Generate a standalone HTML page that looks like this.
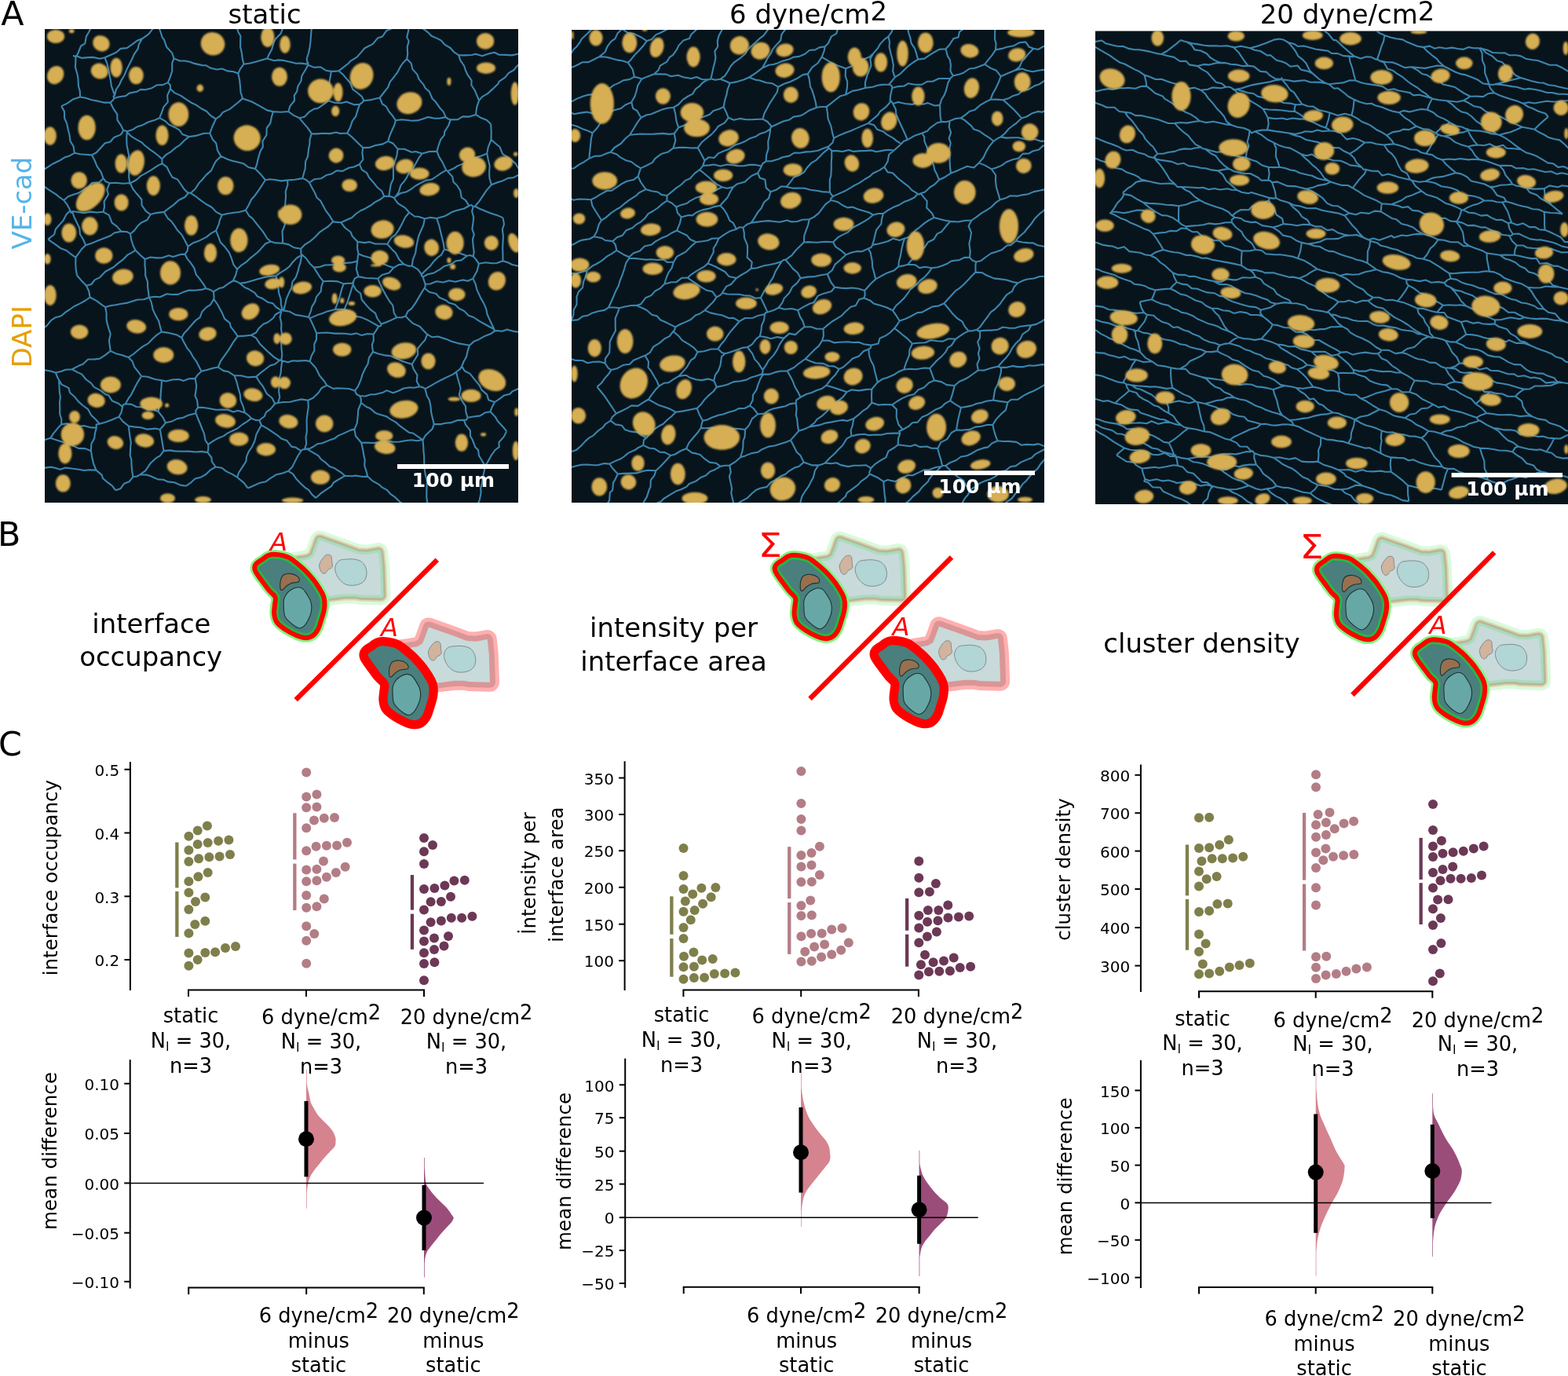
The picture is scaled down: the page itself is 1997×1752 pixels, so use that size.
<!DOCTYPE html>
<html><head><meta charset="utf-8"><title>Figure</title>
<style>
html,body{margin:0;padding:0;background:#fff;}
body{width:1997px;height:1752px;overflow:hidden;}
svg{display:block;font-family:'DejaVu Sans', 'Liberation Sans', sans-serif;}
</style></head><body>
<svg width="1997" height="1752" viewBox="0 0 1997 1752">
<rect width="1997" height="1752" fill="#fff"/>
<text x="1.2" y="31.9" font-size="42.8" text-anchor="start" fill="#000" >A</text>
<text x="337.0" y="29.7" font-size="33.9" text-anchor="middle" fill="#000" >static</text>
<text x="1029.5" y="29.7" font-size="33.9" text-anchor="middle">6 dyne/cm<tspan dy="-3.7">2</tspan></text>
<text x="1716" y="29.7" font-size="33.9" text-anchor="middle">20 dyne/cm<tspan dy="-3.7">2</tspan></text>
<text transform="translate(39.5,258.5) rotate(-90)" font-size="33.9" text-anchor="middle" fill="#56B4E9" >VE-cad</text>
<text transform="translate(39.5,428.6) rotate(-90)" font-size="33.9" text-anchor="middle" fill="#E69F00" >DAPI</text>
<defs><filter id="soft" x="-20%" y="-20%" width="140%" height="140%"><feGaussianBlur stdDeviation="0.9"/></filter><filter id="softl" x="-5%" y="-5%" width="110%" height="110%"><feGaussianBlur stdDeviation="0.6"/></filter></defs>
<clipPath id="clipA0"><rect x="57" y="37" width="603" height="603"/></clipPath>
<rect x="57" y="37" width="603" height="603" fill="#08141b"/>
<g clip-path="url(#clipA0)">
<path d="M310.5,81.7 L306.1,87.6 L303.3,93.5 M303.3,93.5 L297.4,91.3 L289.6,90.4 L282.9,87.5 L276.1,88.5 L267.7,86.4 L262.5,83.3 L257.6,83.1 L247.5,80.9 L242.5,79.0 L235.8,77.5 L228.9,77.5 L221.5,74.4 M310.5,81.7 L308.8,75.0 L308.0,67.9 L306.2,60.3 L306.1,54.8 L306.4,45.7 L303.4,40.7 L301.2,32.7 L302.0,27.4 L301.8,18.9 L299.7,12.1 L300.5,5.0 L297.6,-1.2 L296.8,-8.7 L294.7,-15.4 L294.3,-21.2 L294.4,-29.3 L293.4,-36.6 L292.7,-43.2 L291.2,-51.4 L289.9,-58.7 L286.5,-64.3 L286.5,-70.8 L288.6,-78.7 L284.7,-84.6 L284.8,-91.9 L283.0,-98.0 L282.7,-106.6 L281.1,-112.5 L279.0,-119.2 L278.2,-125.5 L278.2,-133.3 L276.4,-140.4 L273.9,-148.4 L275.2,-156.3 L274.6,-162.9 L273.5,-168.9 L272.5,-174.9 L269.1,-180.7 L271.0,-188.9 L268.3,-196.0 L266.5,-201.6 L265.9,-209.7 L264.6,-217.2 L263.1,-222.3 L263.1,-229.5 L262.3,-238.1 L260.9,-244.9 L260.2,-251.7 L258.8,-259.6 L257.2,-263.5 L256.3,-273.2 L256.3,-277.6 L253.5,-286.2 L253.2,-294.7 L253.5,-299.9 L251.8,-307.5 L251.2,-314.3 L249.5,-321.8 L247.4,-326.3 L247.1,-334.3 L246.5,-341.9 L245.0,-347.8 L244.1,-355.5 L243.4,-361.1 L243.0,-368.8 L240.7,-377.5 L241.2,-382.1 L239.0,-389.5 L238.9,-396.1 L238.0,-404.4 L237.5,-412.1 L235.8,-417.3 L233.9,-424.7 M200.8,-128.3 L201.6,-119.1 L202.2,-114.8 L199.0,-105.5 L199.7,-99.1 L201.5,-93.4 L198.5,-84.2 L200.6,-77.4 L200.6,-70.7 L199.0,-62.7 L199.5,-56.9 L200.9,-48.0 L200.8,-41.6 L199.7,-34.3 L199.5,-25.8 L199.5,-18.4 L200.6,-9.4 L198.9,-3.2 L200.1,3.2 L198.7,10.1 L200.9,17.7 L200.2,24.8 L200.1,32.4 M221.5,74.4 L219.1,67.4 L212.1,59.7 L208.8,50.2 L206.7,47.8 L203.7,38.3 L200.1,32.4 M216.9,113.0 L222.5,118.4 L230.0,121.6 L236.2,125.9 L243.5,130.7 L249.4,133.4 L256.1,138.0 L263.1,141.7 L268.3,147.2 L274.9,151.5 M309.0,125.4 L302.0,131.5 L299.1,133.7 L292.7,138.9 L283.7,143.1 L280.5,147.3 L274.9,151.5 M309.0,125.4 L306.5,117.2 L306.0,110.7 L305.1,101.5 L303.3,93.5 M216.9,113.0 L216.9,108.5 L213.9,105.1 M221.5,74.4 L219.2,80.3 L219.2,90.7 L216.7,98.1 L213.9,105.1 M640.4,332.2 L640.5,324.5 L640.1,316.3 L640.4,310.1 L640.9,300.6 L639.8,292.2 L642.0,285.4 L640.4,277.1 M640.4,332.2 L647.0,334.3 L652.4,337.0 L661.0,339.1 L666.4,341.7 L673.3,342.7 L679.6,345.9 L687.3,348.4 L693.5,353.1 L699.2,353.4 L706.3,356.4 L711.7,359.3 L721.2,361.0 L725.6,362.7 L732.7,364.9 L737.8,369.9 L744.6,372.1 L753.6,373.7 L759.2,377.8 L765.0,377.7 L770.4,380.7 L779.8,384.1 L784.0,384.7 L791.0,388.3 L797.9,390.6 L804.9,392.5 L811.2,395.4 L817.7,398.2 L826.2,400.7 L831.0,400.8 L837.9,403.0 L842.6,408.2 L851.3,409.6 L855.5,411.8 L863.8,414.6 M267.3,169.6 L270.4,161.2 L274.9,151.5 M309.0,125.4 L317.7,128.4 L321.1,129.8 L328.3,133.6 L333.7,136.6 L340.1,140.4 L347.8,142.1 M281.4,198.9 L289.7,202.7 L295.5,204.8 L303.1,206.5 L310.2,208.3 L316.4,213.0 L325.1,214.9 M267.3,169.6 L270.6,177.2 L275.3,182.5 L277.1,191.8 L281.4,198.9 M347.8,142.1 L345.9,149.0 L344.3,156.8 L339.7,163.0 L339.5,171.7 L334.5,179.8 L334.8,187.1 L331.5,192.8 L328.5,202.9 L327.2,209.2 L325.1,214.9 M360.1,309.7 L360.0,302.6 L359.5,294.7 L362.7,286.5 L363.3,280.8 L361.8,272.7 L362.9,265.9 L363.4,257.8 L364.1,250.3 L363.7,244.0 L366.4,235.2 L366.1,229.4 M360.1,309.7 L367.8,311.4 L374.5,315.3 L383.2,316.8 M424.3,282.1 L417.9,288.5 L411.8,292.4 L406.5,296.2 L401.4,301.7 L395.6,306.8 L388.0,311.7 L383.2,316.8 M394.0,232.5 L397.8,239.7 L400.7,244.9 L403.6,251.8 L408.1,255.5 L412.9,264.6 L415.2,268.6 L419.8,274.7 L424.3,282.1 M394.0,232.5 L390.0,229.0 L385.3,227.1 M385.3,227.1 L375.0,228.8 L366.1,229.4 M312.9,267.7 L316.4,261.8 L320.3,253.7 L323.6,250.3 L329.3,242.3 L333.7,235.8 L337.9,229.2 M344.9,307.5 L340.4,303.7 L334.7,294.6 L330.2,289.1 L327.4,285.6 L321.1,277.7 L317.2,274.8 L312.9,267.7 M344.9,307.5 L349.6,309.1 L360.1,309.7 M366.1,229.4 L358.0,230.4 L350.9,229.0 L343.5,228.3 L337.9,229.2 M410.5,-59.3 L411.0,-51.4 L408.2,-46.0 L405.8,-38.5 L406.7,-31.1 L405.7,-25.1 L404.8,-17.0 L405.3,-8.1 L402.9,-3.6 L402.0,3.6 L400.4,11.2 L399.2,18.9 L399.2,25.6 L398.2,31.6 L396.5,39.2 L395.9,46.7 L395.5,52.2 L394.7,59.2 L393.1,67.3 L390.7,74.8 L391.8,81.7 M410.5,-59.3 L407.3,-53.0 L403.4,-46.9 L399.5,-40.4 L396.5,-33.7 L392.5,-27.2 L390.5,-21.2 L386.6,-14.1 L382.0,-7.8 L380.6,-1.6 L377.3,3.8 L373.3,11.5 L370.7,17.4 L365.4,24.1 L364.7,31.0 L360.4,34.8 L357.8,42.5 L351.0,49.4 L348.6,54.1 L346.1,63.1 L343.1,68.5 L340.1,74.6 M340.1,74.6 L349.2,77.2 L354.7,76.4 L361.0,76.9 L370.1,79.0 L377.1,80.7 L383.6,80.6 L391.8,81.7 M310.5,81.7 L318.6,80.5 L326.4,78.5 L332.4,76.7 L340.1,74.6 M394.0,232.5 L400.1,228.3 L408.8,227.3 L415.6,223.1 L422.0,221.6 L428.6,217.3 L436.3,217.9 L444.1,213.8 L450.8,212.5 L457.9,209.2 M434.3,283.3 L426.6,282.6 L424.3,282.1 M434.3,283.3 L441.0,280.3 L448.3,277.0 L453.0,272.5 L459.6,268.0 L464.9,265.7 L473.0,261.0 L477.1,257.6 L484.6,253.7 L489.3,250.0 M489.3,250.0 L486.3,243.2 L480.2,238.2 L476.7,233.6 L469.9,225.8 L467.2,220.2 L460.9,216.1 L457.9,209.2 M602.4,354.6 L605.6,361.6 L607.3,368.6 L610.3,375.1 L612.3,379.6 L616.2,386.3 L619.3,393.7 L620.5,400.0 L623.7,407.3 L626.2,412.5 L629.5,419.4 M602.4,354.6 L596.0,357.7 L589.2,356.4 L579.8,358.8 L571.9,357.2 L564.5,359.5 L556.0,358.3 L547.8,361.5 L541.6,361.8 M629.5,419.4 L622.4,415.5 L617.0,412.5 L610.1,408.6 L603.2,404.0 L596.7,401.7 L591.4,396.1 L584.7,392.8 L579.4,387.7 L571.3,385.2 L568.5,382.7 L559.6,378.7 L555.4,374.0 L546.6,371.7 L540.6,366.8 M541.6,361.8 L541.6,364.9 L540.6,366.8 M630.6,420.9 L629.6,422.1 L629.5,419.4 M630.6,420.9 L639.6,421.8 L645.8,419.4 L653.0,421.6 L660.0,422.7 L666.5,420.6 L674.4,421.9 L681.0,422.3 L688.2,420.9 L697.0,423.7 L704.2,425.7 L710.3,422.2 L716.6,423.1 L724.3,424.6 L730.0,425.2 L737.7,425.4 L746.4,425.1 L753.7,425.2 L760.4,424.3 L768.2,426.3 M640.4,332.2 L632.7,335.0 L627.1,335.3 L618.2,334.2 L609.9,335.8 M609.9,335.8 L607.6,345.1 L602.4,354.6 M541.6,361.8 L540.0,356.9 L538.5,352.6 M609.9,335.8 L606.4,330.6 L602.7,326.4 M602.7,326.4 L598.7,325.0 L594.9,325.7 M594.9,325.7 L587.4,331.4 L580.7,332.2 L574.3,336.5 L565.6,339.0 L560.5,342.8 L552.7,347.4 L544.9,349.3 L538.5,352.6 M200.8,-128.3 L197.1,-120.5 L192.4,-116.5 L190.6,-108.9 L188.5,-101.9 L183.1,-96.3 L181.2,-91.5 L178.8,-85.5 L172.9,-78.7 L170.3,-72.8 L169.0,-65.6 L166.9,-59.8 L160.6,-54.1 L158.0,-48.4 L156.1,-41.6 L150.5,-34.0 L149.1,-28.1 L146.1,-21.6 L142.8,-14.7 L140.0,-9.3 L136.8,-4.9 L133.0,2.5 L130.1,7.7 L128.3,15.4 L122.3,19.8 L120.0,27.6 L116.3,34.1 L113.2,40.8 L109.9,46.4 L108.3,55.3 L103.1,58.5 L100.1,66.0 L97.7,71.4 M92.9,71.1 L93.5,71.1 L96.4,72.2 M97.7,71.4 L97.0,70.8 L96.4,72.2 M96.4,72.2 L96.3,79.0 L95.9,85.4 L98.4,94.3 L99.4,99.7 L100.0,109.7 L101.8,116.1 L102.0,123.5 M78.1,135.1 L85.2,131.9 L93.5,126.2 L102.0,123.5 M140.5,130.5 L132.0,130.6 L125.3,128.9 L116.9,127.3 L109.1,124.8 L102.0,123.5 M157.2,166.2 L153.9,171.4 L145.2,175.0 L140.2,180.8 L133.7,182.3 L128.1,188.5 L122.7,194.3 L116.9,197.4 M157.2,166.2 L154.2,159.9 L149.4,152.8 L149.3,145.6 L144.1,137.8 L140.5,130.5 M78.1,135.1 L81.9,141.6 L82.1,150.5 L85.1,157.1 L86.7,164.7 L88.6,172.3 L89.5,179.8 L93.6,186.4 L94.8,194.8 M94.8,194.8 L101.9,196.3 L108.4,196.7 L116.9,197.4 M216.9,113.0 L213.1,121.6 L213.8,129.9 L208.5,136.1 L206.1,142.9 L203.2,150.2 M267.3,169.6 L259.9,169.8 L250.6,172.6 L240.6,174.1 M203.2,150.2 L210.8,154.4 L215.0,158.5 L222.7,162.2 L228.6,165.6 L232.3,171.0 L240.6,174.1 M145.5,124.9 L143.7,127.8 L140.5,130.5 M213.9,105.1 L207.1,108.1 L199.8,108.3 L193.2,112.2 L185.1,114.2 L179.1,113.9 L174.1,116.8 L164.7,118.6 L160.1,122.1 L151.9,123.3 L145.5,124.9 M157.2,166.2 L159.9,166.2 L161.1,167.6 M203.2,150.2 L196.5,153.1 L188.6,155.5 L182.2,158.9 L174.6,161.4 L169.2,164.9 L161.1,167.6 M184.6,329.9 L179.4,325.5 L172.6,318.7 M110.0,363.8 L116.3,362.0 L120.6,356.4 L126.8,353.4 L134.5,345.5 L137.5,344.0 L144.9,340.0 L149.8,335.6 L156.2,330.9 L162.2,324.7 L167.5,321.8 L172.6,318.7 M110.0,363.8 L113.3,371.0 L114.6,378.5 M184.6,329.9 L184.4,337.2 L185.1,342.9 L185.2,350.8 L188.0,358.8 L188.1,365.8 L189.0,371.6 L189.7,378.7 M189.7,378.7 L183.3,381.3 L175.5,381.5 L168.7,383.4 L161.0,385.9 L154.6,386.8 L147.2,388.3 L141.4,389.0 L134.1,391.0 M114.6,378.5 L123.1,383.1 L129.4,387.8 L134.1,391.0 M98.1,350.7 L103.4,356.9 L110.0,363.8 M114.6,378.5 L109.0,382.5 L102.6,386.1 L94.6,390.0 L88.2,394.5 L83.6,397.4 L78.0,402.3 L70.8,404.2 L65.1,407.8 L59.1,415.3 L52.9,418.3 L46.6,421.9 L41.5,425.4 L36.4,431.1 L29.9,433.4 L22.7,437.8 L17.4,441.9 L11.5,446.8 L3.5,448.6 L-0.6,452.8 M147.0,624.2 L143.0,618.7 L136.4,613.7 L130.9,609.0 L129.8,604.9 L122.5,598.6 M-17.0,590.9 L-10.8,590.5 L-2.7,592.7 L4.2,591.5 L13.3,593.4 L19.3,591.8 L25.5,592.7 L32.2,594.5 L41.1,594.7 L50.9,595.8 L55.2,595.9 L64.9,594.6 L70.1,595.7 L76.8,597.7 L83.4,595.5 L92.8,596.8 L100.6,597.7 L107.6,599.0 L113.0,598.2 L122.5,598.6 M-17.0,590.9 L-10.9,588.3 L-3.2,584.5 L2.7,583.4 L10.4,579.2 L18.9,579.4 L22.1,574.7 L32.9,572.4 L37.4,568.6 L43.4,565.9 L50.1,564.1 L57.0,560.1 L64.2,557.8 M122.5,598.6 L119.1,590.5 L117.2,582.2 L115.9,574.2 M64.2,557.8 L72.6,560.5 L79.5,562.8 L86.4,564.7 L93.5,567.9 L100.1,570.9 L108.6,571.1 L115.9,574.2 M402.3,634.1 L408.0,628.7 L414.8,623.9 L422.0,619.2 L424.7,614.5 L431.2,610.5 L439.3,605.8 M468.1,606.6 L462.0,607.0 L452.4,605.5 L448.3,606.3 L439.3,605.8 M468.1,606.6 L474.1,612.1 L482.6,616.8 L486.3,620.3 L492.8,623.8 L497.2,628.9 L503.3,633.2 L510.4,640.1 L515.5,642.0 L522.2,647.0 L529.5,650.6 L533.6,653.9 L539.6,660.5 L546.5,664.4 M590.2,743.3 L586.6,735.7 L582.5,730.2 L579.7,723.0 L575.4,715.2 L570.8,712.0 L566.1,703.5 L564.9,696.9 L560.3,690.6 L557.4,684.0 L551.9,677.4 L549.3,670.4 L546.5,664.4 M402.3,634.1 L397.5,629.8 L393.2,623.8 L388.2,620.6 L383.4,615.9 L377.1,609.4 L373.0,603.3 L367.2,599.8 M367.2,599.8 L360.0,602.4 L352.1,604.2 L344.2,609.1 L338.6,613.2 L330.3,615.1 L322.2,618.8 L315.7,621.5 M434.3,283.3 L439.4,290.0 L446.6,295.5 L448.7,300.8 L455.4,307.8 M495.3,250.2 L497.1,249.9 L501.8,252.0 M521.2,270.5 L516.0,264.6 L506.7,258.9 L501.8,252.0 M489.3,250.0 L493.6,249.8 L495.3,250.2 M521.2,270.5 L515.9,276.9 L512.2,284.6 L508.4,291.8 L503.8,298.7 L498.6,302.5 L493.3,310.7 M493.3,310.7 L485.6,310.5 L477.8,310.5 L470.2,308.0 L464.4,309.1 L455.4,307.8 M524.6,463.7 L528.1,458.3 L532.2,451.4 L531.9,444.0 L537.2,437.4 L541.1,433.3 L544.1,425.7 M524.6,463.7 L526.6,469.7 L531.5,477.6 L530.7,485.4 L534.4,492.3 M534.4,492.3 L538.4,493.1 L541.5,495.2 M541.5,495.2 L548.9,491.1 L553.8,488.2 L562.1,483.7 L568.3,480.6 L577.4,476.4 L581.1,473.5 M588.2,466.4 L586.0,469.9 L581.1,473.5 M588.2,466.4 L590.5,460.5 L594.0,454.3 L595.9,445.8 L598.0,439.7 M598.0,439.7 L589.8,438.2 L583.2,437.1 L575.3,434.8 L568.7,431.9 L558.0,428.5 L550.4,429.3 L544.1,425.7 M452.0,497.5 L454.1,502.0 L458.0,504.0 M452.0,497.5 L455.9,492.2 L459.6,483.3 L461.7,476.4 L465.3,468.7 L468.4,463.7 L470.0,455.3 L475.0,447.9 M475.0,447.9 L481.2,450.3 L490.0,452.4 L497.0,453.1 L504.4,456.3 L511.1,459.4 L514.9,460.7 L524.6,463.7 M458.0,504.0 L465.2,504.5 L472.2,502.2 L477.4,502.3 L487.6,499.8 L492.5,497.1 L500.5,500.3 L507.3,497.8 L514.1,494.5 L521.8,493.2 L527.2,493.7 L534.4,492.3 M630.6,420.9 L625.0,425.1 L618.0,427.7 L609.8,432.2 L603.8,434.6 L598.0,439.7 M768.2,426.3 L760.9,429.5 L754.3,432.4 L748.5,437.6 L744.6,443.2 L736.7,444.2 L733.1,448.4 L725.8,454.1 L719.8,454.9 L712.8,460.2 L708.4,462.2 L701.1,467.8 L696.7,470.4 L690.7,475.3 L682.3,478.2 L678.5,481.6 L669.9,485.6 L666.8,491.2 L657.8,496.0 L652.9,498.1 L649.2,501.8 L642.1,503.4 L636.6,507.6 L630.0,512.0 M630.0,512.0 L622.2,509.2 L620.2,502.4 L613.4,496.4 L610.7,490.8 L603.8,482.3 L598.4,475.6 L591.7,472.2 L588.2,466.4 M516.5,402.6 L519.5,396.4 L524.4,392.6 L529.9,384.6 L533.8,377.9 L536.3,373.6 L540.6,366.8 M516.5,402.6 L520.8,406.9 L526.2,411.9 L534.7,415.7 L538.8,420.2 L544.1,425.7 M556.2,278.0 L547.4,276.9 L541.0,278.4 M556.2,278.0 L559.6,288.3 L560.6,293.1 L562.7,301.4 L564.8,310.0 L565.9,317.6 M541.0,278.4 L539.3,286.5 L536.4,293.0 L533.2,300.5 L531.4,308.4 L529.9,316.2 L529.2,322.2 L525.9,330.2 L524.7,338.7 M565.9,317.6 L561.9,324.7 L557.2,328.0 L553.0,332.2 L548.2,338.4 L539.1,347.0 L537.0,349.7 M524.7,338.7 L532.4,343.1 L537.0,349.7 M493.3,310.7 L498.7,316.9 L503.9,322.0 L508.3,330.3 L514.2,336.2 M514.2,336.2 L519.7,338.6 L524.7,338.7 M521.2,270.5 L527.9,275.5 L533.7,276.0 L541.0,278.4 M594.9,325.7 L585.7,322.5 L581.7,320.8 L573.7,319.6 L565.9,317.6 M538.5,352.6 L536.7,350.8 L537.0,349.7 M359.8,395.5 L357.9,387.6 L357.7,381.4 L355.0,372.5 L354.5,365.9 L353.8,361.3 L351.4,351.3 M359.8,395.5 L361.2,395.4 L361.0,395.4 M361.0,395.4 L363.2,387.5 L364.8,380.3 L367.6,373.8 L371.1,366.7 L372.4,358.9 L376.6,353.5 L379.1,346.7 L381.1,338.6 L382.7,334.5 L384.3,324.7 M351.4,351.3 L355.7,348.1 L364.1,342.9 L368.6,339.3 L372.6,334.0 L377.9,328.5 L384.3,324.7 M675.1,68.4 L669.0,73.2 L664.4,78.8 L657.4,85.3 L654.6,89.0 L647.6,93.1 L643.2,98.6 L635.5,103.9 L634.8,106.2 L627.4,113.4 L620.8,119.4 L614.3,123.1 L610.1,127.9 M675.1,68.4 L669.0,68.3 L659.5,68.8 L651.9,70.4 L643.9,69.9 L635.9,69.8 L629.5,66.7 L622.1,68.4 L614.0,71.2 L605.8,68.7 L600.8,70.0 L593.4,70.4 L584.2,70.2 M584.2,70.2 L586.2,76.6 L591.2,84.0 L592.9,89.5 L595.6,95.3 L600.6,102.3 L600.3,108.2 L605.1,115.8 L607.1,120.8 L610.1,127.9 M489.7,-397.4 L490.3,-392.1 L489.4,-382.5 L490.8,-375.9 L493.0,-368.6 L492.3,-360.1 L493.4,-355.6 L494.0,-347.8 L492.9,-341.1 L494.1,-336.2 L494.6,-327.4 L494.8,-321.8 L495.4,-313.1 L496.4,-307.2 L497.4,-300.2 L497.0,-290.6 L497.1,-285.5 L499.4,-278.3 L498.5,-270.6 L500.4,-266.1 L498.9,-257.9 L499.2,-250.7 L499.9,-242.5 L500.4,-235.6 L502.2,-229.5 L502.4,-220.0 L503.1,-215.3 L503.2,-208.6 L504.1,-199.7 L503.5,-193.8 L505.9,-187.0 L505.5,-180.6 L505.0,-173.0 L508.5,-165.9 L506.3,-159.0 L507.1,-150.7 L508.0,-142.3 L508.5,-135.9 L509.1,-129.7 L507.9,-123.4 L509.7,-116.5 L508.2,-108.3 L510.4,-102.6 L511.1,-95.4 L512.2,-89.4 L511.4,-80.8 L513.0,-74.5 L512.8,-67.9 L513.8,-58.8 L513.3,-51.5 L515.7,-46.4 L516.1,-40.4 L514.1,-33.2 L515.9,-25.2 L516.3,-17.7 L515.2,-10.3 L516.4,-4.5 L517.9,2.1 L517.5,9.3 L519.3,17.3 M584.2,70.2 L578.6,66.7 L573.5,61.0 L566.5,56.9 L562.0,51.7 L557.2,49.1 L549.5,45.8 L545.6,41.7 L540.0,37.4 L534.5,34.4 L527.5,30.4 L522.0,24.9 M519.3,17.3 L520.8,21.2 L522.0,24.9 M610.1,127.9 L607.2,136.6 L606.0,145.9 M625.2,158.0 L619.6,152.7 L613.1,150.3 L606.0,145.9 M391.8,81.7 L392.4,80.0 L392.4,82.7 M347.8,142.1 L357.4,142.7 L367.3,142.0 M392.4,82.7 L388.8,89.3 L384.4,96.5 L383.4,103.3 L379.4,109.7 L378.2,116.4 L374.7,121.6 L375.1,128.0 L369.4,135.1 L367.3,142.0 M431.3,90.3 L435.8,86.9 L444.0,80.5 L446.1,77.8 L454.4,72.9 L460.0,66.6 L464.2,61.5 L468.4,59.3 L474.7,56.1 L480.9,48.6 L487.1,46.5 L492.3,38.9 L497.7,36.9 L502.3,30.2 L509.4,26.6 L512.7,21.5 L519.3,17.3 M431.3,90.3 L425.9,90.9 L421.9,90.9 M392.4,82.7 L399.9,85.9 L407.9,85.2 L415.0,89.7 L421.9,90.9 M518.2,75.0 L519.2,68.8 L518.7,59.7 L520.7,52.4 L518.2,47.4 L520.2,38.9 L520.0,30.7 L522.0,24.9 M518.2,75.0 L512.7,80.8 L509.9,85.1 L506.0,92.4 L499.9,100.4 L496.6,104.4 L494.2,111.2 L488.3,118.5 L483.7,124.5 M431.3,90.3 L437.3,95.3 L441.5,100.4 L446.2,105.8 L449.3,113.9 L454.5,117.5 L461.0,123.1 L463.4,128.2 M483.7,124.5 L472.7,127.1 L463.4,128.2 M181.0,49.3 L176.6,57.0 L175.8,61.9 L170.8,69.2 L168.3,74.7 L165.6,80.2 L161.4,88.4 L158.4,95.7 L154.3,102.6 L152.1,107.9 L147.8,114.0 L146.0,121.7 M181.0,49.3 L174.6,51.8 L167.5,57.2 L161.7,61.1 L153.6,61.9 L148.1,66.7 L141.4,69.8 L133.5,73.3 M133.5,73.3 L136.5,81.0 L137.8,87.6 L139.2,94.3 L140.8,101.9 L141.9,109.6 L144.1,115.8 L146.0,121.7 M200.1,32.4 L193.6,37.8 L189.4,43.4 L181.0,49.3 M145.5,124.9 L144.5,122.6 L146.0,121.7 M97.7,71.4 L104.5,73.9 L112.2,73.1 L118.2,72.9 L127.0,74.7 L133.5,73.3 M94.8,194.8 L87.6,198.8 L82.1,200.6 L75.3,204.8 L66.5,209.0 L62.9,211.4 L54.6,216.8 L49.7,219.7 L44.4,221.6 L36.5,225.5 M161.1,167.6 L162.2,167.7 L161.7,168.2 M240.6,174.1 L234.9,178.7 L229.2,184.6 L223.6,188.1 L217.5,193.3 L211.2,197.2 L206.4,202.4 M206.4,202.4 L200.8,197.5 L195.1,193.2 L191.6,190.9 L184.5,185.3 L180.6,181.4 L172.8,177.1 L167.6,173.9 L161.7,168.2 M206.4,202.4 L206.5,207.5 L206.7,208.3 M161.7,168.2 L161.2,176.1 L161.5,184.5 L162.5,189.8 L164.2,198.3 L162.5,203.9 L162.7,211.6 L164.3,218.3 L164.2,225.4 L165.2,233.0 M165.2,233.0 L164.8,233.6 L165.9,233.2 M206.7,208.3 L201.4,210.6 L193.0,216.2 L186.8,219.8 L179.4,223.9 L173.4,229.2 L165.9,233.2 M189.7,378.7 L189.8,379.1 L190.1,378.8 M184.6,329.9 L191.6,327.5 L199.8,328.4 L206.3,328.2 L215.0,325.3 L220.3,327.0 L229.8,323.9 L235.7,323.7 M235.7,323.7 L238.4,329.3 L242.8,334.6 L247.2,341.1 L249.8,349.6 L254.1,354.8 L259.2,361.9 L262.4,367.3 M190.1,378.8 L197.0,377.7 L203.7,378.3 L212.4,374.3 L219.0,375.0 L226.7,374.9 L234.9,371.4 L240.6,369.5 L248.2,369.8 L257.9,368.6 L262.4,367.3 M351.4,351.3 L341.6,352.2 L336.1,353.2 L327.5,355.6 L321.0,357.4 L312.1,359.9 L305.2,360.7 M359.8,395.5 L358.8,395.0 L358.9,395.6 M358.9,395.6 L351.5,391.0 L347.6,386.3 L340.9,384.7 L334.7,380.3 L328.0,377.5 L324.2,372.6 L315.4,367.4 L312.2,366.3 L305.2,360.7 M384.6,324.3 L384.7,325.8 L384.3,324.7 M302.1,342.8 L307.6,337.6 L314.3,333.1 L318.9,328.6 L327.8,321.5 L331.3,317.9 L338.1,310.2 L344.9,307.5 M302.1,342.8 L300.2,350.3 L296.8,357.5 M383.2,316.8 L383.4,322.7 L384.6,324.3 M305.2,360.7 L301.2,358.4 L296.8,357.5 M190.1,378.8 L192.8,385.1 L194.6,393.8 L197.4,400.2 L202.2,408.8 L203.9,415.7 L205.7,422.5 M271.9,371.3 L272.6,377.6 L272.3,380.9 M272.3,380.9 L267.8,388.2 L262.3,391.6 L257.3,397.0 L254.7,404.2 L248.9,408.2 L244.7,413.0 L239.3,419.2 L234.2,424.7 L231.4,430.1 M262.4,367.3 L267.2,368.7 L271.9,371.3 M205.7,422.5 L213.3,423.6 L224.7,426.2 L231.4,430.1 M538.2,560.0 L533.7,556.9 L525.8,551.5 L521.2,550.8 L513.2,545.2 L509.2,542.2 L504.1,537.6 L496.6,533.3 L492.1,530.2 L481.8,527.2 L477.9,525.6 L471.6,520.0 L466.5,518.0 L459.9,512.8 M538.2,560.0 L531.1,561.3 L524.5,560.3 L517.0,561.0 L508.9,562.5 L501.4,562.8 L496.6,561.9 L487.8,562.1 L481.9,563.4 L474.7,564.0 L466.7,563.6 L460.2,563.7 M459.9,512.8 L456.2,522.0 L455.8,529.3 L454.7,538.8 L451.4,546.6 M460.2,563.7 L453.0,555.2 L451.4,546.6 M538.5,560.1 L541.8,554.5 L550.5,546.3 L552.7,540.1 M552.7,540.1 L550.9,532.4 L549.3,525.8 L548.4,516.7 L546.8,509.3 L543.7,503.9 L541.5,495.2 M458.0,504.0 L459.7,507.5 L459.9,512.8 M538.5,560.1 L537.7,559.6 L538.2,560.0 M468.1,606.6 L466.7,600.6 L464.2,592.7 L464.7,585.7 L463.3,579.5 L462.0,571.7 L460.2,563.7 M546.5,664.4 L546.5,658.7 L543.5,650.8 L544.5,641.8 L543.3,632.7 L543.3,626.5 L543.6,618.2 L544.0,612.5 L541.7,604.1 L540.6,596.2 L540.3,589.9 L540.1,581.0 L539.4,574.1 L539.3,569.4 L538.5,560.1 M439.3,605.8 L434.1,601.3 L425.9,596.1 L419.9,594.0 L414.9,589.2 L409.2,585.0 L405.3,580.1 L397.6,575.7 L392.1,572.4 M392.1,572.4 L399.5,568.5 L404.1,565.3 L410.4,564.3 L421.0,559.9 L426.0,558.3 L430.5,554.9 L438.0,551.6 L446.7,547.6 L451.4,546.6 M645.2,549.1 L640.4,543.2 L634.3,536.8 L630.6,530.6 L624.6,524.3 M645.2,549.1 L641.7,556.1 L635.4,563.2 L635.8,569.1 L630.6,573.0 L625.6,579.9 L621.2,588.0 L617.9,593.4 M617.9,593.4 L614.1,586.7 L610.0,580.2 L609.0,573.1 L605.2,569.2 L601.7,559.8 L599.0,555.5 L598.9,548.2 L593.1,540.9 L590.8,534.8 M624.6,524.3 L618.4,525.2 L611.5,529.4 L602.8,530.5 L595.5,531.7 M595.5,531.7 L593.9,534.8 L590.8,534.8 M630.0,512.0 L626.2,519.3 L624.6,524.3 M590.2,743.3 L591.1,735.4 L592.9,728.8 L593.1,720.3 L594.5,716.2 L598.7,708.2 L599.3,699.9 L599.3,693.6 L599.7,685.2 L602.2,678.7 L602.3,672.3 L604.4,665.8 L606.0,657.3 L607.5,650.3 L608.0,642.9 L610.7,636.8 L612.6,627.4 L612.2,621.5 L614.1,614.3 L614.8,608.4 L616.8,599.3 L617.9,593.4 M552.7,540.1 L561.7,540.1 L567.4,538.8 L574.9,538.1 L583.0,535.1 L590.8,534.8 M581.1,473.5 L582.6,480.0 L584.9,488.2 L586.6,494.7 L584.7,502.7 L588.2,510.1 L593.0,517.4 L593.3,524.2 L595.5,531.7 M403.1,424.2 L410.2,423.8 L417.0,423.5 L426.1,424.6 L433.1,424.5 L439.4,424.7 L447.1,425.8 L454.1,424.4 L460.3,426.9 L468.1,425.0 L475.6,425.5 M403.1,424.2 L402.9,432.5 L400.2,438.2 L400.4,446.2 L396.8,452.8 L394.6,460.1 M475.0,447.9 L473.8,439.1 L475.8,433.3 L475.6,425.5 M452.0,497.5 L444.6,495.0 L436.3,494.5 L429.1,494.3 L424.6,494.9 L416.3,490.6 M394.6,460.1 L399.8,465.7 L402.4,468.9 L407.0,478.3 L412.9,485.2 L416.3,490.6 M272.3,380.9 L276.7,387.0 L280.6,394.2 L282.7,398.1 L286.2,406.1 L292.7,411.1 L294.0,416.4 L298.8,422.3 L302.8,428.1 M231.4,430.1 L234.8,436.7 L238.2,443.1 L242.4,448.1 L245.6,454.0 L250.2,460.3 L253.2,466.3 L256.5,472.8 M302.8,428.1 L297.2,435.5 L293.4,441.9 L290.7,446.1 L285.2,453.8 L281.1,459.7 L277.8,467.5 M256.5,472.8 L264.4,470.8 L271.1,468.8 L277.8,467.5 M384.6,324.3 L389.9,329.0 L394.7,335.7 L399.8,340.6 M392.9,403.7 L395.7,396.7 L397.2,390.8 L401.3,383.9 L402.9,378.2 L408.8,370.9 L409.3,365.1 L411.7,358.2 M392.9,403.7 L382.4,401.7 L376.3,400.9 L368.7,396.7 L361.0,395.4 M399.8,340.6 L403.5,346.6 L407.1,352.3 L411.7,358.2 M481.3,354.8 L486.6,349.9 L495.4,347.5 L501.4,340.9 M481.3,354.8 L473.7,354.2 L465.9,354.0 L456.5,352.1 M501.4,340.9 L495.6,339.1 L486.3,335.3 L479.2,332.4 L471.7,328.3 L462.0,325.5 L456.6,323.2 M456.5,352.1 L453.8,342.4 L455.1,332.5 M456.6,323.2 L455.9,326.2 L455.1,332.5 M505.3,404.2 L511.6,404.3 L516.5,402.6 M505.3,404.2 L501.9,398.8 L500.3,388.9 L496.0,383.5 L492.0,376.9 L487.4,368.3 L483.9,361.1 L481.3,354.8 M514.2,336.2 L507.7,337.1 L501.4,340.9 M455.4,307.8 L455.0,316.1 L456.6,323.2 M399.8,340.6 L407.6,339.8 L413.7,337.5 L423.0,337.2 L430.8,336.9 L439.3,334.9 L447.2,334.4 L455.1,332.5 M475.6,425.5 L478.5,421.6 L482.3,415.5 M505.3,404.2 L499.2,407.1 L492.2,410.3 L485.6,412.5 M485.6,412.5 L485.0,415.0 L482.3,415.5 M625.2,158.0 L625.7,168.8 L625.5,177.8 M666.9,220.9 L661.9,216.8 L656.5,208.1 L652.7,204.9 L645.0,199.2 L640.2,196.1 L636.4,187.0 L631.2,182.8 L625.5,177.8 M569.9,218.1 L579.0,213.8 L582.0,211.6 L591.1,207.9 L596.5,205.5 L607.6,199.9 L614.3,198.0 L620.3,195.4 M569.9,218.1 L576.1,224.8 L577.5,231.7 L582.2,236.3 L586.3,242.7 L587.7,251.5 L593.1,255.1 L597.3,262.0 M597.3,262.0 L600.4,261.0 L602.7,263.1 M625.9,235.3 L623.4,226.8 L623.1,219.4 L623.7,210.9 L621.9,203.9 L620.3,195.4 M625.9,235.3 L619.6,242.4 L614.5,250.1 L610.6,255.9 L604.9,262.7 M604.9,262.7 L602.5,263.0 L602.7,263.1 M501.8,252.0 L502.1,251.8 L504.0,250.1 M504.0,250.1 L510.3,246.0 L517.8,244.2 L522.7,241.3 L529.4,236.5 L536.3,232.7 L542.1,229.9 L550.6,228.2 L555.2,225.0 L561.9,220.4 L568.3,216.7 M568.3,216.7 L570.0,217.7 L569.9,218.1 M556.2,278.0 L565.4,275.6 L568.7,274.0 L576.3,269.7 L580.6,268.3 L591.3,265.5 L597.3,262.0 M602.7,326.4 L603.7,321.0 L602.7,313.3 L602.0,304.9 L603.8,298.6 L601.4,291.6 L602.5,283.4 L603.2,276.8 L601.1,269.0 L602.7,263.1 M666.9,220.9 L661.8,221.8 L653.5,226.3 L647.0,226.9 L639.3,230.6 L633.5,232.2 L625.9,235.3 M625.5,177.8 L621.7,187.6 L620.3,195.4 M640.4,277.1 L634.4,274.6 L625.6,271.7 L619.2,269.3 L610.8,265.7 L604.9,262.7 M396.8,170.1 L391.5,162.4 L386.7,156.9 L381.3,150.3 M396.8,170.1 L403.9,170.4 L410.5,169.8 L419.9,170.1 L428.1,168.5 L433.1,169.9 L442.2,169.5 M381.3,150.3 L387.9,148.7 L394.3,142.1 L400.6,138.4 L404.5,138.2 L412.5,132.6 L418.4,128.2 M418.4,128.2 L426.9,131.0 L434.5,131.3 L441.2,129.6 L451.5,133.4 L458.1,132.8 M442.2,169.5 L445.9,162.4 L448.7,154.2 L453.2,148.2 L455.4,140.6 L458.1,132.8 M325.1,214.9 L332.6,222.6 L337.9,229.2 M385.3,227.1 L387.5,218.8 L388.7,215.0 L389.1,205.6 L391.9,199.5 L393.1,189.8 L394.4,183.1 L394.5,177.8 L396.8,170.1 M367.3,142.0 L374.0,146.9 L381.3,150.3 M457.9,209.2 L462.4,203.0 L461.4,194.3 L462.1,188.1 M462.1,188.1 L454.8,180.9 L448.3,174.6 L442.2,169.5 M421.9,90.9 L420.6,98.2 L419.5,104.4 L418.5,113.8 L419.2,121.8 L418.4,128.2 M463.4,128.2 L461.8,130.2 L458.1,132.8 M506.5,189.6 L515.0,189.7 L524.3,193.8 L529.6,193.0 L537.6,195.6 M506.5,189.6 L500.8,182.8 L494.3,179.8 M494.3,179.8 L495.9,173.9 L499.2,166.0 L502.5,158.8 L503.9,153.2 M503.9,153.2 L511.3,152.3 L517.3,152.8 L524.2,153.8 L531.7,153.4 L538.3,151.5 L545.3,149.1 L553.8,150.7 L559.4,150.7 L567.8,149.1 M567.8,149.1 L570.0,150.9 L573.8,152.4 M573.8,152.4 L571.3,159.7 L566.3,167.4 L565.8,172.1 L561.3,177.5 L558.1,186.5 L556.6,192.6 M537.6,195.6 L546.8,193.0 L556.6,192.6 M495.3,250.2 L496.2,244.2 L497.8,234.5 L500.9,227.9 L501.0,219.3 L500.8,211.2 L503.3,204.5 L505.5,197.7 L506.5,189.6 M504.0,250.1 L507.9,244.3 L510.4,235.9 L514.7,231.0 L518.3,225.6 L521.4,218.8 L526.3,213.9 L529.5,208.3 L533.6,200.7 L537.6,195.6 M462.1,188.1 L470.2,187.9 L477.5,185.2 L487.6,183.4 L494.3,179.8 M483.7,124.5 L486.9,132.3 L491.9,135.7 L495.6,142.3 L499.9,147.3 L503.9,153.2 M518.2,75.0 L523.6,80.4 L525.4,88.1 L531.3,94.6 L533.6,100.8 L539.3,107.6 L541.7,112.2 L546.8,116.6 L550.5,125.5 L554.9,129.8 L560.4,137.7 L564.6,142.1 L567.8,149.1 M606.0,145.9 L597.9,148.6 L589.3,148.4 L582.7,152.3 L573.8,152.4 M568.3,216.7 L563.3,206.1 L559.1,199.6 L556.6,192.6 M36.5,225.5 L42.8,230.4 L49.2,233.3 L55.9,237.2 L62.1,241.7 L71.2,247.4 L74.1,249.8 L81.3,255.0 M116.9,197.4 L120.1,203.2 L123.5,211.6 L128.8,219.4 L131.6,227.3 M81.3,255.0 L86.8,250.2 L92.7,248.0 L100.0,245.7 L105.8,242.2 L113.0,237.7 L117.0,232.9 L126.1,232.2 L131.6,227.3 M165.2,233.0 L156.9,233.8 L147.7,232.7 L139.5,233.1 M131.6,227.3 L134.9,231.2 L139.5,233.1 M209.0,269.9 L215.5,264.9 L221.0,260.9 L227.8,254.7 L235.4,251.0 L239.8,246.0 M209.0,269.9 L213.4,277.6 L218.7,282.3 L222.5,287.6 L225.7,292.7 L231.9,299.4 L235.7,306.7 L239.3,313.8 M239.3,313.8 L245.5,309.6 L253.9,306.4 L262.5,302.1 L268.8,297.2 L275.1,293.7 M242.8,245.9 L250.2,250.7 L255.7,255.1 L262.7,260.0 L269.8,264.0 L275.3,269.9 L282.7,273.8 M242.8,245.9 L239.6,245.3 L239.8,246.0 M275.1,293.7 L279.2,284.4 L279.5,281.1 L282.7,273.8 M191.7,273.0 L185.8,268.9 L180.5,261.2 L180.4,254.0 L174.3,246.8 L169.3,240.6 L165.9,233.2 M191.7,273.0 L199.2,271.1 L209.0,269.9 M206.7,208.3 L212.4,212.6 L215.8,219.3 L219.5,225.7 L226.0,228.4 L230.3,234.5 L234.4,240.7 L239.8,246.0 M172.6,318.7 L169.6,312.7 L167.4,305.7 L165.9,297.7 M165.9,297.7 L171.0,293.6 L175.7,287.3 L180.2,283.4 L187.5,280.0 L191.7,273.0 M235.7,323.7 L238.8,319.0 L239.3,313.8 M296.8,357.5 L290.4,361.4 L284.3,365.9 L279.1,367.1 L271.9,371.3 M302.1,342.8 L297.5,337.2 L294.7,328.5 L291.7,321.4 L286.4,314.3 L280.8,308.6 L277.7,300.2 L275.1,293.7 M312.9,267.7 L304.6,270.0 L297.8,270.8 L288.6,272.2 L282.7,273.8 M281.4,198.9 L275.1,205.1 L272.1,210.6 L269.0,217.1 L262.7,222.6 L257.1,229.2 L253.6,232.9 L248.7,240.5 L242.8,245.9 M122.9,544.6 L116.4,544.4 L106.7,542.1 L102.3,542.8 L91.6,542.2 L85.2,539.3 L78.1,540.4 M122.9,544.6 L122.6,540.5 L126.8,539.7 M126.8,539.7 L121.9,534.0 L116.2,528.8 L111.9,520.8 L105.8,516.5 L99.7,511.1 L95.6,505.8 L89.1,500.0 L87.4,493.9 L78.5,489.6 L75.0,483.7 M78.1,540.4 L78.3,533.8 L76.2,527.3 L76.2,518.0 L76.0,512.0 L76.9,505.6 L75.8,498.8 L75.5,491.7 L75.0,483.7 M115.9,574.2 L116.3,565.3 L120.2,558.1 L120.9,551.9 L122.9,544.6 M64.2,557.8 L68.3,551.6 L74.9,543.7 L78.1,540.4 M147.0,624.2 L153.5,622.2 L158.2,615.7 L164.5,613.3 L169.4,607.2 M163.8,542.5 L156.5,536.6 L151.6,530.6 M151.6,530.6 L143.1,534.2 L135.2,537.3 L126.8,539.7 M169.4,607.2 L168.3,600.1 L167.5,592.2 L167.4,585.5 L165.7,580.0 L166.1,569.9 L166.8,563.3 L165.6,556.8 L164.7,549.8 L163.8,542.5 M-0.6,452.8 L6.0,455.0 L15.8,454.9 L20.9,459.8 L27.0,460.1 L37.3,463.3 L44.4,466.4 L49.6,468.5 L57.3,471.3 L64.2,472.5 L70.9,474.5 M70.9,474.5 L73.2,480.5 L75.0,483.7 M163.5,455.1 L168.5,460.0 L171.2,467.4 L175.4,472.6 L180.1,479.0 M163.5,455.1 L154.9,452.1 L148.7,450.6 L140.7,446.9 M140.7,446.9 L133.7,452.3 L126.6,456.8 L120.7,457.4 L112.2,457.5 L105.5,463.8 L100.6,465.6 L91.7,470.3 M91.7,470.3 L99.4,474.4 L104.1,476.4 L109.4,483.0 L115.8,487.7 L119.8,492.9 L127.5,496.9 L133.7,501.7 L138.5,503.6 L143.0,510.6 L150.9,513.7 L156.1,518.0 M180.1,479.0 L175.6,486.1 L172.0,492.8 L167.2,502.3 L164.1,506.6 L159.8,514.3 M159.8,514.3 L156.7,515.4 L156.1,518.0 M134.1,391.0 L135.6,398.7 L135.5,405.0 L136.3,410.9 L138.7,419.3 L140.7,425.2 L138.9,433.8 L139.6,438.5 L140.7,446.9 M205.7,422.5 L198.8,427.2 L194.0,431.7 L188.6,437.4 L181.9,441.1 L175.3,446.3 L170.4,450.5 L163.5,455.1 M70.9,474.5 L78.3,472.8 L83.4,470.7 L91.7,470.3 M151.6,530.6 L154.6,524.7 L156.1,518.0 M315.7,621.5 L310.5,614.6 L302.1,607.7 M367.2,599.8 L372.1,594.7 L376.3,586.4 L379.2,580.7 L383.4,574.2 M302.1,607.7 L304.2,601.5 L309.3,593.9 L313.3,587.5 L314.2,580.9 L316.8,574.9 L320.6,569.5 L324.3,561.7 L326.5,553.1 L329.7,547.1 L332.9,541.3 M332.9,541.3 L340.1,545.4 L347.2,550.2 L352.7,553.8 L358.3,558.4 L365.4,561.1 L371.3,568.6 L377.0,569.8 L383.4,574.2 M416.3,490.6 L409.6,494.0 L405.5,500.3 L398.6,506.8 L392.3,509.8 M392.1,572.4 L392.5,571.4 L387.9,572.1 M392.3,509.8 L392.8,518.2 L391.6,525.8 L390.6,534.7 L390.7,541.3 L390.8,549.6 L389.5,556.9 L390.2,564.8 L387.9,572.1 M387.9,572.1 L385.6,572.3 L383.4,574.2 M358.9,395.6 L358.3,394.8 L358.4,396.2 M302.8,428.1 L311.4,427.6 L319.7,426.7 M358.4,396.2 L350.8,400.5 L348.0,405.0 L340.9,410.5 L335.6,412.4 L329.7,417.9 L326.2,423.5 L319.7,426.7 M326.3,479.6 L332.4,474.3 L337.5,470.5 L343.9,465.5 L350.1,463.8 L355.9,459.0 M326.3,479.6 L330.9,487.0 L334.9,491.9 L340.0,501.4 L346.5,506.7 L350.2,514.0 M350.2,514.0 L353.3,513.2 L354.0,513.0 M354.0,513.0 L356.3,505.8 L355.1,498.5 L355.5,489.1 L355.6,482.6 L357.7,474.6 L358.1,468.4 L359.3,459.3 M355.9,459.0 L356.7,458.3 L358.3,459.1 M359.3,459.3 L360.0,460.6 L358.3,459.1 M319.7,426.7 L326.1,430.3 L331.2,438.1 L337.8,444.4 L342.5,448.9 L349.2,454.9 L355.9,459.0 M277.8,467.5 L284.7,472.1 L291.0,473.3 L298.6,478.3 M298.6,478.3 L306.7,478.2 L316.0,480.4 L326.3,479.6 M330.3,535.3 L336.6,530.3 L339.2,524.6 L344.5,520.8 L350.2,514.0 M330.3,535.3 L331.9,538.8 L332.9,541.3 M392.3,509.8 L384.2,508.4 L376.2,510.0 L369.7,511.8 L360.9,512.0 L354.0,513.0 M394.6,460.1 L389.1,459.0 L379.5,459.6 L372.7,459.2 L366.9,461.2 L359.3,459.3 M358.4,396.2 L356.6,404.0 L358.4,411.8 L358.1,419.4 L359.3,427.1 L358.2,435.5 L358.4,443.2 L359.3,451.2 L358.3,459.1 M403.1,424.2 L399.0,414.6 L394.5,405.2 M394.5,405.2 L392.7,403.6 L392.9,403.7 M256.5,472.8 L251.5,477.5 L248.6,481.9 M180.1,479.0 L188.0,479.7 L197.6,483.0 L206.0,484.2 M206.0,484.2 L211.3,485.5 L220.2,483.3 L228.3,483.1 L233.8,484.9 L240.4,482.2 L248.6,481.9 M159.8,514.3 L167.6,514.9 L173.7,518.0 L183.2,518.4 L187.7,521.6 L194.8,521.4 L201.7,524.2 M206.0,484.2 L205.5,492.3 L204.7,501.4 L204.4,508.6 L202.9,515.1 L201.7,524.2 M163.8,542.5 L171.7,543.6 L179.4,544.3 L187.0,546.6 L198.0,545.6 L203.8,546.9 M203.8,546.9 L207.8,542.3 L210.9,538.2 M201.7,524.2 L207.6,531.7 L210.9,538.2 M437.7,361.4 L443.4,360.8 L449.0,360.7 M437.7,361.4 L435.1,368.5 L432.9,377.0 L430.0,385.9 L426.8,393.9 M426.8,393.9 L433.8,393.7 L438.6,393.6 M438.6,393.6 L442.3,384.8 L444.7,377.7 L447.0,370.2 L449.6,362.3 M449.0,360.7 L450.2,359.5 L449.6,362.3 M411.7,358.2 L420.7,357.8 L430.2,358.4 L437.7,361.4 M456.5,352.1 L451.7,354.7 L449.0,360.7 M394.5,405.2 L404.2,401.1 L410.7,399.0 L416.9,396.4 L426.8,393.9 M482.3,415.5 L475.7,411.6 L468.7,407.8 L460.4,404.1 L453.5,402.8 L446.2,397.4 L438.6,393.6 M485.6,412.5 L480.5,405.5 L478.1,398.9 L471.2,393.6 L467.2,389.4 L460.7,381.5 L459.3,373.7 L453.4,369.0 L449.6,362.3 M165.9,297.7 L161.8,295.2 L154.5,294.6 M139.5,233.1 L136.3,241.4 L137.9,247.5 L132.6,256.6 L133.0,263.6 L131.6,269.8 M154.5,294.6 L148.7,288.1 L142.6,283.7 L138.8,273.8 L131.6,269.8 M265.2,565.8 L261.7,561.0 L259.7,551.3 L257.4,546.0 L254.7,539.0 L251.9,532.5 L249.7,526.3 M265.2,565.8 L271.7,561.3 L277.1,558.3 L284.9,555.1 L289.6,551.6 L296.2,548.5 L302.4,545.5 L309.4,540.0 L313.8,537.3 L320.3,532.7 M320.3,532.7 L316.6,529.0 L311.8,525.4 M311.8,525.4 L302.9,522.7 L297.2,524.5 L290.2,521.7 L283.0,521.6 L274.9,521.8 L266.2,520.0 L257.5,518.8 L252.1,518.9 M252.1,518.9 L249.1,523.1 L249.7,526.3 M330.3,535.3 L325.3,534.9 L320.3,532.7 M298.6,478.3 L301.2,485.6 L303.3,493.6 L305.8,502.2 L306.4,509.7 L309.6,517.2 L311.8,525.4 M248.6,481.9 L250.2,491.0 L249.6,496.4 L248.4,504.0 L251.0,509.4 L252.1,518.9 M210.9,538.2 L219.0,536.4 L225.7,533.1 L233.2,531.8 L240.4,528.4 L249.7,526.3 M178.2,604.3 L185.2,599.4 L188.8,594.1 L192.2,589.2 L198.8,583.2 L203.8,580.4 L208.5,574.1 M178.2,604.3 L186.6,604.6 L191.9,606.3 L201.2,610.4 L208.2,610.7 L213.6,613.4 L222.2,614.3 L229.6,617.6 L236.8,618.8 M208.5,574.1 L216.7,573.4 L222.4,574.4 L232.7,574.7 L240.1,574.6 L249.2,575.5 L256.6,574.9 L264.5,576.1 M236.8,618.8 L242.5,614.9 L248.4,609.4 L255.4,607.8 L262.2,604.0 L268.2,598.2 L274.7,594.5 M274.7,594.5 L269.9,587.8 L269.3,582.5 L264.5,576.1 M169.4,607.2 L174.5,606.5 L178.2,604.3 M203.8,546.9 L205.4,555.7 L207.1,565.7 L208.5,574.1 M265.2,565.8 L265.3,571.4 L264.5,576.1 M302.1,607.7 L295.4,603.6 L288.1,600.1 L282.6,595.7 L274.7,594.5 M89.5,267.9 L90.5,270.8 L91.9,269.0 M89.5,267.9 L84.5,272.9 L80.1,281.4 L75.2,286.8 L70.8,292.0 L69.1,298.5 L61.2,304.6 M91.9,269.0 L94.2,275.7 L98.0,283.8 L101.3,290.8 L101.9,298.3 L105.9,304.7 L109.1,312.2 M61.2,304.6 L65.6,307.9 L72.2,312.3 L77.4,316.3 L84.8,319.0 L89.9,323.2 L96.4,327.9 M96.4,327.9 L103.7,317.5 L109.1,312.2 M81.3,255.0 L85.1,259.8 L89.5,267.9 M131.6,269.8 L123.2,270.5 L115.1,269.6 L106.9,271.3 L100.7,270.3 L91.9,269.0 M154.5,294.6 L145.6,296.5 L140.4,300.3 L131.5,303.8 L123.0,307.1 L116.7,309.8 L109.1,312.2 M98.1,350.7 L96.8,343.6 L96.3,336.5 L96.4,327.9" fill="none" stroke="#4499c8" stroke-width="2.1" stroke-opacity="0.85" stroke-linejoin="round" filter="url(#softl)"/>
<g filter="url(#soft)">
<ellipse cx="71.0" cy="46.4" rx="11.1" ry="8.6" transform="rotate(0 71.0 46.4)" fill="#d6ae52"/>
<ellipse cx="128.9" cy="55.3" rx="11.1" ry="9.8" transform="rotate(30 128.9 55.3)" fill="#d6ae52"/>
<ellipse cx="271.0" cy="55.8" rx="15.4" ry="14.6" transform="rotate(25 271.0 55.8)" fill="#d6ae52"/>
<ellipse cx="340.9" cy="47.3" rx="8.6" ry="12.8" transform="rotate(0 340.9 47.3)" fill="#d6ae52"/>
<ellipse cx="70.7" cy="95.6" rx="10.3" ry="12.0" transform="rotate(30 70.7 95.6)" fill="#d6ae52"/>
<ellipse cx="126.7" cy="90.6" rx="11.1" ry="9.8" transform="rotate(20 126.7 90.6)" fill="#d6ae52"/>
<ellipse cx="148.1" cy="86.1" rx="7.7" ry="12.4" transform="rotate(0 148.1 86.1)" fill="#d6ae52"/>
<ellipse cx="173.4" cy="96.1" rx="9.4" ry="11.1" transform="rotate(0 173.4 96.1)" fill="#d6ae52"/>
<ellipse cx="254.8" cy="112.3" rx="4.3" ry="4.7" transform="rotate(0 254.8 112.3)" fill="#d6ae52"/>
<ellipse cx="356.0" cy="97.8" rx="10.0" ry="12.0" transform="rotate(0 356.0 97.8)" fill="#d6ae52"/>
<ellipse cx="63.8" cy="173.1" rx="8.1" ry="11.6" transform="rotate(0 63.8 173.1)" fill="#d6ae52"/>
<ellipse cx="110.6" cy="162.5" rx="11.1" ry="15.8" transform="rotate(0 110.6 162.5)" fill="#d6ae52"/>
<ellipse cx="227.4" cy="145.7" rx="12.8" ry="15.4" transform="rotate(0 227.4 145.7)" fill="#d6ae52"/>
<ellipse cx="206.5" cy="172.3" rx="8.1" ry="12.8" transform="rotate(0 206.5 172.3)" fill="#d6ae52"/>
<ellipse cx="314.7" cy="175.7" rx="17.1" ry="16.3" transform="rotate(15 314.7 175.7)" fill="#d6ae52"/>
<ellipse cx="154.3" cy="208.2" rx="7.7" ry="12.0" transform="rotate(0 154.3 208.2)" fill="#d6ae52"/>
<ellipse cx="173.4" cy="207.4" rx="10.3" ry="16.3" transform="rotate(10 173.4 207.4)" fill="#d6ae52"/>
<ellipse cx="100.7" cy="229.6" rx="10.3" ry="10.7" transform="rotate(0 100.7 229.6)" fill="#d6ae52"/>
<ellipse cx="115.2" cy="251.0" rx="22.7" ry="12.8" transform="rotate(-45 115.2 251.0)" fill="#d6ae52"/>
<ellipse cx="195.4" cy="236.5" rx="8.6" ry="12.4" transform="rotate(0 195.4 236.5)" fill="#d6ae52"/>
<ellipse cx="154.6" cy="257.9" rx="9.0" ry="10.7" transform="rotate(0 154.6 257.9)" fill="#d6ae52"/>
<ellipse cx="287.3" cy="236.5" rx="10.3" ry="11.6" transform="rotate(0 287.3 236.5)" fill="#d6ae52"/>
<ellipse cx="60.4" cy="279.3" rx="5.1" ry="7.7" transform="rotate(0 60.4 279.3)" fill="#d6ae52"/>
<ellipse cx="87.8" cy="296.4" rx="9.4" ry="12.0" transform="rotate(0 87.8 296.4)" fill="#d6ae52"/>
<ellipse cx="114.4" cy="287.9" rx="10.3" ry="11.6" transform="rotate(0 114.4 287.9)" fill="#d6ae52"/>
<ellipse cx="243.6" cy="287.0" rx="8.6" ry="12.8" transform="rotate(0 243.6 287.0)" fill="#d6ae52"/>
<ellipse cx="304.4" cy="305.8" rx="11.1" ry="15.4" transform="rotate(0 304.4 305.8)" fill="#d6ae52"/>
<ellipse cx="132.3" cy="325.5" rx="11.1" ry="10.3" transform="rotate(0 132.3 325.5)" fill="#d6ae52"/>
<ellipse cx="268.0" cy="322.1" rx="8.1" ry="12.0" transform="rotate(0 268.0 322.1)" fill="#d6ae52"/>
<ellipse cx="60.4" cy="329.8" rx="4.3" ry="6.8" transform="rotate(0 60.4 329.8)" fill="#d6ae52"/>
<ellipse cx="355.8" cy="272.4" rx="1.7" ry="5.1" transform="rotate(0 355.8 272.4)" fill="#d6ae52"/>
<ellipse cx="91.2" cy="39.6" rx="3.4" ry="2.6" transform="rotate(0 91.2 39.6)" fill="#d6ae52"/>
<ellipse cx="363.0" cy="56.7" rx="6.8" ry="11.1" transform="rotate(0 363.0 56.7)" fill="#d6ae52"/>
<ellipse cx="618.1" cy="52.4" rx="11.1" ry="10.3" transform="rotate(0 618.1 52.4)" fill="#d6ae52"/>
<ellipse cx="460.6" cy="96.9" rx="14.6" ry="17.1" transform="rotate(20 460.6 96.9)" fill="#d6ae52"/>
<ellipse cx="619.0" cy="86.7" rx="12.0" ry="7.3" transform="rotate(0 619.0 86.7)" fill="#d6ae52"/>
<ellipse cx="408.4" cy="115.8" rx="16.3" ry="15.4" transform="rotate(0 408.4 115.8)" fill="#d6ae52"/>
<ellipse cx="430.6" cy="117.5" rx="6.0" ry="12.0" transform="rotate(0 430.6 117.5)" fill="#d6ae52"/>
<ellipse cx="427.2" cy="141.5" rx="5.1" ry="6.8" transform="rotate(0 427.2 141.5)" fill="#d6ae52"/>
<ellipse cx="521.4" cy="131.2" rx="16.3" ry="13.7" transform="rotate(-20 521.4 131.2)" fill="#d6ae52"/>
<ellipse cx="571.9" cy="103.8" rx="2.6" ry="5.1" transform="rotate(0 571.9 103.8)" fill="#d6ae52"/>
<ellipse cx="655.8" cy="119.2" rx="5.1" ry="14.6" transform="rotate(0 655.8 119.2)" fill="#d6ae52"/>
<ellipse cx="428.1" cy="198.0" rx="9.4" ry="9.4" transform="rotate(-20 428.1 198.0)" fill="#d6ae52"/>
<ellipse cx="490.2" cy="207.9" rx="12.4" ry="9.0" transform="rotate(-10 490.2 207.9)" fill="#d6ae52"/>
<ellipse cx="515.4" cy="211.7" rx="11.6" ry="9.0" transform="rotate(-15 515.4 211.7)" fill="#d6ae52"/>
<ellipse cx="534.2" cy="221.1" rx="12.4" ry="7.7" transform="rotate(0 534.2 221.1)" fill="#d6ae52"/>
<ellipse cx="595.0" cy="197.1" rx="10.3" ry="9.4" transform="rotate(-20 595.0 197.1)" fill="#d6ae52"/>
<ellipse cx="603.6" cy="212.5" rx="15.4" ry="12.8" transform="rotate(-10 603.6 212.5)" fill="#d6ae52"/>
<ellipse cx="641.2" cy="208.2" rx="12.0" ry="9.0" transform="rotate(-15 641.2 208.2)" fill="#d6ae52"/>
<ellipse cx="445.2" cy="236.0" rx="9.8" ry="8.1" transform="rotate(0 445.2 236.0)" fill="#d6ae52"/>
<ellipse cx="547.1" cy="241.1" rx="12.8" ry="8.1" transform="rotate(-10 547.1 241.1)" fill="#d6ae52"/>
<ellipse cx="657.5" cy="245.9" rx="3.4" ry="6.0" transform="rotate(0 657.5 245.9)" fill="#d6ae52"/>
<ellipse cx="369.8" cy="273.3" rx="14.6" ry="12.8" transform="rotate(0 369.8 273.3)" fill="#d6ae52"/>
<ellipse cx="487.1" cy="292.1" rx="14.6" ry="11.6" transform="rotate(-10 487.1 292.1)" fill="#d6ae52"/>
<ellipse cx="514.5" cy="307.5" rx="12.8" ry="8.1" transform="rotate(10 514.5 307.5)" fill="#d6ae52"/>
<ellipse cx="549.6" cy="315.3" rx="9.4" ry="10.7" transform="rotate(-10 549.6 315.3)" fill="#d6ae52"/>
<ellipse cx="579.6" cy="309.3" rx="11.1" ry="14.6" transform="rotate(0 579.6 309.3)" fill="#d6ae52"/>
<ellipse cx="625.8" cy="309.3" rx="9.0" ry="9.4" transform="rotate(0 625.8 309.3)" fill="#d6ae52"/>
<ellipse cx="654.9" cy="309.3" rx="6.8" ry="12.8" transform="rotate(-20 654.9 309.3)" fill="#d6ae52"/>
<ellipse cx="483.7" cy="328.1" rx="11.1" ry="9.4" transform="rotate(0 483.7 328.1)" fill="#d6ae52"/>
<ellipse cx="430.6" cy="331.5" rx="8.6" ry="6.0" transform="rotate(0 430.6 331.5)" fill="#d6ae52"/>
<ellipse cx="571.9" cy="331.5" rx="2.6" ry="3.4" transform="rotate(0 571.9 331.5)" fill="#d6ae52"/>
<ellipse cx="656.7" cy="196.2" rx="2.6" ry="2.6" transform="rotate(0 656.7 196.2)" fill="#d6ae52"/>
<ellipse cx="156.4" cy="352.6" rx="13.4" ry="9.9" transform="rotate(-10 156.4 352.6)" fill="#d6ae52"/>
<ellipse cx="217.0" cy="347.4" rx="13.0" ry="15.1" transform="rotate(0 217.0 347.4)" fill="#d6ae52"/>
<ellipse cx="63.9" cy="375.9" rx="7.8" ry="13.0" transform="rotate(0 63.9 375.9)" fill="#d6ae52"/>
<ellipse cx="343.2" cy="343.9" rx="13.0" ry="6.9" transform="rotate(-10 343.2 343.9)" fill="#d6ae52"/>
<ellipse cx="347.5" cy="361.2" rx="10.4" ry="6.9" transform="rotate(-10 347.5 361.2)" fill="#d6ae52"/>
<ellipse cx="227.3" cy="400.1" rx="12.1" ry="8.2" transform="rotate(0 227.3 400.1)" fill="#d6ae52"/>
<ellipse cx="319.0" cy="396.7" rx="12.1" ry="9.5" transform="rotate(-35 319.0 396.7)" fill="#d6ae52"/>
<ellipse cx="101.1" cy="422.6" rx="11.2" ry="9.1" transform="rotate(0 101.1 422.6)" fill="#d6ae52"/>
<ellipse cx="173.7" cy="415.7" rx="12.5" ry="8.6" transform="rotate(10 173.7 415.7)" fill="#d6ae52"/>
<ellipse cx="264.5" cy="425.2" rx="11.2" ry="8.6" transform="rotate(-10 264.5 425.2)" fill="#d6ae52"/>
<ellipse cx="352.7" cy="431.2" rx="4.3" ry="6.9" transform="rotate(0 352.7 431.2)" fill="#d6ae52"/>
<ellipse cx="208.3" cy="452.0" rx="13.0" ry="9.9" transform="rotate(0 208.3 452.0)" fill="#d6ae52"/>
<ellipse cx="325.0" cy="456.3" rx="11.2" ry="9.9" transform="rotate(10 325.0 456.3)" fill="#d6ae52"/>
<ellipse cx="140.9" cy="490.0" rx="13.0" ry="10.4" transform="rotate(0 140.9 490.0)" fill="#d6ae52"/>
<ellipse cx="351.0" cy="486.6" rx="6.1" ry="7.3" transform="rotate(0 351.0 486.6)" fill="#d6ae52"/>
<ellipse cx="122.7" cy="509.9" rx="11.2" ry="9.1" transform="rotate(10 122.7 509.9)" fill="#d6ae52"/>
<ellipse cx="192.7" cy="514.2" rx="14.3" ry="8.6" transform="rotate(0 192.7 514.2)" fill="#d6ae52"/>
<ellipse cx="290.4" cy="509.9" rx="10.8" ry="9.9" transform="rotate(10 290.4 509.9)" fill="#d6ae52"/>
<ellipse cx="322.4" cy="502.7" rx="12.1" ry="8.2" transform="rotate(10 322.4 502.7)" fill="#d6ae52"/>
<ellipse cx="188.4" cy="528.9" rx="7.8" ry="5.2" transform="rotate(0 188.4 528.9)" fill="#d6ae52"/>
<ellipse cx="95.0" cy="530.7" rx="6.9" ry="7.8" transform="rotate(0 95.0 530.7)" fill="#d6ae52"/>
<ellipse cx="92.4" cy="553.2" rx="14.7" ry="14.7" transform="rotate(0 92.4 553.2)" fill="#d6ae52"/>
<ellipse cx="287.0" cy="535.9" rx="13.0" ry="8.6" transform="rotate(10 287.0 535.9)" fill="#d6ae52"/>
<ellipse cx="82.9" cy="577.4" rx="8.6" ry="13.0" transform="rotate(0 82.9 577.4)" fill="#d6ae52"/>
<ellipse cx="227.3" cy="554.9" rx="13.4" ry="8.2" transform="rotate(0 227.3 554.9)" fill="#d6ae52"/>
<ellipse cx="146.9" cy="563.5" rx="10.4" ry="8.2" transform="rotate(15 146.9 563.5)" fill="#d6ae52"/>
<ellipse cx="184.1" cy="560.9" rx="12.1" ry="8.6" transform="rotate(10 184.1 560.9)" fill="#d6ae52"/>
<ellipse cx="304.3" cy="559.2" rx="12.1" ry="8.6" transform="rotate(0 304.3 559.2)" fill="#d6ae52"/>
<ellipse cx="338.9" cy="572.2" rx="12.1" ry="8.2" transform="rotate(0 338.9 572.2)" fill="#d6ae52"/>
<ellipse cx="225.6" cy="594.7" rx="13.0" ry="9.5" transform="rotate(10 225.6 594.7)" fill="#d6ae52"/>
<ellipse cx="80.3" cy="615.4" rx="9.5" ry="11.2" transform="rotate(0 80.3 615.4)" fill="#d6ae52"/>
<ellipse cx="213.5" cy="634.4" rx="9.5" ry="6.1" transform="rotate(0 213.5 634.4)" fill="#d6ae52"/>
<ellipse cx="258.5" cy="636.2" rx="10.4" ry="4.3" transform="rotate(0 258.5 636.2)" fill="#d6ae52"/>
<ellipse cx="212.6" cy="516.0" rx="2.6" ry="2.6" transform="rotate(0 212.6 516.0)" fill="#d6ae52"/>
<ellipse cx="432.2" cy="340.5" rx="8.6" ry="6.1" transform="rotate(0 432.2 340.5)" fill="#d6ae52"/>
<ellipse cx="478.9" cy="337.9" rx="6.9" ry="1.7" transform="rotate(0 478.9 337.9)" fill="#d6ae52"/>
<ellipse cx="576.6" cy="339.6" rx="3.5" ry="3.5" transform="rotate(0 576.6 339.6)" fill="#d6ae52"/>
<ellipse cx="358.7" cy="359.5" rx="3.5" ry="6.9" transform="rotate(0 358.7 359.5)" fill="#d6ae52"/>
<ellipse cx="384.7" cy="366.4" rx="12.5" ry="7.8" transform="rotate(-10 384.7 366.4)" fill="#d6ae52"/>
<ellipse cx="474.6" cy="370.7" rx="11.2" ry="7.8" transform="rotate(0 474.6 370.7)" fill="#d6ae52"/>
<ellipse cx="498.8" cy="361.2" rx="12.1" ry="7.8" transform="rotate(20 498.8 361.2)" fill="#d6ae52"/>
<ellipse cx="581.8" cy="375.0" rx="10.8" ry="8.2" transform="rotate(0 581.8 375.0)" fill="#d6ae52"/>
<ellipse cx="632.9" cy="357.8" rx="10.8" ry="12.1" transform="rotate(30 632.9 357.8)" fill="#d6ae52"/>
<ellipse cx="426.2" cy="380.2" rx="3.5" ry="6.9" transform="rotate(0 426.2 380.2)" fill="#d6ae52"/>
<ellipse cx="435.7" cy="382.8" rx="2.6" ry="3.5" transform="rotate(0 435.7 382.8)" fill="#d6ae52"/>
<ellipse cx="447.8" cy="386.3" rx="4.3" ry="2.6" transform="rotate(0 447.8 386.3)" fill="#d6ae52"/>
<ellipse cx="436.6" cy="404.5" rx="17.7" ry="10.4" transform="rotate(-10 436.6 404.5)" fill="#d6ae52"/>
<ellipse cx="565.4" cy="397.5" rx="11.2" ry="9.5" transform="rotate(10 565.4 397.5)" fill="#d6ae52"/>
<ellipse cx="363.9" cy="431.3" rx="7.8" ry="7.8" transform="rotate(0 363.9 431.3)" fill="#d6ae52"/>
<ellipse cx="435.7" cy="445.1" rx="11.7" ry="8.6" transform="rotate(0 435.7 445.1)" fill="#d6ae52"/>
<ellipse cx="514.4" cy="446.8" rx="16.0" ry="10.4" transform="rotate(-10 514.4 446.8)" fill="#d6ae52"/>
<ellipse cx="545.5" cy="459.8" rx="9.1" ry="10.4" transform="rotate(0 545.5 459.8)" fill="#d6ae52"/>
<ellipse cx="504.9" cy="471.0" rx="12.1" ry="9.5" transform="rotate(20 504.9 471.0)" fill="#d6ae52"/>
<ellipse cx="626.8" cy="484.0" rx="18.2" ry="13.0" transform="rotate(25 626.8 484.0)" fill="#d6ae52"/>
<ellipse cx="362.2" cy="487.5" rx="7.8" ry="7.8" transform="rotate(0 362.2 487.5)" fill="#d6ae52"/>
<ellipse cx="600.0" cy="503.9" rx="12.5" ry="8.2" transform="rotate(0 600.0 503.9)" fill="#d6ae52"/>
<ellipse cx="578.4" cy="508.2" rx="7.8" ry="2.6" transform="rotate(0 578.4 508.2)" fill="#d6ae52"/>
<ellipse cx="514.4" cy="521.2" rx="18.2" ry="11.2" transform="rotate(-10 514.4 521.2)" fill="#d6ae52"/>
<ellipse cx="657.9" cy="524.7" rx="2.6" ry="5.2" transform="rotate(0 657.9 524.7)" fill="#d6ae52"/>
<ellipse cx="367.4" cy="536.8" rx="12.1" ry="8.6" transform="rotate(10 367.4 536.8)" fill="#d6ae52"/>
<ellipse cx="413.2" cy="539.4" rx="11.2" ry="10.8" transform="rotate(10 413.2 539.4)" fill="#d6ae52"/>
<ellipse cx="489.3" cy="554.9" rx="11.2" ry="6.9" transform="rotate(0 489.3 554.9)" fill="#d6ae52"/>
<ellipse cx="490.2" cy="569.6" rx="13.4" ry="8.2" transform="rotate(10 490.2 569.6)" fill="#d6ae52"/>
<ellipse cx="587.9" cy="563.6" rx="8.2" ry="11.2" transform="rotate(0 587.9 563.6)" fill="#d6ae52"/>
<ellipse cx="615.6" cy="553.2" rx="3.5" ry="2.2" transform="rotate(0 615.6 553.2)" fill="#d6ae52"/>
<ellipse cx="657.1" cy="573.9" rx="4.3" ry="12.1" transform="rotate(0 657.1 573.9)" fill="#d6ae52"/>
<ellipse cx="408.0" cy="607.7" rx="12.1" ry="9.1" transform="rotate(0 408.0 607.7)" fill="#d6ae52"/>
<ellipse cx="372.6" cy="637.1" rx="13.8" ry="3.5" transform="rotate(0 372.6 637.1)" fill="#d6ae52"/>
</g>
</g>
<clipPath id="clipA1"><rect x="728" y="38" width="602" height="602"/></clipPath>
<rect x="728" y="38" width="602" height="602" fill="#08141b"/>
<g clip-path="url(#clipA1)">
<path d="M827.1,-58.8 L822.1,-53.6 L817.1,-47.1 L814.0,-41.6 L808.8,-35.0 L805.1,-33.4 L799.8,-25.1 L797.0,-19.8 L791.4,-14.5 L787.9,-8.7 L782.2,-3.4 L778.9,2.5 L772.2,9.2 L768.8,14.6 L765.4,21.0 L761.7,24.9 L756.0,29.8 L753.5,37.1 L748.8,42.0 L740.9,49.4 L738.6,53.7 L734.1,59.8 L730.2,63.2 L726.3,69.8 L720.3,77.7 L717.3,81.3 L710.1,87.4 L707.5,92.8 M593.4,157.1 L600.3,153.5 L604.8,149.2 L611.1,146.6 L619.6,143.8 L624.3,139.5 L632.0,135.2 L637.6,134.2 L644.3,129.4 L650.0,125.0 L655.1,121.4 L664.3,119.9 L670.7,114.9 L675.9,110.1 L682.0,107.7 L687.7,104.5 L693.8,98.2 L700.2,94.7 L707.5,92.8 M827.1,-58.8 L823.2,-50.8 L821.9,-44.9 L820.8,-37.0 L816.6,-30.1 L815.0,-24.6 L812.6,-19.2 L808.9,-11.1 L807.8,-4.5 L804.6,3.6 L803.7,10.3 L801.1,15.9 L797.0,23.5 L794.5,29.5 L792.4,36.8 M707.5,92.8 L716.2,90.0 L720.5,88.1 L730.3,85.1 L736.7,82.0 L741.9,79.2 L749.3,79.1 L755.3,76.3 L763.4,72.1 M792.4,36.8 L786.5,42.4 L783.5,49.2 L778.2,52.8 L773.4,59.3 L770.8,66.0 L763.4,72.1 M763.4,72.1 L770.9,72.5 L777.5,73.9 L786.3,76.4 L793.2,77.5 L799.9,79.8 M792.4,36.8 L799.7,41.9 L807.0,42.7 L816.2,47.2 L823.7,52.2 M799.9,79.8 L804.2,75.2 L808.6,69.6 L813.5,64.7 L820.2,57.2 L823.7,52.2 M738.1,735.1 L740.3,727.7 L743.2,723.1 L744.0,716.3 L746.5,708.0 L748.5,704.3 L752.8,695.9 L754.5,690.1 L755.5,682.5 L762.2,675.5 L762.5,670.0 L764.1,662.7 L768.3,656.3 L770.1,649.2 L772.5,643.0 L776.1,637.1 L776.8,627.3 L780.2,624.0 L781.0,614.6 L783.2,611.0 L786.8,603.5 M786.8,603.5 L780.4,596.5 L776.2,590.6 M705.5,594.8 L712.8,595.6 L719.6,593.9 L726.2,595.2 L734.8,593.0 L739.4,591.9 L748.5,591.5 L755.9,592.2 L762.3,592.1 L769.6,590.1 L776.2,590.6 M705.5,594.8 L710.7,592.6 L715.4,585.2 L723.2,581.0 L726.9,575.3 L733.8,573.1 L740.2,567.5 L745.4,561.9 L750.0,557.7 L755.6,554.6 L762.0,548.3 L767.8,544.2 L771.0,540.0 L777.6,535.6 M777.6,535.6 L779.7,531.1 L784.8,526.5 M784.8,526.5 L780.2,519.5 L775.6,512.6 L770.2,504.7 L765.3,498.5 L760.4,492.6 M639.7,447.5 L646.5,448.2 L654.5,447.5 L660.0,449.7 L669.3,451.2 L677.0,453.0 L683.8,452.5 L689.6,452.4 L697.4,454.5 L705.4,455.0 L712.3,456.5 L719.9,457.0 L727.3,457.0 L733.2,458.9 L741.9,459.0 L748.4,462.3 L755.3,460.7 L763.6,460.6 L770.6,462.5 M770.6,462.5 L774.7,468.6 L778.5,471.1 M760.4,492.6 L765.9,487.8 L770.1,481.9 L775.0,476.3 L778.5,471.1 M639.7,447.5 L646.1,444.6 L654.1,441.7 L660.7,436.4 L668.0,437.7 L674.9,432.0 L679.4,429.5 L686.1,426.9 L693.3,424.1 L701.9,418.1 L707.6,416.4 L712.7,413.4 L720.6,412.1 L727.6,408.0 M770.6,462.5 L770.9,456.6 L776.2,449.1 L776.6,441.5 L776.7,435.0 L780.0,428.2 L784.0,421.1 L783.7,414.9 L783.7,405.2 L786.5,398.7 L788.7,392.3 M788.7,392.3 L782.7,391.5 L775.2,391.3 M727.6,408.0 L736.1,407.1 L742.0,402.8 L748.6,401.7 L753.7,398.8 L762.3,396.3 L770.0,394.9 L775.2,391.3 M432.2,414.1 L438.2,412.7 L445.1,411.7 L451.9,410.5 L460.0,409.0 L466.3,405.1 L475.1,404.9 L481.6,403.9 L487.7,403.8 L494.3,401.9 L499.3,399.8 L507.4,397.3 L514.5,396.3 L523.0,392.6 L528.2,392.2 L536.2,391.0 L542.4,389.5 L549.4,389.4 L555.2,386.9 L561.1,385.6 L570.2,383.2 L577.3,380.2 L581.2,379.4 L589.4,379.3 L596.7,377.7 L604.4,375.8 L609.2,373.5 L619.5,370.8 L624.0,373.1 L631.6,369.3 L637.9,369.5 L646.0,366.2 L652.4,365.9 L659.6,365.5 L665.0,361.1 L672.6,362.8 L679.8,359.8 L688.3,357.0 L693.7,355.9 L699.7,355.1 L708.0,352.6 L712.8,350.4 L720.7,350.0 L727.5,347.9 L733.6,348.5 L740.6,346.5 L747.7,344.4 M727.6,408.0 L730.4,400.6 L730.5,394.8 L734.5,387.8 L734.5,378.1 L736.6,371.8 L742.0,366.2 L743.2,358.7 L746.2,351.2 L747.7,344.4 M833.2,94.3 L838.5,89.3 L840.8,83.7 L849.3,78.6 L852.6,73.2 L857.2,69.9 L862.3,62.6 L864.4,57.9 L870.4,51.6 L878.0,49.0 L880.2,44.0 L887.5,37.3 L892.7,31.3 L895.6,26.4 L900.6,23.6 L905.3,16.5 L910.6,12.7 L916.1,8.3 L920.6,1.0 L926.2,-2.8 M833.2,94.3 L824.8,97.4 L817.4,100.5 M930.1,-9.3 L927.2,-5.8 L926.2,-2.8 M799.9,79.8 L805.7,88.3 L807.9,97.9 M823.7,52.2 L830.0,49.9 L835.5,44.1 L841.3,41.7 L849.2,37.6 L855.0,35.4 L862.1,29.1 L867.4,27.0 L874.4,23.0 L879.3,19.2 L884.4,16.0 L891.9,12.8 L897.7,8.3 L904.0,4.1 L912.0,1.0 L918.0,-3.2 L923.9,-7.4 L930.1,-9.3 M817.4,100.5 L812.1,98.7 L807.9,97.9 M954.1,98.5 L963.0,92.7 L970.8,86.6 M1035.8,-23.1 L1032.0,-16.2 L1028.7,-10.4 L1025.7,-4.9 L1021.0,1.6 L1017.3,7.7 L1015.2,14.3 L1010.1,18.2 L1006.8,25.5 L1004.3,31.3 L999.4,38.5 L995.5,43.7 L994.1,51.5 L989.4,56.4 L984.2,62.7 L981.6,68.5 L977.4,74.4 L974.1,80.8 L970.8,86.6 M1035.8,-23.1 L1032.2,-17.6 L1024.2,-13.8 L1019.3,-8.5 L1016.5,-2.1 L1010.5,2.9 L1005.4,6.4 L999.8,12.1 L997.7,16.8 L992.6,24.6 L986.2,28.4 L980.8,33.6 L977.2,38.8 L972.6,45.1 L967.0,49.4 L961.6,54.6 L955.7,59.8 L952.0,63.7 L949.0,68.8 L941.1,75.2 L935.1,79.3 L930.6,84.3 L927.0,90.7 L923.3,96.4 L917.3,100.8 M954.1,98.5 L947.0,101.5 L937.2,104.4 L929.6,105.8 M929.6,105.8 L922.9,102.7 L917.3,100.8 M926.2,-2.8 L926.3,4.8 L923.6,11.6 L922.8,16.4 L920.5,23.4 L919.3,30.8 L919.2,38.8 L915.6,45.2 L913.8,52.1 L914.2,59.2 L910.3,65.4 L911.4,73.0 L910.6,78.2 L908.6,85.7 L906.9,93.6 L905.4,100.2 M833.2,94.3 L841.4,94.4 L848.5,94.6 L854.5,97.2 L863.5,95.8 L870.3,98.2 L880.3,100.0 L887.1,98.0 L893.8,101.0 L901.6,101.4 M905.4,100.2 L903.8,101.1 L901.6,101.4 M777.6,535.6 L783.8,540.4 L792.0,541.8 L796.0,547.1 L803.0,549.4 L811.9,550.4 L816.8,554.2 L823.1,557.7 M776.2,590.6 L782.8,587.4 L790.3,584.3 L794.5,581.5 L800.4,576.6 L809.1,572.8 L812.5,570.2 L819.2,566.9 M819.2,566.9 L820.0,560.1 L823.1,557.7 M784.8,526.5 L792.7,522.7 L797.9,520.1 L804.3,516.4 L812.3,516.9 L819.7,512.2 L825.9,508.5 M825.9,508.5 L831.3,511.7 L838.6,515.7 L846.5,518.2 L853.5,520.8 L860.6,524.7 M823.1,557.7 L826.8,553.5 L832.4,547.1 L838.8,542.8 L844.7,539.8 L850.1,534.3 L855.2,530.2 L860.6,524.7 M1102.1,111.9 L1101.9,104.9 L1104.5,95.9 L1107.2,89.4 L1109.5,83.5 L1108.3,75.0 L1112.5,67.8 M1112.5,67.8 L1107.3,72.5 L1099.7,75.6 L1089.8,78.3 L1084.9,84.3 L1077.1,87.3 M1102.1,111.9 L1092.9,114.5 L1085.6,115.9 L1077.1,120.6 M1077.1,87.3 L1076.7,97.2 L1079.2,103.8 L1078.9,111.7 L1077.1,120.6 M1137.2,132.0 L1143.8,129.9 L1153.0,132.0 L1161.9,132.9 L1167.2,131.0 L1176.0,132.7 L1181.8,131.1 L1190.3,134.5 L1197.0,133.9 M1197.0,133.9 L1199.0,127.0 L1202.6,121.1 L1205.0,115.0 L1207.3,105.8 L1210.3,99.7 M1133.5,130.2 L1134.8,128.5 L1137.2,132.0 M1133.5,130.2 L1134.0,122.0 L1136.3,111.9 M1210.3,99.7 L1203.1,100.0 L1195.8,100.0 L1187.7,103.8 L1181.3,103.7 L1174.1,107.6 L1165.4,107.7 L1156.9,106.2 L1151.6,109.5 L1143.8,110.1 L1136.3,111.9 M1105.5,157.1 L1110.8,152.5 L1118.4,146.1 L1120.6,142.2 L1128.4,136.2 L1133.5,130.2 M1062.1,175.9 L1060.3,170.1 L1058.3,160.3 L1054.6,151.3 L1053.9,143.8 L1052.7,135.9 M1062.1,175.9 L1069.6,171.9 L1078.2,168.5 L1083.3,166.7 L1089.7,163.9 L1098.8,159.9 L1105.5,157.1 M1102.1,111.9 L1111.5,110.8 L1117.4,108.7 L1122.9,107.9 L1132.2,107.5 M1052.7,135.9 L1058.4,131.6 L1065.6,125.8 L1069.8,122.6 L1077.1,120.6 M1136.3,111.9 L1135.5,109.1 L1132.2,107.5 M1050.7,59.3 L1043.5,60.4 L1038.2,63.4 L1030.9,64.0 L1025.2,68.7 L1017.9,71.9 L1010.5,72.7 L1004.8,75.6 L997.1,77.5 L990.2,80.4 L985.0,82.0 L979.3,82.7 L970.8,86.6 M1050.7,59.3 L1054.8,55.3 L1058.9,46.3 L1065.1,42.9 L1066.8,37.4 L1071.3,29.7 L1076.5,24.9 L1079.9,19.4 L1084.3,14.1 L1089.6,9.2 L1093.5,1.5 L1096.9,-3.1 L1104.1,-7.6 L1106.3,-13.2 L1110.1,-18.8 L1115.2,-24.6 L1120.5,-31.3 L1124.6,-37.8 L1128.5,-41.3 L1137.0,-47.3 L1137.3,-54.6 L1142.6,-60.9 L1145.1,-64.6 L1149.0,-69.0 L1155.6,-76.8 L1158.3,-83.2 L1161.8,-87.1 L1168.1,-92.8 L1172.1,-99.3 L1176.5,-105.9 L1180.5,-108.6 L1186.1,-116.2 L1189.2,-121.3 M917.3,100.8 L911.0,101.8 L905.4,100.2 M1105.5,157.1 L1113.3,159.3 L1117.1,164.7 L1124.8,167.4 L1130.2,171.7 L1138.0,176.1 L1141.5,179.1 L1147.7,183.2 M1137.2,132.0 L1140.8,139.2 L1141.3,145.4 L1143.7,151.0 L1146.4,157.0 L1149.6,164.0 L1153.5,172.4 L1155.6,178.2 M1147.7,183.2 L1151.4,179.6 L1155.6,178.2 M1198.8,154.9 L1193.4,156.5 L1184.6,162.9 L1181.1,166.8 L1174.4,169.5 M1197.0,133.9 L1197.3,139.6 L1197.6,148.4 L1198.8,154.9 M1174.4,169.5 L1164.2,173.1 L1155.6,178.2 M1405.7,329.1 L1397.4,329.9 L1392.8,333.4 L1383.9,333.8 L1377.7,337.4 L1370.3,338.7 L1362.5,339.5 L1358.2,343.7 L1349.8,343.9 L1344.9,346.3 L1336.7,349.2 L1330.7,351.7 L1324.4,352.0 L1316.7,354.5 L1308.6,355.5 L1304.1,356.8 L1296.3,360.4 M1405.7,329.1 L1399.6,328.0 L1391.5,326.8 L1385.1,326.1 L1377.3,323.2 L1370.4,324.0 L1364.6,319.7 L1356.4,318.6 L1349.7,318.1 L1345.0,314.6 L1336.8,315.5 L1328.1,313.5 L1321.3,312.3 L1315.8,309.4 L1309.1,309.1 L1302.3,308.5 L1293.9,306.7 M1296.3,360.4 L1289.9,359.0 L1282.0,356.5 L1272.4,355.1 L1266.3,354.6 L1255.9,350.3 L1251.3,347.3 L1242.5,346.6 M1293.9,306.7 L1287.3,312.1 L1282.6,312.5 L1276.2,317.9 L1269.2,320.4 L1262.3,322.5 L1255.2,327.5 L1249.5,331.9 L1243.1,333.4 M1243.1,333.4 L1242.4,337.6 L1242.5,346.6 M1242.5,346.6 L1237.2,351.8 L1232.9,356.6 L1226.6,363.0 L1221.8,367.1 L1217.1,370.2 L1213.8,373.8 L1206.5,381.8 L1202.4,386.3 M1244.6,419.5 L1238.7,421.2 L1233.5,421.4 M1296.3,360.4 L1291.5,365.3 L1289.1,370.9 L1282.0,375.4 L1276.7,382.5 L1273.4,387.3 L1267.4,393.3 L1261.7,397.7 L1258.4,402.5 L1254.1,408.1 L1248.5,415.9 L1244.6,419.5 M1202.4,386.3 L1208.3,393.3 L1212.8,398.9 L1218.7,405.0 L1225.5,409.4 L1228.6,415.5 L1233.5,421.4 M860.2,416.4 L850.5,411.6 L847.8,410.2 L841.0,407.2 L836.6,402.3 L830.6,401.0 L823.4,394.8 L818.2,392.2 L810.5,388.9 M860.2,416.4 L866.0,413.0 L872.1,410.4 L879.7,407.0 L885.7,401.4 L891.2,399.5 L897.6,395.1 M810.5,388.9 L816.1,387.3 L822.1,379.3 L829.5,376.1 L834.2,370.6 L840.6,367.2 L846.1,361.8 M897.6,395.1 L903.4,389.2 L908.0,384.8 L912.5,378.4 M912.5,378.4 L907.2,371.2 L899.4,369.4 L893.9,366.2 L888.9,362.5 L881.7,357.8 L875.7,353.7 M846.1,361.8 L855.2,359.2 L861.2,359.3 L868.6,353.7 L875.7,353.7 M775.2,391.3 L778.5,384.0 L780.9,378.5 L784.4,370.2 L787.7,364.0 L789.8,356.9 L792.9,349.3 L795.0,342.7 L797.4,334.5 L801.3,328.8 M801.3,328.8 L809.7,329.1 L815.4,329.8 L822.6,330.6 L829.7,330.3 L837.6,331.0 L844.8,330.4 L849.8,333.9 L857.9,333.5 M788.7,392.3 L795.8,390.5 L803.6,389.0 L810.5,388.9 M846.1,361.8 L849.1,352.5 L851.5,347.0 L855.5,341.4 L857.9,333.5 M937.9,354.1 L931.0,362.0 L925.2,364.6 L919.7,373.0 M937.9,354.1 L928.3,351.9 L923.3,346.0 L915.3,341.8 L910.2,339.0 L901.5,335.4 M919.7,373.0 L917.9,375.5 L912.5,378.4 M875.7,353.7 L879.8,349.9 L888.2,344.3 L896.6,339.7 L901.5,335.4 M956.6,341.9 L951.5,345.9 L943.4,350.5 L937.9,354.1 M956.6,341.9 L963.8,341.3 L973.1,338.3 L980.5,337.0 L987.4,335.5 L995.5,332.9 M919.7,373.0 L926.5,374.5 L932.8,374.8 L941.2,374.8 L947.4,376.0 L955.6,376.6 L962.3,379.7 L968.9,379.1 M968.9,379.1 L973.1,370.9 L976.6,366.9 L980.0,360.4 L984.7,353.1 L987.6,345.6 L991.4,339.5 L995.5,332.9 M754.6,169.3 L760.2,163.5 L764.5,156.9 L770.3,149.0 L775.0,144.4 M754.6,169.3 L747.2,165.9 L741.3,163.9 L734.7,160.7 L729.0,159.2 L720.2,156.4 L714.1,155.5 L708.2,150.8 L702.2,148.4 L695.5,147.6 L689.0,143.4 M775.0,144.4 L768.1,145.0 L761.8,143.0 L755.2,144.4 L747.2,142.6 L739.9,143.6 L731.3,145.3 L725.2,142.5 L717.7,143.4 L711.4,142.8 L704.3,143.5 L695.9,141.7 M689.0,143.4 L691.2,142.1 L695.9,141.7 M804.3,130.1 L796.1,133.8 L791.1,137.9 L781.3,140.6 L775.0,144.4 M804.3,130.1 L808.6,122.2 L810.7,115.6 L812.3,108.7 L817.4,100.5 M807.9,97.9 L801.7,101.1 L793.8,102.3 L787.6,105.9 L781.7,108.4 L776.8,112.1 L767.7,112.7 L763.5,115.7 L756.6,120.1 L748.1,120.9 L742.1,122.8 L734.5,125.9 L729.7,128.4 L722.1,131.0 L714.3,135.5 L706.7,135.9 L703.0,137.8 L695.9,141.7 M593.4,157.1 L601.4,157.3 L607.2,155.2 L614.4,154.5 L622.9,153.1 L631.5,152.3 L638.9,151.4 L643.7,150.0 L652.7,147.3 L660.9,147.7 L667.3,145.7 L674.4,145.9 L681.4,144.6 L689.0,143.4 M804.3,130.1 L806.2,138.1 L811.3,141.0 L816.4,149.8 M901.6,101.4 L895.2,105.0 L891.3,109.3 L885.6,113.7 L882.1,119.6 L876.4,122.5 L869.7,126.9 L864.1,133.0 L858.1,136.7 M858.1,136.7 L849.6,137.8 L843.0,139.6 L836.5,142.3 L828.9,145.5 L823.9,146.3 L816.4,149.8 M825.9,508.5 L829.8,502.9 L834.6,496.6 L839.3,491.7 M778.5,471.1 L786.5,468.9 L793.6,464.8 L802.0,463.7 L806.8,458.8 L815.5,455.1 L821.5,452.8 M839.3,491.7 L836.7,485.3 L832.7,478.5 L828.8,471.8 L825.5,468.1 L826.0,460.6 L821.5,452.8 M860.2,416.4 L859.1,420.2 L857.4,422.0 M857.4,422.0 L852.7,428.1 L846.4,431.3 L839.9,436.9 L832.3,441.4 L827.9,448.8 L821.5,452.8 M1107.7,603.5 L1107.2,601.6 L1109.3,596.1 M1107.7,603.5 L1103.8,607.9 L1096.6,612.9 L1092.6,617.4 L1085.2,622.8 L1078.9,627.3 L1076.7,632.2 L1071.0,637.2 L1065.6,641.5 L1058.6,645.9 L1054.0,652.1 L1050.4,656.0 L1042.6,659.6 L1037.8,666.4 L1033.0,669.7 L1026.5,675.4 L1022.2,679.2 L1016.7,685.6 L1011.0,690.4 L1007.1,693.5 L1001.4,698.0 L994.3,702.6 L988.9,708.1 L984.4,712.9 L979.0,717.1 M1109.3,596.1 L1102.8,592.2 L1094.9,592.7 L1087.5,592.7 L1080.1,594.1 L1070.9,592.1 L1065.2,589.2 L1058.6,590.3 L1050.7,589.4 M979.0,717.1 L981.9,709.8 L988.9,703.6 L987.2,696.5 L992.0,690.4 L995.6,683.2 L999.6,677.2 L1001.0,670.3 L1005.3,665.4 L1009.5,657.7 L1012.4,651.7 L1017.7,644.3 L1019.5,639.1 L1021.4,632.0 L1025.8,624.8 L1029.6,619.7 L1033.5,611.9 L1035.8,607.9 L1037.9,599.2 L1042.3,592.4 M1042.3,592.4 L1047.4,591.1 L1050.7,589.4 M791.7,948.9 L795.3,942.7 L798.3,937.4 L800.3,930.0 L803.5,923.0 L806.5,915.9 L810.2,912.4 L814.1,905.6 L814.4,899.5 L817.6,891.6 L823.1,884.2 L825.1,879.2 L827.1,871.7 L830.6,865.7 L834.2,861.0 L834.7,852.9 L838.8,845.9 L840.9,840.8 L844.8,832.7 L847.4,828.5 L849.7,820.7 L855.5,816.6 L855.2,807.6 L860.2,801.4 L862.5,795.7 L866.3,787.3 L866.5,782.2 L872.7,777.0 L872.9,771.2 L878.3,764.1 L880.2,758.5 L884.7,751.8 L887.0,745.3 L889.1,738.0 L892.7,732.3 L895.1,727.1 L898.8,720.7 L899.7,714.0 L903.7,706.3 L906.4,702.0 L911.0,693.7 L912.0,688.1 L915.7,683.3 L917.6,673.5 L921.8,669.0 L925.1,663.3 L930.0,655.9 L930.4,648.1 L933.9,643.5 M933.9,643.5 L940.1,640.7 L945.6,637.4 L951.9,634.1 L958.2,627.8 L963.2,623.7 L968.1,621.8 L976.7,619.9 L981.7,614.0 L986.7,611.6 L994.2,606.3 L1000.4,603.8 L1003.9,600.4 L1011.9,595.6 L1017.3,594.0 L1023.7,588.6 M1023.7,588.6 L1034.5,592.4 L1042.3,592.4 M1143.7,566.3 L1144.0,558.3 L1146.5,551.6 M1143.7,566.3 L1138.9,570.0 L1131.5,574.4 L1128.4,582.3 L1121.2,586.4 L1114.6,590.8 L1109.3,596.1 M1050.7,589.4 L1056.9,583.0 L1063.1,577.5 L1066.6,573.6 L1073.0,567.2 L1078.3,558.7 L1084.4,555.2 M1084.4,555.2 L1092.7,553.4 L1101.0,552.7 L1105.8,554.1 L1115.9,553.5 L1122.0,553.8 L1129.5,552.0 L1137.9,551.6 L1146.5,551.6 M1050.7,59.3 L1049.5,65.3 L1046.6,72.7 M954.1,98.5 L962.0,101.6 L967.1,102.2 L975.8,105.2 L983.9,106.3 L991.0,110.7 M1046.6,72.7 L1041.4,80.5 L1034.5,85.6 L1028.8,94.1 M991.0,110.7 L998.5,106.8 L1006.7,104.0 L1014.4,100.3 L1022.7,95.1 L1028.8,94.1 M1077.1,87.3 L1068.5,84.1 L1060.3,80.7 L1053.0,76.4 L1046.6,72.7 M1052.7,135.9 L1045.3,136.0 L1039.7,137.0 M1028.8,94.1 L1030.8,101.1 L1032.0,110.6 L1034.2,114.6 L1037.0,123.5 L1039.1,131.7 L1039.7,137.0 M1265.6,-7.7 L1260.0,-1.3 L1257.4,3.0 L1251.8,5.4 L1246.3,15.6 L1240.3,18.6 L1237.7,25.1 L1234.4,28.2 L1228.1,36.2 L1222.0,40.7 L1220.5,47.4 L1214.5,48.9 L1209.1,57.2 L1204.5,62.2 M1265.6,-7.7 L1265.6,-0.7 L1269.2,6.3 L1265.4,13.9 L1266.2,20.4 L1266.7,28.6 L1267.3,33.8 L1267.1,42.6 L1267.0,50.3 L1268.5,55.3 L1268.0,63.4 M1204.5,62.2 L1206.7,71.1 L1209.7,75.9 L1210.9,82.2 L1210.4,90.3 L1213.7,96.6 M1268.0,63.4 L1263.6,70.1 L1258.7,76.1 L1254.1,81.9 M1254.1,81.9 L1246.8,84.8 L1241.4,86.7 L1234.7,87.5 L1226.4,93.1 L1222.2,94.4 L1213.7,96.6 M1306.4,53.4 L1298.6,54.2 L1291.4,58.2 L1281.8,60.0 L1276.1,61.9 L1268.0,63.4 M1316.2,61.8 L1310.3,67.9 L1305.1,74.5 L1302.0,77.4 L1298.4,85.3 L1292.3,89.8 M1306.4,53.4 L1310.6,59.8 L1316.2,61.8 M1274.7,97.2 L1282.5,93.8 L1292.3,89.8 M1274.7,97.2 L1269.0,89.8 L1261.9,86.9 L1254.1,81.9 M1209.6,154.0 L1216.5,151.1 L1223.4,150.3 M1261.5,126.7 L1255.5,129.6 L1247.9,134.2 L1241.2,140.1 L1234.8,141.7 L1229.4,146.4 L1223.4,150.3 M1198.8,154.9 L1205.0,155.3 L1209.6,154.0 M1261.5,126.7 L1264.5,119.0 L1268.1,112.8 L1272.1,104.1 L1274.7,97.2 M1210.3,99.7 L1209.9,100.3 L1213.7,96.6 M1139.7,98.4 L1146.5,94.1 L1151.8,88.8 L1156.3,84.4 L1163.0,79.5 L1169.1,75.6 M1139.7,98.4 L1137.1,90.7 L1137.9,83.2 L1136.2,74.2 L1134.7,68.8 L1132.5,59.8 L1133.0,53.3 L1131.4,46.7 M1169.1,75.6 L1167.2,68.4 L1165.1,61.7 L1160.6,55.2 L1159.5,49.1 L1157.1,41.3 L1156.1,36.1 L1153.7,29.2 L1151.0,22.1 L1148.3,14.6 M1131.4,46.7 L1135.6,40.7 L1138.2,34.0 L1143.9,27.5 L1144.7,20.7 L1148.3,14.6 M1132.2,107.5 L1135.9,103.2 L1139.7,98.4 M1204.5,62.2 L1196.3,62.9 L1190.6,66.0 L1183.5,70.4 L1177.3,74.6 L1169.1,75.6 M1112.5,67.8 L1117.6,61.9 L1120.7,56.4 L1126.7,49.9 L1131.4,46.7 M1189.2,-121.3 L1187.2,-114.5 L1185.7,-108.1 L1183.1,-101.7 L1180.5,-95.9 L1179.1,-85.8 L1177.1,-80.2 L1173.9,-72.3 L1172.0,-66.1 L1170.9,-61.1 L1169.8,-53.3 L1166.9,-46.1 L1164.6,-40.1 L1163.1,-33.4 L1160.6,-26.8 L1157.0,-20.1 L1156.0,-12.6 L1155.6,-7.5 L1152.5,-1.2 L1149.3,7.3 L1148.3,14.6 M1138.6,191.5 L1132.2,196.7 L1130.5,205.7 L1126.3,212.7 M1138.6,191.5 L1131.2,190.7 L1126.3,191.4 L1116.1,193.3 L1110.3,191.4 L1103.7,191.9 L1095.9,192.1 L1087.1,192.9 L1081.0,191.0 L1072.9,193.0 L1066.1,192.1 L1059.2,192.1 M1126.3,212.7 L1120.4,216.6 L1111.7,220.8 L1107.7,224.7 L1101.8,228.0 L1094.5,232.9 L1086.9,236.8 L1082.4,239.6 L1076.0,243.3 L1066.7,247.4 L1061.1,249.9 M1059.2,192.1 L1059.2,200.1 L1058.7,208.5 L1058.8,214.0 L1058.4,222.9 L1056.8,229.3 L1056.8,236.6 L1056.9,244.8 M1056.9,244.8 L1059.3,248.4 L1061.1,249.9 M1168.9,246.7 L1164.5,251.5 L1157.3,255.0 L1151.4,257.1 L1144.4,261.3 L1137.3,264.1 L1130.7,267.9 L1124.9,271.8 M1168.9,246.7 L1161.6,242.4 L1156.7,237.1 L1151.0,232.9 L1144.0,227.2 L1136.9,220.2 L1130.5,219.1 L1126.3,212.7 M1058.3,255.0 L1057.9,253.0 L1061.1,249.9 M1058.3,255.0 L1066.5,256.9 L1073.3,261.5 L1079.3,264.4 L1085.7,263.6 L1092.3,266.2 L1097.2,267.7 L1107.5,270.8 L1111.9,273.7 M1111.9,273.7 L1118.4,272.0 L1124.9,271.8 M1030.8,279.2 L1029.2,286.3 L1026.9,292.6 L1024.2,300.4 L1023.9,308.5 M1030.8,279.2 L1036.6,276.4 L1042.8,271.4 L1047.8,264.6 L1051.5,259.9 L1058.3,255.0 M1023.9,308.5 L1029.2,308.1 L1040.4,308.7 L1047.3,308.0 L1052.2,307.8 L1061.0,308.2 M1111.9,273.7 L1105.1,279.2 L1101.2,281.6 L1092.5,286.5 L1086.1,289.7 L1080.2,295.6 L1074.2,298.4 L1067.3,302.2 L1061.0,308.2 M1019.6,354.1 L1015.8,347.3 L1009.8,342.1 L1004.7,335.7 L1000.4,330.9 M1023.9,308.5 L1016.3,315.9 L1012.4,320.0 L1008.4,325.2 L1000.4,330.9 M1053.7,349.0 L1045.7,350.3 L1037.9,352.1 L1028.5,352.6 L1019.6,354.1 M1053.7,349.0 L1059.9,344.0 L1063.5,336.6 L1071.0,330.3 L1077.3,324.4 M1061.0,308.2 L1064.5,314.4 L1071.1,318.8 L1077.3,324.4 M1101.3,370.0 L1093.2,367.5 L1085.6,366.5 L1077.4,367.1 L1070.7,366.6 L1063.1,365.6 M1053.7,349.0 L1058.3,359.5 L1063.1,365.6 M1101.3,370.0 L1108.7,361.5 L1115.2,355.4 M1077.3,324.4 L1083.8,321.8 L1091.3,319.9 L1097.7,320.2 L1105.5,316.6 M1115.2,355.4 L1113.3,347.3 L1111.1,339.7 L1110.8,332.6 L1108.6,321.3 L1105.5,316.6 M1124.9,271.8 L1122.9,279.5 L1122.3,285.2 L1116.3,292.4 L1115.1,296.7 L1112.8,306.3 L1111.1,311.9 M1105.5,316.6 L1109.6,315.0 L1111.1,311.9 M1316.2,61.8 L1322.1,63.0 L1328.9,59.1 L1335.6,59.2 L1344.4,57.5 L1351.0,55.2 L1358.0,52.1 L1365.8,53.6 L1371.4,51.4 L1379.0,51.7 L1386.1,48.9 L1392.1,46.0 L1398.9,46.3 L1406.2,45.0 L1414.1,44.1 L1420.6,43.0 L1427.5,41.0 L1434.7,38.0 L1442.4,37.2 L1449.0,37.2 L1456.2,35.9 L1461.1,35.7 L1469.1,33.4 L1476.0,33.0 L1483.6,30.9 L1488.2,29.0 L1496.8,29.9 L1504.0,26.7 L1511.8,25.4 L1517.5,24.4 L1523.0,23.9 L1531.9,21.4 L1537.2,20.6 L1546.7,18.4 L1551.2,18.2 L1557.6,14.2 L1565.7,14.5 L1572.8,13.3 L1580.4,12.4 L1586.4,10.8 L1594.5,10.9 L1601.8,9.4 L1604.5,6.4 L1614.4,6.3 L1620.1,6.2 L1628.9,2.9 L1635.7,1.9 L1641.7,1.4 L1649.0,-1.8 L1655.8,-1.8 L1662.3,-1.7 L1669.2,-2.5 L1678.1,-6.5 L1684.3,-5.7 L1690.9,-9.3 L1698.2,-7.5 L1703.5,-10.2 L1711.9,-12.2 L1718.5,-13.7 L1726.9,-14.0 L1731.8,-14.4 L1738.4,-16.6 L1746.8,-17.3 L1753.9,-18.8 L1760.5,-20.1 L1767.8,-20.2 L1773.7,-22.5 L1781.8,-24.8 L1787.7,-25.8 L1793.8,-28.9 L1802.9,-30.4 L1810.6,-30.4 L1816.3,-31.4 L1822.9,-32.8 M1313.5,414.1 L1306.7,414.7 L1298.7,415.7 L1292.9,417.7 L1285.8,417.7 L1277.1,416.5 L1270.7,419.8 L1262.4,420.6 L1256.8,420.6 L1248.2,421.3 M1313.5,414.1 L1310.0,420.3 L1302.5,425.4 L1299.1,432.2 L1294.0,437.0 L1289.2,443.2 L1285.5,450.1 L1281.6,455.1 L1276.3,460.8 L1271.3,466.5 M1248.2,421.3 L1248.0,430.0 L1245.1,435.5 L1247.6,443.9 L1245.9,450.3 L1247.5,456.6 L1244.4,463.9 L1245.9,471.3 M1271.3,466.5 L1261.7,468.8 L1253.6,471.6 L1245.9,471.3 M1580.3,298.2 L1574.0,300.3 L1566.8,302.9 L1561.2,308.3 L1554.1,310.6 L1546.9,312.8 L1543.6,313.9 L1536.0,319.3 L1526.4,319.5 L1520.8,324.7 L1514.9,326.4 L1509.5,329.5 L1502.5,331.9 L1496.9,334.3 L1490.9,337.5 L1482.0,341.4 L1476.7,341.6 L1470.0,345.0 L1462.4,350.0 L1455.9,352.4 L1449.8,356.8 L1443.6,356.5 L1436.1,359.6 L1430.8,363.3 L1425.2,366.3 L1417.8,369.3 L1411.0,372.1 L1405.5,375.4 L1397.6,375.7 L1390.8,380.5 L1382.7,382.6 L1379.1,385.4 L1371.0,390.5 L1367.0,391.3 L1360.4,395.7 L1351.5,399.9 L1345.2,399.8 L1338.5,402.9 L1331.8,405.7 L1327.7,408.7 L1319.8,412.9 L1313.5,414.1 M1244.6,419.5 L1245.5,421.4 L1248.2,421.3 M1393.6,462.5 L1386.0,463.1 L1378.9,463.4 L1371.4,462.8 L1363.5,464.3 L1356.6,463.0 L1348.6,463.8 L1341.8,465.0 L1334.6,464.5 L1327.1,464.1 L1316.8,465.8 L1310.6,465.2 L1303.6,467.1 L1296.2,467.1 L1289.6,465.9 L1281.1,467.9 L1275.2,467.7 M1275.2,467.7 L1273.7,467.9 L1271.3,466.5 M1062.1,175.9 L1060.5,181.5 L1055.2,186.6 M1147.7,183.2 L1143.4,187.2 L1138.6,191.5 M1059.2,192.1 L1057.6,190.1 L1055.7,188.8 M1055.2,186.6 L1054.6,189.7 L1055.7,188.8 M1056.9,244.8 L1047.1,244.1 L1041.6,243.0 L1032.3,241.7 L1024.9,239.8 L1017.4,239.5 L1009.1,239.6 L1001.7,237.9 M1055.7,188.8 L1049.2,194.1 L1044.3,199.0 L1039.6,203.8 L1033.1,207.7 L1027.8,213.5 L1024.0,219.4 L1017.4,223.3 L1010.9,225.9 L1006.2,232.4 L1001.7,237.9 M857.9,333.5 L862.1,326.6 L869.9,322.5 L873.4,320.6 L880.9,312.9 L886.5,308.2 M901.5,335.4 L905.0,328.2 L908.7,321.0 L908.7,316.0 L912.0,311.1 L915.6,303.3 M915.6,303.3 L906.7,303.8 L901.3,306.3 L894.8,307.3 L886.5,308.2 M991.0,110.7 L989.9,117.0 L984.6,125.1 L980.8,130.8 L977.4,137.3 L973.5,144.2 L971.4,151.6 M1039.7,137.0 L1031.0,140.4 L1023.9,145.1 L1020.0,147.2 L1011.0,148.6 L1005.4,152.4 L997.6,154.5 L991.0,157.5 L982.9,161.3 M971.4,151.6 L977.2,154.7 L982.9,161.3 M815.6,652.8 L817.4,646.6 L820.1,638.9 L823.8,632.6 L826.7,623.6 L828.5,619.8 L828.8,611.3 L833.7,604.8 L835.3,599.2 M815.6,652.8 L821.3,649.7 L828.0,645.9 L833.8,642.0 L842.1,638.3 L845.2,635.0 L853.9,629.7 L861.5,625.2 L868.4,622.7 L874.5,619.6 L877.9,616.0 L886.0,612.8 L893.0,607.7 L898.8,605.6 L904.5,600.2 L910.1,598.2 L917.5,593.9 M917.5,593.9 L912.0,589.7 L903.7,588.6 L897.3,584.2 L891.8,579.1 L886.5,577.4 L881.6,576.6 L874.0,571.2 M835.3,599.2 L841.3,593.7 L848.8,585.7 L854.1,579.9 M854.1,579.9 L859.8,578.5 L867.0,574.0 L874.0,571.2 M738.1,735.1 L742.6,729.8 L747.1,725.5 L753.8,719.3 L756.1,714.6 L760.8,708.7 L768.4,706.5 L772.3,698.0 L777.6,691.7 L781.0,690.3 L787.3,682.3 L789.7,679.3 L796.2,672.7 L801.5,667.6 L804.0,663.9 L810.1,656.9 L815.6,652.8 M786.8,603.5 L793.5,602.9 L802.1,602.6 L810.7,602.4 L818.7,599.9 L825.2,598.8 L835.3,599.2 M933.9,643.5 L933.9,639.2 L931.2,627.8 L932.1,622.1 L930.5,614.4 L928.9,606.7 L930.7,601.3 L929.2,592.5 M929.2,592.5 L923.1,592.8 L917.5,593.9 M819.2,566.9 L826.6,570.5 L833.6,571.3 L840.4,575.6 L846.4,575.9 L854.1,579.9 M860.6,524.7 L870.1,523.4 L879.6,521.5 L887.6,519.9 M887.6,519.9 L890.6,527.4 L895.0,535.8 M874.0,571.2 L877.6,563.6 L882.7,557.5 L889.0,550.2 L892.6,544.9 M895.0,535.8 L893.7,539.7 L892.6,544.9 M912.7,492.9 L921.4,491.0 L926.7,489.5 L934.4,486.1 L943.1,485.2 L950.5,483.6 L956.8,480.5 L962.1,479.0 L970.5,476.2 M887.6,519.9 L892.7,515.1 L897.6,508.4 L901.6,504.4 L908.9,498.0 L912.7,492.9 M970.5,476.2 L971.5,477.8 L971.7,476.6 M971.7,476.6 L968.1,482.9 L965.0,491.1 L963.6,496.1 L958.9,503.0 L958.7,509.5 L955.0,516.5 M895.0,535.8 L901.2,534.3 L907.0,531.5 L915.5,528.6 L920.8,527.4 L928.2,524.8 L935.1,523.1 L940.7,520.1 L948.7,519.7 L955.0,516.5 M943.0,582.2 L945.5,574.3 L946.4,568.8 L946.5,561.5 L948.6,555.8 L949.0,547.0 M943.0,582.2 L949.0,580.4 L957.0,577.1 L965.4,575.7 L970.4,572.2 L978.7,568.6 L986.5,567.5 L992.9,565.5 L1001.7,562.8 L1007.0,560.4 M1017.2,548.7 L1016.1,543.3 L1015.3,533.9 L1013.7,528.4 L1014.6,520.7 L1013.6,513.2 M1017.2,548.7 L1012.3,554.4 L1007.0,560.4 M1013.6,513.2 L1005.9,514.4 L1000.2,517.3 L994.4,518.4 L985.4,520.2 L980.4,522.0 L972.8,526.6 L965.2,527.2 M949.0,547.0 L954.2,541.1 L957.7,533.4 L965.2,527.2 M892.6,544.9 L898.0,545.3 L906.7,544.6 L914.6,546.0 L920.3,545.4 L926.4,546.0 L937.0,545.7 L942.4,546.1 L949.0,547.0 M929.2,592.5 L936.8,587.8 L943.0,582.2 M1023.7,588.6 L1019.3,579.8 L1014.8,575.7 L1010.9,568.0 L1007.0,560.4 M955.0,516.5 L959.6,520.0 L965.2,527.2 M1019.5,505.8 L1016.5,499.4 L1012.1,492.0 L1009.6,485.0 L1006.3,478.7 L1002.6,472.2 M1019.5,505.8 L1014.2,509.3 L1013.6,513.2 M1002.6,472.2 L994.3,472.5 L987.5,473.9 L980.0,476.6 L971.7,476.6 M1223.9,519.0 L1222.6,524.5 L1220.3,534.1 L1219.3,539.5 L1218.1,547.4 M1223.9,519.0 L1230.6,517.9 L1237.8,516.4 L1243.6,514.0 L1251.0,512.6 L1256.1,510.8 L1265.0,509.5 M1218.1,547.4 L1224.5,547.7 L1235.1,546.9 L1242.0,543.6 L1249.9,542.8 L1257.2,541.0 L1264.4,540.8 M1264.4,540.8 L1268.5,534.1 L1275.7,526.5 L1280.9,522.1 L1283.5,512.3 M1283.5,512.3 L1273.0,510.9 L1265.0,509.5 M1210.2,510.2 L1216.1,514.4 L1223.9,519.0 M1210.2,510.2 L1203.6,513.8 L1199.0,518.5 L1192.3,521.2 L1186.1,525.0 L1180.5,528.6 L1174.4,530.9 L1168.7,537.6 L1162.0,538.2 L1157.1,542.9 L1149.8,547.0 M1149.8,547.0 L1145.2,549.0 L1146.5,551.6 M1143.7,566.3 L1151.5,567.3 L1159.4,568.2 L1165.5,566.3 L1171.5,569.1 L1180.5,568.5 L1186.5,570.7 L1194.3,570.9 M1194.3,570.9 L1198.4,563.1 L1206.0,559.4 L1211.7,551.0 L1218.1,547.4 M1215.8,491.0 L1221.8,485.7 L1228.5,483.0 L1234.1,479.8 L1239.4,476.0 L1245.9,471.3 M1275.2,467.7 L1274.7,475.1 L1273.1,481.0 L1271.0,488.9 L1267.4,495.5 L1266.2,502.0 L1265.0,509.5 M1210.2,510.2 L1213.0,501.6 L1215.8,491.0 M1393.6,462.5 L1386.8,465.6 L1379.2,468.5 L1375.3,472.1 L1368.2,473.7 L1360.3,477.1 L1353.4,478.9 L1349.2,482.1 L1343.6,484.5 L1335.7,487.7 L1329.0,490.8 L1322.4,494.6 L1315.4,498.2 L1310.9,500.0 L1303.8,503.6 L1296.4,508.6 L1287.8,508.7 L1283.5,512.3 M1125.3,613.2 L1130.8,610.9 L1139.7,613.1 L1147.6,609.2 L1155.9,605.1 L1162.4,605.2 L1169.4,601.9 L1177.1,598.3 L1183.1,598.2 L1191.8,595.0 L1198.6,594.0 M1125.3,613.2 L1125.8,621.0 L1126.7,629.7 L1127.7,637.1 L1127.0,643.8 L1129.5,651.2 L1130.2,660.0 L1130.8,668.6 M1198.6,594.0 L1192.9,600.0 L1188.2,603.8 L1183.4,610.0 L1181.9,613.2 L1174.3,620.4 L1170.5,625.6 L1162.2,632.6 L1158.7,636.6 L1153.6,640.9 L1149.6,648.1 L1146.1,652.0 L1140.9,657.6 L1135.7,663.4 L1130.8,668.6 M1125.3,613.2 L1117.1,607.7 L1107.7,603.5 M1194.3,570.9 L1196.1,578.4 L1198.2,584.8 L1200.1,593.0 M1198.6,594.0 L1201.0,593.0 L1200.1,593.0 M1130.8,668.6 L1128.4,675.2 L1125.7,679.2 L1123.4,687.5 L1117.1,694.2 L1117.4,701.0 L1110.9,706.4 L1110.3,711.8 L1105.7,719.3 L1104.9,725.7 L1100.9,731.6 L1095.7,739.7 L1094.0,743.3 L1090.9,752.1 L1086.6,758.0 L1084.4,763.7 L1080.4,769.9 L1077.6,775.6 L1074.7,781.8 L1071.7,789.6 L1067.5,796.9 L1067.4,803.7 L1061.0,810.1 L1059.4,815.1 L1055.5,821.5 L1054.4,828.5 L1049.5,833.6 L1046.4,841.2 L1045.5,846.0 L1040.6,853.0 L1036.7,860.2 L1034.9,864.7 L1030.2,873.7 L1028.4,879.4 L1024.5,884.9 L1022.3,891.2 L1017.7,898.0 L1016.6,903.4 L1013.6,911.5 L1008.6,917.1 L1006.3,924.1 L1003.9,928.6 L998.8,937.3 L997.1,943.0 L994.2,950.5 L989.6,956.5 L986.9,962.5 L985.9,966.8 L981.9,974.2 L978.1,980.9 L974.2,986.3 L972.8,994.5 L968.5,998.5 L968.2,1007.4 L963.2,1011.7 L959.1,1019.3 L955.6,1027.1 L953.5,1031.9 M2172.0,248.1 L2165.5,251.0 L2157.8,252.2 L2151.5,255.9 L2145.5,257.9 L2139.6,260.9 L2134.2,263.0 L2125.2,265.7 L2121.1,267.7 L2113.2,270.4 L2107.0,273.5 L2099.3,275.5 L2094.4,279.4 L2087.9,281.6 L2080.1,283.0 L2074.8,284.7 L2067.3,286.5 L2060.5,290.2 L2053.1,293.9 L2047.1,295.5 L2041.0,297.7 L2036.1,300.4 L2028.4,302.2 L2021.2,305.6 L2014.8,307.9 L2008.7,312.5 L2001.9,313.4 L1995.1,318.5 L1990.6,319.1 L1983.1,320.3 L1975.8,323.8 L1969.5,325.2 L1962.1,329.1 L1956.6,329.0 L1949.9,334.9 L1942.6,336.4 L1935.3,339.5 L1929.1,339.9 L1923.3,346.0 L1916.5,345.0 L1911.0,348.9 L1905.7,350.0 L1895.9,353.4 L1891.3,356.6 L1885.5,357.3 L1877.1,361.2 L1872.2,364.3 L1864.4,365.3 L1859.2,369.8 L1854.4,371.2 L1846.8,372.7 L1838.2,375.7 L1831.7,378.0 L1825.1,381.4 L1818.7,384.6 L1812.5,386.4 L1807.5,389.3 L1799.7,391.4 L1793.0,394.5 L1785.7,397.6 L1781.4,400.1 L1772.9,400.0 L1766.4,404.2 L1761.1,406.4 L1753.5,410.6 L1746.6,412.6 L1741.6,412.8 L1734.4,416.1 L1726.7,417.3 L1719.6,422.1 L1714.2,424.4 L1707.0,426.4 L1701.2,427.7 L1693.3,432.1 L1688.6,433.3 L1681.8,437.4 L1677.2,438.4 L1669.4,443.8 L1662.4,445.7 L1653.2,448.2 L1649.2,447.5 L1643.5,452.9 L1637.3,455.5 L1629.6,456.1 L1622.6,459.3 L1617.0,461.4 L1610.1,465.3 L1603.8,469.2 L1599.1,468.3 L1589.9,470.7 L1582.8,475.0 L1576.4,475.9 L1570.6,480.3 L1563.9,481.7 L1558.7,485.0 L1551.7,488.0 L1543.7,489.8 L1537.5,493.1 L1532.4,493.6 L1526.4,495.9 L1519.7,499.8 L1511.2,501.0 L1505.2,504.6 L1498.3,507.7 L1491.0,509.7 L1485.9,510.3 L1479.7,513.5 L1470.4,516.6 L1466.1,520.6 L1459.3,523.7 L1454.6,525.8 L1448.0,527.6 L1439.6,530.4 L1434.6,532.5 L1426.8,533.3 L1421.2,537.7 L1412.7,539.9 L1408.2,542.3 L1401.7,545.6 L1393.0,547.1 L1388.4,550.8 L1382.7,550.5 L1374.7,555.6 L1369.5,559.1 L1360.8,559.6 L1354.2,563.3 L1348.7,565.0 M1348.7,565.0 L1342.7,571.4 L1340.2,576.0 L1332.4,580.1 L1330.6,584.7 L1324.9,591.2 L1321.4,596.9 L1316.1,601.5 L1311.1,607.0 L1307.1,612.2 L1302.7,616.0 L1298.2,622.8 L1293.4,628.3 L1288.4,635.0 L1282.3,638.9 L1278.0,644.2 L1271.9,649.1 L1268.6,653.8 L1263.9,658.3 L1260.8,665.6 L1256.6,669.5 L1248.8,675.9 L1243.7,681.1 L1239.9,685.9 L1236.2,691.5 L1233.0,697.4 L1225.2,703.0 L1220.5,707.4 L1215.9,711.7 L1213.7,717.3 L1207.1,722.5 L1202.7,729.8 L1197.1,732.4 L1194.2,737.3 L1188.6,745.3 L1184.2,748.9 L1178.8,753.8 L1174.2,760.1 L1171.3,766.2 L1164.9,769.8 L1161.4,774.0 L1155.6,780.7 L1150.2,785.3 L1147.0,789.9 L1141.0,796.2 L1137.3,800.7 L1133.6,807.1 L1127.6,812.3 L1122.4,816.9 L1119.5,823.4 L1113.6,829.4 L1108.3,834.3 L1104.3,838.1 L1100.4,842.8 L1095.6,848.6 L1090.6,856.1 L1086.1,859.5 L1080.8,865.0 L1075.0,869.5 L1071.5,876.4 L1065.0,881.1 L1062.5,886.5 L1057.4,891.7 M1145.7,408.5 L1151.7,406.6 L1158.6,403.5 L1168.4,398.1 L1174.2,397.6 L1181.3,393.8 L1187.8,390.4 L1195.3,389.5 L1202.4,386.3 M1137.0,395.4 L1141.3,389.0 L1146.5,384.5 L1152.0,378.9 L1157.0,372.3 L1159.2,368.8 L1168.3,361.4 L1171.2,357.7 L1177.8,352.6 L1183.1,346.5 L1186.9,341.2 M1137.0,395.4 L1141.7,402.2 L1145.7,408.5 M1243.1,333.4 L1238.5,331.6 L1235.0,327.7 M1186.9,341.2 L1194.3,340.2 L1200.2,338.3 L1206.4,335.7 L1211.7,332.4 L1221.9,331.0 L1228.2,327.9 L1235.0,327.7 M1277.4,127.3 L1285.3,124.9 L1290.3,121.9 L1297.2,120.0 L1303.6,114.3 L1309.7,114.2 L1317.0,109.6 L1323.6,107.3 L1330.1,102.8 L1335.2,102.1 L1342.3,98.9 L1351.0,95.4 L1355.8,92.3 L1361.5,89.9 L1368.8,87.2 M1277.4,127.3 L1281.8,130.9 L1290.4,138.7 L1296.1,144.7 L1301.0,150.4 M1301.0,150.4 L1307.6,148.5 L1314.7,144.2 L1321.8,141.9 L1327.3,142.8 L1333.8,139.5 L1339.9,135.9 L1346.9,133.3 L1352.6,129.4 L1360.3,126.3 L1365.7,126.0 L1372.5,122.0 L1378.6,120.5 L1385.8,118.0 L1392.6,117.2 L1398.9,110.9 L1406.0,110.4 L1412.6,106.3 L1420.1,105.3 L1425.5,101.3 L1432.6,100.3 L1440.0,97.5 L1444.0,95.5 L1450.9,93.3 L1457.3,90.2 L1464.7,87.8 L1471.0,84.6 L1478.0,82.3 L1484.8,80.1 L1489.0,77.8 L1499.1,75.7 L1504.9,73.3 L1510.4,69.1 L1518.2,68.9 L1524.5,65.8 L1530.9,62.8 L1537.4,60.4 L1544.0,57.0 L1549.6,55.9 L1556.5,50.5 L1563.5,48.2 L1571.8,48.6 L1577.1,44.7 L1581.9,42.7 L1589.6,39.6 L1596.3,38.5 L1603.3,34.4 L1607.2,32.9 L1615.2,30.8 L1622.5,28.0 M1368.8,87.2 L1377.1,87.1 L1382.7,85.0 L1390.8,82.4 L1396.4,81.5 L1402.9,78.7 L1409.1,77.5 L1416.1,76.7 L1423.2,75.7 L1431.6,71.5 L1438.3,70.7 L1445.4,70.0 L1450.9,68.6 L1457.3,66.6 L1465.1,64.6 L1471.9,62.2 L1478.9,60.4 L1485.9,60.4 L1492.8,57.8 L1501.9,56.5 L1506.0,54.4 L1514.1,53.1 L1520.5,51.0 L1526.7,50.0 L1534.2,48.5 L1539.3,47.6 L1545.9,44.6 L1554.6,42.2 L1561.4,42.0 L1566.7,41.0 L1575.0,38.6 L1581.1,38.3 L1588.9,35.9 L1594.3,33.4 L1601.3,33.4 L1609.3,31.4 L1616.9,29.3 L1622.5,28.0 M1261.5,126.7 L1269.1,126.6 L1277.4,127.3 M1292.3,89.8 L1301.7,87.5 L1307.8,89.7 L1315.3,91.2 L1324.0,89.5 L1329.7,88.9 L1337.8,88.3 L1346.0,87.5 L1354.0,89.2 L1362.1,87.7 L1368.8,87.2 M1293.9,306.7 L1297.1,302.2 L1304.9,295.5 L1308.5,290.7 L1313.2,285.3 L1318.0,278.2 L1324.0,272.2 L1329.1,268.5 L1332.8,263.3 L1338.6,257.5 L1344.3,251.0 L1348.7,244.3 L1353.5,239.6 L1359.2,234.8 M1359.2,234.8 L1367.3,232.8 L1371.0,229.7 L1379.0,225.6 L1385.7,223.8 L1391.2,219.8 L1398.5,216.2 L1405.0,214.1 L1410.7,210.5 L1418.1,209.2 L1424.7,204.6 L1431.6,202.6 L1437.9,200.6 L1443.0,196.4 L1449.8,192.8 L1458.8,191.6 L1461.8,188.1 L1469.4,185.9 L1476.5,181.7 L1483.1,179.3 L1489.5,175.8 L1495.9,173.5 L1501.5,170.1 L1508.9,166.7 L1516.2,163.0 L1521.7,160.4 L1529.1,157.9 L1535.1,155.7 L1540.1,152.8 L1547.4,149.2 L1554.5,147.3 L1561.8,145.2 L1567.8,140.2 L1573.7,138.3 L1582.2,135.1 L1586.6,132.1 L1593.9,128.9 L1599.5,123.5 L1606.2,124.0 L1613.4,118.0 L1619.8,115.4 L1628.1,114.3 L1631.7,111.9 L1638.6,108.8 L1645.8,104.2 L1652.9,101.1 L1660.1,99.5 L1665.3,96.5 M1223.4,150.3 L1228.4,152.9 L1236.9,160.1 L1240.2,164.5 L1247.5,167.0 L1253.2,171.2 L1260.6,175.8 L1265.3,179.8 M1301.0,150.4 L1294.0,157.2 L1291.2,159.0 L1284.7,164.0 L1279.7,170.0 L1274.4,174.4 M1265.3,179.8 L1270.1,176.5 L1274.4,174.4 M1665.3,96.5 L1657.7,99.1 L1651.5,102.2 L1644.0,102.6 L1637.9,102.9 L1632.2,105.6 L1623.3,106.9 L1618.2,107.9 L1611.6,111.5 L1603.2,113.9 L1598.2,115.0 L1589.9,117.9 L1584.2,117.1 L1575.8,119.6 L1568.7,120.2 L1563.1,123.4 L1555.4,126.5 L1547.9,126.9 L1541.8,128.3 L1534.6,131.2 L1527.8,133.6 L1520.3,134.3 L1512.7,135.8 L1506.5,139.0 L1501.0,140.0 L1495.2,142.6 L1487.3,142.4 L1478.3,144.8 L1472.5,146.0 L1465.7,146.9 L1460.5,149.2 L1451.6,152.6 L1443.8,154.7 L1439.3,155.3 L1430.6,157.0 L1423.0,160.5 L1417.9,160.3 L1410.1,163.3 L1405.5,163.4 L1396.7,164.7 L1391.0,168.3 L1385.6,169.8 L1376.2,171.1 L1370.5,172.0 L1363.5,175.6 L1355.5,176.3 L1350.1,180.7 L1342.2,180.7 M1274.4,174.4 L1281.5,175.6 L1291.1,175.2 L1296.7,175.3 L1304.4,177.1 L1311.7,177.2 L1318.1,177.3 L1326.2,179.9 L1334.2,179.2 L1342.2,180.7 M977.5,397.4 L985.2,395.1 L991.7,391.7 M977.5,397.4 L975.1,398.0 L974.1,399.9 M974.1,399.9 L973.1,407.3 L970.1,414.2 L969.3,422.0 L967.7,428.0 M991.7,391.7 L999.1,393.7 L1008.5,393.0 L1016.2,395.1 M967.7,428.0 L976.4,429.5 L981.8,431.2 L989.7,429.1 L998.4,430.6 M1016.2,395.1 L1018.8,402.9 L1022.5,409.1 L1024.7,416.2 M1024.7,416.2 L1019.5,420.2 L1012.9,426.1 L1005.2,424.6 L998.4,430.6 M968.9,379.1 L972.8,387.2 L977.5,397.4 M1019.6,354.1 L1015.1,360.4 L1009.1,365.5 L1005.4,372.7 L998.5,380.1 L996.4,385.4 L991.7,391.7 M1000.4,330.9 L998.2,330.9 L995.5,332.9 M897.6,395.1 L904.9,398.4 L913.3,400.2 L919.3,401.3 L928.2,405.0 L933.8,404.7 L941.6,409.2 M941.6,409.2 L948.9,405.0 L959.0,404.7 L965.2,401.9 L974.1,399.9 M1063.1,365.6 L1058.9,371.0 L1048.4,373.9 L1041.8,376.6 L1036.5,384.9 L1031.1,386.8 L1022.6,391.1 L1016.2,395.1 M971.3,471.1 L976.8,462.9 L978.5,459.4 L985.1,452.4 L989.6,445.6 L993.3,437.9 L998.4,430.6 M951.9,442.0 L958.3,450.3 L961.1,457.4 L965.8,462.4 L971.3,471.1 M951.9,442.0 L957.7,438.7 L963.3,431.4 L967.7,428.0 M1100.3,379.4 L1101.7,375.4 L1101.3,370.0 M1100.3,379.4 L1094.1,381.3 L1089.8,388.9 L1083.5,390.7 L1075.8,397.8 L1072.3,401.6 L1065.5,405.9 L1059.5,409.5 L1053.4,414.4 L1048.5,418.5 M1048.5,418.5 L1040.1,418.7 L1033.4,416.2 L1024.7,416.2 M864.6,478.9 L871.2,471.6 L874.6,467.7 L880.2,458.3 L884.7,455.5 L888.5,448.1 M864.6,478.9 L873.5,477.7 L878.8,480.8 L886.4,483.2 L893.6,484.1 L902.3,482.4 L909.1,484.8 M909.1,484.8 L911.0,477.4 L914.9,471.9 L917.5,464.9 L919.0,454.1 L923.4,450.2 M888.5,448.1 L896.8,447.3 L905.5,444.5 L914.5,444.2 M914.5,444.2 L919.4,449.1 L923.4,450.2 M839.3,491.7 L845.5,487.8 L851.1,487.3 L858.2,482.7 L864.6,478.9 M857.4,422.0 L864.8,428.3 L868.9,433.4 L876.9,438.1 L883.3,442.3 L888.5,448.1 M912.7,492.9 L910.9,488.3 L909.1,484.8 M971.3,471.1 L971.6,473.0 L970.5,476.2 M951.9,442.0 L945.2,442.9 L937.5,445.7 L930.4,448.3 L923.4,450.2 M941.6,409.2 L936.9,414.8 L930.5,422.0 L927.4,426.4 L922.7,433.5 L918.1,438.8 L914.5,444.2 M1048.5,418.5 L1048.9,427.8 L1047.0,433.8 M1002.6,472.2 L1011.5,467.7 L1016.7,463.3 L1025.6,457.0 M1047.0,433.8 L1042.9,440.4 L1037.1,445.4 L1030.4,452.2 L1025.6,457.0 M1019.5,505.8 L1027.3,501.8 L1033.6,500.0 L1040.1,497.0 L1047.0,494.7 L1052.4,490.7 M1052.4,490.7 L1058.8,482.4 L1064.1,476.9 L1068.7,469.9 M1025.6,457.0 L1031.7,459.8 L1038.6,462.2 L1048.9,462.9 L1055.3,466.0 L1062.2,466.4 L1068.7,469.9 M1017.2,548.7 L1024.8,546.2 L1031.0,543.4 M1052.4,490.7 L1061.8,493.5 L1070.8,496.6 L1078.4,499.1 M1078.4,499.1 L1073.8,505.4 L1068.1,509.9 L1062.8,514.4 L1056.8,519.6 L1053.3,523.7 L1047.6,529.1 L1040.5,533.9 L1037.6,538.0 L1031.0,543.4 M1084.4,555.2 L1083.6,548.0 L1085.7,542.2 L1087.3,532.9 M1031.0,543.4 L1038.1,542.1 L1044.5,541.1 L1051.6,538.6 L1059.1,537.4 L1067.5,535.7 L1073.2,534.9 L1078.9,535.9 L1087.3,532.9 M1149.8,547.0 L1144.4,540.5 L1141.7,531.3 L1141.9,521.3 L1136.2,515.4 M1215.8,491.0 L1205.9,490.1 L1198.8,486.1 L1190.0,484.4 M1190.0,484.4 L1183.2,487.3 L1176.7,493.6 L1169.5,496.2 L1164.3,501.9 L1155.8,504.1 L1149.1,507.1 L1142.6,511.0 L1136.2,515.4 M1078.4,499.1 L1084.7,496.3 L1093.7,497.4 L1103.6,495.9 L1110.3,495.5 M1087.3,532.9 L1092.9,528.6 L1099.5,522.8 L1104.5,519.7 L1110.3,512.8 M1110.3,495.5 L1110.0,503.7 L1110.3,512.8 M1136.2,515.4 L1126.0,515.0 L1118.7,515.6 L1110.3,512.8 M1055.2,186.6 L1047.7,189.2 L1041.7,191.7 L1032.2,193.3 L1026.3,193.4 L1018.7,194.8 L1011.5,194.6 L1005.0,198.6 L996.4,200.2 L992.3,202.3 L982.4,205.3 L975.5,205.3 M982.9,161.3 L981.3,162.6 L981.2,164.1 M975.5,205.3 L976.2,196.9 L978.5,189.4 L978.2,180.5 L980.2,171.9 L981.2,164.1 M858.1,136.7 L860.1,144.6 L861.4,153.9 L864.1,162.4 M929.6,105.8 L926.6,113.8 L925.5,120.1 L923.1,128.0 L921.7,136.0 M921.7,136.0 L915.2,139.1 L908.7,141.0 L903.9,145.7 L896.3,148.7 L890.1,150.4 L883.4,156.2 L877.9,157.6 L870.2,160.1 L864.1,162.4 M971.4,151.6 L966.3,151.7 L957.9,152.2 L950.2,152.3 L942.5,150.9 L934.4,152.7 L927.7,149.8 M921.7,136.0 L925.0,143.1 L927.7,149.8 M802.1,171.7 L810.6,171.0 L816.3,170.5 L823.4,170.7 L831.0,170.7 L836.9,170.4 L844.5,169.9 L852.6,170.9 L858.7,170.0 M816.4,149.8 L811.8,155.9 L807.4,163.2 L802.1,171.7 M858.7,170.0 L861.6,166.2 L864.1,162.4 M754.6,169.3 L752.9,176.7 L751.8,187.6 L751.1,193.6 L750.3,201.9 M663.0,251.5 L670.2,248.4 L676.5,243.2 L680.7,244.1 L687.9,237.1 L694.4,234.8 L699.3,230.5 L706.6,227.4 L713.1,222.7 L718.3,217.3 L726.3,214.7 L731.2,214.2 L737.4,209.6 L743.8,206.2 L750.3,201.9 M802.1,171.7 L796.1,176.8 L791.2,182.5 L782.5,188.0 L777.6,193.8 M750.3,201.9 L757.6,198.8 L764.7,198.6 L772.8,195.3 L777.6,193.8 M747.7,344.4 L754.6,338.5 L759.8,336.0 L766.9,331.6 L772.7,326.7 L778.6,323.4 L785.3,318.8 M801.3,328.8 L801.9,328.7 L801.3,327.3 M785.3,318.8 L794.3,324.2 L801.3,327.3 M432.2,414.1 L437.1,411.3 L445.3,408.9 L453.1,408.0 L458.6,405.1 L466.5,402.3 L471.6,401.2 L479.0,399.4 L485.5,396.5 L491.2,392.5 L498.4,388.6 L505.4,389.8 L511.7,386.3 L519.3,384.2 L525.8,384.0 L532.2,380.5 L538.6,377.6 L545.0,375.1 L552.4,371.2 L557.7,371.0 L563.7,368.0 L570.5,366.2 L578.6,364.9 L584.9,360.5 L591.3,359.5 L599.0,354.6 L604.6,352.6 L611.5,352.4 L618.0,350.6 L624.5,346.8 L631.0,346.3 L637.2,342.8 L642.8,341.6 L650.1,337.5 L656.8,335.1 L663.6,334.8 L671.2,332.7 L678.4,328.1 L684.1,328.1 L692.5,323.0 L695.5,322.5 L703.2,318.8 L710.5,316.7 L714.6,315.2 L723.5,313.5 L730.9,310.8 L736.4,307.6 L741.6,305.6 L750.8,304.3 L756.4,301.3 M756.4,301.3 L766.4,303.1 L770.7,306.0 L780.4,307.1 M785.3,318.8 L783.9,311.8 L780.4,307.1 M886.5,308.2 L878.9,304.7 L875.0,299.8 L867.8,296.4 L862.0,293.5 M801.3,327.3 L806.9,322.3 L814.9,319.5 L820.9,313.6 L830.0,311.4 L834.9,307.4 L842.2,303.3 L848.6,300.8 L856.2,296.2 L862.0,293.5 M1236.1,623.4 L1230.1,618.1 L1227.4,611.9 L1220.4,607.6 L1215.1,603.7 L1209.6,598.3 L1204.2,592.9 M1236.1,623.4 L1242.7,619.4 L1248.6,614.9 L1254.8,612.2 L1261.2,610.2 L1268.2,606.4 L1275.3,600.2 L1281.0,599.0 L1286.8,594.3 L1293.8,593.1 L1300.6,588.4 L1306.6,585.9 L1314.1,582.7 L1318.8,578.1 L1325.2,574.8 L1330.9,571.8 L1337.8,567.6 M1204.2,592.9 L1210.2,589.0 L1217.8,586.0 L1223.9,581.5 L1231.5,580.3 L1237.2,577.5 L1244.2,573.3 L1252.5,570.4 L1258.2,569.4 L1263.3,564.5 L1270.5,561.3 M1337.8,567.6 L1329.5,567.9 L1322.5,565.1 L1316.6,566.4 L1307.0,565.9 L1300.6,566.7 L1294.6,562.9 L1285.2,561.9 L1278.1,562.0 L1270.5,561.3 M1200.1,593.0 L1202.8,593.0 L1204.2,592.9 M1057.4,891.7 L1059.9,885.1 L1066.5,881.2 L1068.9,874.1 L1072.8,868.4 L1075.2,863.4 L1080.1,856.9 L1082.2,851.1 L1089.7,842.9 L1093.8,839.7 L1095.5,831.9 L1101.2,827.8 L1104.6,821.5 L1107.1,816.7 L1110.9,810.9 L1114.1,803.4 L1118.1,799.7 L1121.7,791.5 L1127.9,787.0 L1133.3,782.7 L1135.7,775.7 L1137.2,768.4 L1142.5,763.3 L1145.4,756.7 L1149.8,752.8 L1154.9,745.6 L1158.1,740.4 L1161.6,734.0 L1164.5,729.1 L1170.9,722.9 L1174.4,717.1 L1179.7,711.1 L1180.4,704.1 L1186.2,700.3 L1190.2,694.2 L1193.5,686.2 L1196.5,680.0 L1200.7,674.6 L1205.1,669.9 L1207.0,665.0 L1213.5,657.1 L1216.8,653.3 L1220.2,647.6 L1224.6,642.0 L1228.5,634.9 L1232.7,630.0 L1236.1,623.4 M1348.7,565.0 L1343.5,565.9 L1337.8,567.6 M1264.4,540.8 L1265.7,547.3 L1267.9,554.7 L1270.5,561.3 M1115.2,355.4 L1122.6,351.3 L1129.7,347.6 L1138.4,344.6 L1144.2,339.5 M1111.1,311.9 L1117.4,310.8 L1124.5,308.9 L1131.4,307.0 L1137.2,303.8 L1145.6,305.9 L1152.3,303.4 M1144.2,339.5 L1144.9,332.8 L1147.0,325.3 L1148.2,317.6 L1150.5,308.3 L1152.3,303.4 M1100.3,379.4 L1107.9,382.4 L1112.6,386.4 L1122.3,389.2 L1130.0,391.8 L1137.0,395.4 M1186.9,341.2 L1178.2,339.7 L1171.2,341.1 L1165.8,337.3 L1156.4,336.7 M1144.2,339.5 L1149.9,338.4 L1156.4,336.7 M1110.3,495.5 L1114.6,490.4 L1117.8,486.8 M1068.7,469.9 L1074.0,467.5 L1082.3,459.9 L1085.8,456.4 L1094.0,453.5 L1099.7,447.2 L1106.3,444.6 M1117.8,486.8 L1116.1,480.3 L1114.0,472.2 L1112.6,465.6 L1109.0,458.7 L1107.0,452.5 L1106.3,444.6 M1047.0,433.8 L1055.3,433.5 L1062.9,436.4 L1068.4,435.8 L1079.9,435.2 L1086.0,436.0 L1093.9,435.8 L1100.2,438.3 L1109.7,439.6 M1145.7,408.5 L1142.5,413.6 L1139.1,418.0 M1139.1,418.0 L1133.6,423.5 L1128.0,427.4 L1120.5,430.8 L1118.6,437.5 L1109.7,439.6 M1109.7,439.6 L1108.8,442.8 L1106.3,444.6 M862.0,293.5 L865.8,284.6 L867.7,276.5 M867.7,276.5 L876.7,274.0 L881.8,274.4 L886.9,270.5 L894.3,267.4 L903.0,265.6 L910.3,263.1 L917.2,261.8 M915.6,303.3 L922.9,298.3 L930.0,294.2 L937.9,291.8 M917.2,261.8 L921.9,266.5 L926.1,273.3 L929.3,280.9 L933.8,283.9 L937.9,291.8 M1001.7,237.9 L995.4,237.2 L988.4,241.8 L981.4,244.3 M1030.8,279.2 L1021.9,279.7 L1015.6,282.0 L1008.1,282.4 L1002.5,280.4 L992.9,282.7 L986.1,282.0 L978.6,281.1 L971.1,281.8 L962.5,282.9 L956.7,283.7 M981.4,244.3 L979.1,252.4 L973.1,257.5 L969.5,265.3 L965.2,270.1 L960.4,278.2 L956.7,283.7 M956.6,341.9 L957.7,333.8 L951.6,327.7 L952.1,319.6 L951.9,312.1 L947.9,302.6 L947.7,296.0 L946.4,289.7 M956.7,283.7 L951.8,285.4 L946.4,289.7 M946.4,289.7 L941.7,289.3 L937.9,291.8 M780.4,307.1 L785.8,302.3 L792.5,299.8 L797.5,293.3 L805.4,290.2 L809.8,286.2 L816.4,282.3 L821.4,277.8 L825.6,272.1 L832.1,268.5 L838.0,264.5 L843.8,259.4 L849.5,255.6 M867.7,276.5 L862.8,270.8 L861.2,263.5 M861.2,263.5 L855.9,258.7 L849.5,255.6 M756.4,301.3 L760.1,294.8 L762.8,285.6 L766.0,280.5 M663.0,251.5 L669.3,251.1 L679.5,251.1 L685.1,251.1 L692.4,252.7 L698.3,249.8 L708.5,252.9 L714.7,254.1 L723.7,251.2 L730.1,254.7 L737.0,253.5 L746.1,253.8 L752.7,254.3 M766.0,280.5 L761.4,273.3 L758.0,268.0 L754.3,261.8 L752.7,254.3 M1210.3,281.9 L1201.8,280.3 L1195.1,278.4 L1189.6,277.1 M1210.3,281.9 L1220.3,282.5 L1229.6,280.8 L1237.4,280.5 M1237.4,280.5 L1243.5,276.3 L1250.0,271.3 L1256.5,267.7 L1262.6,263.5 L1268.2,257.9 L1273.6,254.3 M1273.6,254.3 L1271.0,245.2 L1268.9,238.5 L1267.9,229.6 L1268.2,223.0 L1262.8,215.3 M1189.6,277.1 L1187.4,272.0 L1180.2,264.5 L1180.7,256.1 L1176.6,251.4 L1172.4,246.2 M1211.1,220.4 L1217.7,218.0 L1223.4,215.4 L1231.8,211.8 L1240.3,213.5 L1246.7,207.4 M1211.1,220.4 L1203.9,225.2 L1196.0,229.0 M1246.7,207.4 L1254.7,210.6 L1262.8,215.3 M1196.0,229.0 L1190.3,234.8 L1184.4,238.5 L1178.0,244.4 L1172.4,246.2 M1156.4,336.7 L1160.1,331.8 L1167.7,326.0 L1171.4,319.1 L1177.7,314.8 L1182.1,308.2 L1189.3,304.8 L1193.6,297.6 L1198.8,295.3 L1205.4,287.3 L1210.3,281.9 M1152.3,303.4 L1159.5,301.3 L1165.9,293.2 L1170.8,289.8 L1176.8,284.6 L1183.0,280.4 L1189.6,277.1 M1235.0,327.7 L1235.7,319.8 L1234.3,310.2 L1235.7,304.7 L1237.0,296.1 L1233.6,287.8 L1237.4,280.5 M1359.2,234.8 L1351.3,236.1 L1343.7,237.6 L1337.1,242.4 L1331.3,241.1 L1323.4,242.8 L1316.5,244.1 L1309.2,247.2 L1302.9,248.1 L1296.3,249.6 L1286.8,249.3 L1280.0,252.6 L1273.6,254.3 M1342.2,180.7 L1335.9,184.6 L1328.3,185.6 L1323.1,190.5 L1315.2,192.5 L1310.5,195.4 L1302.4,195.9 L1297.2,201.5 L1289.4,203.3 L1281.4,206.5 L1275.9,210.6 L1268.2,213.8 L1262.8,215.3 M1168.9,246.7 L1170.6,247.6 L1172.4,246.2 M1209.6,154.0 L1208.7,161.7 L1211.1,168.9 L1208.6,175.8 L1210.7,182.1 L1208.9,191.1 L1209.6,198.9 L1209.5,203.8 L1210.1,214.5 L1211.1,220.4 M1265.3,179.8 L1259.7,186.7 L1256.2,192.6 L1252.4,200.7 L1246.7,207.4 M1174.4,169.5 L1177.2,174.4 L1177.4,179.9 L1181.3,189.1 L1184.7,197.4 L1186.1,202.3 L1189.2,210.7 L1190.3,216.4 L1193.3,222.1 L1196.0,229.0 M1184.2,468.9 L1176.7,468.5 L1166.6,470.3 L1159.4,469.8 L1151.3,470.5 M1184.2,468.9 L1188.7,464.0 L1193.2,459.0 L1198.7,454.4 L1204.2,448.4 L1207.4,442.4 L1211.7,439.8 L1217.1,431.7 M1151.3,470.5 L1153.7,462.7 L1157.9,452.6 L1158.4,445.3 L1161.9,437.5 M1217.1,431.7 L1208.2,431.2 L1200.8,434.6 L1194.1,434.2 L1185.5,433.3 L1178.3,436.2 L1168.7,436.8 L1161.9,437.5 M1190.0,484.4 L1186.9,476.1 L1184.2,468.9 M1117.8,486.8 L1123.5,482.8 L1130.2,480.7 L1138.2,477.3 L1144.4,473.3 L1151.3,470.5 M1233.5,421.4 L1227.3,424.6 L1217.1,431.7 M1139.1,418.0 L1146.0,423.2 L1150.6,427.2 L1156.0,431.4 L1161.9,437.5 M975.5,205.3 L971.2,208.3 L969.8,211.5 M981.4,244.3 L975.7,239.1 L974.4,228.8 L967.7,226.5 L965.2,220.3 M969.8,211.5 L967.7,216.0 L965.2,220.3 M917.2,261.8 L921.8,256.5 L926.5,251.6 L929.8,244.7 L934.1,237.9 M965.2,220.3 L957.4,223.7 L951.5,228.7 L948.8,231.4 L939.0,234.2 L934.1,237.9 M861.2,263.5 L867.7,260.9 L875.2,258.8 L878.0,256.4 L886.6,251.7 L895.0,249.2 L898.7,245.3 L906.6,244.7 L914.5,240.8 L919.5,238.2 M934.1,237.9 L926.3,239.7 L919.5,238.2 M897.4,204.3 L895.8,209.1 L895.2,211.0 M897.4,204.3 L893.3,196.4 L888.7,188.1 M888.7,188.1 L880.6,188.5 L872.6,187.7 L865.1,187.9 L857.4,188.7 M895.2,211.0 L893.3,213.6 L891.0,216.1 M891.0,216.1 L884.8,220.6 L878.9,227.2 L873.3,229.6 L867.1,235.5 L861.3,239.4 L855.3,244.4 L849.7,249.0 M857.4,188.7 L850.9,193.4 L842.0,196.1 L834.1,202.2 L830.9,206.9 L823.0,211.0 L816.0,214.1 M816.0,214.1 L814.3,219.2 L812.7,224.6 M812.7,224.6 L816.1,232.0 L822.6,241.1 M849.7,249.0 L842.3,247.9 L837.8,244.5 L829.7,243.3 L822.6,241.1 M969.8,211.5 L961.5,209.7 L954.1,209.9 L947.0,211.2 L939.7,211.1 L932.9,210.3 L925.9,209.5 L917.6,211.5 L909.3,209.5 L903.2,210.4 L895.2,211.0 M981.2,164.1 L975.5,167.9 L968.2,170.2 L962.8,173.7 L954.4,176.6 L949.5,179.7 L942.7,182.5 L935.9,184.8 L928.2,189.9 L922.5,192.1 L915.2,195.1 L909.4,201.0 L902.8,200.2 L897.4,204.3 M927.7,149.8 L923.0,156.4 L914.4,161.0 L911.8,165.0 L906.1,171.1 L898.8,176.8 L893.8,181.2 L888.7,188.1 M858.7,170.0 L860.3,178.9 L857.4,188.7 M919.5,238.2 L913.0,234.6 L908.0,230.7 L902.1,225.3 L896.7,220.7 L891.0,216.1 M849.5,255.6 L849.4,252.2 L849.7,249.0 M777.6,193.8 L785.6,196.5 L789.8,200.2 L797.4,204.3 L804.1,206.0 L809.9,210.5 L816.0,214.1 M752.7,254.3 L759.0,251.1 L764.0,247.9 L772.8,243.0 L779.2,242.6 L785.6,238.4 L792.4,233.7 L798.4,230.8 L807.3,228.7 L812.7,224.6 M766.0,280.5 L771.5,277.1 L778.4,271.1 L785.2,266.5 L789.6,264.3 L795.6,259.1 L802.2,254.2 L809.8,249.4 L814.1,245.3 L822.6,241.1" fill="none" stroke="#4499c8" stroke-width="2.1" stroke-opacity="0.85" stroke-linejoin="round" filter="url(#softl)"/>
<g filter="url(#soft)">
<ellipse cx="759.0" cy="48.3" rx="8.6" ry="10.3" transform="rotate(0 759.0 48.3)" fill="#d6ae52"/>
<ellipse cx="801.8" cy="54.4" rx="9.5" ry="12.9" transform="rotate(0 801.8 54.4)" fill="#d6ae52"/>
<ellipse cx="836.6" cy="60.4" rx="8.6" ry="12.9" transform="rotate(15 836.6 60.4)" fill="#d6ae52"/>
<ellipse cx="883.1" cy="72.5" rx="8.6" ry="12.9" transform="rotate(0 883.1 72.5)" fill="#d6ae52"/>
<ellipse cx="941.8" cy="57.8" rx="12.1" ry="11.6" transform="rotate(-20 941.8 57.8)" fill="#d6ae52"/>
<ellipse cx="968.5" cy="64.7" rx="12.1" ry="10.8" transform="rotate(-20 968.5 64.7)" fill="#d6ae52"/>
<ellipse cx="999.5" cy="63.9" rx="11.2" ry="8.2" transform="rotate(-10 999.5 63.9)" fill="#d6ae52"/>
<ellipse cx="999.5" cy="89.7" rx="12.1" ry="9.1" transform="rotate(-10 999.5 89.7)" fill="#d6ae52"/>
<ellipse cx="766.8" cy="131.9" rx="15.1" ry="25.9" transform="rotate(0 766.8 131.9)" fill="#d6ae52"/>
<ellipse cx="844.4" cy="122.5" rx="9.5" ry="10.3" transform="rotate(0 844.4 122.5)" fill="#d6ae52"/>
<ellipse cx="881.4" cy="143.2" rx="14.7" ry="12.1" transform="rotate(0 881.4 143.2)" fill="#d6ae52"/>
<ellipse cx="887.5" cy="163.0" rx="16.4" ry="11.2" transform="rotate(0 887.5 163.0)" fill="#d6ae52"/>
<ellipse cx="1007.3" cy="120.7" rx="9.5" ry="10.3" transform="rotate(0 1007.3 120.7)" fill="#d6ae52"/>
<ellipse cx="732.3" cy="172.5" rx="6.9" ry="8.6" transform="rotate(0 732.3 172.5)" fill="#d6ae52"/>
<ellipse cx="928.0" cy="175.9" rx="12.9" ry="10.3" transform="rotate(-15 928.0 175.9)" fill="#d6ae52"/>
<ellipse cx="1019.3" cy="175.9" rx="11.2" ry="12.9" transform="rotate(-10 1019.3 175.9)" fill="#d6ae52"/>
<ellipse cx="936.6" cy="199.2" rx="12.1" ry="9.1" transform="rotate(-15 936.6 199.2)" fill="#d6ae52"/>
<ellipse cx="770.2" cy="230.2" rx="15.9" ry="11.2" transform="rotate(0 770.2 230.2)" fill="#d6ae52"/>
<ellipse cx="921.1" cy="223.3" rx="12.1" ry="7.8" transform="rotate(0 921.1 223.3)" fill="#d6ae52"/>
<ellipse cx="1009.8" cy="216.4" rx="12.1" ry="8.2" transform="rotate(0 1009.8 216.4)" fill="#d6ae52"/>
<ellipse cx="899.5" cy="238.8" rx="13.8" ry="8.2" transform="rotate(0 899.5 238.8)" fill="#d6ae52"/>
<ellipse cx="903.0" cy="253.5" rx="12.1" ry="7.8" transform="rotate(0 903.0 253.5)" fill="#d6ae52"/>
<ellipse cx="1007.3" cy="255.2" rx="13.4" ry="10.3" transform="rotate(-15 1007.3 255.2)" fill="#d6ae52"/>
<ellipse cx="799.5" cy="271.6" rx="9.5" ry="6.9" transform="rotate(-10 799.5 271.6)" fill="#d6ae52"/>
<ellipse cx="737.5" cy="278.5" rx="7.8" ry="6.9" transform="rotate(0 737.5 278.5)" fill="#d6ae52"/>
<ellipse cx="900.4" cy="279.3" rx="13.8" ry="9.5" transform="rotate(0 900.4 279.3)" fill="#d6ae52"/>
<ellipse cx="828.8" cy="292.3" rx="12.9" ry="7.8" transform="rotate(-5 828.8 292.3)" fill="#d6ae52"/>
<ellipse cx="978.8" cy="307.8" rx="13.8" ry="10.3" transform="rotate(10 978.8 307.8)" fill="#d6ae52"/>
<ellipse cx="846.9" cy="321.6" rx="11.2" ry="8.6" transform="rotate(0 846.9 321.6)" fill="#d6ae52"/>
<ellipse cx="925.4" cy="330.2" rx="12.1" ry="8.2" transform="rotate(0 925.4 330.2)" fill="#d6ae52"/>
<ellipse cx="738.3" cy="337.1" rx="12.1" ry="8.6" transform="rotate(0 738.3 337.1)" fill="#d6ae52"/>
<ellipse cx="728.9" cy="44.9" rx="1.7" ry="5.2" transform="rotate(0 728.9 44.9)" fill="#d6ae52"/>
<ellipse cx="821.1" cy="38.0" rx="3.4" ry="1.7" transform="rotate(0 821.1 38.0)" fill="#d6ae52"/>
<ellipse cx="1300.4" cy="41.4" rx="17.2" ry="6.0" transform="rotate(0 1300.4 41.4)" fill="#d6ae52"/>
<ellipse cx="1178.8" cy="54.4" rx="9.9" ry="12.9" transform="rotate(0 1178.8 54.4)" fill="#d6ae52"/>
<ellipse cx="1234.9" cy="64.7" rx="11.6" ry="8.6" transform="rotate(10 1234.9 64.7)" fill="#d6ae52"/>
<ellipse cx="1295.2" cy="69.9" rx="11.2" ry="8.6" transform="rotate(-10 1295.2 69.9)" fill="#d6ae52"/>
<ellipse cx="1088.3" cy="72.5" rx="8.6" ry="12.1" transform="rotate(0 1088.3 72.5)" fill="#d6ae52"/>
<ellipse cx="1096.1" cy="85.4" rx="10.3" ry="12.1" transform="rotate(0 1096.1 85.4)" fill="#d6ae52"/>
<ellipse cx="1121.9" cy="79.4" rx="8.2" ry="12.1" transform="rotate(0 1121.9 79.4)" fill="#d6ae52"/>
<ellipse cx="1149.5" cy="68.2" rx="7.3" ry="16.4" transform="rotate(0 1149.5 68.2)" fill="#d6ae52"/>
<ellipse cx="1058.2" cy="98.3" rx="11.6" ry="19.0" transform="rotate(0 1058.2 98.3)" fill="#d6ae52"/>
<ellipse cx="1302.1" cy="104.4" rx="10.3" ry="12.5" transform="rotate(0 1302.1 104.4)" fill="#d6ae52"/>
<ellipse cx="1237.4" cy="112.1" rx="9.5" ry="12.9" transform="rotate(10 1237.4 112.1)" fill="#d6ae52"/>
<ellipse cx="1169.4" cy="122.5" rx="8.2" ry="12.1" transform="rotate(0 1169.4 122.5)" fill="#d6ae52"/>
<ellipse cx="1097.0" cy="142.3" rx="10.3" ry="11.2" transform="rotate(20 1097.0 142.3)" fill="#d6ae52"/>
<ellipse cx="1132.3" cy="154.4" rx="9.9" ry="12.1" transform="rotate(20 1132.3 154.4)" fill="#d6ae52"/>
<ellipse cx="1270.2" cy="150.9" rx="7.3" ry="9.5" transform="rotate(0 1270.2 150.9)" fill="#d6ae52"/>
<ellipse cx="1104.7" cy="175.9" rx="7.3" ry="12.1" transform="rotate(0 1104.7 175.9)" fill="#d6ae52"/>
<ellipse cx="1311.6" cy="168.1" rx="10.8" ry="10.8" transform="rotate(20 1311.6 168.1)" fill="#d6ae52"/>
<ellipse cx="1297.8" cy="186.3" rx="8.2" ry="6.9" transform="rotate(0 1297.8 186.3)" fill="#d6ae52"/>
<ellipse cx="1084.9" cy="207.8" rx="9.1" ry="10.8" transform="rotate(-20 1084.9 207.8)" fill="#d6ae52"/>
<ellipse cx="1195.2" cy="194.9" rx="15.5" ry="12.9" transform="rotate(0 1195.2 194.9)" fill="#d6ae52"/>
<ellipse cx="1175.4" cy="204.4" rx="12.9" ry="9.5" transform="rotate(0 1175.4 204.4)" fill="#d6ae52"/>
<ellipse cx="1303.8" cy="211.2" rx="9.9" ry="9.5" transform="rotate(-10 1303.8 211.2)" fill="#d6ae52"/>
<ellipse cx="1228.8" cy="244.9" rx="13.8" ry="15.1" transform="rotate(0 1228.8 244.9)" fill="#d6ae52"/>
<ellipse cx="1112.5" cy="249.2" rx="12.9" ry="9.5" transform="rotate(-10 1112.5 249.2)" fill="#d6ae52"/>
<ellipse cx="1284.9" cy="288.0" rx="12.1" ry="22.0" transform="rotate(0 1284.9 288.0)" fill="#d6ae52"/>
<ellipse cx="1074.5" cy="285.4" rx="12.9" ry="8.6" transform="rotate(0 1074.5 285.4)" fill="#d6ae52"/>
<ellipse cx="1140.9" cy="292.3" rx="11.6" ry="9.5" transform="rotate(-15 1140.9 292.3)" fill="#d6ae52"/>
<ellipse cx="1165.9" cy="313.0" rx="11.2" ry="18.5" transform="rotate(0 1165.9 313.0)" fill="#d6ae52"/>
<ellipse cx="1046.1" cy="331.1" rx="12.9" ry="8.6" transform="rotate(0 1046.1 331.1)" fill="#d6ae52"/>
<ellipse cx="1303.8" cy="325.0" rx="12.9" ry="8.6" transform="rotate(-15 1303.8 325.0)" fill="#d6ae52"/>
<ellipse cx="831.4" cy="342.3" rx="12.9" ry="7.8" transform="rotate(0 831.4 342.3)" fill="#d6ae52"/>
<ellipse cx="755.6" cy="352.7" rx="9.5" ry="6.9" transform="rotate(0 755.6 352.7)" fill="#d6ae52"/>
<ellipse cx="899.5" cy="351.8" rx="12.1" ry="7.8" transform="rotate(0 899.5 351.8)" fill="#d6ae52"/>
<ellipse cx="874.5" cy="370.8" rx="17.2" ry="10.3" transform="rotate(-10 874.5 370.8)" fill="#d6ae52"/>
<ellipse cx="985.7" cy="368.2" rx="11.6" ry="7.3" transform="rotate(-10 985.7 368.2)" fill="#d6ae52"/>
<ellipse cx="950.4" cy="386.3" rx="13.4" ry="7.8" transform="rotate(0 950.4 386.3)" fill="#d6ae52"/>
<ellipse cx="796.1" cy="434.5" rx="10.3" ry="15.5" transform="rotate(0 796.1 434.5)" fill="#d6ae52"/>
<ellipse cx="757.3" cy="443.2" rx="8.6" ry="11.2" transform="rotate(0 757.3 443.2)" fill="#d6ae52"/>
<ellipse cx="910.7" cy="425.1" rx="10.8" ry="9.5" transform="rotate(0 910.7 425.1)" fill="#d6ae52"/>
<ellipse cx="992.6" cy="417.3" rx="12.1" ry="7.8" transform="rotate(0 992.6 417.3)" fill="#d6ae52"/>
<ellipse cx="974.5" cy="441.4" rx="6.9" ry="9.5" transform="rotate(0 974.5 441.4)" fill="#d6ae52"/>
<ellipse cx="1007.3" cy="442.3" rx="8.6" ry="8.6" transform="rotate(0 1007.3 442.3)" fill="#d6ae52"/>
<ellipse cx="856.4" cy="463.0" rx="16.4" ry="10.3" transform="rotate(-10 856.4 463.0)" fill="#d6ae52"/>
<ellipse cx="941.2" cy="460.4" rx="8.2" ry="13.8" transform="rotate(0 941.2 460.4)" fill="#d6ae52"/>
<ellipse cx="731.4" cy="475.9" rx="4.3" ry="10.3" transform="rotate(0 731.4 475.9)" fill="#d6ae52"/>
<ellipse cx="807.3" cy="488.0" rx="16.8" ry="20.3" transform="rotate(30 807.3 488.0)" fill="#d6ae52"/>
<ellipse cx="871.1" cy="495.7" rx="9.5" ry="12.9" transform="rotate(20 871.1 495.7)" fill="#d6ae52"/>
<ellipse cx="982.3" cy="504.4" rx="9.5" ry="9.9" transform="rotate(0 982.3 504.4)" fill="#d6ae52"/>
<ellipse cx="736.6" cy="529.3" rx="9.5" ry="10.3" transform="rotate(0 736.6 529.3)" fill="#d6ae52"/>
<ellipse cx="820.2" cy="539.7" rx="13.8" ry="15.9" transform="rotate(-30 820.2 539.7)" fill="#d6ae52"/>
<ellipse cx="851.3" cy="553.5" rx="9.1" ry="12.9" transform="rotate(10 851.3 553.5)" fill="#d6ae52"/>
<ellipse cx="919.3" cy="556.9" rx="22.8" ry="15.9" transform="rotate(0 919.3 556.9)" fill="#d6ae52"/>
<ellipse cx="978.0" cy="541.4" rx="9.9" ry="15.9" transform="rotate(0 978.0 541.4)" fill="#d6ae52"/>
<ellipse cx="812.5" cy="589.7" rx="8.2" ry="10.3" transform="rotate(0 812.5 589.7)" fill="#d6ae52"/>
<ellipse cx="863.3" cy="603.5" rx="9.5" ry="13.8" transform="rotate(0 863.3 603.5)" fill="#d6ae52"/>
<ellipse cx="978.0" cy="599.2" rx="9.1" ry="10.8" transform="rotate(0 978.0 599.2)" fill="#d6ae52"/>
<ellipse cx="800.4" cy="613.8" rx="9.9" ry="9.5" transform="rotate(20 800.4 613.8)" fill="#d6ae52"/>
<ellipse cx="763.3" cy="619.8" rx="9.9" ry="11.6" transform="rotate(0 763.3 619.8)" fill="#d6ae52"/>
<ellipse cx="884.9" cy="634.5" rx="16.4" ry="7.8" transform="rotate(0 884.9 634.5)" fill="#d6ae52"/>
<ellipse cx="996.9" cy="622.4" rx="16.4" ry="14.7" transform="rotate(-20 996.9 622.4)" fill="#d6ae52"/>
<ellipse cx="964.2" cy="369.0" rx="1.7" ry="1.7" transform="rotate(0 964.2 369.0)" fill="#d6ae52"/>
<ellipse cx="733.2" cy="357.0" rx="6.9" ry="9.5" transform="rotate(0 733.2 357.0)" fill="#d6ae52"/>
<ellipse cx="1085.7" cy="341.4" rx="11.2" ry="7.3" transform="rotate(0 1085.7 341.4)" fill="#d6ae52"/>
<ellipse cx="1154.7" cy="358.7" rx="12.9" ry="9.5" transform="rotate(-10 1154.7 358.7)" fill="#d6ae52"/>
<ellipse cx="1181.4" cy="364.7" rx="12.5" ry="9.1" transform="rotate(-15 1181.4 364.7)" fill="#d6ae52"/>
<ellipse cx="1030.1" cy="371.6" rx="10.0" ry="7.8" transform="rotate(-15 1030.1 371.6)" fill="#d6ae52"/>
<ellipse cx="1047.0" cy="390.6" rx="12.5" ry="9.1" transform="rotate(-20 1047.0 390.6)" fill="#d6ae52"/>
<ellipse cx="1295.2" cy="394.0" rx="11.2" ry="9.9" transform="rotate(-20 1295.2 394.0)" fill="#d6ae52"/>
<ellipse cx="1087.5" cy="418.2" rx="12.9" ry="7.8" transform="rotate(-5 1087.5 418.2)" fill="#d6ae52"/>
<ellipse cx="1188.3" cy="421.6" rx="21.1" ry="9.5" transform="rotate(-10 1188.3 421.6)" fill="#d6ae52"/>
<ellipse cx="1273.6" cy="440.6" rx="11.2" ry="10.8" transform="rotate(-20 1273.6 440.6)" fill="#d6ae52"/>
<ellipse cx="1307.3" cy="444.9" rx="12.9" ry="10.8" transform="rotate(-20 1307.3 444.9)" fill="#d6ae52"/>
<ellipse cx="1059.9" cy="454.4" rx="9.5" ry="6.5" transform="rotate(0 1059.9 454.4)" fill="#d6ae52"/>
<ellipse cx="1175.4" cy="449.2" rx="14.7" ry="8.6" transform="rotate(-5 1175.4 449.2)" fill="#d6ae52"/>
<ellipse cx="1220.2" cy="457.8" rx="11.2" ry="9.9" transform="rotate(-25 1220.2 457.8)" fill="#d6ae52"/>
<ellipse cx="1040.1" cy="474.2" rx="17.2" ry="8.2" transform="rotate(-5 1040.1 474.2)" fill="#d6ae52"/>
<ellipse cx="1086.6" cy="479.4" rx="12.1" ry="10.8" transform="rotate(-20 1086.6 479.4)" fill="#d6ae52"/>
<ellipse cx="1152.1" cy="490.6" rx="10.8" ry="9.9" transform="rotate(-20 1152.1 490.6)" fill="#d6ae52"/>
<ellipse cx="1282.3" cy="488.8" rx="10.8" ry="9.1" transform="rotate(0 1282.3 488.8)" fill="#d6ae52"/>
<ellipse cx="1052.1" cy="513.0" rx="12.1" ry="9.1" transform="rotate(-15 1052.1 513.0)" fill="#d6ae52"/>
<ellipse cx="1068.5" cy="519.0" rx="11.6" ry="9.1" transform="rotate(-15 1068.5 519.0)" fill="#d6ae52"/>
<ellipse cx="1167.6" cy="513.0" rx="10.8" ry="8.6" transform="rotate(-20 1167.6 513.0)" fill="#d6ae52"/>
<ellipse cx="1247.8" cy="530.2" rx="11.2" ry="8.6" transform="rotate(-20 1247.8 530.2)" fill="#d6ae52"/>
<ellipse cx="1192.6" cy="544.0" rx="12.5" ry="17.2" transform="rotate(0 1192.6 544.0)" fill="#d6ae52"/>
<ellipse cx="1114.2" cy="539.7" rx="12.1" ry="8.6" transform="rotate(-15 1114.2 539.7)" fill="#d6ae52"/>
<ellipse cx="1056.4" cy="556.1" rx="11.2" ry="8.6" transform="rotate(-20 1056.4 556.1)" fill="#d6ae52"/>
<ellipse cx="1098.7" cy="568.1" rx="10.3" ry="9.1" transform="rotate(-25 1098.7 568.1)" fill="#d6ae52"/>
<ellipse cx="1236.6" cy="557.8" rx="12.5" ry="9.1" transform="rotate(-20 1236.6 557.8)" fill="#d6ae52"/>
<ellipse cx="1154.7" cy="594.0" rx="11.6" ry="8.6" transform="rotate(-15 1154.7 594.0)" fill="#d6ae52"/>
<ellipse cx="1248.7" cy="591.4" rx="12.9" ry="6.0" transform="rotate(-10 1248.7 591.4)" fill="#d6ae52"/>
<ellipse cx="1059.9" cy="617.3" rx="10.3" ry="9.1" transform="rotate(-20 1059.9 617.3)" fill="#d6ae52"/>
<ellipse cx="1150.4" cy="618.1" rx="9.9" ry="10.3" transform="rotate(20 1150.4 618.1)" fill="#d6ae52"/>
<ellipse cx="1194.4" cy="627.6" rx="6.9" ry="6.9" transform="rotate(0 1194.4 627.6)" fill="#d6ae52"/>
<ellipse cx="1103.0" cy="636.2" rx="10.3" ry="4.3" transform="rotate(0 1103.0 636.2)" fill="#d6ae52"/>
<ellipse cx="1271.1" cy="629.3" rx="13.8" ry="10.3" transform="rotate(0 1271.1 629.3)" fill="#d6ae52"/>
<ellipse cx="1305.5" cy="636.2" rx="9.5" ry="3.4" transform="rotate(0 1305.5 636.2)" fill="#d6ae52"/>
</g>
</g>
<clipPath id="clipA2"><rect x="1395" y="39.5" width="602" height="602.5"/></clipPath>
<rect x="1395" y="39.5" width="602" height="602.5" fill="#08141b"/>
<g clip-path="url(#clipA2)">
<path d="M1447.3,231.6 L1440.8,237.3 L1436.6,239.5 L1429.9,245.6 M1375.5,48.7 L1380.3,51.7 L1388.3,56.4 L1394.3,59.5 L1400.7,63.3 L1407.7,67.3 L1413.4,70.7 L1419.3,74.8 L1425.5,79.2 L1432.3,81.5 L1437.9,84.5 L1445.1,88.4 L1450.7,90.9 L1457.5,95.6 M892.5,5.0 L899.5,6.9 L906.9,9.6 L912.9,8.1 L919.9,9.9 L925.6,14.5 L934.4,14.5 L940.0,16.7 L945.8,19.0 L954.1,22.0 L960.2,22.8 L967.5,24.5 L974.0,25.9 L981.5,26.1 L988.6,29.0 L996.0,31.8 L1003.3,29.3 L1009.0,31.6 L1015.9,35.9 L1021.8,35.8 L1030.1,38.4 L1038.4,40.7 L1044.3,43.8 L1050.1,43.7 L1056.5,45.6 L1065.4,48.4 L1071.2,48.0 L1077.3,49.0 L1085.1,53.5 L1089.5,51.6 L1100.1,53.9 L1105.9,55.9 L1113.2,59.6 L1119.5,61.3 L1126.3,62.8 L1134.9,65.0 L1139.3,64.8 L1146.6,67.0 L1153.8,68.3 L1161.2,70.6 L1167.8,72.3 L1174.9,72.8 L1182.8,76.0 L1188.5,77.9 L1196.0,79.7 L1202.0,80.5 L1207.0,82.6 L1215.2,83.7 L1224.8,83.9 L1229.3,88.6 L1237.1,90.3 L1241.8,89.8 L1250.5,92.2 L1258.5,94.4 L1263.8,96.3 L1270.3,97.6 L1276.7,99.2 L1283.8,101.1 L1289.7,101.1 L1298.5,104.5 L1303.9,105.7 L1310.7,109.6 L1317.1,111.0 L1324.7,111.4 L1332.1,112.3 L1340.2,115.1 L1345.8,115.1 L1352.9,117.6 M1352.9,117.6 L1362.2,118.6 L1367.4,116.3 L1374.7,116.2 L1382.8,114.6 L1388.8,114.3 L1397.2,116.3 L1403.0,114.5 L1411.6,113.1 L1416.4,113.9 L1425.0,112.2 L1433.1,112.1 L1437.0,111.7 L1445.9,112.7 L1453.1,110.0 L1460.2,109.6 M1457.5,95.6 L1459.4,102.9 L1460.2,109.6 M1422.0,579.3 L1427.2,582.9 L1434.7,587.7 L1443.9,588.6 L1447.0,592.3 L1454.4,596.5 M1454.4,596.5 L1455.7,602.5 L1458.2,609.7 M1456.6,612.4 L1457.6,612.2 L1458.2,609.7 M1456.6,612.4 L1462.0,614.2 L1468.0,620.2 L1477.8,620.8 L1481.4,625.7 L1490.7,629.9 L1496.4,632.8 L1503.1,634.9 L1511.2,638.7 L1514.8,641.5 L1520.9,645.3 L1529.0,648.5 M1447.3,231.6 L1455.6,229.9 L1461.6,230.6 M1167.4,102.3 L1175.1,107.4 L1180.9,107.0 L1186.2,110.7 L1192.3,112.6 L1199.9,116.5 L1207.3,118.3 L1215.1,123.5 L1220.7,124.6 L1228.0,127.7 L1234.7,132.0 L1238.5,133.3 L1247.8,137.6 L1252.3,139.7 L1259.2,141.6 L1265.3,144.5 L1271.7,148.5 L1277.7,151.6 L1285.3,154.5 L1292.6,157.8 L1298.9,160.2 L1304.6,162.9 L1310.4,164.9 L1318.6,167.9 L1324.8,169.8 L1332.3,173.1 L1337.9,176.5 L1345.0,179.0 L1349.6,180.3 L1356.8,183.9 L1364.2,189.4 L1367.9,189.5 L1377.0,194.9 L1383.6,196.8 L1390.3,199.9 L1398.0,202.8 L1401.6,204.6 L1409.6,207.1 L1415.7,210.2 L1421.8,214.3 L1428.6,215.4 L1434.9,219.3 L1444.2,222.4 L1450.1,225.5 L1453.0,228.2 L1461.6,230.6 M1529.3,114.8 L1521.4,111.6 L1514.0,112.9 L1506.3,108.5 L1501.9,107.9 L1491.8,105.2 L1485.8,103.2 L1479.9,100.9 L1471.7,101.0 L1462.9,97.2 L1457.5,95.6 M1529.3,114.8 L1534.8,119.2 L1538.5,124.7 L1544.2,130.9 L1549.8,138.2 L1553.9,142.3 L1559.0,148.3 L1562.4,154.9 L1568.4,159.3 M1460.2,109.6 L1466.6,114.6 L1471.2,118.7 L1480.8,122.5 L1483.4,125.9 L1490.9,130.2 L1496.9,134.5 L1502.8,138.3 L1508.7,142.2 L1516.6,145.6 L1522.4,149.3 L1527.8,154.1 M1568.4,159.3 L1560.0,158.1 L1553.5,156.5 L1545.3,154.8 L1535.8,156.1 L1527.8,154.1 M1931.8,312.5 L1939.7,312.5 L1945.0,315.3 L1952.1,316.0 L1960.0,316.3 L1970.1,318.8 L1975.7,316.8 L1982.4,319.2 L1989.1,321.4 L1994.7,321.3 L2003.7,321.2 L2012.5,321.6 L2018.0,323.9 L2022.9,323.3 L2032.2,325.6 M1931.8,312.5 L1926.0,307.1 L1922.0,300.0 M1922.0,300.0 L1925.4,299.7 L1926.8,298.0 M1926.8,298.0 L1934.2,297.5 L1941.1,300.9 L1949.1,304.4 L1957.2,305.5 L1962.8,305.4 L1969.0,306.8 L1976.9,308.6 L1982.8,310.6 L1989.5,313.6 L1996.4,315.0 L2003.0,317.9 L2010.4,319.2 L2018.0,319.7 M2032.2,325.6 L2027.3,320.3 L2018.0,319.7 M1928.8,324.8 L1929.3,318.5 L1931.8,312.5 M1928.8,324.8 L1936.8,326.2 L1942.8,327.8 L1949.8,329.1 L1956.9,329.1 L1961.0,335.8 L1969.9,334.8 L1978.7,338.6 L1984.5,338.9 L1990.8,341.7 L1995.2,343.6 L2003.5,346.1 L2011.9,345.9 L2016.7,348.6 L2024.8,349.8 L2030.9,352.6 L2038.2,355.0 L2044.8,354.7 L2049.6,358.2 L2057.9,358.9 L2064.7,359.4 L2071.4,360.2 L2078.2,363.7 L2087.3,366.9 L2092.0,368.4 L2099.8,369.3 L2105.6,371.5 L2115.2,373.7 L2117.5,376.3 L2129.0,376.3 L2136.7,379.0 L2140.9,380.3 L2146.5,381.4 L2152.5,382.3 L2161.5,385.1 L2167.5,388.5 L2173.3,390.0 L2180.7,391.2 L2187.6,393.6 L2193.3,394.0 L2200.3,397.3 L2209.4,400.5 L2215.1,401.8 L2221.8,403.7 L2228.6,404.8 L2235.0,406.2 L2244.0,406.8 L2248.9,409.2 L2256.7,413.5 L2262.2,410.6 L2269.9,415.9 L2274.4,416.8 L2282.8,416.5 L2290.4,421.1 L2296.8,421.4 L2302.6,423.6 L2310.6,425.1 L2318.5,428.3 L2321.5,431.4 L2330.7,430.9 L2337.5,431.4 L2344.1,435.1 M2032.2,325.6 L2039.1,325.4 L2044.5,331.7 L2053.5,332.3 L2057.8,335.9 L2065.4,337.5 L2072.7,338.5 L2079.5,339.7 L2086.9,342.6 L2091.3,345.9 L2099.4,349.7 L2105.6,351.8 L2112.4,353.5 L2116.5,353.5 L2122.8,358.2 L2131.6,360.4 L2138.7,362.6 L2144.0,363.7 L2149.7,368.8 L2159.3,368.5 L2164.7,372.7 L2173.3,373.9 L2178.4,378.1 L2183.1,378.4 L2191.5,380.8 L2200.4,384.8 L2205.0,385.2 L2212.3,389.2 L2217.5,390.4 L2223.2,393.1 L2232.3,396.5 L2238.6,398.7 L2244.0,399.7 L2252.5,403.0 L2257.1,405.3 L2265.4,407.9 L2271.3,408.9 L2278.2,413.6 L2284.6,413.4 L2291.4,415.2 L2297.9,418.5 L2305.3,421.2 L2312.1,425.8 L2317.4,424.9 L2324.7,428.0 L2331.0,429.8 L2338.1,432.8 L2344.1,435.1 M1928.8,324.8 L1917.2,324.5 L1910.1,324.7 M1910.1,324.7 L1916.8,329.4 L1922.2,330.7 L1930.2,334.3 L1935.4,338.8 L1942.4,341.8 L1946.8,346.2 L1953.8,348.0 L1962.6,352.9 L1965.7,354.9 L1972.8,358.0 L1977.4,363.0 L1985.6,365.5 M1985.6,365.5 L1993.4,367.2 L1999.0,368.5 L2007.0,368.6 L2012.8,370.4 L2020.8,372.6 L2025.6,373.1 L2035.6,374.1 L2040.8,375.8 L2048.8,377.7 L2054.0,378.0 L2061.0,381.4 L2068.9,380.5 L2076.7,383.0 L2080.8,384.8 L2088.1,385.4 L2095.0,387.2 L2102.0,386.9 L2109.9,389.5 L2117.5,392.0 L2123.8,393.0 L2131.4,393.8 L2135.9,395.9 L2141.0,396.5 L2150.9,397.8 L2158.8,400.3 L2164.5,400.5 L2172.4,401.6 L2177.7,404.5 L2185.6,407.1 L2191.7,404.5 L2199.5,409.1 L2205.5,410.7 L2214.4,409.8 L2218.9,410.6 L2226.8,414.0 L2233.8,413.3 L2239.2,414.5 L2245.2,415.9 L2252.1,418.5 L2261.1,420.7 L2267.5,420.7 L2274.4,423.3 L2281.0,424.2 L2287.8,424.9 L2295.0,425.7 L2303.0,426.6 L2309.2,428.1 L2317.2,431.8 L2321.7,431.8 L2328.2,433.6 L2336.7,437.6 L2341.7,437.6 L2349.4,438.0 L2356.9,439.1 M1167.4,102.3 L1175.0,105.1 L1181.2,106.5 L1187.5,109.1 L1195.4,109.6 L1200.4,112.0 L1206.6,114.7 L1215.4,119.9 L1222.4,118.7 L1227.8,120.9 L1234.8,125.6 L1241.7,127.4 L1247.6,126.7 L1252.4,130.8 L1261.8,134.4 L1267.5,135.3 L1274.9,138.6 L1281.2,138.5 L1289.1,142.3 L1295.1,142.7 L1301.4,144.5 L1306.0,148.2 L1314.4,151.2 L1323.0,152.8 L1330.0,154.4 L1335.7,155.9 L1341.7,159.1 L1348.1,162.2 L1353.1,163.9 L1360.9,166.1 L1368.8,167.8 L1374.7,169.2 L1382.4,171.9 L1389.0,173.3 L1396.6,175.9 L1403.1,178.7 L1409.2,181.2 L1416.0,183.6 L1423.4,186.4 L1429.4,189.7 L1434.7,191.5 L1442.2,190.8 L1449.3,194.3 L1457.3,196.2 L1462.3,199.2 L1469.0,201.1 M1461.6,230.6 L1468.3,232.1 L1477.9,234.0 L1489.3,233.5 L1496.3,234.4 M1496.3,234.4 L1489.5,228.2 L1486.2,222.3 L1480.6,213.9 L1475.7,207.7 L1470.7,202.3 M1469.0,201.1 L1471.6,201.0 L1470.7,202.3 M1470.7,202.3 L1477.3,203.6 L1484.1,204.6 L1492.5,205.9 L1499.7,209.0 L1507.7,207.8 L1514.2,211.3 L1521.3,212.0 L1529.2,213.8 L1536.4,214.5 L1543.0,216.4 L1551.2,217.4 M1504.8,238.1 L1499.6,238.0 L1496.3,234.4 M1504.8,238.1 L1511.9,238.3 L1519.8,238.8 L1526.1,239.2 L1532.3,238.7 L1539.4,241.2 L1546.5,240.0 L1553.7,241.5 L1563.3,240.3 L1568.9,241.7 L1575.4,242.0 M1575.4,242.0 L1569.0,236.4 L1562.0,230.5 L1557.5,222.5 L1551.2,217.4 M1534.7,189.6 L1542.4,195.5 L1548.1,198.2 L1552.7,204.2 L1559.7,211.2 L1565.2,214.9 M1534.7,189.6 L1540.2,191.2 L1549.5,193.8 L1557.0,193.1 L1564.3,194.9 L1571.1,197.6 L1578.8,199.5 L1586.8,200.8 M1615.3,229.4 L1606.6,229.7 L1602.3,226.0 L1592.5,221.0 L1585.8,220.9 L1581.8,220.4 L1571.8,218.2 L1565.2,214.9 M1615.3,229.4 L1616.6,221.1 L1615.4,212.8 M1586.8,200.8 L1595.2,204.1 L1600.4,205.6 L1608.1,210.8 L1615.4,212.8 M1718.9,195.8 L1710.5,191.7 L1705.4,188.2 L1699.7,188.1 L1691.5,188.1 L1682.2,182.7 L1678.9,181.1 L1669.5,179.3 L1663.6,178.0 L1655.6,173.9 L1648.4,172.2 L1641.4,169.5 M1718.9,195.8 L1726.7,191.1 L1733.7,185.4 L1738.3,181.5 M1641.4,169.5 L1649.3,170.8 L1657.4,168.9 L1662.5,167.3 L1670.6,167.9 L1677.9,165.6 L1684.7,167.2 L1692.8,166.2 M1692.8,166.2 L1701.2,167.3 L1707.6,169.6 L1715.0,177.4 L1723.2,176.0 L1730.1,177.7 L1738.3,181.5 M1415.5,269.8 L1421.5,269.7 L1431.1,271.2 L1437.7,270.1 L1448.7,267.6 L1456.0,267.9 L1463.8,271.0 L1471.3,269.4 M1415.5,269.8 L1419.5,264.4 L1422.9,258.8 L1428.9,252.6 L1431.8,247.1 M1471.3,269.4 L1463.3,263.9 L1455.5,257.5 M1431.8,247.1 L1440.6,248.9 L1447.7,253.3 L1455.5,257.5 M1429.9,245.6 L1431.4,247.4 L1431.8,247.1 M1413.3,270.7 L1414.7,271.6 L1415.5,269.8 M1501.3,262.3 L1492.7,261.1 L1485.0,260.8 L1478.5,259.7 L1469.5,259.1 L1462.7,258.9 L1455.5,257.5 M1501.3,262.3 L1501.0,273.6 L1501.2,282.5 M1501.2,282.5 L1493.9,277.3 L1486.0,274.5 L1479.7,274.1 L1471.3,269.4 M1528.3,255.0 L1522.4,251.2 L1515.1,244.2 L1510.1,242.1 L1504.8,238.1 M1528.3,255.0 L1517.8,257.5 L1510.6,260.5 L1501.3,262.3 M1215.5,416.1 L1223.8,419.1 L1228.6,420.7 L1236.3,421.7 L1243.7,425.9 L1248.8,426.6 L1259.6,430.3 L1263.4,433.6 L1270.2,434.2 L1276.6,435.2 L1283.3,436.8 L1289.7,441.2 L1294.4,444.8 L1301.5,446.2 L1308.8,447.7 L1315.4,452.1 L1323.8,453.7 L1330.3,454.8 L1336.3,456.0 L1343.5,458.7 L1349.4,459.3 L1356.0,463.6 L1362.5,465.6 L1369.5,466.4 L1375.5,468.9 L1382.8,471.6 L1390.9,473.0 L1394.4,477.1 L1402.7,478.5 L1412.5,482.3 L1417.2,484.0 L1423.4,486.3 L1430.0,487.5 M1215.5,416.1 L1221.9,416.6 L1229.1,420.3 L1238.2,419.3 L1244.8,421.0 L1251.7,422.1 L1258.6,423.6 L1264.3,425.0 L1271.8,425.6 L1277.2,429.3 L1285.2,426.9 L1290.3,427.2 L1299.0,432.7 L1305.0,432.2 L1311.8,435.0 L1321.0,435.4 L1329.1,438.1 L1335.7,437.1 L1340.3,437.8 L1346.9,442.0 L1355.5,441.6 L1362.9,444.8 L1369.1,445.2 L1377.0,445.1 L1381.8,447.5 L1390.0,447.3 L1398.0,449.1 L1405.9,449.6 L1411.9,451.9 L1418.8,453.5 L1425.5,455.4 L1432.1,453.9 L1439.8,457.9 L1446.8,457.9 M1446.8,457.9 L1442.1,464.7 L1438.1,472.9 L1434.0,480.5 L1430.0,487.5 M1458.2,609.7 L1463.6,612.0 L1473.0,610.3 L1480.9,612.4 L1488.1,611.5 L1495.4,613.5 L1498.6,615.0 L1507.5,613.9 L1514.7,613.7 L1522.6,616.2 L1528.8,618.6 L1536.1,617.2 L1543.1,618.6 M1454.4,596.5 L1461.0,595.9 L1470.7,594.8 L1476.2,595.7 L1484.9,594.2 L1494.6,592.3 L1500.0,593.0 M1500.0,593.0 L1506.4,594.8 L1512.1,600.9 L1519.7,602.7 L1525.6,608.4 L1530.7,613.8 L1537.0,614.1 L1543.1,618.6 M1529.0,648.5 L1533.1,639.2 L1538.0,634.7 L1539.6,626.9 L1543.7,618.8 M1543.7,618.8 L1544.0,620.7 L1543.1,618.6 M1738.3,181.5 L1745.9,181.2 L1752.5,183.2 L1762.7,184.5 M1734.5,213.1 L1727.7,207.2 L1724.6,201.1 L1718.9,195.8 M1734.5,213.1 L1736.5,215.8 L1740.3,215.9 M1740.3,215.9 L1747.1,217.8 L1755.3,217.9 L1760.3,223.5 L1768.1,221.5 L1775.0,223.6 L1781.0,225.4 L1789.2,227.4 L1796.1,229.1 M1796.1,229.1 L1792.0,220.9 L1785.1,217.2 L1781.4,211.3 L1777.4,202.2 L1772.9,196.2 L1767.8,192.2 L1762.7,184.5 M1771.7,260.2 L1780.8,262.0 L1786.2,264.2 L1793.2,263.1 L1798.9,267.9 L1806.7,268.6 L1814.0,272.4 L1820.1,272.9 L1826.6,275.1 L1835.1,278.3 L1840.3,277.6 L1846.9,281.4 L1854.6,282.2 M1771.7,260.2 L1778.4,257.7 L1785.2,255.0 L1791.1,250.7 L1797.0,249.1 L1804.6,245.7 L1810.6,243.3 M1810.6,243.3 L1816.6,247.7 L1822.9,249.5 L1829.4,251.4 L1834.6,254.7 L1841.6,259.1 L1847.7,260.8 L1855.9,264.1 L1861.5,267.2 M1861.5,267.2 L1859.0,275.5 L1855.4,282.1 M1854.6,282.2 L1853.3,281.8 L1855.4,282.1 M1722.8,239.4 L1726.2,234.9 L1731.4,228.2 L1737.7,221.5 L1740.3,215.9 M1722.8,239.4 L1730.3,243.8 L1737.3,248.6 L1745.8,252.3 L1752.4,254.9 L1759.7,259.2 M1796.1,229.1 L1796.8,229.1 L1798.0,229.8 M1798.0,229.8 L1802.7,236.9 L1810.6,243.3 M1759.7,259.2 L1766.6,259.7 L1771.7,260.2 M1762.7,184.5 L1768.5,183.9 L1775.2,183.2 M1816.2,195.7 L1809.6,194.0 L1804.4,190.7 L1796.1,190.2 L1789.0,187.2 L1781.0,184.7 L1775.2,183.2 M1798.0,229.8 L1807.7,231.8 L1815.8,230.8 M1836.8,203.4 L1842.0,209.5 L1849.0,215.6 L1854.2,220.1 M1836.8,203.4 L1830.2,201.3 L1824.0,197.1 L1816.2,195.7 M1815.8,230.8 L1823.6,226.9 L1829.2,225.7 L1837.3,224.9 L1847.6,221.9 L1854.2,220.1 M1413.3,270.7 L1420.1,273.9 L1426.9,277.7 L1434.4,280.5 L1440.2,283.8 L1448.7,287.3 L1456.3,290.9 L1463.1,293.3 L1468.6,297.8 M1501.2,282.5 L1505.1,285.9 L1510.3,288.4 M1468.6,297.8 L1476.2,296.6 L1484.9,295.7 L1490.2,293.9 L1498.7,294.2 L1504.6,290.5 L1511.2,291.0 M1510.3,288.4 L1511.2,289.2 L1511.2,291.0 M1474.3,195.8 L1481.6,195.7 L1487.4,194.0 L1496.0,192.9 L1501.7,190.6 L1508.4,189.4 L1517.0,189.7 L1521.7,188.5 L1529.8,187.5 M1474.3,195.8 L1468.4,186.7 L1466.3,185.2 L1458.9,177.4 L1456.0,171.8 L1450.3,165.8 L1446.3,159.9 L1442.1,154.3 L1436.5,148.6 L1432.6,142.7 M1529.8,187.5 L1522.6,183.9 L1516.8,177.2 L1513.3,172.6 L1507.6,168.4 L1500.5,161.9 L1496.0,156.9 M1432.6,142.7 L1439.8,143.8 L1446.1,147.1 L1453.1,147.0 L1460.5,148.8 L1468.0,150.4 L1475.3,152.3 L1482.4,155.1 L1488.1,157.0 L1496.0,156.9 M1534.7,189.6 L1531.8,189.2 L1529.8,187.5 M1565.2,214.9 L1558.4,215.9 L1551.2,217.4 M1469.0,201.1 L1469.7,200.1 L1474.3,195.8 M1352.9,117.6 L1359.4,119.1 L1368.5,122.3 L1376.6,126.1 L1382.6,127.0 L1389.9,127.7 L1396.6,131.4 L1403.2,133.8 L1409.4,136.8 L1419.4,136.8 L1425.5,142.0 L1432.6,142.7 M1591.4,165.9 L1590.9,171.9 L1588.6,180.7 L1590.5,185.8 L1587.8,193.0 L1586.8,200.8 M1568.4,159.3 L1575.8,161.8 L1583.7,163.0 L1591.4,165.9 M1527.8,154.1 L1521.9,154.7 L1511.7,156.6 L1504.0,156.0 L1496.0,156.9 M1718.8,299.8 L1712.2,300.4 L1704.5,303.9 L1696.9,304.3 L1688.7,304.3 L1681.1,307.8 L1674.6,309.2 L1666.2,310.6 M1741.5,335.0 L1734.3,332.0 L1727.7,330.7 L1722.2,328.4 L1713.6,326.0 L1706.8,323.7 L1698.2,320.1 L1692.4,319.9 L1686.7,317.4 L1681.0,314.0 L1674.2,313.2 L1666.2,310.6 M1741.5,335.0 L1741.7,329.4 L1741.9,319.8 L1744.1,314.3 L1745.2,306.8 M1718.8,299.8 L1727.5,299.1 L1736.6,302.5 M1736.6,302.5 L1739.3,303.8 L1742.6,305.2 M1745.2,306.8 L1746.4,307.4 L1742.6,305.2 M1847.5,354.8 L1843.6,356.4 L1839.4,360.1 M1847.5,354.8 L1854.9,355.9 L1861.7,359.7 L1868.1,361.8 L1875.2,363.3 L1884.0,366.7 L1889.2,367.7 L1896.6,371.3 L1904.3,374.4 L1910.9,374.1 L1919.4,378.7 L1925.2,381.1 L1929.9,381.7 L1937.9,385.5 L1944.2,386.3 L1953.9,389.5 L1959.0,393.0 L1966.3,393.4 M1942.0,404.1 L1947.9,405.3 L1956.2,406.1 L1963.4,405.6 L1971.1,405.9 L1978.7,407.6 L1986.3,408.2 L1992.6,409.4 M1966.3,393.4 L1972.3,397.8 L1980.7,399.4 L1986.2,406.0 L1992.6,409.4 M1942.0,404.1 L1933.8,400.5 L1929.1,397.8 L1921.0,397.6 L1914.0,392.3 L1905.9,389.3 L1900.2,389.3 L1895.8,383.7 L1889.8,382.9 L1880.9,380.2 L1874.7,375.9 L1865.8,373.0 L1860.8,370.8 L1853.3,369.4 L1847.2,365.7 M1839.4,360.1 L1842.3,363.8 L1847.2,365.7 M1903.4,407.4 L1895.7,403.9 L1887.8,400.2 L1880.9,394.9 L1874.4,393.0 L1867.1,389.5 M1903.4,407.4 L1912.0,407.0 L1917.8,405.5 L1924.1,404.3 L1935.5,406.3 L1942.0,404.1 M1847.2,365.7 L1853.0,371.9 L1857.8,378.1 L1860.4,382.7 L1867.1,389.5 M1656.6,196.0 L1662.9,202.0 L1667.0,205.4 L1671.5,210.1 L1676.1,213.6 L1682.2,220.0 L1686.9,227.0 L1692.2,230.2 M1656.6,196.0 L1650.3,192.4 L1643.3,188.6 L1636.8,187.5 L1628.7,184.9 L1621.9,181.4 M1621.9,181.4 L1625.3,188.8 L1624.8,199.2 L1627.7,206.4 L1629.5,212.8 M1692.2,230.2 L1684.6,228.7 L1677.7,227.0 L1671.1,223.8 L1665.9,222.8 L1655.4,220.3 L1649.5,217.4 L1642.9,216.2 L1636.5,214.0 L1629.5,212.8 M1694.8,231.5 L1691.7,230.3 L1692.2,230.2 M1722.8,239.4 L1716.7,236.0 L1709.4,235.9 L1701.4,233.7 L1694.8,231.5 M1734.5,213.1 L1726.7,211.1 L1719.3,210.4 L1714.6,207.7 L1707.4,204.7 L1698.2,204.3 L1693.7,203.1 L1685.7,200.1 L1678.0,201.2 L1670.7,196.4 L1663.9,198.3 L1656.6,196.0 M1613.9,165.4 L1624.4,167.1 L1630.5,167.9 L1641.4,169.5 M1613.9,165.4 L1606.8,165.6 L1598.0,167.4 M1598.0,167.4 L1606.5,171.6 L1614.0,177.5 L1621.9,181.4 M1598.0,167.4 L1594.0,169.5 L1591.4,165.9 M1615.4,212.8 L1622.6,213.1 L1629.5,212.8 M1375.5,48.7 L1381.7,50.2 L1389.1,50.0 L1394.7,53.1 L1403.1,51.5 L1408.0,55.2 L1416.9,57.5 L1422.7,58.8 L1430.5,59.1 L1437.6,61.9 L1445.2,63.2 L1450.9,63.3 L1457.3,64.4 L1465.0,65.9 L1473.0,68.1 L1479.2,69.0 M1503.8,51.0 L1498.4,55.6 L1492.6,60.1 L1486.3,65.0 L1479.2,69.0 M1529.3,114.8 L1538.1,113.7 L1544.1,111.4 L1555.3,112.2 L1561.4,110.8 M1561.4,110.8 L1555.8,106.2 L1548.9,104.7 L1542.2,97.4 L1537.3,91.8 L1530.1,87.8 L1525.3,84.1 M1479.2,69.0 L1486.6,71.0 L1495.4,72.9 L1502.7,78.0 L1510.8,77.9 L1514.7,82.4 L1525.3,84.1 M1837.9,388.7 L1845.7,388.3 L1853.8,388.7 L1859.9,388.3 L1867.1,389.5 M1839.4,360.1 L1831.7,358.9 L1822.8,359.8 L1815.5,356.5 L1807.9,358.1 L1798.4,356.2 L1791.2,355.9 M1837.9,388.7 L1831.7,384.9 L1825.5,382.1 L1818.6,380.0 L1812.1,373.7 L1808.5,373.0 L1800.3,366.9 L1793.9,363.4 M1791.2,355.9 L1791.5,360.8 L1793.9,363.4 M1706.5,351.1 L1714.5,348.9 L1722.4,349.8 L1730.5,349.3 L1738.7,346.2 L1745.3,345.0 L1753.0,343.1 M1741.5,335.0 L1748.5,339.9 L1753.0,343.1 M1666.2,310.6 L1663.0,310.0 L1657.8,308.9 M1657.8,308.9 L1656.1,320.2 L1652.9,329.0 M1706.5,351.1 L1699.1,347.6 L1693.7,347.3 L1684.2,344.8 L1677.4,342.4 M1652.9,329.0 L1660.8,331.7 L1669.0,336.5 L1677.4,342.4 M1510.3,288.4 L1517.8,287.6 L1526.1,287.0 L1532.6,286.2 L1539.2,284.4 L1547.8,285.4 L1553.6,284.8 L1561.1,283.2 L1568.8,283.3 M1511.2,291.0 L1518.5,295.1 L1525.0,295.3 L1531.7,301.3 L1538.6,303.6 L1546.2,306.0 L1553.4,306.5 L1560.1,313.0 L1567.5,314.3 L1574.3,316.5 L1581.7,319.5 M1568.8,283.3 L1574.1,289.5 L1581.1,294.8 L1583.7,299.9 L1587.6,304.7 L1594.6,310.2 L1599.0,317.8 M1599.0,317.8 L1591.7,319.5 L1581.7,319.5 M1919.1,840.3 L1913.1,835.1 L1907.6,832.1 L1903.0,827.3 L1895.7,823.8 L1890.0,819.2 L1882.8,814.0 L1878.1,811.3 L1874.0,809.8 L1869.0,803.7 L1863.4,799.1 L1855.2,797.4 L1848.9,790.6 L1843.9,788.3 L1837.8,783.6 L1832.2,777.4 L1827.1,774.7 L1820.0,769.6 L1814.6,767.3 L1810.1,762.5 L1804.3,757.6 L1798.5,753.4 L1791.0,749.2 L1786.7,745.9 L1781.8,740.0 L1774.8,737.9 L1768.3,733.7 L1763.1,728.2 L1758.8,723.8 L1752.9,720.7 L1745.2,716.1 L1739.7,712.0 L1734.9,706.9 L1730.1,705.5 L1724.5,699.6 L1715.0,695.8 L1711.4,692.6 L1705.3,688.1 L1700.2,682.6 L1696.1,678.9 L1688.8,677.0 L1682.0,671.8 L1678.6,667.4 L1672.3,663.8 L1665.7,660.2 L1659.5,655.1 L1654.9,651.5 L1648.7,645.9 L1642.4,644.2 L1637.6,639.2 L1630.4,634.2 L1625.6,632.1 L1619.4,627.9 L1613.6,622.4 M1919.1,840.3 L1912.8,837.9 L1906.1,833.2 L1900.0,830.0 L1895.7,824.7 L1888.3,821.5 L1881.6,817.3 L1876.2,815.4 L1872.4,810.5 L1864.7,807.4 L1858.5,803.3 L1853.8,800.1 L1846.9,795.6 L1842.4,791.9 L1835.1,787.8 L1828.3,785.3 L1822.5,782.0 L1817.0,776.4 L1808.6,775.1 L1804.3,771.9 L1798.9,766.0 L1793.4,762.8 L1786.8,758.5 L1781.4,756.8 L1774.3,753.8 L1768.2,748.6 L1761.1,742.8 L1758.8,742.4 L1751.9,735.6 L1744.9,734.1 L1738.8,730.3 L1731.8,726.1 L1725.5,722.3 L1721.0,718.1 L1714.3,714.8 L1708.6,712.5 L1702.8,708.3 L1695.1,703.8 L1691.4,699.7 L1684.1,695.9 L1679.9,692.7 L1671.8,690.1 L1667.6,686.3 L1661.5,682.3 L1654.3,678.0 L1647.9,674.2 L1642.8,671.0 L1636.5,668.0 L1630.4,662.4 L1623.6,658.9 L1616.5,656.5 L1611.2,651.4 L1605.3,649.9 L1600.0,646.3 L1594.2,641.2 L1588.9,638.6 L1582.4,633.2 L1575.8,629.4 L1570.0,627.0 L1564.2,623.2 M1564.2,623.2 L1574.5,623.0 L1582.4,620.9 L1590.5,618.3 M1613.6,622.4 L1606.1,623.8 L1599.7,622.3 L1590.5,618.3 M1543.7,618.8 L1550.9,620.7 L1558.4,621.9 L1564.2,623.2 M1629.2,49.5 L1635.2,50.8 L1640.6,54.0 M1592.1,61.3 L1600.5,59.1 L1607.8,56.4 L1612.6,54.7 L1622.9,50.6 L1629.2,49.5 M1592.1,61.3 L1597.8,63.7 L1605.2,65.0 L1613.8,70.4 L1618.1,70.3 L1625.8,76.8 L1632.9,78.6 L1637.7,80.4 L1643.8,84.8 L1652.6,83.5 L1656.8,88.7 L1665.4,90.6 L1671.9,93.6 M1671.9,93.6 L1668.1,90.0 L1663.4,80.5 L1658.4,75.3 L1653.2,71.3 L1649.4,64.3 L1645.1,58.9 L1640.6,54.0 M1555.5,-71.1 L1561.5,-66.7 L1566.8,-62.2 L1572.6,-57.4 L1577.3,-53.3 L1582.9,-49.9 L1590.9,-44.2 L1593.7,-39.4 L1598.6,-33.9 L1604.0,-30.2 L1608.6,-26.1 L1614.3,-18.7 L1619.6,-17.0 L1626.6,-9.9 L1630.1,-8.3 L1637.4,-1.8 L1641.3,0.6 L1647.2,7.8 L1653.6,12.4 L1659.0,16.2 L1665.1,20.7 L1670.2,24.5 L1674.8,30.5 L1680.6,33.8 L1687.0,39.7 L1691.8,43.0 L1698.1,50.9 L1701.9,51.4 L1707.4,56.6 L1712.3,61.0 L1719.9,67.6 L1724.5,71.4 M1724.5,71.4 L1723.0,72.2 L1718.5,71.6 M1718.5,71.6 L1710.9,71.1 L1703.7,68.1 L1696.0,68.0 L1691.1,64.7 L1682.7,63.6 L1676.2,62.8 L1669.0,60.8 L1660.3,58.5 L1652.9,59.0 L1649.1,56.3 L1640.6,54.0 M1724.5,71.4 L1732.9,74.6 L1740.0,72.2 L1746.1,72.6 L1753.6,76.2 M1555.5,-71.1 L1560.9,-68.8 L1568.0,-63.7 L1573.4,-60.9 L1580.9,-57.2 L1586.8,-55.9 L1592.8,-49.2 L1599.8,-48.0 L1605.6,-42.7 L1611.1,-38.8 L1617.6,-36.3 L1624.6,-30.2 L1630.7,-29.5 L1638.0,-25.9 L1643.8,-24.2 L1650.2,-18.4 L1654.9,-13.5 L1662.3,-11.6 L1667.5,-9.5 L1674.5,-5.9 L1681.9,0.0 L1687.0,1.1 L1693.6,5.1 L1700.4,9.9 L1706.1,13.3 L1713.9,18.4 L1718.6,21.0 L1725.2,22.7 L1733.0,27.7 L1738.2,31.2 L1744.2,33.3 L1752.4,38.7 L1757.2,42.3 L1763.3,44.9 M1763.3,44.9 L1762.1,52.5 L1759.0,60.2 L1756.6,68.1 L1753.6,76.2 M1890.4,255.3 L1900.5,255.6 L1906.2,257.2 L1913.4,257.5 M1890.4,255.3 L1883.3,259.2 L1876.9,260.9 L1870.2,263.6 L1863.5,267.4 M1913.4,257.5 L1917.5,264.6 L1920.2,269.2 L1922.5,276.3 L1925.2,283.6 M1863.5,267.4 L1870.7,270.7 L1878.1,271.4 L1886.1,274.6 L1894.0,273.9 L1899.6,277.4 L1905.6,280.0 L1912.4,279.8 L1920.8,284.1 M1920.8,284.1 L1922.0,283.6 L1925.2,283.6 M1815.8,230.8 L1824.4,232.2 L1828.1,233.2 L1835.7,237.2 L1843.0,238.2 L1848.9,239.6 L1856.6,242.5 L1860.5,247.5 L1870.5,248.9 L1877.2,249.8 L1884.7,252.0 L1890.4,255.3 M1861.5,267.2 L1864.4,267.5 L1863.5,267.4 M1922.0,300.0 L1912.7,298.8 L1909.1,295.7 L1900.8,293.8 L1891.7,289.4 L1886.2,289.6 L1877.9,286.9 L1869.3,287.1 L1862.4,283.6 L1855.4,282.1 M1926.8,298.0 L1922.5,291.2 L1920.8,284.1 M1967.8,292.9 L1974.8,295.8 L1980.1,298.4 L1988.0,302.3 L1992.7,308.0 L1998.9,308.1 L2004.5,312.6 L2013.4,316.6 L2018.0,319.7 M1967.8,292.9 L1960.4,292.2 L1954.9,289.0 L1947.9,289.1 L1939.8,284.3 L1932.4,286.5 L1925.2,283.6 M1967.8,292.9 L1967.1,287.5 L1967.1,276.5 L1966.6,269.9 M1966.6,269.9 L1975.0,271.0 L1983.1,271.3 L1990.1,272.4 M1913.4,257.5 L1917.2,256.5 L1918.4,256.6 M1966.6,269.9 L1959.9,266.7 L1952.0,266.3 L1945.3,263.7 L1938.9,262.5 L1933.0,261.1 L1926.3,258.7 L1918.4,256.6 M1854.2,220.1 L1860.8,221.4 L1868.1,225.0 L1873.7,230.4 L1880.8,232.0 L1890.3,234.3 L1896.8,237.5 M1918.4,256.6 L1915.6,251.8 L1906.8,248.8 L1901.4,240.8 L1896.8,237.5 M1616.0,255.3 L1618.7,260.6 L1623.5,267.5 L1625.6,273.5 L1633.1,278.4 L1634.6,285.1 M1616.0,255.3 L1609.2,258.8 L1603.8,260.1 L1594.9,262.6 L1590.3,267.3 L1580.3,267.0 L1574.5,270.4 L1569.1,274.7 M1634.6,285.1 L1628.4,287.5 L1621.4,289.6 M1621.4,289.6 L1616.4,288.5 L1607.5,287.1 L1599.5,282.6 L1593.5,283.1 L1584.8,281.2 L1580.3,278.0 L1572.5,276.7 M1569.1,274.7 L1570.9,275.4 L1572.5,276.7 M1616.4,251.9 L1616.3,254.4 L1616.0,255.3 M1575.4,242.0 L1581.4,244.7 L1589.9,246.2 L1593.9,245.0 L1603.4,248.0 L1608.9,249.5 L1616.4,251.9 M1528.3,255.0 L1533.7,257.9 L1541.1,260.8 L1549.1,263.6 L1556.6,265.8 L1564.8,270.0 L1569.1,274.7 M1718.8,299.8 L1712.2,298.8 L1704.5,296.6 L1697.3,292.1 L1690.6,293.1 L1682.6,288.3 L1675.4,288.4 L1668.9,286.1 M1657.8,308.9 L1650.8,306.2 L1643.8,301.7 L1633.9,299.6 L1628.7,294.3 L1621.4,289.6 M1668.9,286.1 L1660.0,285.7 L1651.8,287.2 L1644.7,286.0 L1634.6,285.1 M1652.9,329.0 L1647.2,326.9 L1638.0,325.3 L1631.1,324.2 L1623.1,324.3 L1612.2,323.2 L1607.0,319.0 L1599.0,317.8 M1568.8,283.3 L1568.7,279.7 L1572.5,276.7 M1641.2,257.9 L1630.8,255.1 L1625.1,252.1 M1641.2,257.9 L1648.2,261.4 L1655.1,262.3 L1663.8,265.0 L1669.5,265.3 L1675.3,265.0 L1683.7,267.8 L1689.9,269.0 L1699.0,270.6 L1705.2,271.8 L1712.5,274.4 M1625.1,252.1 L1624.0,244.1 L1620.2,232.4 M1718.3,271.4 L1715.6,272.8 L1712.5,274.4 M1718.3,271.4 L1713.1,268.0 L1703.9,262.3 L1697.2,262.0 L1690.3,258.9 L1684.1,251.8 L1678.6,247.9 L1670.8,243.3 L1663.6,240.5 M1663.6,240.5 L1655.1,238.4 L1649.3,237.1 L1639.9,236.9 L1634.5,234.8 L1626.8,231.4 L1620.2,232.4 M1668.9,286.1 L1665.0,280.0 L1658.4,276.2 L1653.5,269.4 L1646.8,263.9 L1641.2,257.9 M1616.4,251.9 L1621.7,252.6 L1625.1,252.1 M1736.6,302.5 L1731.3,297.3 L1727.4,292.0 L1722.4,287.0 L1717.6,280.9 L1712.5,274.4 M1615.3,229.4 L1617.8,230.3 L1620.2,232.4 M1758.6,269.4 L1764.4,272.8 L1772.6,277.9 L1778.7,279.6 L1785.0,285.0 L1792.4,286.8 L1799.8,289.5 L1805.9,294.4 L1812.5,298.1 M1758.6,269.4 L1750.4,268.6 L1743.5,271.9 L1733.1,270.7 L1727.0,273.3 L1718.3,271.4 M1742.6,305.2 L1749.2,303.5 L1756.6,305.8 L1763.6,303.3 L1772.4,300.1 L1775.3,302.6 L1785.3,299.5 L1792.0,300.2 L1798.7,298.7 L1805.0,297.9 L1812.5,298.1 M1759.7,259.2 L1759.2,264.1 L1758.6,269.4 M1694.8,231.5 L1688.8,234.4 L1677.6,236.4 L1672.9,238.5 L1663.6,240.5 M1845.6,347.9 L1840.1,344.3 L1833.1,339.7 L1826.6,335.7 L1820.5,331.9 L1812.6,329.8 M1845.6,347.9 L1850.8,348.2 L1860.1,347.4 L1868.0,346.9 L1874.0,346.8 L1882.6,346.8 L1891.6,345.2 L1896.9,345.6 M1812.6,329.8 L1817.4,324.2 L1821.7,316.2 L1826.3,312.4 L1831.7,305.1 M1896.9,345.6 L1895.5,338.5 L1893.9,330.6 L1893.5,322.4 M1831.7,305.1 L1838.9,305.8 L1847.6,308.3 L1856.9,308.2 L1863.8,313.2 L1871.1,313.1 M1893.5,322.4 L1887.4,318.9 L1877.9,315.7 L1871.1,313.1 M1847.5,354.8 L1846.9,351.5 L1845.6,347.9 M1753.0,343.1 L1761.0,346.3 L1767.2,347.1 L1774.7,349.4 L1783.4,353.7 L1791.2,355.9 M1745.2,306.8 L1754.5,309.6 L1758.7,312.8 L1764.7,314.0 L1773.1,316.8 L1779.3,318.0 L1784.3,320.5 L1791.7,323.6 L1799.0,325.8 L1804.2,328.5 L1812.6,329.8 M1945.3,365.7 L1937.5,361.2 L1930.1,359.3 L1925.7,357.8 L1916.4,354.3 L1910.6,349.8 L1902.8,346.4 L1896.9,345.6 M1945.3,365.7 L1949.7,369.9 L1955.0,378.6 L1960.3,385.7 L1966.3,393.4 M1812.5,298.1 L1823.3,301.2 L1831.7,305.1 M1945.3,365.7 L1953.6,366.5 L1962.4,366.3 L1969.0,364.5 L1976.8,365.1 L1985.6,365.5 M1910.1,324.7 L1901.8,323.5 L1893.5,322.4 M1854.6,282.2 L1859.0,288.3 L1863.0,295.6 L1864.0,301.6 L1864.9,308.3 L1871.1,313.1 M1511.0,53.2 L1517.6,57.4 L1521.6,63.4 L1529.3,64.5 L1536.9,68.3 L1541.0,73.0 L1547.1,76.9 L1554.3,79.9 M1511.0,53.2 L1518.5,55.2 L1524.5,56.1 L1533.3,57.7 L1539.7,58.4 L1548.5,58.2 L1554.4,58.8 L1563.1,58.2 L1569.8,59.9 M1569.8,59.9 L1569.3,59.4 L1571.2,60.5 M1571.2,60.5 L1577.3,66.4 L1581.3,72.3 L1585.1,78.0 L1589.5,83.6 M1589.5,83.6 L1582.1,84.1 L1575.6,82.4 L1567.0,81.7 L1560.6,80.1 L1554.3,79.9 M1525.3,84.1 L1533.6,81.9 L1539.6,82.6 L1548.2,80.4 L1554.3,79.9 M1503.8,51.0 L1507.7,52.4 L1511.0,53.2 M1592.1,61.3 L1580.5,58.7 L1571.2,60.5 M1571.2,113.5 L1570.7,114.2 L1574.2,113.7 M1561.4,110.8 L1566.4,110.8 L1571.2,113.5 M1632.0,101.1 L1624.2,102.3 L1617.2,104.2 L1612.6,105.0 L1603.3,106.6 L1595.3,108.1 L1588.5,110.0 L1581.8,112.3 L1574.2,113.7 M1632.0,101.1 L1624.0,100.2 L1616.7,95.6 L1613.0,91.6 L1605.1,90.9 L1597.0,84.6 L1589.5,83.6 M1613.9,165.4 L1615.7,157.8 L1614.7,149.9 M1571.2,113.5 L1576.8,118.9 L1582.9,122.9 L1589.3,126.5 L1594.9,129.8 L1601.3,133.6 L1608.5,138.5 M1614.7,149.9 L1611.8,144.1 L1608.5,138.5 M1671.9,93.6 L1680.6,101.2 L1688.8,106.2 M1632.0,101.1 L1632.3,99.3 L1632.9,101.3 M1632.9,101.3 L1639.6,102.0 L1647.9,103.6 L1654.8,102.9 L1661.5,102.3 L1669.1,104.8 L1675.3,104.6 L1681.9,104.9 L1688.8,106.2 M1726.3,102.5 L1718.5,102.4 L1710.4,105.4 L1703.1,106.0 L1692.5,107.2 M1726.3,102.5 L1724.3,95.0 L1722.4,87.0 L1719.3,78.2 L1718.5,71.6 M1688.8,106.2 L1690.1,106.4 L1692.5,107.2 M1803.8,160.7 L1795.3,153.7 L1789.0,149.8 L1782.0,143.2 M1782.0,143.2 L1774.7,141.9 L1768.7,139.9 L1760.1,136.6 L1751.5,134.3 L1746.7,131.8 L1740.4,132.3 L1731.5,129.8 L1724.7,126.8 M1766.3,172.4 L1758.5,167.7 L1753.1,165.2 L1746.9,160.7 L1742.6,158.2 L1734.5,155.0 L1728.0,150.4 L1721.4,147.0 M1766.3,172.4 L1773.2,168.4 L1782.8,166.8 L1787.1,164.6 L1794.6,165.1 L1803.8,160.7 M1724.7,126.8 L1723.4,138.3 L1721.4,147.0 M1766.3,172.4 L1772.2,178.4 L1775.2,183.2 M1816.2,195.7 L1820.8,188.8 L1824.1,182.8 L1828.2,176.5 L1832.2,171.1 M1803.8,160.7 L1813.3,164.4 L1820.1,164.8 L1828.4,169.4 M1832.2,171.1 L1831.0,171.1 L1828.4,169.4 M1753.6,76.2 L1754.9,75.5 L1756.4,77.3 M1726.3,102.5 L1733.6,105.2 L1738.0,106.3 L1744.9,107.4 L1755.4,109.0 L1760.9,110.2 L1767.3,114.5 L1775.5,113.3 L1780.5,115.3 L1790.0,117.0 L1795.7,118.1 L1800.1,121.4 L1808.1,120.8 L1814.3,122.5 L1821.9,124.8 M1821.9,124.8 L1815.3,118.9 L1811.2,116.5 L1805.0,111.5 L1798.4,107.7 L1793.3,104.0 L1786.5,98.2 L1779.0,93.7 L1773.6,89.7 L1767.1,87.6 L1762.6,79.6 L1756.4,77.3 M1185.7,344.5 L1191.4,344.6 L1199.7,348.5 L1205.3,349.5 L1212.9,351.5 L1221.4,352.1 L1227.6,353.3 L1233.4,353.6 L1240.9,356.2 L1247.1,357.6 L1254.1,358.1 L1260.6,361.8 L1267.8,363.5 L1273.7,362.2 L1281.9,365.8 L1288.0,367.2 L1296.4,369.1 L1302.2,369.4 L1307.5,371.0 L1316.4,373.8 L1321.7,373.0 L1328.8,376.3 L1334.1,375.7 L1345.6,379.0 L1349.1,379.7 L1358.1,381.8 L1363.9,381.9 L1371.8,384.2 L1378.7,386.1 L1384.2,388.6 L1391.1,389.0 L1397.8,389.8 L1405.0,390.9 L1412.4,394.3 L1419.0,394.5 M1419.0,394.5 L1428.5,396.6 L1434.1,397.4 L1442.3,398.4 L1448.2,398.8 L1457.1,398.0 M1451.6,384.4 L1453.8,392.4 L1457.1,398.0 M1835.8,623.6 L1838.1,615.6 L1841.1,603.9 L1844.1,596.9 M1906.7,615.6 L1899.7,613.0 L1894.7,610.9 M1844.1,596.9 L1851.4,596.7 L1857.4,600.2 L1865.6,603.1 L1872.2,603.4 L1880.6,606.6 L1888.4,608.4 L1894.7,610.9 M1801.6,699.9 L1795.9,695.6 L1789.2,693.2 L1783.0,688.7 L1776.1,685.4 L1769.8,683.4 L1766.6,679.4 L1758.0,676.0 L1752.1,673.0 L1745.7,669.4 L1740.7,667.0 L1730.3,662.5 L1725.7,656.6 L1718.4,654.9 L1712.2,652.1 L1704.8,649.3 L1701.1,645.4 L1693.7,641.7 L1687.2,639.4 L1681.9,636.8 L1674.6,632.8 L1668.7,628.0 M1801.6,699.9 L1795.5,695.2 L1789.6,691.4 L1785.1,687.0 L1781.1,681.8 L1774.5,678.3 L1768.6,672.3 L1763.6,668.8 L1758.5,664.7 L1751.6,659.8 L1748.0,654.3 L1741.6,649.7 L1736.0,647.5 L1730.5,640.3 L1725.2,637.0 L1720.5,630.9 L1712.9,627.6 L1708.4,623.2 M1708.4,623.2 L1699.4,622.9 L1691.4,619.5 L1684.5,618.2 L1678.5,617.5 M1668.7,628.0 L1674.4,623.3 L1678.5,617.5 M1613.6,622.4 L1620.6,621.2 L1625.8,618.8 M1668.7,628.0 L1659.5,626.7 L1652.5,624.4 L1646.9,622.8 L1640.6,621.0 L1634.7,620.9 L1625.8,618.8 M1763.3,44.9 L1771.5,47.8 L1778.3,49.2 L1786.5,50.4 L1792.0,53.6 L1798.4,56.1 L1804.9,58.8 L1812.8,60.1 M1756.4,77.3 L1765.4,79.0 L1773.6,79.4 L1779.3,81.5 L1789.1,86.1 L1797.5,85.2 M1797.5,85.2 L1805.6,86.0 L1815.0,86.9 L1822.5,85.3 L1830.5,83.5 L1839.0,84.2 M1839.0,84.2 L1832.7,78.6 L1829.9,74.9 L1823.1,69.8 L1817.4,64.9 L1812.8,60.1 M1885.0,61.3 L1884.7,62.0 L1884.4,61.4 M1812.8,60.1 L1820.8,58.6 L1827.3,61.8 L1833.2,60.3 L1841.6,61.8 L1849.2,60.6 L1856.3,62.0 L1863.3,62.9 L1870.5,60.1 L1876.5,61.2 L1884.4,61.4 M1839.0,84.2 L1845.9,87.7 L1853.6,91.7 L1861.2,94.4 L1866.8,95.4 L1875.4,98.8 L1882.5,101.8 L1888.4,106.2 L1896.1,107.4 M1884.4,61.4 L1887.6,67.5 L1887.8,76.7 L1891.1,84.3 L1891.1,92.8 L1894.2,100.8 L1896.4,107.2 M1896.1,107.4 L1896.6,108.3 L1896.4,107.2 M1958.3,77.0 L1967.0,80.2 L1973.5,82.7 L1982.0,82.7 L1989.7,86.3 M1885.0,61.3 L1885.9,61.3 L1887.5,62.0 M1958.3,77.0 L1951.7,76.2 L1943.0,74.7 L1937.0,71.4 L1930.8,70.2 L1921.7,70.2 L1916.7,67.3 L1909.8,67.5 L1901.1,67.0 L1894.5,63.7 L1887.5,62.0 M1966.9,240.1 L1967.4,247.7 L1972.1,254.4 L1975.6,260.8 M1966.9,240.1 L1957.4,240.6 L1952.9,240.6 L1940.7,238.6 L1935.9,237.3 M1935.9,237.3 L1942.9,238.2 L1948.5,245.1 L1957.2,248.3 L1962.6,253.0 L1969.4,256.6 L1975.6,260.8 M1990.1,272.4 L1983.8,267.6 L1975.6,260.8 M1896.8,237.5 L1902.8,237.9 L1910.7,235.7 L1919.9,235.3 L1926.1,234.4 M1926.1,234.4 L1931.6,236.7 L1935.9,237.3 M1649.1,141.9 L1656.6,146.2 L1662.9,151.4 M1649.1,141.9 L1648.6,138.3 L1650.0,133.2 M1693.7,143.5 L1687.4,141.7 L1679.4,140.0 L1672.5,135.6 L1665.7,135.3 L1658.3,132.6 M1693.7,143.5 L1691.9,152.3 L1688.6,162.8 M1688.6,162.8 L1681.4,160.3 L1675.3,157.1 L1670.3,154.7 L1662.9,151.4 M1650.0,133.2 L1656.0,133.3 L1658.3,132.6 M1614.7,149.9 L1624.5,151.3 L1633.4,150.5 L1638.8,152.0 L1646.4,150.5 L1655.2,151.6 L1662.9,151.4 M1608.5,138.5 L1615.3,139.5 L1624.5,139.9 L1633.1,140.5 L1642.1,141.8 L1649.1,141.9 M1574.2,113.7 L1581.0,115.6 L1589.1,118.1 L1596.2,119.0 L1602.0,122.9 L1608.7,124.3 L1616.5,124.0 L1621.1,126.8 L1628.7,127.3 L1634.6,131.0 L1643.3,131.6 L1650.0,133.2 M1632.9,101.3 L1638.4,107.9 L1643.2,114.5 L1648.0,117.6 L1654.1,126.9 L1658.3,132.6 M1692.5,107.2 L1699.1,112.8 L1704.1,112.3 L1713.4,119.5 L1716.7,122.5 L1724.7,126.8 M1721.4,147.0 L1712.8,144.7 L1703.6,146.9 L1693.7,143.5 M1692.8,166.2 L1692.2,164.6 L1688.6,162.8 M1836.8,203.4 L1845.1,202.5 L1852.8,203.1 L1859.5,202.0 L1870.3,203.4 L1875.2,202.8 L1884.0,203.1 M1926.1,234.4 L1923.6,230.3 L1917.4,223.0 L1914.8,216.5 L1909.7,210.9 M1909.7,210.9 L1900.1,207.4 L1892.7,205.0 L1884.0,203.1 M1896.1,107.4 L1898.3,112.6 L1903.0,118.1 M1797.5,85.2 L1805.4,89.4 L1811.0,94.0 L1817.3,95.4 L1823.6,99.7 L1831.6,100.7 L1837.8,107.5 L1846.1,109.3 L1853.1,111.0 L1858.3,114.6 L1865.1,119.0 L1872.6,122.7 M1872.6,122.7 L1880.8,122.6 L1888.9,123.1 L1895.0,119.3 L1903.0,118.1 M1420.2,513.5 L1427.7,515.2 L1433.9,518.9 L1440.3,521.4 L1449.3,522.2 L1452.8,525.8 L1461.0,528.3 L1468.5,530.9 L1477.1,533.8 L1482.6,534.3 L1489.8,537.8 M1420.2,513.5 L1410.8,510.1 L1405.5,511.0 L1398.7,509.0 L1390.8,506.6 L1383.8,507.5 L1376.6,506.3 L1370.7,504.8 L1364.8,503.7 L1358.8,500.8 L1349.7,499.8 L1343.0,499.6 L1336.7,497.6 L1330.2,495.8 L1324.0,493.1 L1316.1,494.1 L1308.2,491.5 L1302.9,490.6 L1293.1,488.2 L1289.1,487.4 L1282.4,488.3 L1274.0,486.1 L1266.4,483.8 L1259.6,483.5 L1252.1,481.4 L1246.4,480.8 L1237.3,477.1 L1231.6,477.4 L1225.7,476.4 L1220.6,475.6 L1212.2,473.1 L1205.5,472.9 L1197.7,470.9 M1489.8,537.8 L1482.9,537.9 L1475.3,539.7 L1466.4,536.2 L1460.4,539.3 L1451.9,538.3 L1447.3,538.5 L1435.8,538.7 L1430.0,538.8 L1422.0,539.6 M1422.0,539.6 L1413.9,538.4 L1406.3,536.7 L1399.0,534.0 L1391.5,532.4 L1384.8,531.1 L1376.0,528.7 L1368.1,527.7 L1361.0,527.5 M1197.7,470.9 L1206.0,473.1 L1211.8,473.9 L1216.9,477.8 L1223.6,481.5 L1231.3,482.8 L1238.8,484.9 L1246.1,486.7 L1252.5,490.9 L1259.1,492.2 L1265.4,494.5 L1273.2,496.6 L1277.7,499.3 L1286.0,502.0 L1293.0,505.5 L1298.6,505.3 L1307.2,507.6 L1313.7,511.0 L1318.2,514.0 L1328.3,515.9 L1332.4,518.8 L1339.5,520.3 L1347.8,522.0 L1352.5,525.0 L1361.0,527.5 M1430.0,487.5 L1432.0,487.5 L1434.2,489.2 M1438.1,497.5 L1431.3,503.5 L1426.0,507.7 L1420.2,513.5 M1434.2,489.2 L1435.5,493.5 L1438.1,497.5 M1422.0,579.3 L1427.1,574.7 L1432.1,570.5 M1432.1,570.5 L1424.5,566.2 L1419.0,562.8 L1414.6,559.8 L1407.8,555.1 L1400.7,551.5 L1394.3,547.0 L1387.7,543.4 L1382.3,541.4 L1376.7,535.3 L1370.0,531.9 M1370.0,531.9 L1366.2,529.2 L1361.0,527.5 M1489.8,537.8 L1498.1,540.4 L1504.6,541.5 M1438.1,497.5 L1447.2,500.0 L1450.6,504.5 L1457.3,508.8 L1462.3,511.0 L1469.8,516.2 L1474.8,517.4 L1483.2,523.3 L1488.5,526.1 M1488.5,526.1 L1494.9,530.2 L1499.0,536.6 L1504.6,541.5 M1434.2,489.2 L1438.0,489.7 L1441.0,490.4 M1441.0,490.4 L1447.3,494.5 L1453.3,496.0 L1459.7,499.2 L1466.6,502.5 L1472.4,507.2 L1479.5,508.6 L1485.7,512.0 M1488.5,526.1 L1488.2,518.5 L1485.7,512.0 M1493.3,494.0 L1500.6,498.1 L1507.4,502.1 L1515.3,505.3 L1522.6,510.9 M1441.0,490.4 L1448.1,491.2 L1456.2,491.7 L1465.6,492.6 L1470.7,492.3 L1478.3,493.4 L1485.5,494.9 L1493.3,494.0 M1485.7,512.0 L1491.9,512.4 L1500.9,510.4 L1508.4,511.9 L1514.6,513.3 L1522.6,510.9 M1534.8,514.0 L1542.7,512.0 L1549.0,510.0 L1557.0,509.1 L1562.7,506.5 L1571.5,505.9 M1534.8,514.0 L1541.2,516.2 L1548.6,518.5 L1556.7,522.7 L1563.2,522.3 L1570.1,527.5 L1577.3,529.8 L1584.6,530.8 L1589.2,535.4 L1598.2,537.8 L1605.9,540.0 M1571.5,505.9 L1578.0,508.3 L1586.5,509.8 L1592.0,512.5 L1599.0,516.6 L1606.4,518.9 L1611.3,521.5 L1620.3,524.8 L1628.4,527.0 L1633.3,529.1 M1605.9,540.0 L1611.9,539.8 L1619.9,541.5 L1625.8,541.6 L1634.5,540.2 L1641.5,540.5 L1647.9,541.6 M1633.3,529.1 L1637.8,531.8 L1642.4,535.1 M1647.9,541.6 L1645.4,537.2 L1642.4,535.1 M1419.0,394.5 L1423.4,399.6 L1426.4,408.3 L1430.7,416.0 M1345.0,396.5 L1353.6,398.6 L1358.7,398.8 L1366.4,400.7 L1375.6,400.3 L1380.7,402.3 L1388.8,405.5 L1396.4,407.3 L1403.1,409.7 L1410.3,411.1 L1413.5,412.0 L1422.0,415.3 L1430.7,416.0 M1468.6,297.8 L1473.4,304.5 L1477.7,311.4 L1481.6,318.0 M1581.7,319.5 L1580.9,330.6 L1581.2,338.1 M1581.2,338.1 L1574.3,336.4 L1565.6,334.6 L1559.9,333.6 L1552.3,332.3 L1544.5,330.9 L1537.0,328.6 L1530.7,328.8 L1524.7,326.6 L1516.0,324.7 L1510.8,324.9 L1501.5,321.8 L1495.9,321.2 L1488.7,320.0 L1481.6,318.0 M1143.2,251.6 L1148.7,254.6 L1155.8,254.8 L1164.2,257.4 L1171.4,258.7 L1178.7,259.3 L1185.0,262.5 L1190.4,261.2 L1197.0,265.5 L1206.0,265.4 L1211.9,267.7 L1219.5,267.0 L1224.9,270.2 L1232.5,272.0 L1238.8,273.8 L1243.5,278.0 L1253.6,277.5 L1259.0,278.6 L1268.5,281.6 L1273.4,280.2 L1280.4,282.7 L1287.9,283.3 L1293.7,286.4 L1300.3,288.7 L1306.5,288.0 L1314.1,291.6 L1321.0,291.8 L1328.9,294.1 L1334.5,295.6 L1341.6,297.7 L1348.8,297.9 L1355.1,299.8 L1362.8,302.1 L1368.5,303.2 L1376.4,306.0 L1383.2,308.3 L1389.8,308.8 L1396.3,308.7 L1403.6,311.6 L1410.7,312.9 L1416.9,313.5 L1423.8,316.3 L1431.8,314.3 L1438.3,320.1 L1445.8,321.0 L1452.1,321.7 L1458.2,324.2 L1465.2,325.3 M1481.6,318.0 L1472.3,320.9 L1465.2,325.3 M1706.5,351.1 L1712.7,353.7 L1718.5,357.5 L1724.6,362.8 L1729.8,365.8 L1735.8,368.5 L1741.9,374.7 L1748.3,378.5 M1793.9,363.4 L1790.4,369.6 L1784.4,378.1 L1779.9,383.4 M1779.9,383.4 L1773.6,381.7 L1765.1,382.1 L1756.6,378.7 L1748.3,378.5 M1677.4,342.4 L1668.9,346.9 L1664.4,350.2 L1654.6,354.4 M1581.2,338.1 L1588.0,342.7 L1591.8,343.7 M1654.6,354.4 L1646.4,352.6 L1642.1,353.0 L1634.2,350.8 L1627.3,349.0 L1622.1,347.3 L1611.0,347.4 L1607.1,345.6 L1598.7,343.9 L1591.8,343.7 M1792.9,618.0 L1785.8,611.3 L1777.8,605.1 L1771.7,600.8 M1792.9,618.0 L1793.1,629.8 L1794.4,638.1 M1771.7,600.8 L1764.1,600.7 L1758.9,599.6 L1748.3,600.4 L1740.6,600.0 L1735.4,598.3 L1726.3,600.7 L1718.3,598.1 L1712.1,598.2 L1704.4,598.2 M1794.4,638.1 L1786.2,637.1 L1779.0,633.5 L1771.8,630.5 L1763.5,629.1 L1757.0,627.0 L1749.0,622.8 L1743.2,620.9 L1735.3,618.4 M1735.3,618.4 L1728.5,614.2 L1721.7,610.3 L1714.2,606.4 L1711.9,603.1 L1704.4,598.2 M1835.8,623.6 L1829.5,622.2 L1822.0,621.3 L1814.3,620.7 L1804.0,620.7 L1800.5,619.7 L1792.9,618.0 M1708.4,623.2 L1716.4,622.2 L1726.8,617.8 L1735.3,618.4 M1678.5,617.5 L1670.5,613.6 L1665.2,609.7 L1658.9,607.3 L1651.4,600.7 L1646.0,596.8 L1640.0,594.3 L1633.0,590.8 L1629.2,587.6 L1621.7,582.7 M1678.5,587.6 L1673.3,588.1 L1664.3,588.1 L1657.9,587.6 L1649.9,583.1 L1641.8,584.7 L1636.4,583.7 L1629.7,582.2 L1621.7,582.7 M1678.5,587.6 L1686.4,592.1 L1695.8,594.8 L1704.4,598.2 M1906.7,615.6 L1915.1,614.7 L1920.0,612.0 L1926.2,609.9 L1935.3,606.4 L1943.5,608.1 L1949.5,605.2 L1957.5,602.3 L1963.1,600.6 M2262.0,679.0 L2256.2,677.5 L2247.0,674.5 L2241.1,674.6 L2234.9,672.8 L2227.6,668.8 L2223.3,670.9 L2214.8,666.3 L2208.8,663.6 L2200.7,661.5 L2194.6,661.4 L2186.9,658.7 L2179.0,656.8 L2174.9,655.5 L2168.1,653.2 L2160.1,651.8 L2153.1,651.2 L2144.6,649.4 L2140.4,646.9 L2133.0,644.9 L2126.8,643.4 L2118.6,641.7 L2113.5,640.1 L2105.8,638.2 L2098.5,635.8 L2090.4,634.2 L2086.4,632.3 L2077.8,631.7 L2072.0,629.2 L2065.5,628.0 L2058.2,624.7 L2053.1,623.8 L2043.9,622.1 L2039.0,618.8 L2032.3,618.3 L2026.2,617.2 L2017.4,616.0 L2011.9,612.7 L2004.1,610.8 L1998.0,608.1 L1990.1,605.7 L1984.1,603.8 L1975.7,604.4 L1969.6,601.9 L1963.1,600.6 M1771.7,600.8 L1770.7,591.2 L1771.5,582.4 M1844.1,596.9 L1838.9,595.9 L1837.0,594.3 M1837.0,594.3 L1830.5,593.7 L1822.4,592.9 L1815.6,591.3 L1808.2,589.1 L1799.9,585.2 L1793.9,586.3 L1787.9,583.2 L1779.5,582.9 L1771.5,582.4 M1717.2,564.5 L1710.2,562.1 L1703.5,561.4 L1697.0,560.1 L1689.7,559.6 L1682.2,556.9 M1717.2,564.5 L1724.6,566.5 L1732.2,568.7 L1738.3,570.6 L1744.2,570.2 L1752.4,574.1 L1758.6,577.3 M1682.2,556.9 L1682.0,566.3 L1679.1,573.1 L1679.4,580.4 L1678.5,587.6 M1758.6,577.3 L1763.9,579.9 L1771.5,582.4 M1963.1,600.6 L1957.2,597.7 L1952.9,592.5 L1944.4,590.0 L1938.6,583.7 L1932.6,580.0 L1926.4,575.3 M1894.7,610.9 L1893.5,602.3 L1890.7,596.6 L1890.4,587.1 L1887.2,578.4 L1884.9,570.6 M1884.9,570.6 L1894.2,571.0 L1901.7,572.0 L1909.2,573.5 L1918.1,573.8 L1926.4,575.3 M1525.0,512.0 L1526.8,519.5 L1528.2,526.3 L1530.3,535.1 L1533.3,542.1 L1534.0,549.4 M1525.0,512.0 L1529.7,513.0 L1534.8,514.0 M1605.9,540.0 L1601.1,544.3 L1591.8,546.7 L1585.6,549.7 L1577.9,553.4 L1571.7,556.2 L1566.4,560.1 M1566.4,560.1 L1559.7,558.4 L1549.4,553.8 L1541.2,550.3 L1534.0,549.4 M1525.0,512.0 L1522.9,511.2 L1522.6,510.9 M1504.6,541.5 L1508.2,544.0 L1513.7,545.1 M1534.0,549.4 L1523.8,546.7 L1513.7,545.1 M1422.0,539.6 L1430.3,542.7 L1435.4,546.3 L1443.3,546.3 L1449.0,548.9 L1454.0,553.6 L1463.4,553.0 L1469.2,555.1 L1476.4,559.0 L1481.8,562.7 L1488.7,563.9 M1513.7,545.1 L1507.5,549.6 L1502.1,554.2 L1495.8,559.2 L1488.7,563.9 M1370.0,531.9 L1377.4,535.0 L1383.9,536.0 L1391.6,539.3 L1398.1,541.4 L1402.8,544.2 L1410.7,546.6 L1416.6,548.0 L1422.4,552.2 L1429.3,552.7 L1436.5,556.1 L1444.5,559.3 L1451.4,562.7 L1456.3,564.1 L1462.4,567.5 L1467.2,570.5 L1474.6,571.8 L1479.7,575.0 L1489.7,577.4 L1495.5,579.6 M1488.7,563.9 L1492.4,571.4 L1495.5,579.6 M1432.1,570.5 L1439.5,572.8 L1446.2,573.3 L1454.5,573.8 L1461.3,575.4 L1467.8,578.7 L1475.1,579.2 L1483.8,576.8 L1490.2,580.9 L1497.2,581.1 M1495.5,579.6 L1497.1,579.5 L1497.2,581.1 M1500.0,593.0 L1499.0,586.0 L1497.5,581.3 M1497.2,581.1 L1496.3,581.0 L1497.5,581.3 M1989.7,86.3 L1996.5,90.4 L2003.3,92.5 L2008.4,92.9 L2015.7,98.3 L2021.5,97.7 L2029.3,103.0 L2034.4,104.1 L2041.3,108.4 L2049.9,109.8 L2055.8,111.9 L2062.6,114.1 L2068.2,116.2 L2075.7,119.1 L2083.1,120.4 L2089.5,125.6 L2096.7,127.4 L2100.7,129.3 L2108.7,132.8 M1904.0,107.2 L1912.4,107.9 L1918.2,108.7 L1925.9,110.1 L1931.7,110.7 L1941.5,113.7 L1947.7,112.9 L1956.5,114.2 L1961.3,115.3 L1970.5,118.0 L1976.6,118.0 L1984.1,119.6 L1992.0,119.8 L1998.1,120.2 L2006.0,118.1 L2014.5,122.6 L2020.7,123.3 L2028.2,124.6 M1904.0,107.2 L1912.3,105.4 L1919.2,103.3 L1928.8,101.1 L1936.9,99.1 M1936.9,99.1 L1942.7,100.7 L1950.1,102.9 L1959.8,105.2 L1965.4,105.5 L1972.4,108.2 L1979.6,109.0 L1985.0,110.5 L1993.9,112.5 L2003.0,113.5 L2007.8,117.1 L2015.3,118.2 L2023.7,120.1 L2030.0,122.7 L2039.4,122.6 L2045.2,125.3 M2028.2,124.6 L2036.4,125.9 L2045.2,125.3 M1939.9,131.8 L1947.0,130.3 L1954.2,131.5 L1961.0,130.3 L1969.7,128.8 L1977.2,129.5 L1985.0,129.2 L1990.0,128.5 L1999.4,128.0 L2005.3,127.3 L2013.9,124.7 L2022.1,124.5 L2028.2,124.6 M1903.0,118.1 L1909.4,121.2 L1917.1,123.9 L1924.9,126.6 L1933.3,129.1 L1939.9,131.8 M1896.4,107.2 L1901.1,108.0 L1904.0,107.2 M1887.5,62.0 L1892.8,67.4 L1900.4,71.4 L1907.1,77.5 L1912.9,79.1 L1918.8,85.0 L1924.3,90.1 L1930.4,96.0 L1936.9,99.1 M2108.7,132.8 L2102.0,132.0 L2095.4,131.9 L2088.7,130.9 L2080.5,129.6 L2071.3,127.2 L2067.4,127.5 L2061.1,128.7 L2051.0,126.5 L2045.2,125.3 M1971.8,148.7 L1968.2,144.5 L1959.4,141.7 L1952.4,138.3 L1946.3,136.0 L1939.9,131.8 M1832.2,171.1 L1834.7,172.6 L1838.7,173.2 M1884.0,203.1 L1878.6,198.1 L1874.8,191.4 L1869.7,186.7 M1838.7,173.2 L1846.6,175.8 L1853.4,181.1 L1860.2,183.9 L1869.7,186.7 M1903.5,412.4 L1904.2,409.3 L1903.4,407.4 M1903.5,412.4 L1897.4,412.9 L1888.0,412.2 L1882.6,410.6 L1875.6,411.6 L1867.3,408.6 L1860.9,410.1 M1837.9,388.7 L1834.5,392.5 L1830.3,397.7 M1860.9,410.1 L1851.6,406.6 L1843.3,403.6 L1839.4,398.0 L1830.3,397.7 M1779.9,383.4 L1788.7,385.6 L1796.3,388.7 L1805.1,392.6 M1830.3,397.7 L1822.6,396.0 L1812.8,393.1 L1805.1,392.6 M1742.1,382.8 L1748.0,387.8 L1753.5,391.0 L1761.3,392.5 L1768.3,398.3 L1775.7,403.9 L1779.6,405.9 L1785.1,408.6 L1793.1,413.5 L1798.2,417.5 L1805.5,422.5 L1811.1,425.4 M1742.1,382.8 L1734.7,382.9 L1727.3,385.4 L1717.7,382.6 L1712.7,384.2 L1704.7,384.3 M1811.1,425.4 L1805.5,425.2 L1799.3,421.7 L1791.1,420.8 L1784.6,419.7 L1777.7,417.3 L1770.1,416.1 L1762.8,414.6 L1755.2,414.7 L1749.6,413.2 L1741.4,408.7 L1734.9,409.0 L1729.4,408.7 L1723.0,407.7 L1715.6,404.9 L1707.3,404.0 L1700.7,401.0 L1694.3,400.3 M1704.7,384.3 L1697.9,391.3 L1690.0,397.8 M1694.3,400.3 L1693.0,398.4 L1690.0,397.8 M1748.3,378.5 L1746.4,381.0 L1742.1,382.8 M1654.6,354.4 L1660.8,357.4 L1666.1,360.6 L1674.8,364.3 L1680.3,369.1 L1685.4,372.7 L1692.1,377.7 L1699.0,380.6 L1704.7,384.3 M1645.3,386.1 L1651.4,386.3 L1662.0,389.0 L1666.1,393.1 L1673.6,394.7 L1683.5,396.1 L1690.0,397.8 M1599.2,352.8 L1606.0,355.6 L1609.6,360.9 L1616.5,365.2 L1622.7,368.7 L1626.0,374.0 L1633.6,378.6 L1641.6,382.0 L1645.3,386.1 M1591.8,343.7 L1596.1,347.4 L1599.2,352.8 M1992.6,409.4 L2000.2,412.1 L2006.2,415.1 L2011.5,417.1 L2019.7,420.4 L2024.1,421.1 L2034.7,423.2 L2038.7,427.7 L2048.3,428.4 L2051.8,430.1 L2058.7,432.2 L2065.0,435.6 L2072.5,438.2 L2079.1,438.9 L2086.4,442.7 L2091.8,444.6 L2099.3,447.3 L2105.5,450.3 L2113.3,451.6 L2118.9,453.2 L2125.4,457.1 L2133.1,459.1 L2138.8,460.6 L2145.7,462.6 L2152.3,466.1 L2157.9,468.7 L2165.3,471.4 L2171.7,473.6 L2180.3,475.7 L2186.2,477.2 L2191.7,478.3 L2198.6,481.4 L2205.5,482.9 L2211.2,487.4 L2219.0,488.0 L2224.9,494.5 L2232.7,494.5 L2235.9,495.8 L2245.8,499.3 L2252.3,502.4 L2258.6,504.6 L2263.4,508.6 L2271.5,507.9 L2280.0,511.4 L2286.1,512.6 L2292.1,516.3 L2297.3,517.7 L2304.8,520.0 L2311.0,521.4 L2318.8,525.2 L2326.2,527.3 L2331.0,528.3 L2338.4,531.8 L2346.9,536.7 L2353.2,535.9 L2356.9,538.9 L2364.0,542.9 L2371.7,543.5 L2378.2,547.5 L2383.9,549.1 L2390.2,550.7 L2397.5,553.6 L2404.9,556.8 L2412.1,557.4 L2416.8,559.6 L2424.3,562.5 L2430.6,566.2 L2438.9,567.2 L2444.2,569.6 L2451.3,572.1 L2456.4,574.1 L2462.8,576.9 L2471.9,578.2 L2478.1,581.0 L2483.9,585.9 L2492.1,586.8 L2497.4,589.1 L2504.3,591.5 L2510.3,593.3 L2517.4,594.4 L2526.1,598.9 L2530.3,599.0 L2537.0,602.0 L2543.8,603.7 L2550.2,607.6 L2558.1,608.0 L2564.3,611.3 L2570.0,614.3 L2577.0,617.7 L2585.0,619.0 L2590.9,621.7 M1625.8,386.7 L1618.5,391.2 L1614.2,392.5 L1605.7,394.7 M1625.8,386.7 L1619.0,385.3 L1613.8,381.4 L1607.5,379.4 L1600.1,376.6 L1592.5,374.3 L1585.7,373.3 L1578.1,369.7 L1572.9,367.1 L1567.7,363.7 L1561.5,362.1 L1553.3,362.0 L1545.6,358.0 M1605.7,394.7 L1599.6,391.1 L1592.0,390.4 L1586.2,389.0 L1580.1,387.3 L1571.4,384.6 L1563.9,381.5 L1557.9,377.4 L1553.2,376.9 L1546.6,373.2 L1537.7,372.4 L1531.6,370.4 L1524.9,367.7 L1517.7,367.1 L1511.9,362.4 L1506.2,361.9 L1498.8,359.2 M1545.6,358.0 L1538.4,356.6 L1530.4,354.8 L1521.2,351.8 L1514.7,352.1 L1509.7,350.1 L1500.8,349.9 L1493.6,347.2 M1493.6,347.2 L1495.9,353.8 L1498.8,359.2 M1645.3,386.1 L1636.0,385.1 L1625.8,386.7 M1599.2,352.8 L1591.9,353.7 L1582.8,353.2 L1575.0,356.4 L1570.7,356.4 L1562.5,355.1 L1554.7,359.2 L1545.6,358.0 M1465.2,325.3 L1472.5,328.8 L1477.6,334.0 L1483.3,337.8 L1488.0,342.3 L1493.6,347.2 M2262.0,679.0 L2255.9,676.5 L2249.8,675.1 L2242.5,671.8 L2235.1,669.5 L2229.5,667.3 L2222.4,664.8 L2215.4,661.8 L2207.0,660.7 L2202.7,656.8 L2197.4,654.2 L2189.9,653.3 L2182.6,651.8 L2176.5,648.3 L2167.9,644.7 L2162.5,645.2 L2156.5,641.2 L2149.3,639.5 L2144.1,635.7 L2136.4,634.4 L2128.3,630.8 L2123.7,629.8 L2115.5,627.2 L2110.1,624.8 L2104.1,622.1 L2095.0,619.9 L2088.2,617.3 L2083.7,617.0 L2076.5,613.1 L2068.3,609.6 L2062.9,608.4 L2055.3,605.4 L2050.8,604.5 L2042.7,601.4 L2037.3,599.1 L2029.6,594.8 L2021.0,592.1 L2013.8,591.7 L2009.7,588.5 L2003.2,587.4 L1996.0,583.1 L1990.9,583.6 L1982.2,581.8 L1976.2,576.8 L1969.5,575.2 M1926.4,575.3 L1929.6,570.1 L1933.7,568.6 M1969.5,575.2 L1962.0,572.3 L1956.3,572.9 L1946.6,571.8 L1939.1,570.1 L1933.7,568.6 M1837.0,594.3 L1833.1,588.3 L1827.1,582.0 L1823.6,576.1 L1820.9,571.6 L1816.6,563.2 L1810.6,557.7 M1758.6,577.3 L1758.1,570.1 L1759.6,560.8 L1758.8,557.4 L1759.7,548.4 M1810.6,557.7 L1802.1,555.6 L1795.4,555.5 L1788.7,553.4 L1780.0,553.0 L1774.3,550.4 L1767.0,550.5 L1759.7,548.4 M1599.8,591.4 L1597.2,582.6 L1597.6,576.9 M1599.8,591.4 L1591.2,591.6 L1581.7,592.9 L1578.3,594.2 L1570.7,592.7 L1562.0,598.0 L1554.6,597.7 M1554.6,597.7 L1549.2,595.0 L1539.8,593.6 L1532.4,590.6 L1524.9,588.8 L1519.6,588.2 L1512.6,584.3 M1512.6,584.3 L1520.3,582.8 L1527.3,581.4 L1534.8,581.6 L1542.6,581.9 L1547.5,580.5 L1557.6,578.1 L1566.2,577.8 L1574.1,578.4 L1580.0,577.1 L1587.4,575.0 L1593.8,575.2 M1597.6,576.9 L1594.9,574.1 L1593.8,575.2 M1625.8,618.8 L1621.1,612.6 L1616.1,608.4 L1608.8,603.1 L1605.2,597.1 L1599.8,591.4 M1621.7,582.7 L1614.1,580.8 L1605.7,579.9 L1597.6,576.9 M1590.5,618.3 L1582.3,613.0 L1575.4,611.1 L1568.6,607.9 L1558.7,601.1 L1554.6,597.7 M1497.5,581.3 L1504.6,583.1 L1512.6,584.3 M1566.4,560.1 L1574.6,563.6 L1579.1,568.5 L1588.5,568.8 L1593.8,575.2 M1682.2,556.9 L1675.9,554.1 L1667.7,550.3 L1661.9,547.7 L1654.5,543.5 L1647.9,541.6 M1971.8,148.7 L1966.3,153.4 L1960.3,158.8 L1954.4,164.8 M1954.4,164.8 L1961.0,168.8 L1967.5,172.0 L1972.3,175.1 L1980.4,177.3 L1986.4,178.4 L1993.0,184.0 L1997.1,188.2 L2005.2,191.3 L2012.0,194.7 L2018.7,197.3 L2025.5,201.7 L2029.2,204.1 L2037.3,206.3 L2045.6,211.6 L2049.7,212.8 L2058.0,216.6 L2063.3,218.5 L2069.9,224.9 L2076.0,226.9 L2084.6,231.2 L2090.7,234.2 L2096.9,235.2 L2101.3,238.5 L2110.7,243.6 L2114.8,245.9 L2121.4,250.0 M1966.9,240.1 L1973.3,236.4 L1984.1,238.3 L1989.4,236.2 L1996.8,237.1 L2004.3,236.6 L2011.0,235.4 L2020.3,234.8 L2027.3,233.4 L2033.4,233.2 L2041.9,231.8 M1909.7,210.9 L1916.6,210.8 L1925.0,211.0 L1931.0,214.3 L1939.8,214.0 L1946.2,215.8 L1953.3,215.3 L1961.1,217.2 L1968.1,219.0 L1975.6,218.3 L1982.7,221.6 L1989.1,220.2 L1996.3,221.7 L2003.2,222.7 L2011.7,223.1 M2011.7,223.1 L2020.0,224.5 L2026.0,226.0 L2034.4,228.5 L2041.9,231.8 M2041.9,231.8 L2048.5,233.0 L2055.7,235.9 L2065.2,234.6 L2070.0,238.7 L2077.0,239.5 L2085.5,243.1 L2093.7,243.1 L2099.8,244.7 L2106.7,245.5 L2112.4,248.0 L2121.4,250.0 M1430.7,416.0 L1439.2,419.1 L1445.9,420.6 M1345.0,396.5 L1349.4,399.3 L1356.9,402.9 L1362.8,406.6 L1370.0,409.3 L1377.4,409.8 L1382.6,416.4 L1389.2,419.0 L1395.9,420.5 L1402.1,425.1 L1409.4,428.6 L1413.3,431.0 L1419.3,433.1 L1426.8,436.9 L1433.7,440.6 L1439.0,443.3 L1446.4,445.5 L1452.3,448.6 M1445.9,420.6 L1446.3,428.1 L1449.4,435.4 L1450.6,441.3 L1452.3,448.6 M1457.1,398.0 L1459.5,399.9 L1461.1,400.8 M1461.1,400.8 L1457.7,409.4 L1452.3,416.2 L1448.9,420.8 M1445.9,420.6 L1444.4,421.7 L1448.9,420.8 M1446.8,457.9 L1456.1,461.0 L1467.1,460.2 M1493.3,494.0 L1491.8,486.5 L1491.0,475.7 L1491.3,468.2 M1491.3,468.2 L1484.0,466.4 L1474.5,465.3 L1467.1,460.2 M1467.1,460.2 L1459.3,455.9 L1452.3,448.6 M1564.3,421.5 L1559.1,414.8 L1556.0,409.0 L1552.1,402.1 L1547.6,397.9 L1543.3,392.7 M1564.3,421.5 L1556.8,419.1 L1551.1,415.7 L1545.6,413.8 L1538.7,412.1 L1531.7,408.9 L1524.9,406.0 L1519.3,402.2 L1510.8,398.8 L1504.9,397.9 L1499.2,394.4 L1493.3,392.7 L1487.7,388.7 L1480.4,387.3 L1472.4,384.1 L1466.8,381.3 M1543.3,392.7 L1535.8,389.3 L1530.5,384.7 L1522.6,382.5 L1517.0,379.4 L1510.7,376.1 L1503.2,374.4 L1497.4,370.8 L1490.5,367.5 M1466.8,381.3 L1469.1,376.3 L1471.5,369.4 M1471.5,369.4 L1482.4,368.1 L1490.5,367.5 M1620.8,413.3 L1613.9,407.1 L1608.5,403.0 M1608.5,403.0 L1602.9,401.0 L1592.7,401.0 L1587.8,398.4 L1579.4,397.0 L1571.5,398.9 L1565.2,395.9 L1557.8,395.3 L1550.4,392.7 L1543.3,392.7 M1606.6,431.4 L1598.0,432.9 L1590.9,431.5 L1583.5,431.1 L1576.8,429.2 M1606.6,431.4 L1612.0,425.2 L1618.1,418.4 L1620.8,413.3 M1576.8,429.2 L1570.3,424.5 L1564.3,421.5 M1565.4,437.1 L1558.9,437.9 L1553.9,439.4 M1565.4,437.1 L1570.2,432.8 L1576.8,429.2 M1461.1,400.8 L1469.3,401.8 L1473.1,405.4 L1480.5,410.1 L1488.3,412.3 L1494.4,417.0 L1499.7,416.2 L1507.5,420.3 L1513.9,422.0 L1519.4,425.3 L1526.7,427.9 L1532.9,432.4 L1541.1,435.7 L1546.8,436.7 L1553.9,439.4 M1451.6,384.4 L1459.0,382.8 L1466.8,381.3 M1498.8,359.2 L1494.4,363.2 L1490.5,367.5 M1608.5,403.0 L1605.1,398.6 L1605.7,394.7 M1143.2,251.6 L1150.6,252.1 L1156.3,257.0 L1164.6,258.7 L1170.5,263.0 L1178.0,263.2 L1182.8,267.0 L1190.3,267.9 L1196.6,271.2 L1203.3,273.0 L1210.0,274.2 L1218.6,279.3 L1225.1,280.3 L1230.4,283.4 L1237.8,283.5 L1244.1,286.7 L1250.3,289.4 L1258.8,293.0 L1263.8,296.3 L1270.4,296.6 L1277.0,299.3 L1284.0,302.9 L1290.5,304.4 L1298.3,307.2 L1305.0,309.4 L1309.4,310.6 L1315.8,315.3 L1324.5,316.1 L1329.8,319.3 L1337.4,321.7 L1343.4,322.6 L1352.5,325.2 L1357.6,329.9 L1362.5,331.6 L1371.1,333.2 L1378.0,334.6 L1382.2,340.0 L1390.8,341.5 L1398.9,343.3 L1405.0,346.1 L1412.8,348.3 L1419.2,349.9 L1424.2,352.7 L1431.7,355.5 L1440.0,358.2 L1444.8,361.8 L1451.8,362.6 L1458.6,364.3 L1463.7,367.1 L1471.5,369.4 M1620.8,413.3 L1628.0,414.4 L1635.8,417.0 L1642.6,417.4 L1650.5,422.8 L1658.1,423.0 M1694.3,400.3 L1700.2,406.5 L1704.4,411.6 L1709.4,415.6 M1709.4,415.6 L1701.4,416.2 L1695.3,416.3 L1687.5,419.1 L1681.7,419.1 L1673.2,420.2 L1664.9,419.3 L1658.1,423.0 M1838.7,173.2 L1845.5,172.5 L1854.6,169.8 L1864.2,168.4 L1869.4,166.0 M1869.7,186.7 L1874.5,185.4 L1881.8,184.5 M1881.8,184.5 L1877.6,179.9 L1872.7,172.6 L1869.4,166.0 M2011.7,223.1 L2005.9,219.4 L1998.3,215.2 L1991.5,212.0 L1984.3,212.9 L1978.3,208.3 L1971.3,207.4 L1964.9,203.3 L1957.1,198.8 L1949.8,196.1 L1943.3,194.2 L1937.3,190.3 M1881.8,184.5 L1890.3,185.2 L1897.1,183.3 L1905.0,187.3 L1914.1,184.7 L1919.0,188.8 L1928.3,189.2 L1937.3,190.3 M1550.4,447.1 L1542.8,448.1 L1536.1,447.8 M1550.4,447.1 L1555.2,449.9 L1564.6,454.1 L1569.4,457.7 L1577.2,459.8 L1584.2,464.7 L1590.0,468.3 L1595.6,471.6 L1603.2,473.3 L1609.4,478.7 L1616.1,480.6 L1622.6,483.5 L1630.8,489.9 L1636.5,491.1 M1536.1,447.8 L1530.7,452.7 L1523.5,456.2 L1515.6,459.7 L1510.9,464.9 L1502.8,469.6 M1621.6,495.9 L1613.8,494.1 L1607.6,492.9 L1600.4,492.4 L1594.6,489.7 L1586.5,489.0 L1578.6,490.1 L1572.6,486.8 L1565.4,485.9 L1558.9,484.2 L1551.2,483.3 L1543.6,482.1 L1535.9,481.1 L1529.4,479.7 M1621.6,495.9 L1630.0,492.9 L1636.5,491.1 M1529.4,479.7 L1522.4,477.6 L1515.4,475.5 L1510.1,469.9 L1502.8,469.6 M1553.9,439.4 L1551.5,442.2 L1550.4,447.1 M1448.9,420.8 L1456.4,423.9 L1461.1,424.3 L1468.9,426.7 L1476.4,430.1 L1483.0,432.3 L1490.0,433.2 L1495.4,434.7 L1503.3,438.3 L1510.2,439.2 L1515.6,441.9 L1523.9,444.1 L1529.6,445.0 L1536.1,447.8 M1491.3,468.2 L1497.5,469.4 L1502.8,469.6 M1633.3,529.1 L1630.0,524.2 L1627.7,516.7 L1626.1,509.3 L1623.2,502.0 L1621.6,495.9 M1571.5,505.9 L1566.2,502.0 L1559.1,499.3 L1554.2,494.8 L1547.7,492.6 L1541.3,487.6 L1535.9,482.1 L1529.4,479.7 M1805.1,392.6 L1806.7,398.9 L1813.0,405.2 L1815.1,410.5 L1819.9,417.0 L1821.0,424.1 L1826.0,429.5 M1811.1,425.4 L1815.7,427.3 L1819.7,428.5 M1819.7,428.5 L1823.9,430.3 L1826.0,429.5 M1709.4,415.6 L1716.2,419.2 L1719.7,423.4 L1727.8,428.1 L1735.4,431.0 L1741.7,434.2 L1746.5,437.2 L1752.4,442.0 L1758.9,445.5 M1758.9,445.5 L1768.7,445.9 L1777.3,450.1 L1785.3,448.9 M1819.7,428.5 L1811.5,432.3 L1806.0,437.7 L1801.1,442.0 L1792.2,444.0 L1785.3,448.9 M1867.3,425.8 L1860.6,430.7 L1853.9,435.6 M1867.3,425.8 L1874.5,426.1 L1882.7,427.5 L1888.7,429.6 L1893.9,430.7 L1901.9,431.6 L1909.5,432.6 L1918.2,435.3 L1921.6,433.0 L1930.7,436.9 L1936.4,436.9 L1941.8,437.2 L1950.1,440.3 M1853.9,435.6 L1863.3,439.8 L1867.1,442.6 L1872.6,444.0 L1882.0,445.1 L1887.7,447.5 L1895.1,452.4 L1902.9,454.1 L1909.8,454.5 L1917.6,458.8 L1921.1,461.1 L1928.6,464.1 L1936.5,464.3 L1944.2,470.9 L1948.8,473.3 L1957.9,475.4 L1965.2,475.6 L1971.1,478.6 L1979.6,481.2 L1982.9,485.9 L1991.0,487.3 M1991.0,487.3 L1998.9,488.5 L2005.6,490.1 L2014.5,489.9 L2019.5,491.1 L2027.3,492.8 L2033.3,494.2 L2040.6,494.7 L2048.9,495.8 L2057.9,498.8 L2064.8,499.8 L2070.7,500.8 L2078.2,500.7 L2085.8,500.2 L2092.8,502.6 M1950.1,440.3 L1956.0,442.9 L1963.5,445.8 L1968.7,447.6 L1976.1,450.4 L1981.4,454.3 L1989.2,456.4 L1993.8,460.4 L2002.8,462.5 L2008.1,463.4 L2015.9,467.5 L2022.2,470.9 L2027.8,474.1 L2032.6,479.9 L2039.4,480.1 L2046.6,482.5 L2055.3,483.8 L2060.2,488.9 L2067.0,491.7 L2072.6,492.5 L2078.5,496.5 L2087.1,499.9 L2092.8,502.6 M1840.9,433.6 L1835.1,431.6 L1826.0,429.5 M1860.9,410.1 L1864.3,418.1 L1867.3,425.8 M1840.9,433.6 L1845.7,435.1 L1853.9,435.6 M1903.5,412.4 L1909.0,416.0 L1919.2,419.1 L1923.6,424.6 L1930.3,428.3 L1936.2,434.3 L1941.5,435.2 L1950.1,440.3 M1758.9,445.5 L1758.2,448.4 L1754.6,450.2 M1658.1,423.0 L1664.4,425.8 L1672.0,433.0 L1679.8,433.0 L1686.6,437.0 L1694.9,441.6 L1701.8,445.1 L1707.6,448.6 M1754.6,450.2 L1748.8,450.3 L1739.2,448.6 L1730.7,449.8 L1722.8,451.6 L1715.4,448.1 L1707.6,448.6 M1969.5,575.2 L1975.4,566.1 L1979.4,558.1 M1933.7,568.6 L1927.7,563.8 L1920.2,560.5 L1914.7,555.5 L1907.9,548.3 L1901.9,545.0 M1901.9,545.0 L1907.7,545.6 L1915.8,547.4 L1923.6,547.3 L1930.3,548.5 L1936.4,553.5 L1945.5,551.8 L1953.0,554.7 L1959.2,556.0 L1965.1,555.6 L1971.5,557.5 L1979.4,558.1 M2009.5,552.2 L2000.7,553.2 L1994.9,554.6 L1987.3,558.5 L1979.4,558.1 M1754.6,450.2 L1759.7,456.4 L1766.1,458.9 L1773.1,465.8 L1778.2,468.8 L1785.0,474.4 M1785.0,474.4 L1792.9,478.7 L1801.6,484.4 M1853.1,486.0 L1847.2,487.4 L1840.9,490.3 M1853.1,486.0 L1848.8,480.5 L1844.6,475.6 L1841.0,468.7 M1785.3,448.9 L1791.6,450.6 L1801.3,455.4 L1806.3,457.2 L1813.5,458.3 L1820.8,461.6 L1828.4,461.9 L1834.9,466.4 L1841.0,468.7 M1801.6,484.4 L1808.8,485.1 L1816.9,485.4 L1824.6,488.7 L1831.6,488.7 L1840.9,490.3 M1954.4,164.8 L1944.1,162.7 L1938.6,161.8 M1937.3,190.3 L1930.7,185.6 L1923.4,180.0 L1917.0,175.6 L1909.5,171.9 M1909.5,171.9 L1917.7,169.6 L1923.6,168.3 L1930.9,165.3 L1938.6,161.8 M1872.6,122.7 L1868.4,125.3 L1863.9,128.0 M1938.6,161.8 L1932.8,159.1 L1925.0,155.5 L1918.4,152.6 L1911.1,148.4 L1902.0,146.3 L1897.6,144.5 L1891.5,141.4 L1886.0,137.1 L1876.6,134.9 L1870.1,130.8 L1863.9,128.0 M1845.8,468.8 L1853.8,466.2 L1858.9,462.4 M1845.8,468.8 L1853.6,469.4 L1859.4,473.7 L1864.8,474.7 L1873.3,474.1 L1881.3,477.6 L1886.3,481.9 L1891.5,482.6 L1899.6,484.1 L1906.0,487.4 L1912.5,488.3 L1920.9,489.7 L1926.9,491.5 L1935.0,494.1 L1940.8,495.6 M1858.9,462.4 L1865.7,462.8 L1872.9,465.8 L1879.6,468.1 L1884.6,470.6 L1893.2,468.4 L1898.6,471.8 L1907.8,472.1 L1914.1,473.9 L1920.6,476.3 L1928.5,476.4 L1933.2,479.3 L1941.2,478.3 L1949.9,481.3 L1953.5,480.5 L1962.0,482.3 L1969.1,487.6 L1979.2,486.4 L1983.1,487.8 M1940.8,495.6 L1948.6,495.2 L1954.8,491.5 L1963.0,491.5 L1969.4,491.1 L1975.2,490.8 L1983.1,487.8 M1840.9,433.6 L1845.5,441.0 L1849.5,448.7 L1855.4,454.7 L1858.9,462.4 M1841.0,468.7 L1844.0,468.3 L1845.8,468.8 M1991.0,487.3 L1985.8,487.3 L1983.1,487.8 M1785.0,474.4 L1777.9,474.5 L1770.7,472.8 L1761.6,473.1 L1754.8,472.4 L1745.5,470.5 L1740.0,472.6 L1730.4,472.6 L1723.4,470.6 M1707.6,448.6 L1705.3,450.5 L1703.1,451.5 M1723.4,470.6 L1717.9,463.8 L1709.1,456.1 L1703.1,451.5 M1642.4,535.1 L1650.6,534.2 L1659.0,532.9 L1666.2,532.0 L1672.9,529.9 L1682.3,527.9 L1691.4,527.1 L1697.5,525.2 M1717.2,564.5 L1720.6,557.8 L1721.0,551.1 L1724.3,541.6 L1725.2,533.9 M1697.5,525.2 L1704.3,526.3 L1711.2,529.3 L1718.5,531.3 L1725.2,533.9 M1636.5,491.1 L1644.2,492.3 L1650.7,493.7 M1697.5,525.2 L1690.1,520.8 L1684.9,516.1 L1679.7,514.3 L1673.0,507.4 L1668.1,508.5 L1661.8,501.9 L1656.2,498.5 L1650.7,493.7 M1652.1,470.3 L1658.6,475.7 L1663.4,480.4 L1667.5,485.8 L1672.4,492.6 M1565.4,437.1 L1572.3,439.0 L1579.0,441.1 L1585.7,444.9 L1591.5,446.5 L1597.6,449.5 L1605.9,452.3 L1612.3,456.3 L1618.5,457.8 L1626.3,460.6 L1632.5,462.7 L1640.7,465.1 L1645.1,468.3 L1652.1,470.3 M1650.7,493.7 L1659.6,494.8 L1665.2,493.8 L1672.4,492.6 M1759.7,548.4 L1753.5,545.6 L1746.8,543.2 L1739.5,541.5 L1732.2,538.2 L1725.8,533.9 M1725.2,533.9 L1727.6,536.0 L1725.8,533.9 M1772.6,495.0 L1765.1,497.4 L1755.3,500.0 L1751.5,501.1 L1739.6,506.0 L1733.3,507.6 M1772.6,495.0 L1766.5,490.4 L1759.1,489.7 L1750.9,487.5 L1744.3,484.8 L1739.1,480.1 L1730.6,477.6 L1725.4,475.1 M1725.4,475.1 L1718.1,475.0 L1710.3,474.8 L1703.7,475.0 M1703.7,475.0 L1705.4,482.0 L1705.2,491.2 L1706.2,498.6 M1706.2,498.6 L1713.0,501.8 L1721.3,502.8 L1726.8,502.5 L1733.3,507.6 M1723.4,470.6 L1724.1,473.6 L1725.4,475.1 M1801.6,484.4 L1797.4,493.1 L1795.4,499.2 M1795.4,499.2 L1785.9,499.2 L1779.7,495.4 L1772.6,495.0 M1757.1,521.3 L1748.7,516.5 L1740.2,510.8 L1733.3,507.6 M1757.1,521.3 L1748.8,525.5 L1741.9,529.0 L1733.0,530.5 L1725.8,533.9 M1672.4,492.6 L1680.5,494.3 L1689.8,497.4 L1698.5,497.3 L1706.2,498.6 M1952.1,530.6 L1946.1,529.2 L1936.1,530.1 L1930.2,529.0 L1923.6,528.0 L1915.2,528.2 L1908.6,528.2 L1900.8,527.0 L1893.3,526.1 M1952.1,530.6 L1944.2,525.3 L1939.6,517.6 L1938.2,510.8 L1930.2,504.6 M1930.2,504.6 L1920.5,504.8 L1913.4,501.5 L1905.6,500.9 L1897.6,498.7 M1897.6,498.7 L1892.4,503.7 L1886.6,508.1 L1879.4,514.2 M1879.4,514.2 L1887.0,519.5 L1893.3,526.1 M2009.5,552.2 L2003.0,548.8 L1994.7,548.3 L1986.9,542.9 L1981.4,541.1 L1973.2,538.5 L1968.6,534.9 L1959.0,533.4 L1952.1,530.6 M1940.8,495.6 L1934.5,500.1 L1930.2,504.6 M1853.1,486.0 L1861.0,487.2 L1869.1,489.1 L1875.2,492.7 L1886.0,492.7 L1890.5,499.1 L1897.6,498.7 M1840.9,490.3 L1846.8,495.4 L1854.0,496.8 L1860.6,501.3 L1866.7,504.7 L1873.8,507.8 L1879.4,514.2 M1884.7,535.5 L1882.6,534.9 L1880.7,531.7 M1884.7,535.5 L1878.1,537.5 L1870.2,539.8 L1866.0,542.5 L1856.1,544.2 L1848.4,547.9 L1841.1,548.8 L1834.6,551.9 M1880.7,531.7 L1873.3,529.2 L1867.1,527.0 L1859.8,524.6 L1854.3,523.4 L1845.8,521.5 L1839.1,517.5 L1832.0,518.6 L1825.3,514.9 M1825.3,514.9 L1818.6,519.5 L1810.2,520.3 L1802.9,526.5 L1795.4,527.8 L1789.2,532.1 M1789.2,532.1 L1797.8,536.0 L1804.0,540.8 L1811.8,544.3 L1819.2,548.8 M1834.6,551.9 L1827.1,549.7 L1819.2,548.8 M1901.9,545.0 L1893.3,540.9 L1884.7,535.5 M1893.3,526.1 L1885.9,528.7 L1880.7,531.7 M1884.9,570.6 L1876.6,568.7 L1871.2,566.2 L1864.4,563.6 L1856.9,559.1 L1849.9,556.3 L1844.1,554.9 L1834.6,551.9 M1795.4,499.2 L1803.4,501.9 L1811.4,508.2 L1816.2,510.4 L1825.3,514.9 M1757.1,521.3 L1764.7,523.4 L1774.5,528.9 L1780.1,530.4 L1789.2,532.1 M1810.6,557.7 L1814.6,554.6 L1819.2,548.8 M1869.7,165.4 L1874.6,166.1 L1885.6,166.8 L1892.9,168.2 L1900.1,170.4 L1906.3,170.9 M1869.7,165.4 L1861.6,161.5 L1854.1,160.2 L1846.5,155.8 M1906.3,170.9 L1899.9,165.9 L1896.9,160.8 L1886.9,158.6 L1879.7,153.8 L1873.9,148.0 L1868.4,144.1 L1860.8,142.2 L1854.0,137.3 L1850.0,133.4 L1842.4,128.2 M1846.5,155.8 L1839.8,151.6 L1830.8,147.9 L1825.5,143.3 L1817.9,139.8 M1817.9,139.8 L1819.9,133.6 L1823.9,125.6 M1823.9,125.6 L1832.1,127.3 L1842.4,128.2 M1869.4,166.0 L1869.1,164.0 L1869.7,165.4 M1909.5,171.9 L1909.5,172.0 L1906.3,170.9 M1828.4,169.4 L1835.0,163.4 L1840.3,160.6 L1846.5,155.8 M1863.9,128.0 L1855.9,129.7 L1847.5,128.8 L1842.4,128.2 M1782.0,143.2 L1787.3,140.9 L1795.1,142.4 L1802.8,140.5 L1809.8,138.9 L1817.9,139.8 M1821.9,124.8 L1822.0,124.2 L1823.9,125.6 M1664.8,464.5 L1672.7,466.0 L1679.0,467.7 L1689.7,470.3 M1664.8,464.5 L1659.6,459.7 L1652.0,455.1 L1645.1,451.4 L1638.1,447.0 L1631.4,443.1 L1626.8,438.5 M1689.7,470.3 L1683.2,465.2 L1680.9,457.3 L1675.7,452.8 L1670.3,447.7 M1626.8,438.5 L1635.2,439.4 L1640.9,441.2 L1649.7,441.1 L1656.5,444.6 L1662.5,445.8 L1670.3,447.7 M1652.1,470.3 L1659.3,468.1 L1664.8,464.5 M1703.7,475.0 L1698.3,471.9 L1689.7,470.3 M1606.6,431.4 L1611.4,433.1 L1619.8,435.6 L1626.8,438.5 M1703.1,451.5 L1696.0,452.7 L1687.0,447.7 L1679.4,447.9 L1670.3,447.7" fill="none" stroke="#4499c8" stroke-width="2.1" stroke-opacity="0.85" stroke-linejoin="round" filter="url(#softl)"/>
<g filter="url(#soft)">
<ellipse cx="1474.3" cy="48.5" rx="7.8" ry="10.3" transform="rotate(0 1474.3 48.5)" fill="#d6ae52"/>
<ellipse cx="1574.3" cy="45.9" rx="10.8" ry="6.5" transform="rotate(0 1574.3 45.9)" fill="#d6ae52"/>
<ellipse cx="1671.7" cy="45.0" rx="12.9" ry="6.0" transform="rotate(0 1671.7 45.0)" fill="#d6ae52"/>
<ellipse cx="1416.5" cy="100.2" rx="16.4" ry="12.5" transform="rotate(20 1416.5 100.2)" fill="#d6ae52"/>
<ellipse cx="1686.3" cy="80.4" rx="11.6" ry="7.8" transform="rotate(0 1686.3 80.4)" fill="#d6ae52"/>
<ellipse cx="1577.7" cy="96.7" rx="13.8" ry="8.2" transform="rotate(0 1577.7 96.7)" fill="#d6ae52"/>
<ellipse cx="1504.5" cy="122.6" rx="12.1" ry="18.5" transform="rotate(0 1504.5 122.6)" fill="#d6ae52"/>
<ellipse cx="1623.4" cy="119.2" rx="17.2" ry="11.2" transform="rotate(5 1623.4 119.2)" fill="#d6ae52"/>
<ellipse cx="1577.7" cy="133.8" rx="13.8" ry="16.4" transform="rotate(20 1577.7 133.8)" fill="#d6ae52"/>
<ellipse cx="1672.5" cy="147.6" rx="12.5" ry="7.3" transform="rotate(-5 1672.5 147.6)" fill="#d6ae52"/>
<ellipse cx="1435.9" cy="170.9" rx="9.9" ry="11.6" transform="rotate(20 1435.9 170.9)" fill="#d6ae52"/>
<ellipse cx="1570.8" cy="188.1" rx="18.5" ry="10.8" transform="rotate(0 1570.8 188.1)" fill="#d6ae52"/>
<ellipse cx="1686.3" cy="192.4" rx="12.9" ry="11.2" transform="rotate(-10 1686.3 192.4)" fill="#d6ae52"/>
<ellipse cx="1417.4" cy="203.6" rx="9.9" ry="11.2" transform="rotate(20 1417.4 203.6)" fill="#d6ae52"/>
<ellipse cx="1581.2" cy="208.8" rx="11.2" ry="9.1" transform="rotate(0 1581.2 208.8)" fill="#d6ae52"/>
<ellipse cx="1400.2" cy="226.9" rx="6.9" ry="12.1" transform="rotate(0 1400.2 226.9)" fill="#d6ae52"/>
<ellipse cx="1578.6" cy="229.5" rx="12.5" ry="6.9" transform="rotate(0 1578.6 229.5)" fill="#d6ae52"/>
<ellipse cx="1665.6" cy="251.0" rx="13.4" ry="8.6" transform="rotate(10 1665.6 251.0)" fill="#d6ae52"/>
<ellipse cx="1608.8" cy="267.4" rx="15.5" ry="11.6" transform="rotate(0 1608.8 267.4)" fill="#d6ae52"/>
<ellipse cx="1462.2" cy="275.2" rx="9.5" ry="8.6" transform="rotate(20 1462.2 275.2)" fill="#d6ae52"/>
<ellipse cx="1407.1" cy="287.2" rx="11.6" ry="7.8" transform="rotate(0 1407.1 287.2)" fill="#d6ae52"/>
<ellipse cx="1557.0" cy="297.6" rx="12.5" ry="8.6" transform="rotate(10 1557.0 297.6)" fill="#d6ae52"/>
<ellipse cx="1532.0" cy="311.4" rx="15.1" ry="12.1" transform="rotate(10 1532.0 311.4)" fill="#d6ae52"/>
<ellipse cx="1613.1" cy="306.2" rx="17.2" ry="10.8" transform="rotate(15 1613.1 306.2)" fill="#d6ae52"/>
<ellipse cx="1676.0" cy="297.6" rx="12.5" ry="6.5" transform="rotate(0 1676.0 297.6)" fill="#d6ae52"/>
<ellipse cx="1720.0" cy="49.3" rx="13.8" ry="8.2" transform="rotate(0 1720.0 49.3)" fill="#d6ae52"/>
<ellipse cx="1807.0" cy="40.7" rx="10.3" ry="2.6" transform="rotate(0 1807.0 40.7)" fill="#d6ae52"/>
<ellipse cx="1951.9" cy="52.8" rx="9.1" ry="10.3" transform="rotate(10 1951.9 52.8)" fill="#d6ae52"/>
<ellipse cx="1994.1" cy="61.4" rx="3.4" ry="8.6" transform="rotate(0 1994.1 61.4)" fill="#d6ae52"/>
<ellipse cx="1864.8" cy="80.4" rx="10.8" ry="7.8" transform="rotate(0 1864.8 80.4)" fill="#d6ae52"/>
<ellipse cx="1917.4" cy="93.3" rx="9.5" ry="11.2" transform="rotate(10 1917.4 93.3)" fill="#d6ae52"/>
<ellipse cx="1759.6" cy="98.5" rx="14.2" ry="9.5" transform="rotate(0 1759.6 98.5)" fill="#d6ae52"/>
<ellipse cx="1834.6" cy="96.7" rx="12.1" ry="9.1" transform="rotate(-10 1834.6 96.7)" fill="#d6ae52"/>
<ellipse cx="1769.1" cy="124.3" rx="14.7" ry="8.6" transform="rotate(0 1769.1 124.3)" fill="#d6ae52"/>
<ellipse cx="1988.1" cy="137.3" rx="9.5" ry="9.5" transform="rotate(20 1988.1 137.3)" fill="#d6ae52"/>
<ellipse cx="1928.6" cy="145.9" rx="11.2" ry="12.1" transform="rotate(30 1928.6 145.9)" fill="#d6ae52"/>
<ellipse cx="1709.7" cy="158.8" rx="13.8" ry="10.3" transform="rotate(-5 1709.7 158.8)" fill="#d6ae52"/>
<ellipse cx="1899.3" cy="155.4" rx="13.4" ry="12.9" transform="rotate(20 1899.3 155.4)" fill="#d6ae52"/>
<ellipse cx="1846.7" cy="164.8" rx="12.5" ry="6.9" transform="rotate(10 1846.7 164.8)" fill="#d6ae52"/>
<ellipse cx="1814.8" cy="176.0" rx="13.8" ry="10.3" transform="rotate(0 1814.8 176.0)" fill="#d6ae52"/>
<ellipse cx="1994.9" cy="170.0" rx="2.6" ry="6.9" transform="rotate(0 1994.9 170.0)" fill="#d6ae52"/>
<ellipse cx="1696.7" cy="214.8" rx="9.5" ry="7.8" transform="rotate(0 1696.7 214.8)" fill="#d6ae52"/>
<ellipse cx="1905.3" cy="194.1" rx="12.5" ry="7.3" transform="rotate(0 1905.3 194.1)" fill="#d6ae52"/>
<ellipse cx="1804.5" cy="211.4" rx="15.1" ry="9.1" transform="rotate(-5 1804.5 211.4)" fill="#d6ae52"/>
<ellipse cx="1897.6" cy="222.6" rx="12.5" ry="7.8" transform="rotate(-10 1897.6 222.6)" fill="#d6ae52"/>
<ellipse cx="1944.1" cy="231.2" rx="12.1" ry="8.2" transform="rotate(10 1944.1 231.2)" fill="#d6ae52"/>
<ellipse cx="1767.4" cy="239.0" rx="13.8" ry="7.8" transform="rotate(0 1767.4 239.0)" fill="#d6ae52"/>
<ellipse cx="1857.9" cy="251.9" rx="12.1" ry="7.8" transform="rotate(0 1857.9 251.9)" fill="#d6ae52"/>
<ellipse cx="1978.6" cy="250.2" rx="12.9" ry="7.3" transform="rotate(-10 1978.6 250.2)" fill="#d6ae52"/>
<ellipse cx="1823.4" cy="285.5" rx="15.9" ry="14.7" transform="rotate(30 1823.4 285.5)" fill="#d6ae52"/>
<ellipse cx="1992.4" cy="292.4" rx="5.2" ry="9.5" transform="rotate(0 1992.4 292.4)" fill="#d6ae52"/>
<ellipse cx="1897.6" cy="301.0" rx="13.8" ry="7.8" transform="rotate(-5 1897.6 301.0)" fill="#d6ae52"/>
<ellipse cx="1846.7" cy="326.0" rx="12.5" ry="7.3" transform="rotate(5 1846.7 326.0)" fill="#d6ae52"/>
<ellipse cx="1966.5" cy="321.7" rx="11.6" ry="7.8" transform="rotate(-5 1966.5 321.7)" fill="#d6ae52"/>
<ellipse cx="1778.6" cy="333.8" rx="18.1" ry="9.5" transform="rotate(10 1778.6 333.8)" fill="#d6ae52"/>
<ellipse cx="1428.6" cy="341.7" rx="12.9" ry="6.0" transform="rotate(0 1428.6 341.7)" fill="#d6ae52"/>
<ellipse cx="1410.5" cy="359.8" rx="13.8" ry="8.2" transform="rotate(0 1410.5 359.8)" fill="#d6ae52"/>
<ellipse cx="1554.5" cy="349.5" rx="11.2" ry="8.2" transform="rotate(0 1554.5 349.5)" fill="#d6ae52"/>
<ellipse cx="1567.4" cy="372.8" rx="12.9" ry="7.3" transform="rotate(5 1567.4 372.8)" fill="#d6ae52"/>
<ellipse cx="1690.8" cy="363.3" rx="15.5" ry="9.5" transform="rotate(0 1690.8 363.3)" fill="#d6ae52"/>
<ellipse cx="1431.2" cy="404.6" rx="17.7" ry="9.5" transform="rotate(5 1431.2 404.6)" fill="#d6ae52"/>
<ellipse cx="1426.0" cy="426.2" rx="10.3" ry="11.6" transform="rotate(0 1426.0 426.2)" fill="#d6ae52"/>
<ellipse cx="1470.8" cy="437.4" rx="9.5" ry="12.9" transform="rotate(0 1470.8 437.4)" fill="#d6ae52"/>
<ellipse cx="1657.0" cy="411.5" rx="17.2" ry="10.3" transform="rotate(5 1657.0 411.5)" fill="#d6ae52"/>
<ellipse cx="1660.5" cy="434.8" rx="13.8" ry="8.6" transform="rotate(5 1660.5 434.8)" fill="#d6ae52"/>
<ellipse cx="1688.9" cy="461.5" rx="16.0" ry="9.5" transform="rotate(10 1688.9 461.5)" fill="#d6ae52"/>
<ellipse cx="1679.4" cy="475.3" rx="13.8" ry="7.8" transform="rotate(5 1679.4 475.3)" fill="#d6ae52"/>
<ellipse cx="1626.9" cy="467.6" rx="11.2" ry="7.8" transform="rotate(10 1626.9 467.6)" fill="#d6ae52"/>
<ellipse cx="1447.6" cy="477.9" rx="14.2" ry="8.6" transform="rotate(0 1447.6 477.9)" fill="#d6ae52"/>
<ellipse cx="1572.6" cy="477.0" rx="16.8" ry="13.4" transform="rotate(5 1572.6 477.0)" fill="#d6ae52"/>
<ellipse cx="1483.8" cy="506.4" rx="12.1" ry="8.2" transform="rotate(0 1483.8 506.4)" fill="#d6ae52"/>
<ellipse cx="1662.2" cy="517.6" rx="11.6" ry="7.8" transform="rotate(0 1662.2 517.6)" fill="#d6ae52"/>
<ellipse cx="1433.8" cy="531.3" rx="12.9" ry="9.1" transform="rotate(-10 1433.8 531.3)" fill="#d6ae52"/>
<ellipse cx="1554.5" cy="530.5" rx="12.9" ry="10.3" transform="rotate(-20 1554.5 530.5)" fill="#d6ae52"/>
<ellipse cx="1448.4" cy="555.5" rx="15.9" ry="11.2" transform="rotate(-10 1448.4 555.5)" fill="#d6ae52"/>
<ellipse cx="1632.0" cy="562.4" rx="12.9" ry="7.8" transform="rotate(0 1632.0 562.4)" fill="#d6ae52"/>
<ellipse cx="1529.5" cy="573.6" rx="12.9" ry="8.6" transform="rotate(0 1529.5 573.6)" fill="#d6ae52"/>
<ellipse cx="1451.9" cy="581.3" rx="13.4" ry="8.6" transform="rotate(-10 1451.9 581.3)" fill="#d6ae52"/>
<ellipse cx="1556.2" cy="588.2" rx="19.0" ry="10.3" transform="rotate(0 1556.2 588.2)" fill="#d6ae52"/>
<ellipse cx="1583.8" cy="602.9" rx="12.1" ry="7.8" transform="rotate(-5 1583.8 602.9)" fill="#d6ae52"/>
<ellipse cx="1688.9" cy="609.8" rx="12.9" ry="8.2" transform="rotate(0 1688.9 609.8)" fill="#d6ae52"/>
<ellipse cx="1513.1" cy="621.0" rx="11.2" ry="8.6" transform="rotate(-10 1513.1 621.0)" fill="#d6ae52"/>
<ellipse cx="1457.1" cy="632.2" rx="12.1" ry="8.6" transform="rotate(-5 1457.1 632.2)" fill="#d6ae52"/>
<ellipse cx="1563.9" cy="637.4" rx="12.9" ry="5.2" transform="rotate(0 1563.9 637.4)" fill="#d6ae52"/>
<ellipse cx="1607.9" cy="635.6" rx="9.9" ry="6.9" transform="rotate(-20 1607.9 635.6)" fill="#d6ae52"/>
<ellipse cx="1658.7" cy="637.4" rx="12.1" ry="5.2" transform="rotate(0 1658.7 637.4)" fill="#d6ae52"/>
<ellipse cx="1969.1" cy="348.6" rx="10.3" ry="12.1" transform="rotate(0 1969.1 348.6)" fill="#d6ae52"/>
<ellipse cx="1913.9" cy="366.7" rx="11.6" ry="8.2" transform="rotate(0 1913.9 366.7)" fill="#d6ae52"/>
<ellipse cx="1815.7" cy="382.2" rx="13.8" ry="9.1" transform="rotate(5 1815.7 382.2)" fill="#d6ae52"/>
<ellipse cx="1892.4" cy="390.0" rx="18.1" ry="13.4" transform="rotate(5 1892.4 390.0)" fill="#d6ae52"/>
<ellipse cx="1988.1" cy="379.6" rx="9.5" ry="8.6" transform="rotate(0 1988.1 379.6)" fill="#d6ae52"/>
<ellipse cx="1757.1" cy="403.8" rx="12.9" ry="7.8" transform="rotate(5 1757.1 403.8)" fill="#d6ae52"/>
<ellipse cx="1832.9" cy="410.7" rx="11.6" ry="9.1" transform="rotate(10 1832.9 410.7)" fill="#d6ae52"/>
<ellipse cx="1768.3" cy="426.2" rx="12.5" ry="8.2" transform="rotate(5 1768.3 426.2)" fill="#d6ae52"/>
<ellipse cx="1948.4" cy="421.9" rx="15.9" ry="9.1" transform="rotate(0 1948.4 421.9)" fill="#d6ae52"/>
<ellipse cx="1905.3" cy="438.3" rx="12.5" ry="8.6" transform="rotate(5 1905.3 438.3)" fill="#d6ae52"/>
<ellipse cx="1876.0" cy="460.7" rx="12.9" ry="7.8" transform="rotate(0 1876.0 460.7)" fill="#d6ae52"/>
<ellipse cx="1882.0" cy="485.7" rx="19.8" ry="11.6" transform="rotate(5 1882.0 485.7)" fill="#d6ae52"/>
<ellipse cx="1898.4" cy="508.9" rx="13.4" ry="7.8" transform="rotate(5 1898.4 508.9)" fill="#d6ae52"/>
<ellipse cx="1782.1" cy="512.4" rx="12.1" ry="12.5" transform="rotate(0 1782.1 512.4)" fill="#d6ae52"/>
<ellipse cx="1702.9" cy="538.2" rx="12.1" ry="7.8" transform="rotate(0 1702.9 538.2)" fill="#d6ae52"/>
<ellipse cx="1833.8" cy="533.9" rx="12.9" ry="6.5" transform="rotate(0 1833.8 533.9)" fill="#d6ae52"/>
<ellipse cx="1946.7" cy="547.7" rx="13.8" ry="8.6" transform="rotate(0 1946.7 547.7)" fill="#d6ae52"/>
<ellipse cx="1776.9" cy="559.8" rx="12.5" ry="8.2" transform="rotate(-5 1776.9 559.8)" fill="#d6ae52"/>
<ellipse cx="1857.9" cy="574.4" rx="13.8" ry="8.6" transform="rotate(0 1857.9 574.4)" fill="#d6ae52"/>
<ellipse cx="1994.9" cy="571.9" rx="2.6" ry="6.0" transform="rotate(0 1994.9 571.9)" fill="#d6ae52"/>
<ellipse cx="1727.8" cy="590.0" rx="13.8" ry="7.3" transform="rotate(0 1727.8 590.0)" fill="#d6ae52"/>
<ellipse cx="1815.7" cy="614.1" rx="12.1" ry="13.8" transform="rotate(0 1815.7 614.1)" fill="#d6ae52"/>
<ellipse cx="1857.9" cy="627.0" rx="12.9" ry="7.8" transform="rotate(-10 1857.9 627.0)" fill="#d6ae52"/>
<ellipse cx="1981.2" cy="619.3" rx="14.7" ry="9.5" transform="rotate(-10 1981.2 619.3)" fill="#d6ae52"/>
<ellipse cx="1738.1" cy="634.8" rx="11.2" ry="6.9" transform="rotate(0 1738.1 634.8)" fill="#d6ae52"/>
</g>
</g>
<rect x="506" y="591" width="142.0" height="6.0" fill="#fff"/>
<text x="577.5" y="620.0" font-size="25" text-anchor="middle" fill="#fff" font-weight="bold">100 µm</text>
<rect x="1177" y="599.3" width="141.0" height="5.7" fill="#fff"/>
<text x="1248.0" y="628.0" font-size="25" text-anchor="middle" fill="#fff" font-weight="bold">100 µm</text>
<rect x="1848.6" y="602" width="141.4" height="5.7" fill="#fff"/>
<text x="1920.0" y="631.0" font-size="25" text-anchor="middle" fill="#fff" font-weight="bold">100 µm</text>
<text x="-3.1" y="694.9" font-size="42.8" text-anchor="start" fill="#000" >B</text>
<text x="192.9" y="806.0" font-size="33.9" text-anchor="middle" fill="#000" >interface</text>
<text x="192.2" y="848.1" font-size="33.9" text-anchor="middle" fill="#000" >occupancy</text>
<text x="858.0" y="811.0" font-size="33.9" text-anchor="middle" fill="#000" >intensity per</text>
<text x="858.0" y="853.5" font-size="33.9" text-anchor="middle" fill="#000" >interface area</text>
<text x="1530.5" y="830.5" font-size="33.9" text-anchor="middle" fill="#000" >cluster density</text>
<g transform="translate(379.05,773.80)" stroke-linejoin="round">
<path d="M-10.00,-57.50 L5.27,-59.98 L13.73,-61.28 L20.24,-65.19 L24.15,-74.95 L28.06,-86.02 L57.35,-75.61 L76.88,-68.44 L88.60,-67.79 L102.93,-70.40 L104.88,-52.17 L106.18,-15.71 L80.14,-16.36 L73.63,-17.66 L60.61,-17.66 L39.78,-15.06 L10.00,-25.00 L-10.00,-40.00 Z" fill="none" stroke="#d8fbdc" stroke-width="24.6"/>
<path d="M-10.00,-57.50 L5.27,-59.98 L13.73,-61.28 L20.24,-65.19 L24.15,-74.95 L28.06,-86.02 L57.35,-75.61 L76.88,-68.44 L88.60,-67.79 L102.93,-70.40 L104.88,-52.17 L106.18,-15.71 L80.14,-16.36 L73.63,-17.66 L60.61,-17.66 L39.78,-15.06 L10.00,-25.00 L-10.00,-40.00 Z" fill="none" stroke="#e2d6b6" stroke-width="16.6"/>
<path d="M-10.00,-57.50 L5.27,-59.98 L13.73,-61.28 L20.24,-65.19 L24.15,-74.95 L28.06,-86.02 L57.35,-75.61 L76.88,-68.44 L88.60,-67.79 L102.93,-70.40 L104.88,-52.17 L106.18,-15.71 L80.14,-16.36 L73.63,-17.66 L60.61,-17.66 L39.78,-15.06 L10.00,-25.00 L-10.00,-40.00 Z" fill="none" stroke="#b8b896" stroke-width="12.6"/>
<path d="M-10.00,-57.50 L5.27,-59.98 L13.73,-61.28 L20.24,-65.19 L24.15,-74.95 L28.06,-86.02 L57.35,-75.61 L76.88,-68.44 L88.60,-67.79 L102.93,-70.40 L104.88,-52.17 L106.18,-15.71 L80.14,-16.36 L73.63,-17.66 L60.61,-17.66 L39.78,-15.06 L10.00,-25.00 L-10.00,-40.00 Z" fill="none" stroke="#a8dcbf" stroke-width="6.6"/>
<path d="M-10.00,-57.50 L5.27,-59.98 L13.73,-61.28 L20.24,-65.19 L24.15,-74.95 L28.06,-86.02 L57.35,-75.61 L76.88,-68.44 L88.60,-67.79 L102.93,-70.40 L104.88,-52.17 L106.18,-15.71 L80.14,-16.36 L73.63,-17.66 L60.61,-17.66 L39.78,-15.06 L10.00,-25.00 L-10.00,-40.00 Z" fill="#c9dada"/>
<path d="M48.24,-53.47 C49.00,-55.86 50.74,-58.62 52.80,-59.98 C54.86,-61.34 57.68,-61.28 60.61,-61.61 C63.54,-61.94 67.12,-62.31 70.37,-61.93 C73.62,-61.55 77.53,-60.85 80.14,-59.33 C82.75,-57.81 84.70,-55.31 86.00,-52.82 C87.30,-50.33 87.95,-47.18 87.95,-44.36 C87.95,-41.54 87.30,-38.17 86.00,-35.89 C84.70,-33.61 82.75,-31.93 80.14,-30.68 C77.53,-29.43 73.62,-28.51 70.37,-28.40 C67.12,-28.29 63.54,-28.67 60.61,-30.03 C57.68,-31.39 54.86,-33.94 52.80,-36.54 C50.74,-39.14 49.00,-42.84 48.24,-45.66 C47.48,-48.48 47.48,-51.08 48.24,-53.47 Z" fill="#b2d5d5" stroke="#7d8d8d" stroke-width="1"/>
<path d="M27.73,-54.77 C28.11,-57.16 29.95,-59.92 31.31,-61.93 C32.67,-63.94 34.35,-65.89 35.87,-66.81 C37.39,-67.73 39.24,-67.73 40.43,-67.46 C41.62,-67.19 42.49,-66.65 43.03,-65.19 C43.57,-63.73 43.46,-60.74 43.68,-58.68 C43.90,-56.62 44.55,-54.23 44.33,-52.82 C44.11,-51.41 43.36,-50.97 42.38,-50.21 C41.40,-49.45 39.55,-49.23 38.47,-48.26 C37.38,-47.28 36.95,-45.12 35.87,-44.36 C34.78,-43.60 33.10,-43.17 31.96,-43.71 C30.82,-44.25 29.73,-45.77 29.03,-47.61 C28.33,-49.45 27.35,-52.38 27.73,-54.77 Z" fill="#d2b39e" stroke="#7d8d8d" stroke-width="1"/>
<path d="M-48.97,-51.37 C-48.26,-53.22 -44.83,-54.73 -42.12,-56.51 C-39.41,-58.29 -36.99,-61.50 -32.71,-62.07 C-28.43,-62.64 -20.58,-61.14 -16.44,-59.93 C-12.30,-58.72 -11.02,-57.07 -7.88,-54.79 C-4.74,-52.51 -0.46,-48.80 2.40,-46.23 C5.25,-43.66 6.68,-42.23 9.25,-39.38 C11.82,-36.53 14.96,-33.10 17.81,-29.11 C20.66,-25.11 24.59,-18.84 26.37,-15.41 C28.15,-11.99 28.23,-11.41 28.51,-8.56 C28.80,-5.71 28.72,-2.00 28.08,1.71 C27.44,5.42 25.80,9.99 24.66,13.70 C23.52,17.41 22.66,21.12 21.23,23.97 C19.80,26.82 18.10,29.39 16.10,30.82 C14.10,32.25 11.82,32.67 9.25,32.53 C6.68,32.39 4.25,31.54 0.68,29.97 C-2.89,28.40 -8.45,25.55 -12.16,23.12 C-15.87,20.69 -19.58,18.12 -21.58,15.41 C-23.58,12.70 -23.86,9.99 -24.14,6.85 C-24.43,3.71 -23.57,-0.28 -23.29,-3.42 C-23.00,-6.56 -22.14,-9.42 -22.43,-11.99 C-22.71,-14.56 -23.43,-16.56 -25.00,-18.84 C-26.57,-21.12 -29.43,-22.83 -31.85,-25.68 C-34.27,-28.53 -37.12,-32.68 -39.55,-35.96 C-41.97,-39.24 -44.83,-42.81 -46.40,-45.38 C-47.97,-47.95 -49.68,-49.52 -48.97,-51.37 Z" fill="#80f880" stroke="#80f880" stroke-width="23"/>
<path d="M-48.97,-51.37 C-48.26,-53.22 -44.83,-54.73 -42.12,-56.51 C-39.41,-58.29 -36.99,-61.50 -32.71,-62.07 C-28.43,-62.64 -20.58,-61.14 -16.44,-59.93 C-12.30,-58.72 -11.02,-57.07 -7.88,-54.79 C-4.74,-52.51 -0.46,-48.80 2.40,-46.23 C5.25,-43.66 6.68,-42.23 9.25,-39.38 C11.82,-36.53 14.96,-33.10 17.81,-29.11 C20.66,-25.11 24.59,-18.84 26.37,-15.41 C28.15,-11.99 28.23,-11.41 28.51,-8.56 C28.80,-5.71 28.72,-2.00 28.08,1.71 C27.44,5.42 25.80,9.99 24.66,13.70 C23.52,17.41 22.66,21.12 21.23,23.97 C19.80,26.82 18.10,29.39 16.10,30.82 C14.10,32.25 11.82,32.67 9.25,32.53 C6.68,32.39 4.25,31.54 0.68,29.97 C-2.89,28.40 -8.45,25.55 -12.16,23.12 C-15.87,20.69 -19.58,18.12 -21.58,15.41 C-23.58,12.70 -23.86,9.99 -24.14,6.85 C-24.43,3.71 -23.57,-0.28 -23.29,-3.42 C-23.00,-6.56 -22.14,-9.42 -22.43,-11.99 C-22.71,-14.56 -23.43,-16.56 -25.00,-18.84 C-26.57,-21.12 -29.43,-22.83 -31.85,-25.68 C-34.27,-28.53 -37.12,-32.68 -39.55,-35.96 C-41.97,-39.24 -44.83,-42.81 -46.40,-45.38 C-47.97,-47.95 -49.68,-49.52 -48.97,-51.37 Z" fill="#ff0000" stroke="#ff0000" stroke-width="17.6"/>
<path d="M-48.97,-51.37 C-48.26,-53.22 -44.83,-54.73 -42.12,-56.51 C-39.41,-58.29 -36.99,-61.50 -32.71,-62.07 C-28.43,-62.64 -20.58,-61.14 -16.44,-59.93 C-12.30,-58.72 -11.02,-57.07 -7.88,-54.79 C-4.74,-52.51 -0.46,-48.80 2.40,-46.23 C5.25,-43.66 6.68,-42.23 9.25,-39.38 C11.82,-36.53 14.96,-33.10 17.81,-29.11 C20.66,-25.11 24.59,-18.84 26.37,-15.41 C28.15,-11.99 28.23,-11.41 28.51,-8.56 C28.80,-5.71 28.72,-2.00 28.08,1.71 C27.44,5.42 25.80,9.99 24.66,13.70 C23.52,17.41 22.66,21.12 21.23,23.97 C19.80,26.82 18.10,29.39 16.10,30.82 C14.10,32.25 11.82,32.67 9.25,32.53 C6.68,32.39 4.25,31.54 0.68,29.97 C-2.89,28.40 -8.45,25.55 -12.16,23.12 C-15.87,20.69 -19.58,18.12 -21.58,15.41 C-23.58,12.70 -23.86,9.99 -24.14,6.85 C-24.43,3.71 -23.57,-0.28 -23.29,-3.42 C-23.00,-6.56 -22.14,-9.42 -22.43,-11.99 C-22.71,-14.56 -23.43,-16.56 -25.00,-18.84 C-26.57,-21.12 -29.43,-22.83 -31.85,-25.68 C-34.27,-28.53 -37.12,-32.68 -39.55,-35.96 C-41.97,-39.24 -44.83,-42.81 -46.40,-45.38 C-47.97,-47.95 -49.68,-49.52 -48.97,-51.37 Z" fill="#22bb44" stroke="#22bb44" stroke-width="5.5"/>
<path d="M-48.97,-51.37 C-48.26,-53.22 -44.83,-54.73 -42.12,-56.51 C-39.41,-58.29 -36.99,-61.50 -32.71,-62.07 C-28.43,-62.64 -20.58,-61.14 -16.44,-59.93 C-12.30,-58.72 -11.02,-57.07 -7.88,-54.79 C-4.74,-52.51 -0.46,-48.80 2.40,-46.23 C5.25,-43.66 6.68,-42.23 9.25,-39.38 C11.82,-36.53 14.96,-33.10 17.81,-29.11 C20.66,-25.11 24.59,-18.84 26.37,-15.41 C28.15,-11.99 28.23,-11.41 28.51,-8.56 C28.80,-5.71 28.72,-2.00 28.08,1.71 C27.44,5.42 25.80,9.99 24.66,13.70 C23.52,17.41 22.66,21.12 21.23,23.97 C19.80,26.82 18.10,29.39 16.10,30.82 C14.10,32.25 11.82,32.67 9.25,32.53 C6.68,32.39 4.25,31.54 0.68,29.97 C-2.89,28.40 -8.45,25.55 -12.16,23.12 C-15.87,20.69 -19.58,18.12 -21.58,15.41 C-23.58,12.70 -23.86,9.99 -24.14,6.85 C-24.43,3.71 -23.57,-0.28 -23.29,-3.42 C-23.00,-6.56 -22.14,-9.42 -22.43,-11.99 C-22.71,-14.56 -23.43,-16.56 -25.00,-18.84 C-26.57,-21.12 -29.43,-22.83 -31.85,-25.68 C-34.27,-28.53 -37.12,-32.68 -39.55,-35.96 C-41.97,-39.24 -44.83,-42.81 -46.40,-45.38 C-47.97,-47.95 -49.68,-49.52 -48.97,-51.37 Z" fill="#4a7f7d"/>
<path d="M-21.87,-23.78 C-22.27,-25.03 -22.37,-27.77 -22.30,-29.77 C-22.23,-31.77 -22.02,-33.91 -21.45,-35.76 C-20.88,-37.61 -20.02,-39.69 -18.88,-40.90 C-17.74,-42.11 -16.17,-42.61 -14.60,-43.04 C-13.03,-43.47 -11.17,-43.61 -9.46,-43.47 C-7.75,-43.33 -5.89,-42.82 -4.32,-42.18 C-2.75,-41.54 -1.11,-40.55 -0.04,-39.62 C1.03,-38.69 1.82,-37.69 2.10,-36.62 C2.39,-35.55 2.17,-33.91 1.67,-33.20 C1.17,-32.49 0.24,-32.56 -0.90,-32.34 C-2.04,-32.12 -3.75,-32.20 -5.18,-31.91 C-6.61,-31.62 -8.03,-31.27 -9.46,-30.63 C-10.89,-29.99 -12.31,-29.20 -13.74,-28.06 C-15.17,-26.92 -16.99,-24.74 -18.02,-23.78 C-19.05,-22.82 -19.26,-22.30 -19.90,-22.30 C-20.54,-22.30 -21.47,-22.54 -21.87,-23.78 Z" fill="#98704e" stroke="#1c3333" stroke-width="1.1"/>
<path d="M-17.29,-11.13 C-16.50,-13.99 -14.87,-16.70 -13.01,-18.84 C-11.15,-20.98 -8.44,-22.76 -6.16,-23.97 C-3.88,-25.18 -1.46,-26.11 0.68,-26.11 C2.82,-26.11 4.82,-25.47 6.68,-23.97 C8.54,-22.47 10.25,-19.55 11.82,-17.12 C13.39,-14.70 15.10,-11.99 16.10,-9.42 C17.10,-6.85 17.67,-4.42 17.81,-1.71 C17.95,1.00 17.66,4.00 16.95,6.85 C16.24,9.70 14.81,12.84 13.53,15.41 C12.25,17.98 10.96,20.48 9.25,22.26 C7.54,24.04 5.25,25.82 3.25,26.11 C1.25,26.39 -0.31,25.47 -2.74,23.97 C-5.17,22.47 -9.02,19.40 -11.30,17.12 C-13.58,14.84 -15.37,13.41 -16.44,10.27 C-17.51,7.13 -17.58,1.86 -17.72,-1.71 C-17.86,-5.28 -18.07,-8.28 -17.29,-11.13 Z" fill="#67a8a6" stroke="#1c3333" stroke-width="1.1"/>
</g>
<g transform="translate(517.80,884.45)" stroke-linejoin="round">
<path d="M-10.00,-57.50 L5.27,-59.98 L13.73,-61.28 L20.24,-65.19 L24.15,-74.95 L28.06,-86.02 L57.35,-75.61 L76.88,-68.44 L88.60,-67.79 L102.93,-70.40 L104.88,-52.17 L106.18,-15.71 L80.14,-16.36 L73.63,-17.66 L60.61,-17.66 L39.78,-15.06 L10.00,-25.00 L-10.00,-40.00 Z" fill="none" stroke="#ffafaf" stroke-width="24"/>
<path d="M-10.00,-57.50 L5.27,-59.98 L13.73,-61.28 L20.24,-65.19 L24.15,-74.95 L28.06,-86.02 L57.35,-75.61 L76.88,-68.44 L88.60,-67.79 L102.93,-70.40 L104.88,-52.17 L106.18,-15.71 L80.14,-16.36 L73.63,-17.66 L60.61,-17.66 L39.78,-15.06 L10.00,-25.00 L-10.00,-40.00 Z" fill="none" stroke="#da9696" stroke-width="14"/>
<path d="M-10.00,-57.50 L5.27,-59.98 L13.73,-61.28 L20.24,-65.19 L24.15,-74.95 L28.06,-86.02 L57.35,-75.61 L76.88,-68.44 L88.60,-67.79 L102.93,-70.40 L104.88,-52.17 L106.18,-15.71 L80.14,-16.36 L73.63,-17.66 L60.61,-17.66 L39.78,-15.06 L10.00,-25.00 L-10.00,-40.00 Z" fill="#c9dada"/>
<path d="M48.24,-53.47 C49.00,-55.86 50.74,-58.62 52.80,-59.98 C54.86,-61.34 57.68,-61.28 60.61,-61.61 C63.54,-61.94 67.12,-62.31 70.37,-61.93 C73.62,-61.55 77.53,-60.85 80.14,-59.33 C82.75,-57.81 84.70,-55.31 86.00,-52.82 C87.30,-50.33 87.95,-47.18 87.95,-44.36 C87.95,-41.54 87.30,-38.17 86.00,-35.89 C84.70,-33.61 82.75,-31.93 80.14,-30.68 C77.53,-29.43 73.62,-28.51 70.37,-28.40 C67.12,-28.29 63.54,-28.67 60.61,-30.03 C57.68,-31.39 54.86,-33.94 52.80,-36.54 C50.74,-39.14 49.00,-42.84 48.24,-45.66 C47.48,-48.48 47.48,-51.08 48.24,-53.47 Z" fill="#b2d5d5" stroke="#7d8d8d" stroke-width="1"/>
<path d="M27.73,-54.77 C28.11,-57.16 29.95,-59.92 31.31,-61.93 C32.67,-63.94 34.35,-65.89 35.87,-66.81 C37.39,-67.73 39.24,-67.73 40.43,-67.46 C41.62,-67.19 42.49,-66.65 43.03,-65.19 C43.57,-63.73 43.46,-60.74 43.68,-58.68 C43.90,-56.62 44.55,-54.23 44.33,-52.82 C44.11,-51.41 43.36,-50.97 42.38,-50.21 C41.40,-49.45 39.55,-49.23 38.47,-48.26 C37.38,-47.28 36.95,-45.12 35.87,-44.36 C34.78,-43.60 33.10,-43.17 31.96,-43.71 C30.82,-44.25 29.73,-45.77 29.03,-47.61 C28.33,-49.45 27.35,-52.38 27.73,-54.77 Z" fill="#d2b39e" stroke="#7d8d8d" stroke-width="1"/>
<path d="M-48.97,-51.37 C-48.26,-53.22 -44.83,-54.73 -42.12,-56.51 C-39.41,-58.29 -36.99,-61.50 -32.71,-62.07 C-28.43,-62.64 -20.58,-61.14 -16.44,-59.93 C-12.30,-58.72 -11.02,-57.07 -7.88,-54.79 C-4.74,-52.51 -0.46,-48.80 2.40,-46.23 C5.25,-43.66 6.68,-42.23 9.25,-39.38 C11.82,-36.53 14.96,-33.10 17.81,-29.11 C20.66,-25.11 24.59,-18.84 26.37,-15.41 C28.15,-11.99 28.23,-11.41 28.51,-8.56 C28.80,-5.71 28.72,-2.00 28.08,1.71 C27.44,5.42 25.80,9.99 24.66,13.70 C23.52,17.41 22.66,21.12 21.23,23.97 C19.80,26.82 18.10,29.39 16.10,30.82 C14.10,32.25 11.82,32.67 9.25,32.53 C6.68,32.39 4.25,31.54 0.68,29.97 C-2.89,28.40 -8.45,25.55 -12.16,23.12 C-15.87,20.69 -19.58,18.12 -21.58,15.41 C-23.58,12.70 -23.86,9.99 -24.14,6.85 C-24.43,3.71 -23.57,-0.28 -23.29,-3.42 C-23.00,-6.56 -22.14,-9.42 -22.43,-11.99 C-22.71,-14.56 -23.43,-16.56 -25.00,-18.84 C-26.57,-21.12 -29.43,-22.83 -31.85,-25.68 C-34.27,-28.53 -37.12,-32.68 -39.55,-35.96 C-41.97,-39.24 -44.83,-42.81 -46.40,-45.38 C-47.97,-47.95 -49.68,-49.52 -48.97,-51.37 Z" fill="#ff0000" stroke="#ff0000" stroke-width="22.6"/>
<path d="M-48.97,-51.37 C-48.26,-53.22 -44.83,-54.73 -42.12,-56.51 C-39.41,-58.29 -36.99,-61.50 -32.71,-62.07 C-28.43,-62.64 -20.58,-61.14 -16.44,-59.93 C-12.30,-58.72 -11.02,-57.07 -7.88,-54.79 C-4.74,-52.51 -0.46,-48.80 2.40,-46.23 C5.25,-43.66 6.68,-42.23 9.25,-39.38 C11.82,-36.53 14.96,-33.10 17.81,-29.11 C20.66,-25.11 24.59,-18.84 26.37,-15.41 C28.15,-11.99 28.23,-11.41 28.51,-8.56 C28.80,-5.71 28.72,-2.00 28.08,1.71 C27.44,5.42 25.80,9.99 24.66,13.70 C23.52,17.41 22.66,21.12 21.23,23.97 C19.80,26.82 18.10,29.39 16.10,30.82 C14.10,32.25 11.82,32.67 9.25,32.53 C6.68,32.39 4.25,31.54 0.68,29.97 C-2.89,28.40 -8.45,25.55 -12.16,23.12 C-15.87,20.69 -19.58,18.12 -21.58,15.41 C-23.58,12.70 -23.86,9.99 -24.14,6.85 C-24.43,3.71 -23.57,-0.28 -23.29,-3.42 C-23.00,-6.56 -22.14,-9.42 -22.43,-11.99 C-22.71,-14.56 -23.43,-16.56 -25.00,-18.84 C-26.57,-21.12 -29.43,-22.83 -31.85,-25.68 C-34.27,-28.53 -37.12,-32.68 -39.55,-35.96 C-41.97,-39.24 -44.83,-42.81 -46.40,-45.38 C-47.97,-47.95 -49.68,-49.52 -48.97,-51.37 Z" fill="#4a7f7d"/>
<path d="M-21.87,-23.78 C-22.27,-25.03 -22.37,-27.77 -22.30,-29.77 C-22.23,-31.77 -22.02,-33.91 -21.45,-35.76 C-20.88,-37.61 -20.02,-39.69 -18.88,-40.90 C-17.74,-42.11 -16.17,-42.61 -14.60,-43.04 C-13.03,-43.47 -11.17,-43.61 -9.46,-43.47 C-7.75,-43.33 -5.89,-42.82 -4.32,-42.18 C-2.75,-41.54 -1.11,-40.55 -0.04,-39.62 C1.03,-38.69 1.82,-37.69 2.10,-36.62 C2.39,-35.55 2.17,-33.91 1.67,-33.20 C1.17,-32.49 0.24,-32.56 -0.90,-32.34 C-2.04,-32.12 -3.75,-32.20 -5.18,-31.91 C-6.61,-31.62 -8.03,-31.27 -9.46,-30.63 C-10.89,-29.99 -12.31,-29.20 -13.74,-28.06 C-15.17,-26.92 -16.99,-24.74 -18.02,-23.78 C-19.05,-22.82 -19.26,-22.30 -19.90,-22.30 C-20.54,-22.30 -21.47,-22.54 -21.87,-23.78 Z" fill="#98704e" stroke="#1c3333" stroke-width="1.1"/>
<path d="M-17.29,-11.13 C-16.50,-13.99 -14.87,-16.70 -13.01,-18.84 C-11.15,-20.98 -8.44,-22.76 -6.16,-23.97 C-3.88,-25.18 -1.46,-26.11 0.68,-26.11 C2.82,-26.11 4.82,-25.47 6.68,-23.97 C8.54,-22.47 10.25,-19.55 11.82,-17.12 C13.39,-14.70 15.10,-11.99 16.10,-9.42 C17.10,-6.85 17.67,-4.42 17.81,-1.71 C17.95,1.00 17.66,4.00 16.95,6.85 C16.24,9.70 14.81,12.84 13.53,15.41 C12.25,17.98 10.96,20.48 9.25,22.26 C7.54,24.04 5.25,25.82 3.25,26.11 C1.25,26.39 -0.31,25.47 -2.74,23.97 C-5.17,22.47 -9.02,19.40 -11.30,17.12 C-13.58,14.84 -15.37,13.41 -16.44,10.27 C-17.51,7.13 -17.58,1.86 -17.72,-1.71 C-17.86,-5.28 -18.07,-8.28 -17.29,-11.13 Z" fill="#67a8a6" stroke="#1c3333" stroke-width="1.1"/>
</g>
<g transform="translate(1041.50,774.80)" stroke-linejoin="round">
<path d="M-10.00,-57.50 L5.27,-59.98 L13.73,-61.28 L20.24,-65.19 L24.15,-74.95 L28.06,-86.02 L57.35,-75.61 L76.88,-68.44 L88.60,-67.79 L102.93,-70.40 L104.88,-52.17 L106.18,-15.71 L80.14,-16.36 L73.63,-17.66 L60.61,-17.66 L39.78,-15.06 L10.00,-25.00 L-10.00,-40.00 Z" fill="none" stroke="#d8fbdc" stroke-width="24.6"/>
<path d="M-10.00,-57.50 L5.27,-59.98 L13.73,-61.28 L20.24,-65.19 L24.15,-74.95 L28.06,-86.02 L57.35,-75.61 L76.88,-68.44 L88.60,-67.79 L102.93,-70.40 L104.88,-52.17 L106.18,-15.71 L80.14,-16.36 L73.63,-17.66 L60.61,-17.66 L39.78,-15.06 L10.00,-25.00 L-10.00,-40.00 Z" fill="none" stroke="#e2d6b6" stroke-width="16.6"/>
<path d="M-10.00,-57.50 L5.27,-59.98 L13.73,-61.28 L20.24,-65.19 L24.15,-74.95 L28.06,-86.02 L57.35,-75.61 L76.88,-68.44 L88.60,-67.79 L102.93,-70.40 L104.88,-52.17 L106.18,-15.71 L80.14,-16.36 L73.63,-17.66 L60.61,-17.66 L39.78,-15.06 L10.00,-25.00 L-10.00,-40.00 Z" fill="none" stroke="#b8b896" stroke-width="12.6"/>
<path d="M-10.00,-57.50 L5.27,-59.98 L13.73,-61.28 L20.24,-65.19 L24.15,-74.95 L28.06,-86.02 L57.35,-75.61 L76.88,-68.44 L88.60,-67.79 L102.93,-70.40 L104.88,-52.17 L106.18,-15.71 L80.14,-16.36 L73.63,-17.66 L60.61,-17.66 L39.78,-15.06 L10.00,-25.00 L-10.00,-40.00 Z" fill="none" stroke="#a8dcbf" stroke-width="6.6"/>
<path d="M-10.00,-57.50 L5.27,-59.98 L13.73,-61.28 L20.24,-65.19 L24.15,-74.95 L28.06,-86.02 L57.35,-75.61 L76.88,-68.44 L88.60,-67.79 L102.93,-70.40 L104.88,-52.17 L106.18,-15.71 L80.14,-16.36 L73.63,-17.66 L60.61,-17.66 L39.78,-15.06 L10.00,-25.00 L-10.00,-40.00 Z" fill="#c9dada"/>
<path d="M48.24,-53.47 C49.00,-55.86 50.74,-58.62 52.80,-59.98 C54.86,-61.34 57.68,-61.28 60.61,-61.61 C63.54,-61.94 67.12,-62.31 70.37,-61.93 C73.62,-61.55 77.53,-60.85 80.14,-59.33 C82.75,-57.81 84.70,-55.31 86.00,-52.82 C87.30,-50.33 87.95,-47.18 87.95,-44.36 C87.95,-41.54 87.30,-38.17 86.00,-35.89 C84.70,-33.61 82.75,-31.93 80.14,-30.68 C77.53,-29.43 73.62,-28.51 70.37,-28.40 C67.12,-28.29 63.54,-28.67 60.61,-30.03 C57.68,-31.39 54.86,-33.94 52.80,-36.54 C50.74,-39.14 49.00,-42.84 48.24,-45.66 C47.48,-48.48 47.48,-51.08 48.24,-53.47 Z" fill="#b2d5d5" stroke="#7d8d8d" stroke-width="1"/>
<path d="M27.73,-54.77 C28.11,-57.16 29.95,-59.92 31.31,-61.93 C32.67,-63.94 34.35,-65.89 35.87,-66.81 C37.39,-67.73 39.24,-67.73 40.43,-67.46 C41.62,-67.19 42.49,-66.65 43.03,-65.19 C43.57,-63.73 43.46,-60.74 43.68,-58.68 C43.90,-56.62 44.55,-54.23 44.33,-52.82 C44.11,-51.41 43.36,-50.97 42.38,-50.21 C41.40,-49.45 39.55,-49.23 38.47,-48.26 C37.38,-47.28 36.95,-45.12 35.87,-44.36 C34.78,-43.60 33.10,-43.17 31.96,-43.71 C30.82,-44.25 29.73,-45.77 29.03,-47.61 C28.33,-49.45 27.35,-52.38 27.73,-54.77 Z" fill="#d2b39e" stroke="#7d8d8d" stroke-width="1"/>
<path d="M-48.97,-51.37 C-48.26,-53.22 -44.83,-54.73 -42.12,-56.51 C-39.41,-58.29 -36.99,-61.50 -32.71,-62.07 C-28.43,-62.64 -20.58,-61.14 -16.44,-59.93 C-12.30,-58.72 -11.02,-57.07 -7.88,-54.79 C-4.74,-52.51 -0.46,-48.80 2.40,-46.23 C5.25,-43.66 6.68,-42.23 9.25,-39.38 C11.82,-36.53 14.96,-33.10 17.81,-29.11 C20.66,-25.11 24.59,-18.84 26.37,-15.41 C28.15,-11.99 28.23,-11.41 28.51,-8.56 C28.80,-5.71 28.72,-2.00 28.08,1.71 C27.44,5.42 25.80,9.99 24.66,13.70 C23.52,17.41 22.66,21.12 21.23,23.97 C19.80,26.82 18.10,29.39 16.10,30.82 C14.10,32.25 11.82,32.67 9.25,32.53 C6.68,32.39 4.25,31.54 0.68,29.97 C-2.89,28.40 -8.45,25.55 -12.16,23.12 C-15.87,20.69 -19.58,18.12 -21.58,15.41 C-23.58,12.70 -23.86,9.99 -24.14,6.85 C-24.43,3.71 -23.57,-0.28 -23.29,-3.42 C-23.00,-6.56 -22.14,-9.42 -22.43,-11.99 C-22.71,-14.56 -23.43,-16.56 -25.00,-18.84 C-26.57,-21.12 -29.43,-22.83 -31.85,-25.68 C-34.27,-28.53 -37.12,-32.68 -39.55,-35.96 C-41.97,-39.24 -44.83,-42.81 -46.40,-45.38 C-47.97,-47.95 -49.68,-49.52 -48.97,-51.37 Z" fill="#80f880" stroke="#80f880" stroke-width="23"/>
<path d="M-48.97,-51.37 C-48.26,-53.22 -44.83,-54.73 -42.12,-56.51 C-39.41,-58.29 -36.99,-61.50 -32.71,-62.07 C-28.43,-62.64 -20.58,-61.14 -16.44,-59.93 C-12.30,-58.72 -11.02,-57.07 -7.88,-54.79 C-4.74,-52.51 -0.46,-48.80 2.40,-46.23 C5.25,-43.66 6.68,-42.23 9.25,-39.38 C11.82,-36.53 14.96,-33.10 17.81,-29.11 C20.66,-25.11 24.59,-18.84 26.37,-15.41 C28.15,-11.99 28.23,-11.41 28.51,-8.56 C28.80,-5.71 28.72,-2.00 28.08,1.71 C27.44,5.42 25.80,9.99 24.66,13.70 C23.52,17.41 22.66,21.12 21.23,23.97 C19.80,26.82 18.10,29.39 16.10,30.82 C14.10,32.25 11.82,32.67 9.25,32.53 C6.68,32.39 4.25,31.54 0.68,29.97 C-2.89,28.40 -8.45,25.55 -12.16,23.12 C-15.87,20.69 -19.58,18.12 -21.58,15.41 C-23.58,12.70 -23.86,9.99 -24.14,6.85 C-24.43,3.71 -23.57,-0.28 -23.29,-3.42 C-23.00,-6.56 -22.14,-9.42 -22.43,-11.99 C-22.71,-14.56 -23.43,-16.56 -25.00,-18.84 C-26.57,-21.12 -29.43,-22.83 -31.85,-25.68 C-34.27,-28.53 -37.12,-32.68 -39.55,-35.96 C-41.97,-39.24 -44.83,-42.81 -46.40,-45.38 C-47.97,-47.95 -49.68,-49.52 -48.97,-51.37 Z" fill="#ff0000" stroke="#ff0000" stroke-width="17.6"/>
<path d="M-48.97,-51.37 C-48.26,-53.22 -44.83,-54.73 -42.12,-56.51 C-39.41,-58.29 -36.99,-61.50 -32.71,-62.07 C-28.43,-62.64 -20.58,-61.14 -16.44,-59.93 C-12.30,-58.72 -11.02,-57.07 -7.88,-54.79 C-4.74,-52.51 -0.46,-48.80 2.40,-46.23 C5.25,-43.66 6.68,-42.23 9.25,-39.38 C11.82,-36.53 14.96,-33.10 17.81,-29.11 C20.66,-25.11 24.59,-18.84 26.37,-15.41 C28.15,-11.99 28.23,-11.41 28.51,-8.56 C28.80,-5.71 28.72,-2.00 28.08,1.71 C27.44,5.42 25.80,9.99 24.66,13.70 C23.52,17.41 22.66,21.12 21.23,23.97 C19.80,26.82 18.10,29.39 16.10,30.82 C14.10,32.25 11.82,32.67 9.25,32.53 C6.68,32.39 4.25,31.54 0.68,29.97 C-2.89,28.40 -8.45,25.55 -12.16,23.12 C-15.87,20.69 -19.58,18.12 -21.58,15.41 C-23.58,12.70 -23.86,9.99 -24.14,6.85 C-24.43,3.71 -23.57,-0.28 -23.29,-3.42 C-23.00,-6.56 -22.14,-9.42 -22.43,-11.99 C-22.71,-14.56 -23.43,-16.56 -25.00,-18.84 C-26.57,-21.12 -29.43,-22.83 -31.85,-25.68 C-34.27,-28.53 -37.12,-32.68 -39.55,-35.96 C-41.97,-39.24 -44.83,-42.81 -46.40,-45.38 C-47.97,-47.95 -49.68,-49.52 -48.97,-51.37 Z" fill="#22bb44" stroke="#22bb44" stroke-width="5.5"/>
<path d="M-48.97,-51.37 C-48.26,-53.22 -44.83,-54.73 -42.12,-56.51 C-39.41,-58.29 -36.99,-61.50 -32.71,-62.07 C-28.43,-62.64 -20.58,-61.14 -16.44,-59.93 C-12.30,-58.72 -11.02,-57.07 -7.88,-54.79 C-4.74,-52.51 -0.46,-48.80 2.40,-46.23 C5.25,-43.66 6.68,-42.23 9.25,-39.38 C11.82,-36.53 14.96,-33.10 17.81,-29.11 C20.66,-25.11 24.59,-18.84 26.37,-15.41 C28.15,-11.99 28.23,-11.41 28.51,-8.56 C28.80,-5.71 28.72,-2.00 28.08,1.71 C27.44,5.42 25.80,9.99 24.66,13.70 C23.52,17.41 22.66,21.12 21.23,23.97 C19.80,26.82 18.10,29.39 16.10,30.82 C14.10,32.25 11.82,32.67 9.25,32.53 C6.68,32.39 4.25,31.54 0.68,29.97 C-2.89,28.40 -8.45,25.55 -12.16,23.12 C-15.87,20.69 -19.58,18.12 -21.58,15.41 C-23.58,12.70 -23.86,9.99 -24.14,6.85 C-24.43,3.71 -23.57,-0.28 -23.29,-3.42 C-23.00,-6.56 -22.14,-9.42 -22.43,-11.99 C-22.71,-14.56 -23.43,-16.56 -25.00,-18.84 C-26.57,-21.12 -29.43,-22.83 -31.85,-25.68 C-34.27,-28.53 -37.12,-32.68 -39.55,-35.96 C-41.97,-39.24 -44.83,-42.81 -46.40,-45.38 C-47.97,-47.95 -49.68,-49.52 -48.97,-51.37 Z" fill="#4a7f7d"/>
<path d="M-21.87,-23.78 C-22.27,-25.03 -22.37,-27.77 -22.30,-29.77 C-22.23,-31.77 -22.02,-33.91 -21.45,-35.76 C-20.88,-37.61 -20.02,-39.69 -18.88,-40.90 C-17.74,-42.11 -16.17,-42.61 -14.60,-43.04 C-13.03,-43.47 -11.17,-43.61 -9.46,-43.47 C-7.75,-43.33 -5.89,-42.82 -4.32,-42.18 C-2.75,-41.54 -1.11,-40.55 -0.04,-39.62 C1.03,-38.69 1.82,-37.69 2.10,-36.62 C2.39,-35.55 2.17,-33.91 1.67,-33.20 C1.17,-32.49 0.24,-32.56 -0.90,-32.34 C-2.04,-32.12 -3.75,-32.20 -5.18,-31.91 C-6.61,-31.62 -8.03,-31.27 -9.46,-30.63 C-10.89,-29.99 -12.31,-29.20 -13.74,-28.06 C-15.17,-26.92 -16.99,-24.74 -18.02,-23.78 C-19.05,-22.82 -19.26,-22.30 -19.90,-22.30 C-20.54,-22.30 -21.47,-22.54 -21.87,-23.78 Z" fill="#98704e" stroke="#1c3333" stroke-width="1.1"/>
<path d="M-17.29,-11.13 C-16.50,-13.99 -14.87,-16.70 -13.01,-18.84 C-11.15,-20.98 -8.44,-22.76 -6.16,-23.97 C-3.88,-25.18 -1.46,-26.11 0.68,-26.11 C2.82,-26.11 4.82,-25.47 6.68,-23.97 C8.54,-22.47 10.25,-19.55 11.82,-17.12 C13.39,-14.70 15.10,-11.99 16.10,-9.42 C17.10,-6.85 17.67,-4.42 17.81,-1.71 C17.95,1.00 17.66,4.00 16.95,6.85 C16.24,9.70 14.81,12.84 13.53,15.41 C12.25,17.98 10.96,20.48 9.25,22.26 C7.54,24.04 5.25,25.82 3.25,26.11 C1.25,26.39 -0.31,25.47 -2.74,23.97 C-5.17,22.47 -9.02,19.40 -11.30,17.12 C-13.58,14.84 -15.37,13.41 -16.44,10.27 C-17.51,7.13 -17.58,1.86 -17.72,-1.71 C-17.86,-5.28 -18.07,-8.28 -17.29,-11.13 Z" fill="#67a8a6" stroke="#1c3333" stroke-width="1.1"/>
</g>
<g transform="translate(1167.95,883.40)" stroke-linejoin="round">
<path d="M-10.00,-57.50 L5.27,-59.98 L13.73,-61.28 L20.24,-65.19 L24.15,-74.95 L28.06,-86.02 L57.35,-75.61 L76.88,-68.44 L88.60,-67.79 L102.93,-70.40 L104.88,-52.17 L106.18,-15.71 L80.14,-16.36 L73.63,-17.66 L60.61,-17.66 L39.78,-15.06 L10.00,-25.00 L-10.00,-40.00 Z" fill="none" stroke="#ffafaf" stroke-width="24"/>
<path d="M-10.00,-57.50 L5.27,-59.98 L13.73,-61.28 L20.24,-65.19 L24.15,-74.95 L28.06,-86.02 L57.35,-75.61 L76.88,-68.44 L88.60,-67.79 L102.93,-70.40 L104.88,-52.17 L106.18,-15.71 L80.14,-16.36 L73.63,-17.66 L60.61,-17.66 L39.78,-15.06 L10.00,-25.00 L-10.00,-40.00 Z" fill="none" stroke="#da9696" stroke-width="14"/>
<path d="M-10.00,-57.50 L5.27,-59.98 L13.73,-61.28 L20.24,-65.19 L24.15,-74.95 L28.06,-86.02 L57.35,-75.61 L76.88,-68.44 L88.60,-67.79 L102.93,-70.40 L104.88,-52.17 L106.18,-15.71 L80.14,-16.36 L73.63,-17.66 L60.61,-17.66 L39.78,-15.06 L10.00,-25.00 L-10.00,-40.00 Z" fill="#c9dada"/>
<path d="M48.24,-53.47 C49.00,-55.86 50.74,-58.62 52.80,-59.98 C54.86,-61.34 57.68,-61.28 60.61,-61.61 C63.54,-61.94 67.12,-62.31 70.37,-61.93 C73.62,-61.55 77.53,-60.85 80.14,-59.33 C82.75,-57.81 84.70,-55.31 86.00,-52.82 C87.30,-50.33 87.95,-47.18 87.95,-44.36 C87.95,-41.54 87.30,-38.17 86.00,-35.89 C84.70,-33.61 82.75,-31.93 80.14,-30.68 C77.53,-29.43 73.62,-28.51 70.37,-28.40 C67.12,-28.29 63.54,-28.67 60.61,-30.03 C57.68,-31.39 54.86,-33.94 52.80,-36.54 C50.74,-39.14 49.00,-42.84 48.24,-45.66 C47.48,-48.48 47.48,-51.08 48.24,-53.47 Z" fill="#b2d5d5" stroke="#7d8d8d" stroke-width="1"/>
<path d="M27.73,-54.77 C28.11,-57.16 29.95,-59.92 31.31,-61.93 C32.67,-63.94 34.35,-65.89 35.87,-66.81 C37.39,-67.73 39.24,-67.73 40.43,-67.46 C41.62,-67.19 42.49,-66.65 43.03,-65.19 C43.57,-63.73 43.46,-60.74 43.68,-58.68 C43.90,-56.62 44.55,-54.23 44.33,-52.82 C44.11,-51.41 43.36,-50.97 42.38,-50.21 C41.40,-49.45 39.55,-49.23 38.47,-48.26 C37.38,-47.28 36.95,-45.12 35.87,-44.36 C34.78,-43.60 33.10,-43.17 31.96,-43.71 C30.82,-44.25 29.73,-45.77 29.03,-47.61 C28.33,-49.45 27.35,-52.38 27.73,-54.77 Z" fill="#d2b39e" stroke="#7d8d8d" stroke-width="1"/>
<path d="M-48.97,-51.37 C-48.26,-53.22 -44.83,-54.73 -42.12,-56.51 C-39.41,-58.29 -36.99,-61.50 -32.71,-62.07 C-28.43,-62.64 -20.58,-61.14 -16.44,-59.93 C-12.30,-58.72 -11.02,-57.07 -7.88,-54.79 C-4.74,-52.51 -0.46,-48.80 2.40,-46.23 C5.25,-43.66 6.68,-42.23 9.25,-39.38 C11.82,-36.53 14.96,-33.10 17.81,-29.11 C20.66,-25.11 24.59,-18.84 26.37,-15.41 C28.15,-11.99 28.23,-11.41 28.51,-8.56 C28.80,-5.71 28.72,-2.00 28.08,1.71 C27.44,5.42 25.80,9.99 24.66,13.70 C23.52,17.41 22.66,21.12 21.23,23.97 C19.80,26.82 18.10,29.39 16.10,30.82 C14.10,32.25 11.82,32.67 9.25,32.53 C6.68,32.39 4.25,31.54 0.68,29.97 C-2.89,28.40 -8.45,25.55 -12.16,23.12 C-15.87,20.69 -19.58,18.12 -21.58,15.41 C-23.58,12.70 -23.86,9.99 -24.14,6.85 C-24.43,3.71 -23.57,-0.28 -23.29,-3.42 C-23.00,-6.56 -22.14,-9.42 -22.43,-11.99 C-22.71,-14.56 -23.43,-16.56 -25.00,-18.84 C-26.57,-21.12 -29.43,-22.83 -31.85,-25.68 C-34.27,-28.53 -37.12,-32.68 -39.55,-35.96 C-41.97,-39.24 -44.83,-42.81 -46.40,-45.38 C-47.97,-47.95 -49.68,-49.52 -48.97,-51.37 Z" fill="#ff0000" stroke="#ff0000" stroke-width="22.6"/>
<path d="M-48.97,-51.37 C-48.26,-53.22 -44.83,-54.73 -42.12,-56.51 C-39.41,-58.29 -36.99,-61.50 -32.71,-62.07 C-28.43,-62.64 -20.58,-61.14 -16.44,-59.93 C-12.30,-58.72 -11.02,-57.07 -7.88,-54.79 C-4.74,-52.51 -0.46,-48.80 2.40,-46.23 C5.25,-43.66 6.68,-42.23 9.25,-39.38 C11.82,-36.53 14.96,-33.10 17.81,-29.11 C20.66,-25.11 24.59,-18.84 26.37,-15.41 C28.15,-11.99 28.23,-11.41 28.51,-8.56 C28.80,-5.71 28.72,-2.00 28.08,1.71 C27.44,5.42 25.80,9.99 24.66,13.70 C23.52,17.41 22.66,21.12 21.23,23.97 C19.80,26.82 18.10,29.39 16.10,30.82 C14.10,32.25 11.82,32.67 9.25,32.53 C6.68,32.39 4.25,31.54 0.68,29.97 C-2.89,28.40 -8.45,25.55 -12.16,23.12 C-15.87,20.69 -19.58,18.12 -21.58,15.41 C-23.58,12.70 -23.86,9.99 -24.14,6.85 C-24.43,3.71 -23.57,-0.28 -23.29,-3.42 C-23.00,-6.56 -22.14,-9.42 -22.43,-11.99 C-22.71,-14.56 -23.43,-16.56 -25.00,-18.84 C-26.57,-21.12 -29.43,-22.83 -31.85,-25.68 C-34.27,-28.53 -37.12,-32.68 -39.55,-35.96 C-41.97,-39.24 -44.83,-42.81 -46.40,-45.38 C-47.97,-47.95 -49.68,-49.52 -48.97,-51.37 Z" fill="#4a7f7d"/>
<path d="M-21.87,-23.78 C-22.27,-25.03 -22.37,-27.77 -22.30,-29.77 C-22.23,-31.77 -22.02,-33.91 -21.45,-35.76 C-20.88,-37.61 -20.02,-39.69 -18.88,-40.90 C-17.74,-42.11 -16.17,-42.61 -14.60,-43.04 C-13.03,-43.47 -11.17,-43.61 -9.46,-43.47 C-7.75,-43.33 -5.89,-42.82 -4.32,-42.18 C-2.75,-41.54 -1.11,-40.55 -0.04,-39.62 C1.03,-38.69 1.82,-37.69 2.10,-36.62 C2.39,-35.55 2.17,-33.91 1.67,-33.20 C1.17,-32.49 0.24,-32.56 -0.90,-32.34 C-2.04,-32.12 -3.75,-32.20 -5.18,-31.91 C-6.61,-31.62 -8.03,-31.27 -9.46,-30.63 C-10.89,-29.99 -12.31,-29.20 -13.74,-28.06 C-15.17,-26.92 -16.99,-24.74 -18.02,-23.78 C-19.05,-22.82 -19.26,-22.30 -19.90,-22.30 C-20.54,-22.30 -21.47,-22.54 -21.87,-23.78 Z" fill="#98704e" stroke="#1c3333" stroke-width="1.1"/>
<path d="M-17.29,-11.13 C-16.50,-13.99 -14.87,-16.70 -13.01,-18.84 C-11.15,-20.98 -8.44,-22.76 -6.16,-23.97 C-3.88,-25.18 -1.46,-26.11 0.68,-26.11 C2.82,-26.11 4.82,-25.47 6.68,-23.97 C8.54,-22.47 10.25,-19.55 11.82,-17.12 C13.39,-14.70 15.10,-11.99 16.10,-9.42 C17.10,-6.85 17.67,-4.42 17.81,-1.71 C17.95,1.00 17.66,4.00 16.95,6.85 C16.24,9.70 14.81,12.84 13.53,15.41 C12.25,17.98 10.96,20.48 9.25,22.26 C7.54,24.04 5.25,25.82 3.25,26.11 C1.25,26.39 -0.31,25.47 -2.74,23.97 C-5.17,22.47 -9.02,19.40 -11.30,17.12 C-13.58,14.84 -15.37,13.41 -16.44,10.27 C-17.51,7.13 -17.58,1.86 -17.72,-1.71 C-17.86,-5.28 -18.07,-8.28 -17.29,-11.13 Z" fill="#67a8a6" stroke="#1c3333" stroke-width="1.1"/>
</g>
<g transform="translate(1731.70,775.90)" stroke-linejoin="round">
<path d="M-10.00,-57.50 L5.27,-59.98 L13.73,-61.28 L20.24,-65.19 L24.15,-74.95 L28.06,-86.02 L57.35,-75.61 L76.88,-68.44 L88.60,-67.79 L102.93,-70.40 L104.88,-52.17 L106.18,-15.71 L80.14,-16.36 L73.63,-17.66 L60.61,-17.66 L39.78,-15.06 L10.00,-25.00 L-10.00,-40.00 Z" fill="none" stroke="#d8fbdc" stroke-width="24.6"/>
<path d="M-10.00,-57.50 L5.27,-59.98 L13.73,-61.28 L20.24,-65.19 L24.15,-74.95 L28.06,-86.02 L57.35,-75.61 L76.88,-68.44 L88.60,-67.79 L102.93,-70.40 L104.88,-52.17 L106.18,-15.71 L80.14,-16.36 L73.63,-17.66 L60.61,-17.66 L39.78,-15.06 L10.00,-25.00 L-10.00,-40.00 Z" fill="none" stroke="#e2d6b6" stroke-width="16.6"/>
<path d="M-10.00,-57.50 L5.27,-59.98 L13.73,-61.28 L20.24,-65.19 L24.15,-74.95 L28.06,-86.02 L57.35,-75.61 L76.88,-68.44 L88.60,-67.79 L102.93,-70.40 L104.88,-52.17 L106.18,-15.71 L80.14,-16.36 L73.63,-17.66 L60.61,-17.66 L39.78,-15.06 L10.00,-25.00 L-10.00,-40.00 Z" fill="none" stroke="#b8b896" stroke-width="12.6"/>
<path d="M-10.00,-57.50 L5.27,-59.98 L13.73,-61.28 L20.24,-65.19 L24.15,-74.95 L28.06,-86.02 L57.35,-75.61 L76.88,-68.44 L88.60,-67.79 L102.93,-70.40 L104.88,-52.17 L106.18,-15.71 L80.14,-16.36 L73.63,-17.66 L60.61,-17.66 L39.78,-15.06 L10.00,-25.00 L-10.00,-40.00 Z" fill="none" stroke="#a8dcbf" stroke-width="6.6"/>
<path d="M-10.00,-57.50 L5.27,-59.98 L13.73,-61.28 L20.24,-65.19 L24.15,-74.95 L28.06,-86.02 L57.35,-75.61 L76.88,-68.44 L88.60,-67.79 L102.93,-70.40 L104.88,-52.17 L106.18,-15.71 L80.14,-16.36 L73.63,-17.66 L60.61,-17.66 L39.78,-15.06 L10.00,-25.00 L-10.00,-40.00 Z" fill="#c9dada"/>
<path d="M48.24,-53.47 C49.00,-55.86 50.74,-58.62 52.80,-59.98 C54.86,-61.34 57.68,-61.28 60.61,-61.61 C63.54,-61.94 67.12,-62.31 70.37,-61.93 C73.62,-61.55 77.53,-60.85 80.14,-59.33 C82.75,-57.81 84.70,-55.31 86.00,-52.82 C87.30,-50.33 87.95,-47.18 87.95,-44.36 C87.95,-41.54 87.30,-38.17 86.00,-35.89 C84.70,-33.61 82.75,-31.93 80.14,-30.68 C77.53,-29.43 73.62,-28.51 70.37,-28.40 C67.12,-28.29 63.54,-28.67 60.61,-30.03 C57.68,-31.39 54.86,-33.94 52.80,-36.54 C50.74,-39.14 49.00,-42.84 48.24,-45.66 C47.48,-48.48 47.48,-51.08 48.24,-53.47 Z" fill="#b2d5d5" stroke="#7d8d8d" stroke-width="1"/>
<path d="M27.73,-54.77 C28.11,-57.16 29.95,-59.92 31.31,-61.93 C32.67,-63.94 34.35,-65.89 35.87,-66.81 C37.39,-67.73 39.24,-67.73 40.43,-67.46 C41.62,-67.19 42.49,-66.65 43.03,-65.19 C43.57,-63.73 43.46,-60.74 43.68,-58.68 C43.90,-56.62 44.55,-54.23 44.33,-52.82 C44.11,-51.41 43.36,-50.97 42.38,-50.21 C41.40,-49.45 39.55,-49.23 38.47,-48.26 C37.38,-47.28 36.95,-45.12 35.87,-44.36 C34.78,-43.60 33.10,-43.17 31.96,-43.71 C30.82,-44.25 29.73,-45.77 29.03,-47.61 C28.33,-49.45 27.35,-52.38 27.73,-54.77 Z" fill="#d2b39e" stroke="#7d8d8d" stroke-width="1"/>
<path d="M-48.97,-51.37 C-48.26,-53.22 -44.83,-54.73 -42.12,-56.51 C-39.41,-58.29 -36.99,-61.50 -32.71,-62.07 C-28.43,-62.64 -20.58,-61.14 -16.44,-59.93 C-12.30,-58.72 -11.02,-57.07 -7.88,-54.79 C-4.74,-52.51 -0.46,-48.80 2.40,-46.23 C5.25,-43.66 6.68,-42.23 9.25,-39.38 C11.82,-36.53 14.96,-33.10 17.81,-29.11 C20.66,-25.11 24.59,-18.84 26.37,-15.41 C28.15,-11.99 28.23,-11.41 28.51,-8.56 C28.80,-5.71 28.72,-2.00 28.08,1.71 C27.44,5.42 25.80,9.99 24.66,13.70 C23.52,17.41 22.66,21.12 21.23,23.97 C19.80,26.82 18.10,29.39 16.10,30.82 C14.10,32.25 11.82,32.67 9.25,32.53 C6.68,32.39 4.25,31.54 0.68,29.97 C-2.89,28.40 -8.45,25.55 -12.16,23.12 C-15.87,20.69 -19.58,18.12 -21.58,15.41 C-23.58,12.70 -23.86,9.99 -24.14,6.85 C-24.43,3.71 -23.57,-0.28 -23.29,-3.42 C-23.00,-6.56 -22.14,-9.42 -22.43,-11.99 C-22.71,-14.56 -23.43,-16.56 -25.00,-18.84 C-26.57,-21.12 -29.43,-22.83 -31.85,-25.68 C-34.27,-28.53 -37.12,-32.68 -39.55,-35.96 C-41.97,-39.24 -44.83,-42.81 -46.40,-45.38 C-47.97,-47.95 -49.68,-49.52 -48.97,-51.37 Z" fill="#80f880" stroke="#80f880" stroke-width="23"/>
<path d="M-48.97,-51.37 C-48.26,-53.22 -44.83,-54.73 -42.12,-56.51 C-39.41,-58.29 -36.99,-61.50 -32.71,-62.07 C-28.43,-62.64 -20.58,-61.14 -16.44,-59.93 C-12.30,-58.72 -11.02,-57.07 -7.88,-54.79 C-4.74,-52.51 -0.46,-48.80 2.40,-46.23 C5.25,-43.66 6.68,-42.23 9.25,-39.38 C11.82,-36.53 14.96,-33.10 17.81,-29.11 C20.66,-25.11 24.59,-18.84 26.37,-15.41 C28.15,-11.99 28.23,-11.41 28.51,-8.56 C28.80,-5.71 28.72,-2.00 28.08,1.71 C27.44,5.42 25.80,9.99 24.66,13.70 C23.52,17.41 22.66,21.12 21.23,23.97 C19.80,26.82 18.10,29.39 16.10,30.82 C14.10,32.25 11.82,32.67 9.25,32.53 C6.68,32.39 4.25,31.54 0.68,29.97 C-2.89,28.40 -8.45,25.55 -12.16,23.12 C-15.87,20.69 -19.58,18.12 -21.58,15.41 C-23.58,12.70 -23.86,9.99 -24.14,6.85 C-24.43,3.71 -23.57,-0.28 -23.29,-3.42 C-23.00,-6.56 -22.14,-9.42 -22.43,-11.99 C-22.71,-14.56 -23.43,-16.56 -25.00,-18.84 C-26.57,-21.12 -29.43,-22.83 -31.85,-25.68 C-34.27,-28.53 -37.12,-32.68 -39.55,-35.96 C-41.97,-39.24 -44.83,-42.81 -46.40,-45.38 C-47.97,-47.95 -49.68,-49.52 -48.97,-51.37 Z" fill="#ff0000" stroke="#ff0000" stroke-width="17.6"/>
<path d="M-48.97,-51.37 C-48.26,-53.22 -44.83,-54.73 -42.12,-56.51 C-39.41,-58.29 -36.99,-61.50 -32.71,-62.07 C-28.43,-62.64 -20.58,-61.14 -16.44,-59.93 C-12.30,-58.72 -11.02,-57.07 -7.88,-54.79 C-4.74,-52.51 -0.46,-48.80 2.40,-46.23 C5.25,-43.66 6.68,-42.23 9.25,-39.38 C11.82,-36.53 14.96,-33.10 17.81,-29.11 C20.66,-25.11 24.59,-18.84 26.37,-15.41 C28.15,-11.99 28.23,-11.41 28.51,-8.56 C28.80,-5.71 28.72,-2.00 28.08,1.71 C27.44,5.42 25.80,9.99 24.66,13.70 C23.52,17.41 22.66,21.12 21.23,23.97 C19.80,26.82 18.10,29.39 16.10,30.82 C14.10,32.25 11.82,32.67 9.25,32.53 C6.68,32.39 4.25,31.54 0.68,29.97 C-2.89,28.40 -8.45,25.55 -12.16,23.12 C-15.87,20.69 -19.58,18.12 -21.58,15.41 C-23.58,12.70 -23.86,9.99 -24.14,6.85 C-24.43,3.71 -23.57,-0.28 -23.29,-3.42 C-23.00,-6.56 -22.14,-9.42 -22.43,-11.99 C-22.71,-14.56 -23.43,-16.56 -25.00,-18.84 C-26.57,-21.12 -29.43,-22.83 -31.85,-25.68 C-34.27,-28.53 -37.12,-32.68 -39.55,-35.96 C-41.97,-39.24 -44.83,-42.81 -46.40,-45.38 C-47.97,-47.95 -49.68,-49.52 -48.97,-51.37 Z" fill="#22bb44" stroke="#22bb44" stroke-width="5.5"/>
<path d="M-48.97,-51.37 C-48.26,-53.22 -44.83,-54.73 -42.12,-56.51 C-39.41,-58.29 -36.99,-61.50 -32.71,-62.07 C-28.43,-62.64 -20.58,-61.14 -16.44,-59.93 C-12.30,-58.72 -11.02,-57.07 -7.88,-54.79 C-4.74,-52.51 -0.46,-48.80 2.40,-46.23 C5.25,-43.66 6.68,-42.23 9.25,-39.38 C11.82,-36.53 14.96,-33.10 17.81,-29.11 C20.66,-25.11 24.59,-18.84 26.37,-15.41 C28.15,-11.99 28.23,-11.41 28.51,-8.56 C28.80,-5.71 28.72,-2.00 28.08,1.71 C27.44,5.42 25.80,9.99 24.66,13.70 C23.52,17.41 22.66,21.12 21.23,23.97 C19.80,26.82 18.10,29.39 16.10,30.82 C14.10,32.25 11.82,32.67 9.25,32.53 C6.68,32.39 4.25,31.54 0.68,29.97 C-2.89,28.40 -8.45,25.55 -12.16,23.12 C-15.87,20.69 -19.58,18.12 -21.58,15.41 C-23.58,12.70 -23.86,9.99 -24.14,6.85 C-24.43,3.71 -23.57,-0.28 -23.29,-3.42 C-23.00,-6.56 -22.14,-9.42 -22.43,-11.99 C-22.71,-14.56 -23.43,-16.56 -25.00,-18.84 C-26.57,-21.12 -29.43,-22.83 -31.85,-25.68 C-34.27,-28.53 -37.12,-32.68 -39.55,-35.96 C-41.97,-39.24 -44.83,-42.81 -46.40,-45.38 C-47.97,-47.95 -49.68,-49.52 -48.97,-51.37 Z" fill="#4a7f7d"/>
<path d="M-21.87,-23.78 C-22.27,-25.03 -22.37,-27.77 -22.30,-29.77 C-22.23,-31.77 -22.02,-33.91 -21.45,-35.76 C-20.88,-37.61 -20.02,-39.69 -18.88,-40.90 C-17.74,-42.11 -16.17,-42.61 -14.60,-43.04 C-13.03,-43.47 -11.17,-43.61 -9.46,-43.47 C-7.75,-43.33 -5.89,-42.82 -4.32,-42.18 C-2.75,-41.54 -1.11,-40.55 -0.04,-39.62 C1.03,-38.69 1.82,-37.69 2.10,-36.62 C2.39,-35.55 2.17,-33.91 1.67,-33.20 C1.17,-32.49 0.24,-32.56 -0.90,-32.34 C-2.04,-32.12 -3.75,-32.20 -5.18,-31.91 C-6.61,-31.62 -8.03,-31.27 -9.46,-30.63 C-10.89,-29.99 -12.31,-29.20 -13.74,-28.06 C-15.17,-26.92 -16.99,-24.74 -18.02,-23.78 C-19.05,-22.82 -19.26,-22.30 -19.90,-22.30 C-20.54,-22.30 -21.47,-22.54 -21.87,-23.78 Z" fill="#98704e" stroke="#1c3333" stroke-width="1.1"/>
<path d="M-17.29,-11.13 C-16.50,-13.99 -14.87,-16.70 -13.01,-18.84 C-11.15,-20.98 -8.44,-22.76 -6.16,-23.97 C-3.88,-25.18 -1.46,-26.11 0.68,-26.11 C2.82,-26.11 4.82,-25.47 6.68,-23.97 C8.54,-22.47 10.25,-19.55 11.82,-17.12 C13.39,-14.70 15.10,-11.99 16.10,-9.42 C17.10,-6.85 17.67,-4.42 17.81,-1.71 C17.95,1.00 17.66,4.00 16.95,6.85 C16.24,9.70 14.81,12.84 13.53,15.41 C12.25,17.98 10.96,20.48 9.25,22.26 C7.54,24.04 5.25,25.82 3.25,26.11 C1.25,26.39 -0.31,25.47 -2.74,23.97 C-5.17,22.47 -9.02,19.40 -11.30,17.12 C-13.58,14.84 -15.37,13.41 -16.44,10.27 C-17.51,7.13 -17.58,1.86 -17.72,-1.71 C-17.86,-5.28 -18.07,-8.28 -17.29,-11.13 Z" fill="#67a8a6" stroke="#1c3333" stroke-width="1.1"/>
</g>
<g transform="translate(1856.70,882.40)" stroke-linejoin="round">
<path d="M-10.00,-57.50 L5.27,-59.98 L13.73,-61.28 L20.24,-65.19 L24.15,-74.95 L28.06,-86.02 L57.35,-75.61 L76.88,-68.44 L88.60,-67.79 L102.93,-70.40 L104.88,-52.17 L106.18,-15.71 L80.14,-16.36 L73.63,-17.66 L60.61,-17.66 L39.78,-15.06 L10.00,-25.00 L-10.00,-40.00 Z" fill="none" stroke="#d8fbdc" stroke-width="24.6"/>
<path d="M-10.00,-57.50 L5.27,-59.98 L13.73,-61.28 L20.24,-65.19 L24.15,-74.95 L28.06,-86.02 L57.35,-75.61 L76.88,-68.44 L88.60,-67.79 L102.93,-70.40 L104.88,-52.17 L106.18,-15.71 L80.14,-16.36 L73.63,-17.66 L60.61,-17.66 L39.78,-15.06 L10.00,-25.00 L-10.00,-40.00 Z" fill="none" stroke="#e2d6b6" stroke-width="16.6"/>
<path d="M-10.00,-57.50 L5.27,-59.98 L13.73,-61.28 L20.24,-65.19 L24.15,-74.95 L28.06,-86.02 L57.35,-75.61 L76.88,-68.44 L88.60,-67.79 L102.93,-70.40 L104.88,-52.17 L106.18,-15.71 L80.14,-16.36 L73.63,-17.66 L60.61,-17.66 L39.78,-15.06 L10.00,-25.00 L-10.00,-40.00 Z" fill="none" stroke="#b8b896" stroke-width="12.6"/>
<path d="M-10.00,-57.50 L5.27,-59.98 L13.73,-61.28 L20.24,-65.19 L24.15,-74.95 L28.06,-86.02 L57.35,-75.61 L76.88,-68.44 L88.60,-67.79 L102.93,-70.40 L104.88,-52.17 L106.18,-15.71 L80.14,-16.36 L73.63,-17.66 L60.61,-17.66 L39.78,-15.06 L10.00,-25.00 L-10.00,-40.00 Z" fill="none" stroke="#a8dcbf" stroke-width="6.6"/>
<path d="M-10.00,-57.50 L5.27,-59.98 L13.73,-61.28 L20.24,-65.19 L24.15,-74.95 L28.06,-86.02 L57.35,-75.61 L76.88,-68.44 L88.60,-67.79 L102.93,-70.40 L104.88,-52.17 L106.18,-15.71 L80.14,-16.36 L73.63,-17.66 L60.61,-17.66 L39.78,-15.06 L10.00,-25.00 L-10.00,-40.00 Z" fill="#c9dada"/>
<path d="M48.24,-53.47 C49.00,-55.86 50.74,-58.62 52.80,-59.98 C54.86,-61.34 57.68,-61.28 60.61,-61.61 C63.54,-61.94 67.12,-62.31 70.37,-61.93 C73.62,-61.55 77.53,-60.85 80.14,-59.33 C82.75,-57.81 84.70,-55.31 86.00,-52.82 C87.30,-50.33 87.95,-47.18 87.95,-44.36 C87.95,-41.54 87.30,-38.17 86.00,-35.89 C84.70,-33.61 82.75,-31.93 80.14,-30.68 C77.53,-29.43 73.62,-28.51 70.37,-28.40 C67.12,-28.29 63.54,-28.67 60.61,-30.03 C57.68,-31.39 54.86,-33.94 52.80,-36.54 C50.74,-39.14 49.00,-42.84 48.24,-45.66 C47.48,-48.48 47.48,-51.08 48.24,-53.47 Z" fill="#b2d5d5" stroke="#7d8d8d" stroke-width="1"/>
<path d="M27.73,-54.77 C28.11,-57.16 29.95,-59.92 31.31,-61.93 C32.67,-63.94 34.35,-65.89 35.87,-66.81 C37.39,-67.73 39.24,-67.73 40.43,-67.46 C41.62,-67.19 42.49,-66.65 43.03,-65.19 C43.57,-63.73 43.46,-60.74 43.68,-58.68 C43.90,-56.62 44.55,-54.23 44.33,-52.82 C44.11,-51.41 43.36,-50.97 42.38,-50.21 C41.40,-49.45 39.55,-49.23 38.47,-48.26 C37.38,-47.28 36.95,-45.12 35.87,-44.36 C34.78,-43.60 33.10,-43.17 31.96,-43.71 C30.82,-44.25 29.73,-45.77 29.03,-47.61 C28.33,-49.45 27.35,-52.38 27.73,-54.77 Z" fill="#d2b39e" stroke="#7d8d8d" stroke-width="1"/>
<path d="M-48.97,-51.37 C-48.26,-53.22 -44.83,-54.73 -42.12,-56.51 C-39.41,-58.29 -36.99,-61.50 -32.71,-62.07 C-28.43,-62.64 -20.58,-61.14 -16.44,-59.93 C-12.30,-58.72 -11.02,-57.07 -7.88,-54.79 C-4.74,-52.51 -0.46,-48.80 2.40,-46.23 C5.25,-43.66 6.68,-42.23 9.25,-39.38 C11.82,-36.53 14.96,-33.10 17.81,-29.11 C20.66,-25.11 24.59,-18.84 26.37,-15.41 C28.15,-11.99 28.23,-11.41 28.51,-8.56 C28.80,-5.71 28.72,-2.00 28.08,1.71 C27.44,5.42 25.80,9.99 24.66,13.70 C23.52,17.41 22.66,21.12 21.23,23.97 C19.80,26.82 18.10,29.39 16.10,30.82 C14.10,32.25 11.82,32.67 9.25,32.53 C6.68,32.39 4.25,31.54 0.68,29.97 C-2.89,28.40 -8.45,25.55 -12.16,23.12 C-15.87,20.69 -19.58,18.12 -21.58,15.41 C-23.58,12.70 -23.86,9.99 -24.14,6.85 C-24.43,3.71 -23.57,-0.28 -23.29,-3.42 C-23.00,-6.56 -22.14,-9.42 -22.43,-11.99 C-22.71,-14.56 -23.43,-16.56 -25.00,-18.84 C-26.57,-21.12 -29.43,-22.83 -31.85,-25.68 C-34.27,-28.53 -37.12,-32.68 -39.55,-35.96 C-41.97,-39.24 -44.83,-42.81 -46.40,-45.38 C-47.97,-47.95 -49.68,-49.52 -48.97,-51.37 Z" fill="#80f880" stroke="#80f880" stroke-width="23"/>
<path d="M-48.97,-51.37 C-48.26,-53.22 -44.83,-54.73 -42.12,-56.51 C-39.41,-58.29 -36.99,-61.50 -32.71,-62.07 C-28.43,-62.64 -20.58,-61.14 -16.44,-59.93 C-12.30,-58.72 -11.02,-57.07 -7.88,-54.79 C-4.74,-52.51 -0.46,-48.80 2.40,-46.23 C5.25,-43.66 6.68,-42.23 9.25,-39.38 C11.82,-36.53 14.96,-33.10 17.81,-29.11 C20.66,-25.11 24.59,-18.84 26.37,-15.41 C28.15,-11.99 28.23,-11.41 28.51,-8.56 C28.80,-5.71 28.72,-2.00 28.08,1.71 C27.44,5.42 25.80,9.99 24.66,13.70 C23.52,17.41 22.66,21.12 21.23,23.97 C19.80,26.82 18.10,29.39 16.10,30.82 C14.10,32.25 11.82,32.67 9.25,32.53 C6.68,32.39 4.25,31.54 0.68,29.97 C-2.89,28.40 -8.45,25.55 -12.16,23.12 C-15.87,20.69 -19.58,18.12 -21.58,15.41 C-23.58,12.70 -23.86,9.99 -24.14,6.85 C-24.43,3.71 -23.57,-0.28 -23.29,-3.42 C-23.00,-6.56 -22.14,-9.42 -22.43,-11.99 C-22.71,-14.56 -23.43,-16.56 -25.00,-18.84 C-26.57,-21.12 -29.43,-22.83 -31.85,-25.68 C-34.27,-28.53 -37.12,-32.68 -39.55,-35.96 C-41.97,-39.24 -44.83,-42.81 -46.40,-45.38 C-47.97,-47.95 -49.68,-49.52 -48.97,-51.37 Z" fill="#ff0000" stroke="#ff0000" stroke-width="17.6"/>
<path d="M-48.97,-51.37 C-48.26,-53.22 -44.83,-54.73 -42.12,-56.51 C-39.41,-58.29 -36.99,-61.50 -32.71,-62.07 C-28.43,-62.64 -20.58,-61.14 -16.44,-59.93 C-12.30,-58.72 -11.02,-57.07 -7.88,-54.79 C-4.74,-52.51 -0.46,-48.80 2.40,-46.23 C5.25,-43.66 6.68,-42.23 9.25,-39.38 C11.82,-36.53 14.96,-33.10 17.81,-29.11 C20.66,-25.11 24.59,-18.84 26.37,-15.41 C28.15,-11.99 28.23,-11.41 28.51,-8.56 C28.80,-5.71 28.72,-2.00 28.08,1.71 C27.44,5.42 25.80,9.99 24.66,13.70 C23.52,17.41 22.66,21.12 21.23,23.97 C19.80,26.82 18.10,29.39 16.10,30.82 C14.10,32.25 11.82,32.67 9.25,32.53 C6.68,32.39 4.25,31.54 0.68,29.97 C-2.89,28.40 -8.45,25.55 -12.16,23.12 C-15.87,20.69 -19.58,18.12 -21.58,15.41 C-23.58,12.70 -23.86,9.99 -24.14,6.85 C-24.43,3.71 -23.57,-0.28 -23.29,-3.42 C-23.00,-6.56 -22.14,-9.42 -22.43,-11.99 C-22.71,-14.56 -23.43,-16.56 -25.00,-18.84 C-26.57,-21.12 -29.43,-22.83 -31.85,-25.68 C-34.27,-28.53 -37.12,-32.68 -39.55,-35.96 C-41.97,-39.24 -44.83,-42.81 -46.40,-45.38 C-47.97,-47.95 -49.68,-49.52 -48.97,-51.37 Z" fill="#22bb44" stroke="#22bb44" stroke-width="5.5"/>
<path d="M-48.97,-51.37 C-48.26,-53.22 -44.83,-54.73 -42.12,-56.51 C-39.41,-58.29 -36.99,-61.50 -32.71,-62.07 C-28.43,-62.64 -20.58,-61.14 -16.44,-59.93 C-12.30,-58.72 -11.02,-57.07 -7.88,-54.79 C-4.74,-52.51 -0.46,-48.80 2.40,-46.23 C5.25,-43.66 6.68,-42.23 9.25,-39.38 C11.82,-36.53 14.96,-33.10 17.81,-29.11 C20.66,-25.11 24.59,-18.84 26.37,-15.41 C28.15,-11.99 28.23,-11.41 28.51,-8.56 C28.80,-5.71 28.72,-2.00 28.08,1.71 C27.44,5.42 25.80,9.99 24.66,13.70 C23.52,17.41 22.66,21.12 21.23,23.97 C19.80,26.82 18.10,29.39 16.10,30.82 C14.10,32.25 11.82,32.67 9.25,32.53 C6.68,32.39 4.25,31.54 0.68,29.97 C-2.89,28.40 -8.45,25.55 -12.16,23.12 C-15.87,20.69 -19.58,18.12 -21.58,15.41 C-23.58,12.70 -23.86,9.99 -24.14,6.85 C-24.43,3.71 -23.57,-0.28 -23.29,-3.42 C-23.00,-6.56 -22.14,-9.42 -22.43,-11.99 C-22.71,-14.56 -23.43,-16.56 -25.00,-18.84 C-26.57,-21.12 -29.43,-22.83 -31.85,-25.68 C-34.27,-28.53 -37.12,-32.68 -39.55,-35.96 C-41.97,-39.24 -44.83,-42.81 -46.40,-45.38 C-47.97,-47.95 -49.68,-49.52 -48.97,-51.37 Z" fill="#4a7f7d"/>
<path d="M-21.87,-23.78 C-22.27,-25.03 -22.37,-27.77 -22.30,-29.77 C-22.23,-31.77 -22.02,-33.91 -21.45,-35.76 C-20.88,-37.61 -20.02,-39.69 -18.88,-40.90 C-17.74,-42.11 -16.17,-42.61 -14.60,-43.04 C-13.03,-43.47 -11.17,-43.61 -9.46,-43.47 C-7.75,-43.33 -5.89,-42.82 -4.32,-42.18 C-2.75,-41.54 -1.11,-40.55 -0.04,-39.62 C1.03,-38.69 1.82,-37.69 2.10,-36.62 C2.39,-35.55 2.17,-33.91 1.67,-33.20 C1.17,-32.49 0.24,-32.56 -0.90,-32.34 C-2.04,-32.12 -3.75,-32.20 -5.18,-31.91 C-6.61,-31.62 -8.03,-31.27 -9.46,-30.63 C-10.89,-29.99 -12.31,-29.20 -13.74,-28.06 C-15.17,-26.92 -16.99,-24.74 -18.02,-23.78 C-19.05,-22.82 -19.26,-22.30 -19.90,-22.30 C-20.54,-22.30 -21.47,-22.54 -21.87,-23.78 Z" fill="#98704e" stroke="#1c3333" stroke-width="1.1"/>
<path d="M-17.29,-11.13 C-16.50,-13.99 -14.87,-16.70 -13.01,-18.84 C-11.15,-20.98 -8.44,-22.76 -6.16,-23.97 C-3.88,-25.18 -1.46,-26.11 0.68,-26.11 C2.82,-26.11 4.82,-25.47 6.68,-23.97 C8.54,-22.47 10.25,-19.55 11.82,-17.12 C13.39,-14.70 15.10,-11.99 16.10,-9.42 C17.10,-6.85 17.67,-4.42 17.81,-1.71 C17.95,1.00 17.66,4.00 16.95,6.85 C16.24,9.70 14.81,12.84 13.53,15.41 C12.25,17.98 10.96,20.48 9.25,22.26 C7.54,24.04 5.25,25.82 3.25,26.11 C1.25,26.39 -0.31,25.47 -2.74,23.97 C-5.17,22.47 -9.02,19.40 -11.30,17.12 C-13.58,14.84 -15.37,13.41 -16.44,10.27 C-17.51,7.13 -17.58,1.86 -17.72,-1.71 C-17.86,-5.28 -18.07,-8.28 -17.29,-11.13 Z" fill="#67a8a6" stroke="#1c3333" stroke-width="1.1"/>
</g>
<line x1="376.7" y1="891.0" x2="556.8" y2="712.8" stroke="#ff0000" stroke-width="6.3" />
<line x1="1031.5" y1="889.8" x2="1212.0" y2="709.4" stroke="#ff0000" stroke-width="6.3" />
<line x1="1722.4" y1="884.7" x2="1903.2" y2="703.4" stroke="#ff0000" stroke-width="6.3" />
<text x="344.0" y="700.8" font-size="32.2" fill="#ff0000" font-style="oblique">A</text>
<text x="484.9" y="809.5" font-size="32.2" fill="#ff0000" font-style="oblique">A</text>
<text transform="translate(970.2,709.4) scale(1.125,1)" x="-4" y="0" font-size="42.5" fill="#ff0000">Σ</text>
<text x="1136.4" y="809.0" font-size="32.2" fill="#ff0000" font-style="oblique">A</text>
<text transform="translate(1659.9,710.6) scale(1.125,1)" x="-4" y="0" font-size="42.5" fill="#ff0000">Σ</text>
<text x="1820.4" y="807.3" font-size="32.2" fill="#ff0000" font-style="oblique">A</text>
<text x="-2.0" y="962.0" font-size="42.8" text-anchor="start" fill="#000" >C</text>
<line x1="165.9" y1="970.0" x2="165.9" y2="1261.0" stroke="#000" stroke-width="2" />
<line x1="158.4" y1="979.7" x2="165.9" y2="979.7" stroke="#000" stroke-width="2" />
<text x="152.2" y="987.9" font-size="20.0" text-anchor="end" fill="#000" >0.5</text>
<line x1="158.4" y1="1060.5" x2="165.9" y2="1060.5" stroke="#000" stroke-width="2" />
<text x="152.2" y="1068.7" font-size="20.0" text-anchor="end" fill="#000" >0.4</text>
<line x1="158.4" y1="1141.3" x2="165.9" y2="1141.3" stroke="#000" stroke-width="2" />
<text x="152.2" y="1149.5" font-size="20.0" text-anchor="end" fill="#000" >0.3</text>
<line x1="158.4" y1="1222.0" x2="165.9" y2="1222.0" stroke="#000" stroke-width="2" />
<text x="152.2" y="1230.2" font-size="20.0" text-anchor="end" fill="#000" >0.2</text>
<line x1="239.0" y1="1260.5" x2="541.0" y2="1260.5" stroke="#000" stroke-width="2" />
<line x1="240.0" y1="1260.5" x2="240.0" y2="1269.0" stroke="#000" stroke-width="2" />
<line x1="390.0" y1="1260.5" x2="390.0" y2="1269.0" stroke="#000" stroke-width="2" />
<line x1="540.0" y1="1260.5" x2="540.0" y2="1269.0" stroke="#000" stroke-width="2" />
<circle cx="240.4" cy="1064.8" r="6.0" fill="#7f7f4b"/>
<circle cx="251.7" cy="1057.6" r="6.0" fill="#7f7f4b"/>
<circle cx="263.9" cy="1051.6" r="6.0" fill="#7f7f4b"/>
<circle cx="240.4" cy="1082.4" r="6.0" fill="#7f7f4b"/>
<circle cx="251.7" cy="1075.1" r="6.0" fill="#7f7f4b"/>
<circle cx="264.7" cy="1073.0" r="6.0" fill="#7f7f4b"/>
<circle cx="278.1" cy="1070.8" r="6.0" fill="#7f7f4b"/>
<circle cx="291.4" cy="1069.6" r="6.0" fill="#7f7f4b"/>
<circle cx="240.4" cy="1097.0" r="6.0" fill="#7f7f4b"/>
<circle cx="253.1" cy="1093.2" r="6.0" fill="#7f7f4b"/>
<circle cx="266.4" cy="1091.3" r="6.0" fill="#7f7f4b"/>
<circle cx="279.6" cy="1090.5" r="6.0" fill="#7f7f4b"/>
<circle cx="293.0" cy="1088.1" r="6.0" fill="#7f7f4b"/>
<circle cx="240.4" cy="1122.2" r="6.0" fill="#7f7f4b"/>
<circle cx="252.4" cy="1116.2" r="6.0" fill="#7f7f4b"/>
<circle cx="264.7" cy="1111.0" r="6.0" fill="#7f7f4b"/>
<circle cx="240.4" cy="1136.4" r="6.0" fill="#7f7f4b"/>
<circle cx="249.0" cy="1148.0" r="6.0" fill="#7f7f4b"/>
<circle cx="261.3" cy="1142.4" r="6.0" fill="#7f7f4b"/>
<circle cx="240.4" cy="1158.1" r="6.0" fill="#7f7f4b"/>
<circle cx="248.3" cy="1177.0" r="6.0" fill="#7f7f4b"/>
<circle cx="261.3" cy="1172.8" r="6.0" fill="#7f7f4b"/>
<circle cx="240.4" cy="1188.3" r="6.0" fill="#7f7f4b"/>
<circle cx="240.4" cy="1213.4" r="6.0" fill="#7f7f4b"/>
<circle cx="261.3" cy="1212.9" r="6.0" fill="#7f7f4b"/>
<circle cx="274.1" cy="1212.2" r="6.0" fill="#7f7f4b"/>
<circle cx="287.0" cy="1207.1" r="6.0" fill="#7f7f4b"/>
<circle cx="300.0" cy="1204.9" r="6.0" fill="#7f7f4b"/>
<circle cx="251.7" cy="1222.0" r="6.0" fill="#7f7f4b"/>
<circle cx="240.4" cy="1229.7" r="6.0" fill="#7f7f4b"/>
<circle cx="390.2" cy="983.5" r="6.0" fill="#b37d86"/>
<circle cx="390.2" cy="1014.5" r="6.0" fill="#b37d86"/>
<circle cx="403.4" cy="1011.4" r="6.0" fill="#b37d86"/>
<circle cx="390.2" cy="1028.2" r="6.0" fill="#b37d86"/>
<circle cx="403.4" cy="1027.6" r="6.0" fill="#b37d86"/>
<circle cx="390.2" cy="1054.2" r="6.0" fill="#b37d86"/>
<circle cx="400.0" cy="1044.4" r="6.0" fill="#b37d86"/>
<circle cx="412.8" cy="1041.8" r="6.0" fill="#b37d86"/>
<circle cx="426.0" cy="1041.0" r="6.0" fill="#b37d86"/>
<circle cx="390.2" cy="1083.3" r="6.0" fill="#b37d86"/>
<circle cx="402.6" cy="1077.8" r="6.0" fill="#b37d86"/>
<circle cx="415.9" cy="1076.8" r="6.0" fill="#b37d86"/>
<circle cx="429.1" cy="1076.4" r="6.0" fill="#b37d86"/>
<circle cx="442.0" cy="1072.7" r="6.0" fill="#b37d86"/>
<circle cx="412.0" cy="1096.5" r="6.0" fill="#b37d86"/>
<circle cx="390.2" cy="1107.6" r="6.0" fill="#b37d86"/>
<circle cx="403.4" cy="1106.7" r="6.0" fill="#b37d86"/>
<circle cx="390.2" cy="1122.2" r="6.0" fill="#b37d86"/>
<circle cx="403.4" cy="1121.3" r="6.0" fill="#b37d86"/>
<circle cx="415.9" cy="1116.7" r="6.0" fill="#b37d86"/>
<circle cx="427.9" cy="1111.0" r="6.0" fill="#b37d86"/>
<circle cx="439.7" cy="1103.8" r="6.0" fill="#b37d86"/>
<circle cx="390.2" cy="1140.1" r="6.0" fill="#b37d86"/>
<circle cx="412.8" cy="1144.6" r="6.0" fill="#b37d86"/>
<circle cx="390.2" cy="1155.7" r="6.0" fill="#b37d86"/>
<circle cx="403.4" cy="1154.3" r="6.0" fill="#b37d86"/>
<circle cx="390.2" cy="1179.2" r="6.0" fill="#b37d86"/>
<circle cx="400.3" cy="1188.9" r="6.0" fill="#b37d86"/>
<circle cx="390.2" cy="1197.7" r="6.0" fill="#b37d86"/>
<circle cx="390.2" cy="1226.8" r="6.0" fill="#b37d86"/>
<circle cx="540.0" cy="1067.0" r="6.0" fill="#6c3856"/>
<circle cx="551.0" cy="1076.0" r="6.0" fill="#6c3856"/>
<circle cx="540.0" cy="1084.2" r="6.0" fill="#6c3856"/>
<circle cx="540.0" cy="1099.9" r="6.0" fill="#6c3856"/>
<circle cx="540.0" cy="1132.1" r="6.0" fill="#6c3856"/>
<circle cx="553.4" cy="1131.1" r="6.0" fill="#6c3856"/>
<circle cx="566.4" cy="1127.4" r="6.0" fill="#6c3856"/>
<circle cx="578.4" cy="1121.5" r="6.0" fill="#6c3856"/>
<circle cx="591.8" cy="1120.8" r="6.0" fill="#6c3856"/>
<circle cx="548.6" cy="1148.2" r="6.0" fill="#6c3856"/>
<circle cx="561.9" cy="1147.9" r="6.0" fill="#6c3856"/>
<circle cx="574.0" cy="1141.8" r="6.0" fill="#6c3856"/>
<circle cx="540.0" cy="1158.5" r="6.0" fill="#6c3856"/>
<circle cx="548.6" cy="1174.2" r="6.0" fill="#6c3856"/>
<circle cx="561.9" cy="1172.5" r="6.0" fill="#6c3856"/>
<circle cx="574.8" cy="1168.8" r="6.0" fill="#6c3856"/>
<circle cx="588.1" cy="1168.8" r="6.0" fill="#6c3856"/>
<circle cx="601.4" cy="1166.7" r="6.0" fill="#6c3856"/>
<circle cx="540.0" cy="1184.5" r="6.0" fill="#6c3856"/>
<circle cx="540.0" cy="1198.6" r="6.0" fill="#6c3856"/>
<circle cx="553.0" cy="1194.5" r="6.0" fill="#6c3856"/>
<circle cx="571.0" cy="1192.1" r="6.0" fill="#6c3856"/>
<circle cx="540.0" cy="1213.3" r="6.0" fill="#6c3856"/>
<circle cx="553.0" cy="1208.9" r="6.0" fill="#6c3856"/>
<circle cx="565.5" cy="1204.4" r="6.0" fill="#6c3856"/>
<circle cx="540.0" cy="1227.0" r="6.0" fill="#6c3856"/>
<circle cx="553.4" cy="1225.2" r="6.0" fill="#6c3856"/>
<circle cx="540.0" cy="1248.2" r="6.0" fill="#6c3856"/>
<rect x="223.2" y="1072.5" width="4.3" height="57.9" fill="#7f7f4b"/>
<rect x="223.2" y="1135.0" width="4.3" height="57.9" fill="#7f7f4b"/>
<rect x="373.2" y="1035.3" width="4.3" height="59.1" fill="#b37d86"/>
<rect x="373.2" y="1099.6" width="4.3" height="59.4" fill="#b37d86"/>
<rect x="522.8" y="1114.0" width="4.3" height="44.6" fill="#6c3856"/>
<rect x="522.8" y="1163.6" width="4.3" height="45.2" fill="#6c3856"/>
<text transform="translate(73.3,1117.6) rotate(-90)" font-size="24.6" text-anchor="middle" fill="#000" >interface occupancy</text>
<line x1="795.6" y1="969.3" x2="795.6" y2="1261.0" stroke="#000" stroke-width="2" />
<line x1="788.1" y1="990.5" x2="795.6" y2="990.5" stroke="#000" stroke-width="2" />
<text x="781.9" y="998.7" font-size="20.0" text-anchor="end" fill="#000" >350</text>
<line x1="788.1" y1="1037.0" x2="795.6" y2="1037.0" stroke="#000" stroke-width="2" />
<text x="781.9" y="1045.2" font-size="20.0" text-anchor="end" fill="#000" >300</text>
<line x1="788.1" y1="1083.2" x2="795.6" y2="1083.2" stroke="#000" stroke-width="2" />
<text x="781.9" y="1091.4" font-size="20.0" text-anchor="end" fill="#000" >250</text>
<line x1="788.1" y1="1129.8" x2="795.6" y2="1129.8" stroke="#000" stroke-width="2" />
<text x="781.9" y="1138.0" font-size="20.0" text-anchor="end" fill="#000" >200</text>
<line x1="788.1" y1="1176.7" x2="795.6" y2="1176.7" stroke="#000" stroke-width="2" />
<text x="781.9" y="1184.9" font-size="20.0" text-anchor="end" fill="#000" >150</text>
<line x1="788.1" y1="1223.2" x2="795.6" y2="1223.2" stroke="#000" stroke-width="2" />
<text x="781.9" y="1231.4" font-size="20.0" text-anchor="end" fill="#000" >100</text>
<line x1="869.4" y1="1260.6" x2="1170.9" y2="1260.6" stroke="#000" stroke-width="2" />
<line x1="870.4" y1="1260.6" x2="870.4" y2="1269.1" stroke="#000" stroke-width="2" />
<line x1="1020.2" y1="1260.6" x2="1020.2" y2="1269.1" stroke="#000" stroke-width="2" />
<line x1="1169.9" y1="1260.6" x2="1169.9" y2="1269.1" stroke="#000" stroke-width="2" />
<circle cx="870.5" cy="1080.0" r="6.0" fill="#7f7f4b"/>
<circle cx="870.5" cy="1115.0" r="6.0" fill="#7f7f4b"/>
<circle cx="870.5" cy="1132.1" r="6.0" fill="#7f7f4b"/>
<circle cx="882.2" cy="1138.5" r="6.0" fill="#7f7f4b"/>
<circle cx="893.4" cy="1130.8" r="6.0" fill="#7f7f4b"/>
<circle cx="911.4" cy="1130.0" r="6.0" fill="#7f7f4b"/>
<circle cx="872.8" cy="1147.6" r="6.0" fill="#7f7f4b"/>
<circle cx="905.6" cy="1142.2" r="6.0" fill="#7f7f4b"/>
<circle cx="895.1" cy="1150.7" r="6.0" fill="#7f7f4b"/>
<circle cx="870.5" cy="1160.8" r="6.0" fill="#7f7f4b"/>
<circle cx="884.7" cy="1158.9" r="6.0" fill="#7f7f4b"/>
<circle cx="879.7" cy="1171.3" r="6.0" fill="#7f7f4b"/>
<circle cx="870.5" cy="1181.0" r="6.0" fill="#7f7f4b"/>
<circle cx="870.5" cy="1195.0" r="6.0" fill="#7f7f4b"/>
<circle cx="883.4" cy="1212.6" r="6.0" fill="#7f7f4b"/>
<circle cx="871.0" cy="1217.8" r="6.0" fill="#7f7f4b"/>
<circle cx="894.2" cy="1222.6" r="6.0" fill="#7f7f4b"/>
<circle cx="907.7" cy="1220.9" r="6.0" fill="#7f7f4b"/>
<circle cx="870.5" cy="1231.2" r="6.0" fill="#7f7f4b"/>
<circle cx="883.9" cy="1230.8" r="6.0" fill="#7f7f4b"/>
<circle cx="909.8" cy="1240.0" r="6.0" fill="#7f7f4b"/>
<circle cx="923.1" cy="1239.5" r="6.0" fill="#7f7f4b"/>
<circle cx="936.4" cy="1238.6" r="6.0" fill="#7f7f4b"/>
<circle cx="870.5" cy="1246.8" r="6.0" fill="#7f7f4b"/>
<circle cx="883.9" cy="1245.1" r="6.0" fill="#7f7f4b"/>
<circle cx="897.1" cy="1244.7" r="6.0" fill="#7f7f4b"/>
<circle cx="1020.4" cy="981.9" r="6.0" fill="#b37d86"/>
<circle cx="1020.4" cy="1023.1" r="6.0" fill="#b37d86"/>
<circle cx="1020.4" cy="1043.1" r="6.0" fill="#b37d86"/>
<circle cx="1020.4" cy="1057.5" r="6.0" fill="#b37d86"/>
<circle cx="1043.9" cy="1077.8" r="6.0" fill="#b37d86"/>
<circle cx="1033.5" cy="1085.9" r="6.0" fill="#b37d86"/>
<circle cx="1020.4" cy="1089.1" r="6.0" fill="#b37d86"/>
<circle cx="1020.4" cy="1103.5" r="6.0" fill="#b37d86"/>
<circle cx="1033.5" cy="1101.4" r="6.0" fill="#b37d86"/>
<circle cx="1043.9" cy="1113.9" r="6.0" fill="#b37d86"/>
<circle cx="1020.4" cy="1123.0" r="6.0" fill="#b37d86"/>
<circle cx="1033.8" cy="1122.7" r="6.0" fill="#b37d86"/>
<circle cx="1032.2" cy="1146.6" r="6.0" fill="#b37d86"/>
<circle cx="1020.4" cy="1153.0" r="6.0" fill="#b37d86"/>
<circle cx="1020.4" cy="1166.1" r="6.0" fill="#b37d86"/>
<circle cx="1033.8" cy="1165.3" r="6.0" fill="#b37d86"/>
<circle cx="1020.4" cy="1192.2" r="6.0" fill="#b37d86"/>
<circle cx="1033.1" cy="1188.8" r="6.0" fill="#b37d86"/>
<circle cx="1046.7" cy="1188.5" r="6.0" fill="#b37d86"/>
<circle cx="1059.2" cy="1183.4" r="6.0" fill="#b37d86"/>
<circle cx="1072.5" cy="1181.8" r="6.0" fill="#b37d86"/>
<circle cx="1025.2" cy="1211.7" r="6.0" fill="#b37d86"/>
<circle cx="1037.1" cy="1205.6" r="6.0" fill="#b37d86"/>
<circle cx="1050.1" cy="1202.6" r="6.0" fill="#b37d86"/>
<circle cx="1080.8" cy="1200.3" r="6.0" fill="#b37d86"/>
<circle cx="1071.2" cy="1209.8" r="6.0" fill="#b37d86"/>
<circle cx="1020.4" cy="1224.5" r="6.0" fill="#b37d86"/>
<circle cx="1033.8" cy="1223.7" r="6.0" fill="#b37d86"/>
<circle cx="1046.1" cy="1218.5" r="6.0" fill="#b37d86"/>
<circle cx="1059.2" cy="1215.2" r="6.0" fill="#b37d86"/>
<circle cx="1170.3" cy="1096.4" r="6.0" fill="#6c3856"/>
<circle cx="1170.3" cy="1117.7" r="6.0" fill="#6c3856"/>
<circle cx="1191.9" cy="1124.9" r="6.0" fill="#6c3856"/>
<circle cx="1170.3" cy="1136.3" r="6.0" fill="#6c3856"/>
<circle cx="1183.9" cy="1135.5" r="6.0" fill="#6c3856"/>
<circle cx="1207.3" cy="1152.6" r="6.0" fill="#6c3856"/>
<circle cx="1181.9" cy="1159.1" r="6.0" fill="#6c3856"/>
<circle cx="1195.3" cy="1158.9" r="6.0" fill="#6c3856"/>
<circle cx="1170.3" cy="1165.8" r="6.0" fill="#6c3856"/>
<circle cx="1181.1" cy="1173.7" r="6.0" fill="#6c3856"/>
<circle cx="1194.5" cy="1172.3" r="6.0" fill="#6c3856"/>
<circle cx="1207.5" cy="1168.6" r="6.0" fill="#6c3856"/>
<circle cx="1220.9" cy="1167.6" r="6.0" fill="#6c3856"/>
<circle cx="1234.2" cy="1166.6" r="6.0" fill="#6c3856"/>
<circle cx="1170.3" cy="1181.5" r="6.0" fill="#6c3856"/>
<circle cx="1192.9" cy="1186.5" r="6.0" fill="#6c3856"/>
<circle cx="1180.9" cy="1192.5" r="6.0" fill="#6c3856"/>
<circle cx="1170.3" cy="1200.2" r="6.0" fill="#6c3856"/>
<circle cx="1178.0" cy="1215.8" r="6.0" fill="#6c3856"/>
<circle cx="1172.9" cy="1228.3" r="6.0" fill="#6c3856"/>
<circle cx="1188.6" cy="1225.2" r="6.0" fill="#6c3856"/>
<circle cx="1202.0" cy="1223.6" r="6.0" fill="#6c3856"/>
<circle cx="1214.7" cy="1219.4" r="6.0" fill="#6c3856"/>
<circle cx="1170.3" cy="1241.5" r="6.0" fill="#6c3856"/>
<circle cx="1182.9" cy="1237.2" r="6.0" fill="#6c3856"/>
<circle cx="1196.3" cy="1236.7" r="6.0" fill="#6c3856"/>
<circle cx="1209.9" cy="1236.2" r="6.0" fill="#6c3856"/>
<circle cx="1222.7" cy="1231.9" r="6.0" fill="#6c3856"/>
<circle cx="1236.1" cy="1230.8" r="6.0" fill="#6c3856"/>
<rect x="853.2" y="1141.3" width="4.3" height="48.5" fill="#7f7f4b"/>
<rect x="853.2" y="1195.0" width="4.3" height="48.7" fill="#7f7f4b"/>
<rect x="1003.1" y="1078.2" width="4.3" height="65.9" fill="#b37d86"/>
<rect x="1003.1" y="1149.0" width="4.3" height="65.9" fill="#b37d86"/>
<rect x="1153.0" y="1143.9" width="4.3" height="40.9" fill="#6c3856"/>
<rect x="1153.0" y="1189.7" width="4.3" height="41.0" fill="#6c3856"/>
<text transform="translate(682.3,1112.0) rotate(-90)" font-size="24.6" text-anchor="middle" fill="#000" >İntensity per</text>
<text transform="translate(717.2,1113.5) rotate(-90)" font-size="24.6" text-anchor="middle" fill="#000" >interface area</text>
<line x1="1452.9" y1="973.4" x2="1452.9" y2="1263.0" stroke="#000" stroke-width="2" />
<line x1="1445.4" y1="986.8" x2="1452.9" y2="986.8" stroke="#000" stroke-width="2" />
<text x="1439.2" y="995.0" font-size="20.0" text-anchor="end" fill="#000" >800</text>
<line x1="1445.4" y1="1035.2" x2="1452.9" y2="1035.2" stroke="#000" stroke-width="2" />
<text x="1439.2" y="1043.4" font-size="20.0" text-anchor="end" fill="#000" >700</text>
<line x1="1445.4" y1="1083.6" x2="1452.9" y2="1083.6" stroke="#000" stroke-width="2" />
<text x="1439.2" y="1091.8" font-size="20.0" text-anchor="end" fill="#000" >600</text>
<line x1="1445.4" y1="1132.0" x2="1452.9" y2="1132.0" stroke="#000" stroke-width="2" />
<text x="1439.2" y="1140.2" font-size="20.0" text-anchor="end" fill="#000" >500</text>
<line x1="1445.4" y1="1181.1" x2="1452.9" y2="1181.1" stroke="#000" stroke-width="2" />
<text x="1439.2" y="1189.3" font-size="20.0" text-anchor="end" fill="#000" >400</text>
<line x1="1445.4" y1="1229.6" x2="1452.9" y2="1229.6" stroke="#000" stroke-width="2" />
<text x="1439.2" y="1237.8" font-size="20.0" text-anchor="end" fill="#000" >300</text>
<line x1="1526.0" y1="1262.3" x2="1825.3" y2="1262.3" stroke="#000" stroke-width="2" />
<line x1="1527.0" y1="1262.3" x2="1527.0" y2="1270.8" stroke="#000" stroke-width="2" />
<line x1="1675.7" y1="1262.3" x2="1675.7" y2="1270.8" stroke="#000" stroke-width="2" />
<line x1="1824.3" y1="1262.3" x2="1824.3" y2="1270.8" stroke="#000" stroke-width="2" />
<circle cx="1527.0" cy="1041.2" r="6.0" fill="#7f7f4b"/>
<circle cx="1540.1" cy="1040.8" r="6.0" fill="#7f7f4b"/>
<circle cx="1564.8" cy="1069.3" r="6.0" fill="#7f7f4b"/>
<circle cx="1527.0" cy="1079.9" r="6.0" fill="#7f7f4b"/>
<circle cx="1540.1" cy="1079.2" r="6.0" fill="#7f7f4b"/>
<circle cx="1553.2" cy="1075.8" r="6.0" fill="#7f7f4b"/>
<circle cx="1530.4" cy="1096.4" r="6.0" fill="#7f7f4b"/>
<circle cx="1543.6" cy="1093.3" r="6.0" fill="#7f7f4b"/>
<circle cx="1556.8" cy="1093.3" r="6.0" fill="#7f7f4b"/>
<circle cx="1570.1" cy="1092.6" r="6.0" fill="#7f7f4b"/>
<circle cx="1583.2" cy="1090.8" r="6.0" fill="#7f7f4b"/>
<circle cx="1527.0" cy="1109.5" r="6.0" fill="#7f7f4b"/>
<circle cx="1536.7" cy="1119.3" r="6.0" fill="#7f7f4b"/>
<circle cx="1549.6" cy="1115.9" r="6.0" fill="#7f7f4b"/>
<circle cx="1527.0" cy="1128.6" r="6.0" fill="#7f7f4b"/>
<circle cx="1527.0" cy="1161.1" r="6.0" fill="#7f7f4b"/>
<circle cx="1540.1" cy="1159.7" r="6.0" fill="#7f7f4b"/>
<circle cx="1550.4" cy="1151.1" r="6.0" fill="#7f7f4b"/>
<circle cx="1563.7" cy="1150.4" r="6.0" fill="#7f7f4b"/>
<circle cx="1527.0" cy="1189.6" r="6.0" fill="#7f7f4b"/>
<circle cx="1535.6" cy="1201.5" r="6.0" fill="#7f7f4b"/>
<circle cx="1527.0" cy="1211.8" r="6.0" fill="#7f7f4b"/>
<circle cx="1531.8" cy="1227.5" r="6.0" fill="#7f7f4b"/>
<circle cx="1527.0" cy="1240.3" r="6.0" fill="#7f7f4b"/>
<circle cx="1540.1" cy="1239.6" r="6.0" fill="#7f7f4b"/>
<circle cx="1553.2" cy="1236.7" r="6.0" fill="#7f7f4b"/>
<circle cx="1565.8" cy="1231.6" r="6.0" fill="#7f7f4b"/>
<circle cx="1578.5" cy="1228.9" r="6.0" fill="#7f7f4b"/>
<circle cx="1591.8" cy="1226.6" r="6.0" fill="#7f7f4b"/>
<circle cx="1676.0" cy="986.2" r="6.0" fill="#b37d86"/>
<circle cx="1676.0" cy="1002.3" r="6.0" fill="#b37d86"/>
<circle cx="1678.6" cy="1037.0" r="6.0" fill="#b37d86"/>
<circle cx="1693.5" cy="1034.5" r="6.0" fill="#b37d86"/>
<circle cx="1676.0" cy="1050.3" r="6.0" fill="#b37d86"/>
<circle cx="1688.9" cy="1047.3" r="6.0" fill="#b37d86"/>
<circle cx="1699.7" cy="1055.2" r="6.0" fill="#b37d86"/>
<circle cx="1711.6" cy="1048.6" r="6.0" fill="#b37d86"/>
<circle cx="1724.1" cy="1045.8" r="6.0" fill="#b37d86"/>
<circle cx="1676.0" cy="1065.7" r="6.0" fill="#b37d86"/>
<circle cx="1688.9" cy="1063.0" r="6.0" fill="#b37d86"/>
<circle cx="1676.0" cy="1085.4" r="6.0" fill="#b37d86"/>
<circle cx="1688.4" cy="1080.4" r="6.0" fill="#b37d86"/>
<circle cx="1685.3" cy="1095.3" r="6.0" fill="#b37d86"/>
<circle cx="1698.0" cy="1090.8" r="6.0" fill="#b37d86"/>
<circle cx="1711.1" cy="1089.2" r="6.0" fill="#b37d86"/>
<circle cx="1724.3" cy="1088.0" r="6.0" fill="#b37d86"/>
<circle cx="1676.0" cy="1104.9" r="6.0" fill="#b37d86"/>
<circle cx="1676.0" cy="1130.2" r="6.0" fill="#b37d86"/>
<circle cx="1676.0" cy="1152.6" r="6.0" fill="#b37d86"/>
<circle cx="1676.0" cy="1218.3" r="6.0" fill="#b37d86"/>
<circle cx="1689.2" cy="1217.8" r="6.0" fill="#b37d86"/>
<circle cx="1676.0" cy="1231.8" r="6.0" fill="#b37d86"/>
<circle cx="1676.0" cy="1245.9" r="6.0" fill="#b37d86"/>
<circle cx="1688.6" cy="1241.4" r="6.0" fill="#b37d86"/>
<circle cx="1701.8" cy="1240.1" r="6.0" fill="#b37d86"/>
<circle cx="1714.5" cy="1236.8" r="6.0" fill="#b37d86"/>
<circle cx="1727.3" cy="1233.5" r="6.0" fill="#b37d86"/>
<circle cx="1740.9" cy="1231.5" r="6.0" fill="#b37d86"/>
<circle cx="1825.0" cy="1024.0" r="6.0" fill="#6c3856"/>
<circle cx="1825.0" cy="1057.1" r="6.0" fill="#6c3856"/>
<circle cx="1835.9" cy="1070.6" r="6.0" fill="#6c3856"/>
<circle cx="1825.0" cy="1077.4" r="6.0" fill="#6c3856"/>
<circle cx="1825.0" cy="1090.9" r="6.0" fill="#6c3856"/>
<circle cx="1837.5" cy="1086.8" r="6.0" fill="#6c3856"/>
<circle cx="1850.6" cy="1085.2" r="6.0" fill="#6c3856"/>
<circle cx="1863.8" cy="1083.8" r="6.0" fill="#6c3856"/>
<circle cx="1876.8" cy="1080.6" r="6.0" fill="#6c3856"/>
<circle cx="1889.6" cy="1077.4" r="6.0" fill="#6c3856"/>
<circle cx="1825.0" cy="1111.0" r="6.0" fill="#6c3856"/>
<circle cx="1837.5" cy="1107.0" r="6.0" fill="#6c3856"/>
<circle cx="1850.2" cy="1103.5" r="6.0" fill="#6c3856"/>
<circle cx="1834.5" cy="1121.3" r="6.0" fill="#6c3856"/>
<circle cx="1847.5" cy="1118.7" r="6.0" fill="#6c3856"/>
<circle cx="1860.6" cy="1118.7" r="6.0" fill="#6c3856"/>
<circle cx="1873.9" cy="1118.0" r="6.0" fill="#6c3856"/>
<circle cx="1887.0" cy="1114.5" r="6.0" fill="#6c3856"/>
<circle cx="1825.0" cy="1130.6" r="6.0" fill="#6c3856"/>
<circle cx="1831.1" cy="1145.6" r="6.0" fill="#6c3856"/>
<circle cx="1844.5" cy="1145.3" r="6.0" fill="#6c3856"/>
<circle cx="1825.0" cy="1157.3" r="6.0" fill="#6c3856"/>
<circle cx="1834.9" cy="1169.1" r="6.0" fill="#6c3856"/>
<circle cx="1825.0" cy="1178.1" r="6.0" fill="#6c3856"/>
<circle cx="1835.4" cy="1200.9" r="6.0" fill="#6c3856"/>
<circle cx="1825.0" cy="1209.1" r="6.0" fill="#6c3856"/>
<circle cx="1833.8" cy="1239.5" r="6.0" fill="#6c3856"/>
<circle cx="1825.0" cy="1249.3" r="6.0" fill="#6c3856"/>
<rect x="1509.8" y="1075.5" width="4.3" height="64.8" fill="#7f7f4b"/>
<rect x="1509.8" y="1144.9" width="4.3" height="64.8" fill="#7f7f4b"/>
<rect x="1658.9" y="1035.0" width="4.3" height="85.6" fill="#b37d86"/>
<rect x="1658.9" y="1125.6" width="4.3" height="84.9" fill="#b37d86"/>
<rect x="1807.5" y="1066.8" width="4.3" height="53.1" fill="#6c3856"/>
<rect x="1807.5" y="1124.2" width="4.3" height="52.8" fill="#6c3856"/>
<text transform="translate(1363.4,1107.0) rotate(-90)" font-size="24.6" text-anchor="middle" fill="#000" >cluster density</text>
<text x="243.0" y="1301.7" font-size="25.7" text-anchor="middle" fill="#000" >static</text>
<text x="243.0" y="1333.7" font-size="25.7" text-anchor="middle">N<tspan font-size="16.5" dy="3.9">l</tspan><tspan dy="-3.9"> = 30,</tspan></text>
<text x="243.0" y="1365.6" font-size="25.7" text-anchor="middle" fill="#000" >n=3</text>
<text x="409.0" y="1303.7" font-size="25.7" text-anchor="middle">6 dyne/cm<tspan dy="-6.0">2</tspan></text>
<text x="409.0" y="1334.9" font-size="25.7" text-anchor="middle">N<tspan font-size="16.5" dy="3.9">l</tspan><tspan dy="-3.9"> = 30,</tspan></text>
<text x="409.0" y="1366.8" font-size="25.7" text-anchor="middle" fill="#000" >n=3</text>
<text x="594.0" y="1303.7" font-size="25.7" text-anchor="middle">20 dyne/cm<tspan dy="-6.0">2</tspan></text>
<text x="594.0" y="1334.9" font-size="25.7" text-anchor="middle">N<tspan font-size="16.5" dy="3.9">l</tspan><tspan dy="-3.9"> = 30,</tspan></text>
<text x="594.0" y="1366.8" font-size="25.7" text-anchor="middle" fill="#000" >n=3</text>
<text x="868.0" y="1300.8" font-size="25.7" text-anchor="middle" fill="#000" >static</text>
<text x="868.0" y="1332.8" font-size="25.7" text-anchor="middle">N<tspan font-size="16.5" dy="3.9">l</tspan><tspan dy="-3.9"> = 30,</tspan></text>
<text x="868.0" y="1364.8" font-size="25.7" text-anchor="middle" fill="#000" >n=3</text>
<text x="1033.7" y="1302.8" font-size="25.7" text-anchor="middle">6 dyne/cm<tspan dy="-6.0">2</tspan></text>
<text x="1033.7" y="1334.0" font-size="25.7" text-anchor="middle">N<tspan font-size="16.5" dy="3.9">l</tspan><tspan dy="-3.9"> = 30,</tspan></text>
<text x="1033.7" y="1366.0" font-size="25.7" text-anchor="middle" fill="#000" >n=3</text>
<text x="1219.0" y="1302.8" font-size="25.7" text-anchor="middle">20 dyne/cm<tspan dy="-6.0">2</tspan></text>
<text x="1219.0" y="1334.0" font-size="25.7" text-anchor="middle">N<tspan font-size="16.5" dy="3.9">l</tspan><tspan dy="-3.9"> = 30,</tspan></text>
<text x="1219.0" y="1366.0" font-size="25.7" text-anchor="middle" fill="#000" >n=3</text>
<text x="1531.5" y="1305.7" font-size="25.7" text-anchor="middle" fill="#000" >static</text>
<text x="1531.5" y="1336.9" font-size="25.7" text-anchor="middle">N<tspan font-size="16.5" dy="3.9">l</tspan><tspan dy="-3.9"> = 30,</tspan></text>
<text x="1531.5" y="1368.8" font-size="25.7" text-anchor="middle" fill="#000" >n=3</text>
<text x="1697.5" y="1307.7" font-size="25.7" text-anchor="middle">6 dyne/cm<tspan dy="-6.0">2</tspan></text>
<text x="1697.5" y="1338.1" font-size="25.7" text-anchor="middle">N<tspan font-size="16.5" dy="3.9">l</tspan><tspan dy="-3.9"> = 30,</tspan></text>
<text x="1697.5" y="1370.0" font-size="25.7" text-anchor="middle" fill="#000" >n=3</text>
<text x="1882.0" y="1307.7" font-size="25.7" text-anchor="middle">20 dyne/cm<tspan dy="-6.0">2</tspan></text>
<text x="1882.0" y="1338.1" font-size="25.7" text-anchor="middle">N<tspan font-size="16.5" dy="3.9">l</tspan><tspan dy="-3.9"> = 30,</tspan></text>
<text x="1882.0" y="1370.0" font-size="25.7" text-anchor="middle" fill="#000" >n=3</text>
<path d="M390.0,1361.4 L390.70,1361.4 L390.70,1362.4 L390.70,1363.4 L390.70,1364.4 L390.70,1365.4 L390.70,1366.4 L390.70,1367.4 L390.70,1368.4 L390.70,1369.4 L390.70,1370.4 L390.70,1371.4 L390.70,1372.4 L390.70,1373.4 L390.70,1374.4 L390.70,1375.4 L390.70,1376.4 L390.70,1377.4 L390.76,1378.4 L390.83,1379.4 L390.93,1380.4 L391.06,1381.4 L391.22,1382.4 L391.39,1383.4 L391.58,1384.4 L391.79,1385.4 L392.01,1386.4 L392.24,1387.4 L392.48,1388.4 L392.72,1389.4 L392.96,1390.4 L393.20,1391.4 L393.44,1392.4 L393.66,1393.4 L393.88,1394.4 L394.08,1395.4 L394.26,1396.4 L394.44,1397.4 L394.61,1398.4 L394.79,1399.4 L394.98,1400.4 L395.19,1401.4 L395.44,1402.4 L395.72,1403.4 L396.09,1404.4 L396.54,1405.4 L397.04,1406.4 L397.59,1407.4 L398.17,1408.4 L398.75,1409.4 L399.32,1410.4 L399.87,1411.4 L400.42,1412.4 L400.98,1413.4 L401.54,1414.4 L402.12,1415.4 L402.73,1416.4 L403.37,1417.4 L404.05,1418.4 L404.77,1419.4 L405.56,1420.4 L406.41,1421.4 L407.31,1422.4 L408.24,1423.4 L409.20,1424.4 L410.16,1425.4 L411.12,1426.4 L412.08,1427.4 L413.09,1428.4 L414.13,1429.4 L415.19,1430.4 L416.25,1431.4 L417.28,1432.4 L418.26,1433.4 L419.18,1434.4 L420.01,1435.4 L420.84,1436.4 L421.65,1437.4 L422.43,1438.4 L423.17,1439.4 L423.85,1440.4 L424.46,1441.4 L424.98,1442.4 L425.41,1443.4 L425.84,1444.4 L426.25,1445.4 L426.64,1446.4 L426.99,1447.4 L427.27,1448.4 L427.47,1449.4 L427.59,1450.4 L427.60,1451.4 L427.57,1452.4 L427.53,1453.4 L427.47,1454.4 L427.39,1455.4 L427.29,1456.4 L427.19,1457.4 L426.92,1458.4 L426.43,1459.4 L425.75,1460.4 L424.93,1461.4 L424.00,1462.4 L423.01,1463.4 L421.99,1464.4 L420.98,1465.4 L420.04,1466.4 L419.17,1467.4 L418.28,1468.4 L417.36,1469.4 L416.43,1470.4 L415.49,1471.4 L414.55,1472.4 L413.63,1473.4 L412.74,1474.4 L411.89,1475.4 L411.07,1476.4 L410.26,1477.4 L409.46,1478.4 L408.68,1479.4 L407.89,1480.4 L407.11,1481.4 L406.32,1482.4 L405.52,1483.4 L404.69,1484.4 L403.85,1485.4 L403.02,1486.4 L402.19,1487.4 L401.39,1488.4 L400.61,1489.4 L399.88,1490.4 L399.19,1491.4 L398.50,1492.4 L397.82,1493.4 L397.17,1494.4 L396.54,1495.4 L395.96,1496.4 L395.43,1497.4 L394.97,1498.4 L394.56,1499.4 L394.19,1500.4 L393.85,1501.4 L393.53,1502.4 L393.24,1503.4 L392.96,1504.4 L392.71,1505.4 L392.49,1506.4 L392.27,1507.4 L392.07,1508.4 L391.87,1509.4 L391.69,1510.4 L391.52,1511.4 L391.37,1512.4 L391.24,1513.4 L391.13,1514.4 L391.05,1515.4 L390.98,1516.4 L390.90,1517.4 L390.83,1518.4 L390.76,1519.4 L390.70,1520.4 L390.70,1521.4 L390.70,1522.4 L390.70,1523.4 L390.70,1524.4 L390.70,1525.4 L390.70,1526.4 L390.70,1527.4 L390.70,1528.4 L390.70,1529.4 L390.70,1530.4 L390.70,1531.4 L390.70,1532.4 L390.70,1533.4 L390.70,1534.4 L390.70,1535.4 L390.70,1536.4 L390.70,1537.4 L390.70,1538.4 L390.70,1538.8 L390.0,1538.8 Z" fill="#d5838f"/>
<path d="M540.0,1474.0 L540.70,1474.0 L540.70,1475.0 L540.70,1476.0 L540.70,1477.0 L540.70,1478.0 L540.70,1479.0 L540.70,1480.0 L540.70,1481.0 L540.70,1482.0 L540.70,1483.0 L540.70,1484.0 L540.70,1485.0 L540.70,1486.0 L540.73,1487.0 L540.80,1488.0 L540.87,1489.0 L540.94,1490.0 L541.01,1491.0 L541.09,1492.0 L541.16,1493.0 L541.22,1494.0 L541.29,1495.0 L541.36,1496.0 L541.43,1497.0 L541.51,1498.0 L541.59,1499.0 L541.68,1500.0 L541.78,1501.0 L541.89,1502.0 L542.01,1503.0 L542.15,1504.0 L542.29,1505.0 L542.46,1506.0 L542.64,1507.0 L542.95,1508.0 L543.40,1509.0 L543.98,1510.0 L544.64,1511.0 L545.36,1512.0 L546.10,1513.0 L546.83,1514.0 L547.54,1515.0 L548.25,1516.0 L548.99,1517.0 L549.76,1518.0 L550.56,1519.0 L551.39,1520.0 L552.23,1521.0 L553.10,1522.0 L553.98,1523.0 L554.89,1524.0 L555.85,1525.0 L556.84,1526.0 L557.84,1527.0 L558.86,1528.0 L559.88,1529.0 L560.90,1530.0 L561.90,1531.0 L562.92,1532.0 L563.97,1533.0 L565.03,1534.0 L566.08,1535.0 L567.10,1536.0 L568.09,1537.0 L569.01,1538.0 L569.86,1539.0 L570.65,1540.0 L571.40,1541.0 L572.12,1542.0 L572.81,1543.0 L573.48,1544.0 L574.13,1545.0 L574.78,1546.0 L575.44,1547.0 L576.22,1548.0 L577.00,1549.0 L577.56,1550.0 L577.68,1551.0 L577.44,1552.0 L576.97,1553.0 L576.40,1554.0 L575.83,1555.0 L575.16,1556.0 L574.37,1557.0 L573.50,1558.0 L572.56,1559.0 L571.58,1560.0 L570.60,1561.0 L569.64,1562.0 L568.73,1563.0 L567.82,1564.0 L566.90,1565.0 L565.96,1566.0 L565.03,1567.0 L564.10,1568.0 L563.19,1569.0 L562.30,1570.0 L561.45,1571.0 L560.61,1572.0 L559.80,1573.0 L559.00,1574.0 L558.21,1575.0 L557.43,1576.0 L556.65,1577.0 L555.86,1578.0 L555.06,1579.0 L554.25,1580.0 L553.43,1581.0 L552.61,1582.0 L551.80,1583.0 L550.99,1584.0 L550.20,1585.0 L549.42,1586.0 L548.68,1587.0 L547.90,1588.0 L547.11,1589.0 L546.33,1590.0 L545.57,1591.0 L544.86,1592.0 L544.23,1593.0 L543.70,1594.0 L543.29,1595.0 L542.93,1596.0 L542.60,1597.0 L542.30,1598.0 L542.02,1599.0 L541.78,1600.0 L541.57,1601.0 L541.40,1602.0 L541.26,1603.0 L541.14,1604.0 L541.03,1605.0 L540.94,1606.0 L540.85,1607.0 L540.77,1608.0 L540.70,1609.0 L540.70,1610.0 L540.70,1611.0 L540.70,1612.0 L540.70,1613.0 L540.70,1614.0 L540.70,1615.0 L540.70,1616.0 L540.70,1617.0 L540.70,1618.0 L540.70,1619.0 L540.70,1620.0 L540.70,1621.0 L540.70,1622.0 L540.70,1623.0 L540.70,1624.0 L540.70,1625.0 L540.70,1626.0 L540.70,1626.6 L540.0,1626.6 Z" fill="#9b4d7a"/>
<line x1="165.7" y1="1506.4" x2="616.0" y2="1506.4" stroke="#000" stroke-width="1.5" />
<rect x="387.5" y="1402.0" width="5" height="96.3" fill="#000"/>
<circle cx="390.0" cy="1450.2" r="10" fill="#000"/>
<rect x="537.5" y="1509.0" width="5" height="83.0" fill="#000"/>
<circle cx="540.0" cy="1550.5" r="10" fill="#000"/>
<line x1="165.7" y1="1349.3" x2="165.7" y2="1640.6" stroke="#000" stroke-width="2" />
<line x1="158.2" y1="1379.7" x2="165.7" y2="1379.7" stroke="#000" stroke-width="2" />
<text x="152.0" y="1387.9" font-size="20.0" text-anchor="end" fill="#000" >0.10</text>
<line x1="158.2" y1="1443.0" x2="165.7" y2="1443.0" stroke="#000" stroke-width="2" />
<text x="152.0" y="1451.2" font-size="20.0" text-anchor="end" fill="#000" >0.05</text>
<line x1="158.2" y1="1506.4" x2="165.7" y2="1506.4" stroke="#000" stroke-width="2" />
<text x="152.0" y="1514.6" font-size="20.0" text-anchor="end" fill="#000" >0.00</text>
<line x1="158.2" y1="1569.7" x2="165.7" y2="1569.7" stroke="#000" stroke-width="2" />
<text x="152.0" y="1577.9" font-size="20.0" text-anchor="end" fill="#000" >−0.05</text>
<line x1="158.2" y1="1631.8" x2="165.7" y2="1631.8" stroke="#000" stroke-width="2" />
<text x="152.0" y="1640.0" font-size="20.0" text-anchor="end" fill="#000" >−0.10</text>
<line x1="239.2" y1="1639.6" x2="540.8" y2="1639.6" stroke="#000" stroke-width="2" />
<line x1="240.2" y1="1639.6" x2="240.2" y2="1648.1" stroke="#000" stroke-width="2" />
<line x1="390.2" y1="1639.6" x2="390.2" y2="1648.1" stroke="#000" stroke-width="2" />
<line x1="539.8" y1="1639.6" x2="539.8" y2="1648.1" stroke="#000" stroke-width="2" />
<text transform="translate(72.2,1465.5) rotate(-90)" font-size="24.6" text-anchor="middle" fill="#000" >mean difference</text>
<text x="405.9" y="1684.0" font-size="25.7" text-anchor="middle">6 dyne/cm<tspan dy="-6.0">2</tspan></text>
<text x="405.9" y="1715.8" font-size="25.7" text-anchor="middle" fill="#000" >minus</text>
<text x="405.9" y="1746.8" font-size="25.7" text-anchor="middle" fill="#000" >static</text>
<text x="577.3" y="1684.0" font-size="25.7" text-anchor="middle">20 dyne/cm<tspan dy="-6.0">2</tspan></text>
<text x="577.3" y="1715.8" font-size="25.7" text-anchor="middle" fill="#000" >minus</text>
<text x="577.3" y="1746.8" font-size="25.7" text-anchor="middle" fill="#000" >static</text>
<path d="M1020.0,1359.6 L1020.70,1359.6 L1020.70,1360.6 L1020.70,1361.6 L1020.70,1362.6 L1020.70,1363.6 L1020.70,1364.6 L1020.70,1365.6 L1020.70,1366.6 L1020.70,1367.6 L1020.70,1368.6 L1020.70,1369.6 L1020.70,1370.6 L1020.70,1371.6 L1020.70,1372.6 L1020.70,1373.6 L1020.70,1374.6 L1020.70,1375.6 L1020.70,1376.6 L1020.70,1377.6 L1020.70,1378.6 L1020.70,1379.6 L1020.70,1380.6 L1020.70,1381.6 L1020.70,1382.6 L1020.70,1383.6 L1020.70,1384.6 L1020.73,1385.6 L1020.82,1386.6 L1020.93,1387.6 L1021.04,1388.6 L1021.16,1389.6 L1021.29,1390.6 L1021.43,1391.6 L1021.57,1392.6 L1021.72,1393.6 L1021.87,1394.6 L1022.03,1395.6 L1022.19,1396.6 L1022.35,1397.6 L1022.52,1398.6 L1022.69,1399.6 L1022.89,1400.6 L1023.09,1401.6 L1023.30,1402.6 L1023.53,1403.6 L1023.77,1404.6 L1024.02,1405.6 L1024.27,1406.6 L1024.54,1407.6 L1024.82,1408.6 L1025.10,1409.6 L1025.39,1410.6 L1025.69,1411.6 L1025.99,1412.6 L1026.31,1413.6 L1026.63,1414.6 L1026.97,1415.6 L1027.33,1416.6 L1027.72,1417.6 L1028.12,1418.6 L1028.55,1419.6 L1028.99,1420.6 L1029.46,1421.6 L1029.95,1422.6 L1030.48,1423.6 L1031.05,1424.6 L1031.65,1425.6 L1032.27,1426.6 L1032.91,1427.6 L1033.56,1428.6 L1034.21,1429.6 L1034.86,1430.6 L1035.52,1431.6 L1036.20,1432.6 L1036.89,1433.6 L1037.59,1434.6 L1038.31,1435.6 L1039.04,1436.6 L1039.78,1437.6 L1040.53,1438.6 L1041.30,1439.6 L1042.10,1440.6 L1042.90,1441.6 L1043.72,1442.6 L1044.53,1443.6 L1045.35,1444.6 L1046.16,1445.6 L1046.97,1446.6 L1047.83,1447.6 L1048.70,1448.6 L1049.58,1449.6 L1050.43,1450.6 L1051.23,1451.6 L1051.97,1452.6 L1052.63,1453.6 L1053.20,1454.6 L1053.75,1455.6 L1054.29,1456.6 L1054.79,1457.6 L1055.25,1458.6 L1055.65,1459.6 L1055.99,1460.6 L1056.24,1461.6 L1056.42,1462.6 L1056.57,1463.6 L1056.69,1464.6 L1056.80,1465.6 L1056.90,1466.6 L1056.99,1467.6 L1057.08,1468.6 L1057.18,1469.6 L1057.29,1470.6 L1057.41,1471.6 L1057.49,1472.6 L1057.48,1473.6 L1057.40,1474.6 L1057.25,1475.6 L1057.06,1476.6 L1056.85,1477.6 L1056.55,1478.6 L1056.06,1479.6 L1055.43,1480.6 L1054.68,1481.6 L1053.86,1482.6 L1053.00,1483.6 L1052.15,1484.6 L1051.35,1485.6 L1050.59,1486.6 L1049.82,1487.6 L1049.02,1488.6 L1048.22,1489.6 L1047.40,1490.6 L1046.58,1491.6 L1045.77,1492.6 L1044.96,1493.6 L1044.16,1494.6 L1043.36,1495.6 L1042.56,1496.6 L1041.76,1497.6 L1040.96,1498.6 L1040.16,1499.6 L1039.36,1500.6 L1038.56,1501.6 L1037.76,1502.6 L1036.94,1503.6 L1036.13,1504.6 L1035.31,1505.6 L1034.50,1506.6 L1033.70,1507.6 L1032.91,1508.6 L1032.15,1509.6 L1031.40,1510.6 L1030.63,1511.6 L1029.86,1512.6 L1029.11,1513.6 L1028.38,1514.6 L1027.70,1515.6 L1027.07,1516.6 L1026.50,1517.6 L1026.00,1518.6 L1025.51,1519.6 L1025.04,1520.6 L1024.60,1521.6 L1024.20,1522.6 L1023.84,1523.6 L1023.52,1524.6 L1023.25,1525.6 L1023.02,1526.6 L1022.80,1527.6 L1022.59,1528.6 L1022.40,1529.6 L1022.21,1530.6 L1022.03,1531.6 L1021.86,1532.6 L1021.70,1533.6 L1021.55,1534.6 L1021.41,1535.6 L1021.29,1536.6 L1021.17,1537.6 L1021.06,1538.6 L1020.97,1539.6 L1020.89,1540.6 L1020.81,1541.6 L1020.75,1542.6 L1020.70,1543.6 L1020.70,1544.6 L1020.70,1545.6 L1020.70,1546.6 L1020.70,1547.6 L1020.70,1548.6 L1020.70,1549.6 L1020.70,1550.6 L1020.70,1551.6 L1020.70,1552.6 L1020.70,1553.6 L1020.70,1554.6 L1020.70,1555.6 L1020.70,1556.6 L1020.70,1557.6 L1020.70,1558.6 L1020.70,1559.6 L1020.70,1560.6 L1020.70,1561.6 L1020.70,1561.7 L1020.0,1561.7 Z" fill="#d5838f"/>
<path d="M1170.6,1465.0 L1171.30,1465.0 L1171.30,1466.0 L1171.30,1467.0 L1171.30,1468.0 L1171.30,1469.0 L1171.30,1470.0 L1171.30,1471.0 L1171.30,1472.0 L1171.30,1473.0 L1171.30,1474.0 L1171.30,1475.0 L1171.30,1476.0 L1171.30,1477.0 L1171.30,1478.0 L1171.30,1479.0 L1171.30,1480.0 L1171.30,1481.0 L1171.42,1482.0 L1171.58,1483.0 L1171.75,1484.0 L1171.94,1485.0 L1172.15,1486.0 L1172.37,1487.0 L1172.61,1488.0 L1172.86,1489.0 L1173.12,1490.0 L1173.39,1491.0 L1173.67,1492.0 L1173.96,1493.0 L1174.26,1494.0 L1174.61,1495.0 L1175.03,1496.0 L1175.51,1497.0 L1176.02,1498.0 L1176.57,1499.0 L1177.15,1500.0 L1177.73,1501.0 L1178.32,1502.0 L1178.93,1503.0 L1179.58,1504.0 L1180.27,1505.0 L1180.98,1506.0 L1181.71,1507.0 L1182.45,1508.0 L1183.20,1509.0 L1183.95,1510.0 L1184.70,1511.0 L1185.46,1512.0 L1186.23,1513.0 L1187.02,1514.0 L1187.82,1515.0 L1188.65,1516.0 L1189.50,1517.0 L1190.38,1518.0 L1191.30,1519.0 L1192.25,1520.0 L1193.24,1521.0 L1194.24,1522.0 L1195.27,1523.0 L1196.31,1524.0 L1197.36,1525.0 L1198.41,1526.0 L1199.59,1527.0 L1200.90,1528.0 L1202.26,1529.0 L1203.59,1530.0 L1204.82,1531.0 L1205.85,1532.0 L1206.63,1533.0 L1207.06,1534.0 L1207.36,1535.0 L1207.60,1536.0 L1207.76,1537.0 L1207.80,1538.0 L1207.75,1539.0 L1207.65,1540.0 L1207.51,1541.0 L1207.37,1542.0 L1207.21,1543.0 L1207.02,1544.0 L1206.80,1545.0 L1206.55,1546.0 L1206.26,1547.0 L1205.94,1548.0 L1205.58,1549.0 L1205.17,1550.0 L1204.59,1551.0 L1203.84,1552.0 L1202.96,1553.0 L1201.98,1554.0 L1200.95,1555.0 L1199.90,1556.0 L1198.88,1557.0 L1197.92,1558.0 L1196.93,1559.0 L1195.92,1560.0 L1194.88,1561.0 L1193.84,1562.0 L1192.80,1563.0 L1191.80,1564.0 L1190.84,1565.0 L1189.94,1566.0 L1189.08,1567.0 L1188.26,1568.0 L1187.46,1569.0 L1186.68,1570.0 L1185.91,1571.0 L1185.13,1572.0 L1184.36,1573.0 L1183.56,1574.0 L1182.73,1575.0 L1181.87,1576.0 L1181.01,1577.0 L1180.16,1578.0 L1179.34,1579.0 L1178.57,1580.0 L1177.85,1581.0 L1177.22,1582.0 L1176.60,1583.0 L1176.00,1584.0 L1175.42,1585.0 L1174.87,1586.0 L1174.38,1587.0 L1173.95,1588.0 L1173.60,1589.0 L1173.33,1590.0 L1173.09,1591.0 L1172.86,1592.0 L1172.65,1593.0 L1172.44,1594.0 L1172.25,1595.0 L1172.06,1596.0 L1171.90,1597.0 L1171.74,1598.0 L1171.59,1599.0 L1171.46,1600.0 L1171.35,1601.0 L1171.30,1602.0 L1171.30,1603.0 L1171.30,1604.0 L1171.30,1605.0 L1171.30,1606.0 L1171.30,1607.0 L1171.30,1608.0 L1171.30,1609.0 L1171.30,1610.0 L1171.30,1611.0 L1171.30,1612.0 L1171.30,1613.0 L1171.30,1614.0 L1171.30,1615.0 L1171.30,1616.0 L1171.30,1617.0 L1171.30,1618.0 L1171.30,1619.0 L1171.30,1620.0 L1171.30,1621.0 L1171.30,1622.0 L1171.30,1623.0 L1171.30,1624.0 L1171.30,1624.9 L1170.6,1624.9 Z" fill="#9b4d7a"/>
<line x1="796.2" y1="1550.2" x2="1245.7" y2="1550.2" stroke="#000" stroke-width="1.5" />
<rect x="1017.5" y="1409.9" width="5" height="108.6" fill="#000"/>
<circle cx="1020.0" cy="1467.3" r="10" fill="#000"/>
<rect x="1168.1" y="1496.8" width="5" height="86.9" fill="#000"/>
<circle cx="1170.6" cy="1540.2" r="10" fill="#000"/>
<line x1="796.2" y1="1347.8" x2="796.2" y2="1639.7" stroke="#000" stroke-width="2" />
<line x1="788.7" y1="1381.3" x2="796.2" y2="1381.3" stroke="#000" stroke-width="2" />
<text x="782.5" y="1389.5" font-size="20.0" text-anchor="end" fill="#000" >100</text>
<line x1="788.7" y1="1423.2" x2="796.2" y2="1423.2" stroke="#000" stroke-width="2" />
<text x="782.5" y="1431.4" font-size="20.0" text-anchor="end" fill="#000" >75</text>
<line x1="788.7" y1="1465.7" x2="796.2" y2="1465.7" stroke="#000" stroke-width="2" />
<text x="782.5" y="1473.9" font-size="20.0" text-anchor="end" fill="#000" >50</text>
<line x1="788.7" y1="1507.6" x2="796.2" y2="1507.6" stroke="#000" stroke-width="2" />
<text x="782.5" y="1515.8" font-size="20.0" text-anchor="end" fill="#000" >25</text>
<line x1="788.7" y1="1550.2" x2="796.2" y2="1550.2" stroke="#000" stroke-width="2" />
<text x="782.5" y="1558.4" font-size="20.0" text-anchor="end" fill="#000" >0</text>
<line x1="788.7" y1="1592.1" x2="796.2" y2="1592.1" stroke="#000" stroke-width="2" />
<text x="782.5" y="1600.3" font-size="20.0" text-anchor="end" fill="#000" >−25</text>
<line x1="788.7" y1="1634.0" x2="796.2" y2="1634.0" stroke="#000" stroke-width="2" />
<text x="782.5" y="1642.2" font-size="20.0" text-anchor="end" fill="#000" >−50</text>
<line x1="869.7" y1="1638.7" x2="1171.6" y2="1638.7" stroke="#000" stroke-width="2" />
<line x1="870.7" y1="1638.7" x2="870.7" y2="1647.2" stroke="#000" stroke-width="2" />
<line x1="1020.0" y1="1638.7" x2="1020.0" y2="1647.2" stroke="#000" stroke-width="2" />
<line x1="1170.6" y1="1638.7" x2="1170.6" y2="1647.2" stroke="#000" stroke-width="2" />
<text transform="translate(726.6,1491.4) rotate(-90)" font-size="24.6" text-anchor="middle" fill="#000" >mean difference</text>
<text x="1027.2" y="1684.0" font-size="25.7" text-anchor="middle">6 dyne/cm<tspan dy="-6.0">2</tspan></text>
<text x="1027.2" y="1715.8" font-size="25.7" text-anchor="middle" fill="#000" >minus</text>
<text x="1027.2" y="1746.8" font-size="25.7" text-anchor="middle" fill="#000" >static</text>
<text x="1199.0" y="1684.0" font-size="25.7" text-anchor="middle">20 dyne/cm<tspan dy="-6.0">2</tspan></text>
<text x="1199.0" y="1715.8" font-size="25.7" text-anchor="middle" fill="#000" >minus</text>
<text x="1199.0" y="1746.8" font-size="25.7" text-anchor="middle" fill="#000" >static</text>
<path d="M1675.7,1365.7 L1676.40,1365.7 L1676.40,1366.7 L1676.40,1367.7 L1676.40,1368.7 L1676.40,1369.7 L1676.40,1370.7 L1676.40,1371.7 L1676.40,1372.7 L1676.40,1373.7 L1676.40,1374.7 L1676.40,1375.7 L1676.40,1376.7 L1676.40,1377.7 L1676.40,1378.7 L1676.40,1379.7 L1676.40,1380.7 L1676.40,1381.7 L1676.40,1382.7 L1676.40,1383.7 L1676.40,1384.7 L1676.42,1385.7 L1676.49,1386.7 L1676.55,1387.7 L1676.62,1388.7 L1676.70,1389.7 L1676.77,1390.7 L1676.85,1391.7 L1676.92,1392.7 L1677.00,1393.7 L1677.08,1394.7 L1677.16,1395.7 L1677.25,1396.7 L1677.33,1397.7 L1677.41,1398.7 L1677.50,1399.7 L1677.59,1400.7 L1677.70,1401.7 L1677.81,1402.7 L1677.94,1403.7 L1678.07,1404.7 L1678.22,1405.7 L1678.38,1406.7 L1678.54,1407.7 L1678.72,1408.7 L1678.90,1409.7 L1679.10,1410.7 L1679.30,1411.7 L1679.51,1412.7 L1679.73,1413.7 L1679.95,1414.7 L1680.18,1415.7 L1680.42,1416.7 L1680.69,1417.7 L1681.00,1418.7 L1681.33,1419.7 L1681.68,1420.7 L1682.06,1421.7 L1682.46,1422.7 L1682.87,1423.7 L1683.30,1424.7 L1683.74,1425.7 L1684.18,1426.7 L1684.63,1427.7 L1685.09,1428.7 L1685.54,1429.7 L1685.99,1430.7 L1686.43,1431.7 L1686.86,1432.7 L1687.28,1433.7 L1687.72,1434.7 L1688.16,1435.7 L1688.61,1436.7 L1689.06,1437.7 L1689.51,1438.7 L1689.97,1439.7 L1690.43,1440.7 L1690.90,1441.7 L1691.36,1442.7 L1691.83,1443.7 L1692.29,1444.7 L1692.75,1445.7 L1693.22,1446.7 L1693.67,1447.7 L1694.13,1448.7 L1694.58,1449.7 L1695.02,1450.7 L1695.46,1451.7 L1695.89,1452.7 L1696.31,1453.7 L1696.74,1454.7 L1697.16,1455.7 L1697.58,1456.7 L1698.01,1457.7 L1698.44,1458.7 L1698.88,1459.7 L1699.32,1460.7 L1699.77,1461.7 L1700.23,1462.7 L1700.71,1463.7 L1701.20,1464.7 L1701.70,1465.7 L1702.22,1466.7 L1702.77,1467.7 L1703.35,1468.7 L1703.94,1469.7 L1704.56,1470.7 L1705.19,1471.7 L1705.82,1472.7 L1706.47,1473.7 L1707.11,1474.7 L1707.76,1475.7 L1708.40,1476.7 L1709.04,1477.7 L1709.66,1478.7 L1710.27,1479.7 L1710.85,1480.7 L1711.42,1481.7 L1711.98,1482.7 L1712.55,1483.7 L1712.59,1484.7 L1712.57,1485.7 L1712.53,1486.7 L1712.47,1487.7 L1712.39,1488.7 L1712.30,1489.7 L1712.20,1490.7 L1712.08,1491.7 L1711.95,1492.7 L1711.82,1493.7 L1711.67,1494.7 L1711.52,1495.7 L1711.37,1496.7 L1711.21,1497.7 L1711.05,1498.7 L1710.88,1499.7 L1710.67,1500.7 L1710.44,1501.7 L1710.17,1502.7 L1709.88,1503.7 L1709.56,1504.7 L1709.22,1505.7 L1708.86,1506.7 L1708.48,1507.7 L1708.09,1508.7 L1707.68,1509.7 L1707.26,1510.7 L1706.84,1511.7 L1706.41,1512.7 L1705.98,1513.7 L1705.54,1514.7 L1705.11,1515.7 L1704.66,1516.7 L1704.18,1517.7 L1703.68,1518.7 L1703.15,1519.7 L1702.60,1520.7 L1702.04,1521.7 L1701.46,1522.7 L1700.88,1523.7 L1700.28,1524.7 L1699.69,1525.7 L1699.10,1526.7 L1698.51,1527.7 L1697.93,1528.7 L1697.36,1529.7 L1696.80,1530.7 L1696.26,1531.7 L1695.73,1532.7 L1695.21,1533.7 L1694.68,1534.7 L1694.16,1535.7 L1693.64,1536.7 L1693.12,1537.7 L1692.60,1538.7 L1692.09,1539.7 L1691.58,1540.7 L1691.07,1541.7 L1690.58,1542.7 L1690.09,1543.7 L1689.60,1544.7 L1689.13,1545.7 L1688.66,1546.7 L1688.20,1547.7 L1687.76,1548.7 L1687.31,1549.7 L1686.87,1550.7 L1686.42,1551.7 L1685.98,1552.7 L1685.54,1553.7 L1685.11,1554.7 L1684.68,1555.7 L1684.26,1556.7 L1683.85,1557.7 L1683.45,1558.7 L1683.06,1559.7 L1682.68,1560.7 L1682.32,1561.7 L1681.98,1562.7 L1681.65,1563.7 L1681.35,1564.7 L1681.06,1565.7 L1680.77,1566.7 L1680.49,1567.7 L1680.22,1568.7 L1679.95,1569.7 L1679.68,1570.7 L1679.43,1571.7 L1679.18,1572.7 L1678.94,1573.7 L1678.71,1574.7 L1678.50,1575.7 L1678.29,1576.7 L1678.10,1577.7 L1677.93,1578.7 L1677.77,1579.7 L1677.63,1580.7 L1677.50,1581.7 L1677.39,1582.7 L1677.28,1583.7 L1677.17,1584.7 L1677.07,1585.7 L1676.97,1586.7 L1676.87,1587.7 L1676.78,1588.7 L1676.70,1589.7 L1676.62,1590.7 L1676.55,1591.7 L1676.48,1592.7 L1676.41,1593.7 L1676.40,1594.7 L1676.40,1595.7 L1676.40,1596.7 L1676.40,1597.7 L1676.40,1598.7 L1676.40,1599.7 L1676.40,1600.7 L1676.40,1601.7 L1676.40,1602.7 L1676.40,1603.7 L1676.40,1604.7 L1676.40,1605.7 L1676.40,1606.7 L1676.40,1607.7 L1676.40,1608.7 L1676.40,1609.7 L1676.40,1610.7 L1676.40,1611.7 L1676.40,1612.7 L1676.40,1613.7 L1676.40,1614.7 L1676.40,1615.7 L1676.40,1616.7 L1676.40,1617.7 L1676.40,1618.7 L1676.40,1619.7 L1676.40,1620.7 L1676.40,1621.7 L1676.40,1622.7 L1676.40,1623.7 L1676.40,1624.7 L1675.7,1624.7 Z" fill="#d5838f"/>
<path d="M1824.3,1392.2 L1825.00,1392.2 L1825.00,1393.2 L1825.00,1394.2 L1825.00,1395.2 L1825.00,1396.2 L1825.00,1397.2 L1825.00,1398.2 L1825.00,1399.2 L1825.00,1400.2 L1825.00,1401.2 L1825.00,1402.2 L1825.00,1403.2 L1825.00,1404.2 L1825.00,1405.2 L1825.00,1406.2 L1825.00,1407.2 L1825.00,1408.2 L1825.03,1409.2 L1825.12,1410.2 L1825.21,1411.2 L1825.30,1412.2 L1825.39,1413.2 L1825.49,1414.2 L1825.59,1415.2 L1825.70,1416.2 L1825.84,1417.2 L1826.05,1418.2 L1826.32,1419.2 L1826.65,1420.2 L1827.02,1421.2 L1827.44,1422.2 L1827.89,1423.2 L1828.37,1424.2 L1828.87,1425.2 L1829.39,1426.2 L1829.92,1427.2 L1830.45,1428.2 L1830.99,1429.2 L1831.51,1430.2 L1832.03,1431.2 L1832.52,1432.2 L1832.99,1433.2 L1833.45,1434.2 L1833.92,1435.2 L1834.39,1436.2 L1834.86,1437.2 L1835.34,1438.2 L1835.83,1439.2 L1836.32,1440.2 L1836.81,1441.2 L1837.31,1442.2 L1837.82,1443.2 L1838.34,1444.2 L1838.86,1445.2 L1839.39,1446.2 L1839.94,1447.2 L1840.48,1448.2 L1841.04,1449.2 L1841.62,1450.2 L1842.23,1451.2 L1842.86,1452.2 L1843.51,1453.2 L1844.18,1454.2 L1844.86,1455.2 L1845.55,1456.2 L1846.24,1457.2 L1846.93,1458.2 L1847.62,1459.2 L1848.30,1460.2 L1848.96,1461.2 L1849.61,1462.2 L1850.24,1463.2 L1850.84,1464.2 L1851.42,1465.2 L1851.96,1466.2 L1852.49,1467.2 L1853.01,1468.2 L1853.52,1469.2 L1854.02,1470.2 L1854.52,1471.2 L1855.00,1472.2 L1855.48,1473.2 L1855.94,1474.2 L1856.40,1475.2 L1856.84,1476.2 L1857.27,1477.2 L1857.69,1478.2 L1858.09,1479.2 L1858.49,1480.2 L1858.86,1481.2 L1859.23,1482.2 L1859.60,1483.2 L1859.99,1484.2 L1860.40,1485.2 L1860.79,1486.2 L1861.14,1487.2 L1861.44,1488.2 L1861.66,1489.2 L1861.78,1490.2 L1861.80,1491.2 L1861.76,1492.2 L1861.69,1493.2 L1861.59,1494.2 L1861.48,1495.2 L1861.34,1496.2 L1861.19,1497.2 L1861.03,1498.2 L1860.87,1499.2 L1860.66,1500.2 L1860.41,1501.2 L1860.11,1502.2 L1859.76,1503.2 L1859.37,1504.2 L1858.95,1505.2 L1858.50,1506.2 L1858.01,1507.2 L1857.51,1508.2 L1856.98,1509.2 L1856.44,1510.2 L1855.89,1511.2 L1855.34,1512.2 L1854.78,1513.2 L1854.22,1514.2 L1853.66,1515.2 L1853.11,1516.2 L1852.51,1517.2 L1851.88,1518.2 L1851.22,1519.2 L1850.53,1520.2 L1849.82,1521.2 L1849.10,1522.2 L1848.36,1523.2 L1847.61,1524.2 L1846.85,1525.2 L1846.10,1526.2 L1845.35,1527.2 L1844.61,1528.2 L1843.89,1529.2 L1843.18,1530.2 L1842.49,1531.2 L1841.84,1532.2 L1841.18,1533.2 L1840.52,1534.2 L1839.86,1535.2 L1839.19,1536.2 L1838.53,1537.2 L1837.87,1538.2 L1837.22,1539.2 L1836.57,1540.2 L1835.94,1541.2 L1835.33,1542.2 L1834.74,1543.2 L1834.17,1544.2 L1833.62,1545.2 L1833.11,1546.2 L1832.62,1547.2 L1832.17,1548.2 L1831.75,1549.2 L1831.34,1550.2 L1830.93,1551.2 L1830.54,1552.2 L1830.15,1553.2 L1829.77,1554.2 L1829.40,1555.2 L1829.05,1556.2 L1828.71,1557.2 L1828.39,1558.2 L1828.08,1559.2 L1827.79,1560.2 L1827.53,1561.2 L1827.29,1562.2 L1827.06,1563.2 L1826.87,1564.2 L1826.70,1565.2 L1826.55,1566.2 L1826.40,1567.2 L1826.26,1568.2 L1826.13,1569.2 L1826.01,1570.2 L1825.89,1571.2 L1825.78,1572.2 L1825.67,1573.2 L1825.57,1574.2 L1825.48,1575.2 L1825.39,1576.2 L1825.31,1577.2 L1825.23,1578.2 L1825.16,1579.2 L1825.09,1580.2 L1825.03,1581.2 L1825.00,1582.2 L1825.00,1583.2 L1825.00,1584.2 L1825.00,1585.2 L1825.00,1586.2 L1825.00,1587.2 L1825.00,1588.2 L1825.00,1589.2 L1825.00,1590.2 L1825.00,1591.2 L1825.00,1592.2 L1825.00,1593.2 L1825.00,1594.2 L1825.00,1595.2 L1825.00,1596.2 L1825.00,1597.2 L1825.00,1598.2 L1825.00,1599.2 L1825.00,1599.9 L1824.3,1599.9 Z" fill="#9b4d7a"/>
<line x1="1452.9" y1="1531.4" x2="1899.5" y2="1531.4" stroke="#000" stroke-width="1.5" />
<rect x="1673.2" y="1418.5" width="5" height="151.3" fill="#000"/>
<circle cx="1675.7" cy="1492.6" r="10" fill="#000"/>
<rect x="1821.8" y="1431.8" width="5" height="119.3" fill="#000"/>
<circle cx="1824.3" cy="1491.0" r="10" fill="#000"/>
<line x1="1452.9" y1="1350.0" x2="1452.9" y2="1639.9" stroke="#000" stroke-width="2" />
<line x1="1445.4" y1="1388.4" x2="1452.9" y2="1388.4" stroke="#000" stroke-width="2" />
<text x="1439.2" y="1396.6" font-size="20.0" text-anchor="end" fill="#000" >150</text>
<line x1="1445.4" y1="1435.9" x2="1452.9" y2="1435.9" stroke="#000" stroke-width="2" />
<text x="1439.2" y="1444.1" font-size="20.0" text-anchor="end" fill="#000" >100</text>
<line x1="1445.4" y1="1483.6" x2="1452.9" y2="1483.6" stroke="#000" stroke-width="2" />
<text x="1439.2" y="1491.8" font-size="20.0" text-anchor="end" fill="#000" >50</text>
<line x1="1445.4" y1="1531.4" x2="1452.9" y2="1531.4" stroke="#000" stroke-width="2" />
<text x="1439.2" y="1539.6" font-size="20.0" text-anchor="end" fill="#000" >0</text>
<line x1="1445.4" y1="1578.8" x2="1452.9" y2="1578.8" stroke="#000" stroke-width="2" />
<text x="1439.2" y="1587.0" font-size="20.0" text-anchor="end" fill="#000" >−50</text>
<line x1="1445.4" y1="1626.6" x2="1452.9" y2="1626.6" stroke="#000" stroke-width="2" />
<text x="1439.2" y="1634.8" font-size="20.0" text-anchor="end" fill="#000" >−100</text>
<line x1="1526.0" y1="1638.9" x2="1825.3" y2="1638.9" stroke="#000" stroke-width="2" />
<line x1="1527.0" y1="1638.9" x2="1527.0" y2="1647.4" stroke="#000" stroke-width="2" />
<line x1="1675.7" y1="1638.9" x2="1675.7" y2="1647.4" stroke="#000" stroke-width="2" />
<line x1="1824.3" y1="1638.9" x2="1824.3" y2="1647.4" stroke="#000" stroke-width="2" />
<text transform="translate(1365.1,1497.8) rotate(-90)" font-size="24.6" text-anchor="middle" fill="#000" >mean difference</text>
<text x="1686.6" y="1688.1" font-size="25.7" text-anchor="middle">6 dyne/cm<tspan dy="-6.0">2</tspan></text>
<text x="1686.6" y="1720.0" font-size="25.7" text-anchor="middle" fill="#000" >minus</text>
<text x="1686.6" y="1751.0" font-size="25.7" text-anchor="middle" fill="#000" >static</text>
<text x="1858.4" y="1688.1" font-size="25.7" text-anchor="middle">20 dyne/cm<tspan dy="-6.0">2</tspan></text>
<text x="1858.4" y="1720.0" font-size="25.7" text-anchor="middle" fill="#000" >minus</text>
<text x="1858.4" y="1751.0" font-size="25.7" text-anchor="middle" fill="#000" >static</text>
</svg>
</body></html>
